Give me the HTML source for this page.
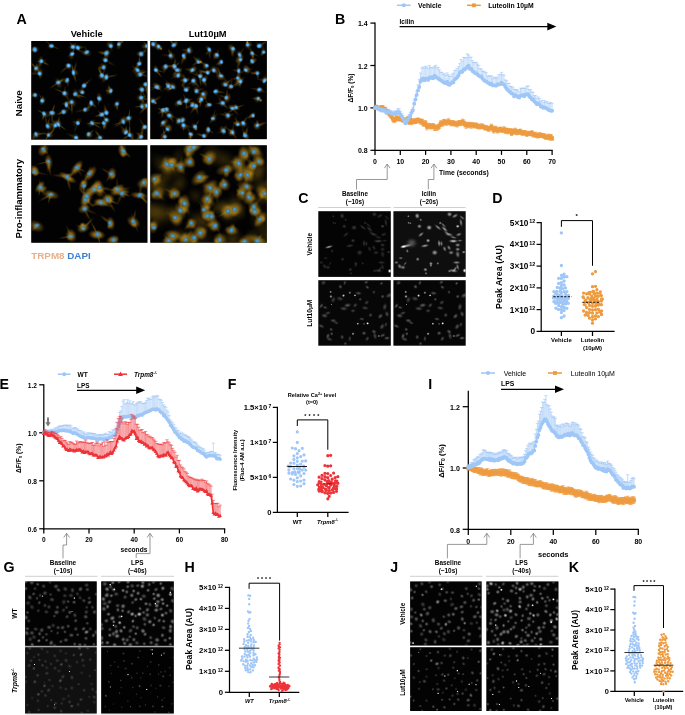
<!DOCTYPE html>
<html><head><meta charset="utf-8"><title>Figure</title>
<style>
html,body{margin:0;padding:0;background:#fff;}
body{width:685px;height:715px;overflow:hidden;}
svg{display:block;font-family:"Liberation Sans",sans-serif;will-change:transform;}
</style></head><body>
<svg width="685" height="715" viewBox="0 0 685 715">
<defs><radialGradient id="gw"><stop offset="0" stop-color="#fff" stop-opacity="1"/><stop offset="0.25" stop-color="#fff" stop-opacity="0.88"/><stop offset="0.5" stop-color="#fff" stop-opacity="0.5"/><stop offset="0.75" stop-color="#fff" stop-opacity="0.14"/><stop offset="1" stop-color="#fff" stop-opacity="0"/></radialGradient>
<radialGradient id="gn"><stop offset="0" stop-color="#86d2ff" stop-opacity="1"/><stop offset="0.35" stop-color="#52b0f4" stop-opacity="1"/><stop offset="0.6" stop-color="#3a92dc" stop-opacity="0.85"/><stop offset="0.8" stop-color="#2a74c0" stop-opacity="0.35"/><stop offset="1" stop-color="#2060a8" stop-opacity="0"/></radialGradient>
<radialGradient id="gn2"><stop offset="0" stop-color="#58a6d2" stop-opacity="1"/><stop offset="0.4" stop-color="#3c8cbe" stop-opacity="1"/><stop offset="0.65" stop-color="#347aa8" stop-opacity="0.8"/><stop offset="0.85" stop-color="#2c6890" stop-opacity="0.3"/><stop offset="1" stop-color="#285c80" stop-opacity="0"/></radialGradient>
<radialGradient id="go"><stop offset="0" stop-color="#e2a828" stop-opacity="1"/><stop offset="0.3" stop-color="#d09a24" stop-opacity="0.85"/><stop offset="0.6" stop-color="#b8861e" stop-opacity="0.5"/><stop offset="0.85" stop-color="#a07418" stop-opacity="0.15"/><stop offset="1" stop-color="#906814" stop-opacity="0"/></radialGradient>
<radialGradient id="go4"><stop offset="0" stop-color="#c4942a" stop-opacity="1"/><stop offset="0.35" stop-color="#ac801e" stop-opacity="0.85"/><stop offset="0.65" stop-color="#947015" stop-opacity="0.5"/><stop offset="0.88" stop-color="#806010" stop-opacity="0.15"/><stop offset="1" stop-color="#705410" stop-opacity="0"/></radialGradient>
<radialGradient id="go1"><stop offset="0" stop-color="#a87c18" stop-opacity="1"/><stop offset="0.4" stop-color="#94700f" stop-opacity="0.7"/><stop offset="0.75" stop-color="#80600f" stop-opacity="0.25"/><stop offset="1" stop-color="#705410" stop-opacity="0"/></radialGradient>
<clipPath id="c1"><rect x="31.2" y="41" width="116.3" height="98.7"/></clipPath>
<clipPath id="c2"><rect x="150.2" y="41" width="116.7" height="98.2"/></clipPath>
<clipPath id="c3"><rect x="31.2" y="145.2" width="116.3" height="97.6"/></clipPath>
<clipPath id="c4"><rect x="150.2" y="145.2" width="116.7" height="97.6"/></clipPath>
<clipPath id="c5"><rect x="318.3" y="211.2" width="72.5" height="65.7"/></clipPath>
<clipPath id="c6"><rect x="393.4" y="211.2" width="72.3" height="65.7"/></clipPath>
<clipPath id="c7"><rect x="318.3" y="280.2" width="72.5" height="65.5"/></clipPath>
<clipPath id="c8"><rect x="393.4" y="280.2" width="72.3" height="65.5"/></clipPath>
<clipPath id="c9"><rect x="25.1" y="581.4" width="71.6" height="64.4"/></clipPath>
<clipPath id="c10"><rect x="101.2" y="581.4" width="72.6" height="64.4"/></clipPath>
<clipPath id="c11"><rect x="25.1" y="647.3" width="71.6" height="66"/></clipPath>
<clipPath id="c12"><rect x="101.2" y="647.3" width="72.6" height="66"/></clipPath>
<clipPath id="c13"><rect x="410.1" y="581.4" width="71.6" height="64.2"/></clipPath>
<clipPath id="c14"><rect x="486.3" y="581.4" width="72.2" height="64.2"/></clipPath>
<clipPath id="c15"><rect x="410.1" y="647.2" width="71.6" height="63.8"/></clipPath>
<clipPath id="c16"><rect x="486.3" y="647.2" width="72.2" height="63.8"/></clipPath></defs>
<rect width="685" height="715" fill="#fff"/>
<text x="16.4" y="24.1" font-size="14.2" font-weight="bold" text-anchor="start" fill="#000">A</text>
<text x="86.7" y="36.8" font-size="9.3" font-weight="bold" text-anchor="middle" fill="#000">Vehicle</text>
<text x="207.6" y="36.8" font-size="9.3" font-weight="bold" text-anchor="middle" fill="#000">Lut10<tspan font-family="Liberation Serif" font-weight="bold">µ</tspan>M</text>
<text x="21.6" y="103.3" font-size="9.9" font-weight="bold" text-anchor="middle" fill="#000" transform="rotate(-90 21.6 103.3)">Naive</text>
<text x="21.9" y="198.7" font-size="9.6" font-weight="bold" text-anchor="middle" fill="#000" transform="rotate(-90 21.9 198.7)">Pro-inflammatory</text>
<text x="31.3" y="259.2" font-size="9.8" font-weight="bold"><tspan fill="#eab08a">TRPM8</tspan> <tspan fill="#3b7fd0">DAPI</tspan></text>
<rect x="31.2" y="41" width="116.3" height="98.7" fill="#020203"/>
<g clip-path="url(#c1)">
<g fill="url(#go1)"><ellipse cx="30.2" cy="50.3" rx="7.46" ry="1.54" transform="rotate(171.3 30.2 50.3)" opacity="0.28"/><ellipse cx="48.4" cy="43.2" rx="6.74" ry="1.15" transform="rotate(221.6 48.4 43.2)" opacity="0.23"/><ellipse cx="55.1" cy="47.4" rx="6.14" ry="1.18" transform="rotate(21.4 55.1 47.4)" opacity="0.3"/><ellipse cx="71.5" cy="44.8" rx="4.01" ry="1.37" transform="rotate(235.7 71.5 44.8)" opacity="0.39"/><ellipse cx="77.3" cy="49.4" rx="8.07" ry="1.24" transform="rotate(30 77.3 49.4)" opacity="0.45"/><ellipse cx="76.6" cy="47.6" rx="6.06" ry="1.5" transform="rotate(10.7 76.6 47.6)" opacity="0.26"/><ellipse cx="81.5" cy="47.3" rx="5.86" ry="1.36" transform="rotate(352.9 81.5 47.3)" opacity="0.25"/><ellipse cx="86.1" cy="49.7" rx="4.25" ry="1.03" transform="rotate(254.5 86.1 49.7)" opacity="0.36"/><ellipse cx="69.9" cy="55.3" rx="4.16" ry="1.2" transform="rotate(151.5 69.9 55.3)" opacity="0.31"/><ellipse cx="73.9" cy="49.2" rx="8.26" ry="1.28" transform="rotate(289.2 73.9 49.2)" opacity="0.49"/><ellipse cx="109.1" cy="44.6" rx="3.65" ry="1.73" transform="rotate(219.7 109.1 44.6)" opacity="0.34"/><ellipse cx="111.4" cy="48.4" rx="3.96" ry="1.56" transform="rotate(75.1 111.4 48.4)" opacity="0.23"/><ellipse cx="121.1" cy="42.8" rx="4.34" ry="1.72" transform="rotate(327 121.1 42.8)" opacity="0.3"/><ellipse cx="118.6" cy="41.4" rx="4.51" ry="1.82" transform="rotate(266.2 118.6 41.4)" opacity="0.29"/><ellipse cx="122.6" cy="40.8" rx="8.16" ry="1.53" transform="rotate(317.6 122.6 40.8)" opacity="0.35"/><ellipse cx="102.7" cy="52.7" rx="5.96" ry="1.81" transform="rotate(187.2 102.7 52.7)" opacity="0.51"/><ellipse cx="103.8" cy="53.5" rx="4.21" ry="1.58" transform="rotate(172.5 103.8 53.5)" opacity="0.41"/><ellipse cx="106.9" cy="55.5" rx="3.96" ry="1.8" transform="rotate(76.5 106.9 55.5)" opacity="0.45"/><ellipse cx="143.7" cy="51.9" rx="5.34" ry="1.85" transform="rotate(320.7 143.7 51.9)" opacity="0.42"/><ellipse cx="145.4" cy="44.3" rx="3.7" ry="1.43" transform="rotate(229 145.4 44.3)" opacity="0.44"/><ellipse cx="43.9" cy="60.6" rx="4.22" ry="1.31" transform="rotate(346.8 43.9 60.6)" opacity="0.25"/><ellipse cx="44.6" cy="62.9" rx="5.87" ry="1.75" transform="rotate(28 44.6 62.9)" opacity="0.5"/><ellipse cx="39" cy="61.2" rx="3.75" ry="1.03" transform="rotate(180 39 61.2)" opacity="0.42"/><ellipse cx="105.2" cy="56.9" rx="5.46" ry="1.51" transform="rotate(264.6 105.2 56.9)" opacity="0.36"/><ellipse cx="109.6" cy="62.7" rx="7.62" ry="1.66" transform="rotate(30.2 109.6 62.7)" opacity="0.24"/><ellipse cx="136" cy="67.5" rx="7.9" ry="1.14" transform="rotate(132.5 136 67.5)" opacity="0.41"/><ellipse cx="139.4" cy="60" rx="6.09" ry="1.31" transform="rotate(271.4 139.4 60)" opacity="0.5"/><ellipse cx="64.9" cy="68.9" rx="7.83" ry="1.52" transform="rotate(138.4 64.9 68.9)" opacity="0.32"/><ellipse cx="101.1" cy="67.8" rx="4.14" ry="1.81" transform="rotate(169.7 101.1 67.8)" opacity="0.47"/><ellipse cx="135.1" cy="68.1" rx="4.93" ry="1.6" transform="rotate(218.7 135.1 68.1)" opacity="0.31"/><ellipse cx="37.9" cy="70.6" rx="4.74" ry="1.06" transform="rotate(50.7 37.9 70.6)" opacity="0.41"/><ellipse cx="33.6" cy="65.7" rx="5.74" ry="1.58" transform="rotate(226.8 33.6 65.7)" opacity="0.46"/><ellipse cx="39.9" cy="76" rx="3.77" ry="1.68" transform="rotate(81.5 39.9 76)" opacity="0.39"/><ellipse cx="34.5" cy="73.6" rx="8.14" ry="1.87" transform="rotate(180.1 34.5 73.6)" opacity="0.27"/><ellipse cx="38.1" cy="69.1" rx="7.67" ry="1.21" transform="rotate(251.9 38.1 69.1)" opacity="0.35"/><ellipse cx="74.8" cy="68" rx="7.82" ry="1.82" transform="rotate(286.8 74.8 68)" opacity="0.36"/><ellipse cx="74.6" cy="76.8" rx="6.73" ry="1.63" transform="rotate(73.8 74.6 76.8)" opacity="0.47"/><ellipse cx="72.6" cy="68.6" rx="6.68" ry="1.2" transform="rotate(258.4 72.6 68.6)" opacity="0.49"/><ellipse cx="143.9" cy="75.4" rx="6.02" ry="1.31" transform="rotate(13.4 143.9 75.4)" opacity="0.35"/><ellipse cx="142.9" cy="73" rx="4.92" ry="1.21" transform="rotate(331.1 142.9 73)" opacity="0.48"/><ellipse cx="100.2" cy="72" rx="6.09" ry="1.39" transform="rotate(244 100.2 72)" opacity="0.48"/><ellipse cx="100.4" cy="71.7" rx="6.38" ry="1.66" transform="rotate(248.1 100.4 71.7)" opacity="0.36"/><ellipse cx="103.8" cy="72" rx="6.28" ry="1.5" transform="rotate(299.2 103.8 72)" opacity="0.28"/><ellipse cx="111.1" cy="76.2" rx="7.68" ry="1.47" transform="rotate(348.6 111.1 76.2)" opacity="0.4"/><ellipse cx="103.6" cy="76.5" rx="4.56" ry="1.45" transform="rotate(192.9 103.6 76.5)" opacity="0.4"/><ellipse cx="60.8" cy="81.4" rx="4.4" ry="1.41" transform="rotate(335.1 60.8 81.4)" opacity="0.5"/><ellipse cx="54.4" cy="85.2" rx="7.44" ry="1.23" transform="rotate(145.5 54.4 85.2)" opacity="0.37"/><ellipse cx="60.9" cy="80.6" rx="5.23" ry="1.82" transform="rotate(324.3 60.9 80.6)" opacity="0.5"/><ellipse cx="67.6" cy="83" rx="4.53" ry="1.6" transform="rotate(81.8 67.6 83)" opacity="0.32"/><ellipse cx="87.2" cy="82.7" rx="6.97" ry="1.04" transform="rotate(316.3 87.2 82.7)" opacity="0.41"/><ellipse cx="148.1" cy="81.1" rx="6.54" ry="1.22" transform="rotate(308.4 148.1 81.1)" opacity="0.44"/><ellipse cx="149.4" cy="81.6" rx="7.49" ry="1.29" transform="rotate(325 149.4 81.6)" opacity="0.32"/><ellipse cx="146.5" cy="89.2" rx="8.03" ry="1.87" transform="rotate(78.5 146.5 89.2)" opacity="0.49"/><ellipse cx="108.7" cy="92.4" rx="4.2" ry="1.6" transform="rotate(145 108.7 92.4)" opacity="0.23"/><ellipse cx="109.6" cy="88.3" rx="4.56" ry="1.79" transform="rotate(245.7 109.6 88.3)" opacity="0.51"/><ellipse cx="108.2" cy="90.8" rx="4.15" ry="1.66" transform="rotate(182 108.2 90.8)" opacity="0.37"/><ellipse cx="143.3" cy="93.1" rx="5.91" ry="1.12" transform="rotate(68.2 143.3 93.1)" opacity="0.28"/><ellipse cx="141.4" cy="92.3" rx="4.36" ry="1.59" transform="rotate(101.9 141.4 92.3)" opacity="0.4"/><ellipse cx="140.9" cy="87.2" rx="4.25" ry="1.09" transform="rotate(245.1 140.9 87.2)" opacity="0.26"/><ellipse cx="32.4" cy="95.8" rx="4.47" ry="1.65" transform="rotate(163.4 32.4 95.8)" opacity="0.35"/><ellipse cx="59.9" cy="91.1" rx="8.11" ry="1.18" transform="rotate(205.1 59.9 91.1)" opacity="0.4"/><ellipse cx="64.8" cy="89.9" rx="5.24" ry="1.26" transform="rotate(274.5 64.8 89.9)" opacity="0.26"/><ellipse cx="66.9" cy="97" rx="7.17" ry="1.81" transform="rotate(57.6 66.9 97)" opacity="0.27"/><ellipse cx="77.7" cy="96" rx="5.05" ry="1.77" transform="rotate(36.3 77.7 96)" opacity="0.52"/><ellipse cx="79.9" cy="95.6" rx="7.93" ry="1.25" transform="rotate(17.8 79.9 95.6)" opacity="0.51"/><ellipse cx="82.6" cy="88" rx="6.97" ry="1.85" transform="rotate(274.2 82.6 88)" opacity="0.23"/><ellipse cx="98.8" cy="101.5" rx="4.84" ry="1.31" transform="rotate(99.2 98.8 101.5)" opacity="0.39"/><ellipse cx="145.4" cy="98.9" rx="7.24" ry="1.81" transform="rotate(16.2 145.4 98.9)" opacity="0.27"/><ellipse cx="142.9" cy="100.9" rx="5.86" ry="1.44" transform="rotate(60.9 142.9 100.9)" opacity="0.41"/><ellipse cx="143.4" cy="96.8" rx="3.88" ry="1.38" transform="rotate(340.3 143.4 96.8)" opacity="0.38"/><ellipse cx="42.6" cy="98.4" rx="3.73" ry="1.52" transform="rotate(278.1 42.6 98.4)" opacity="0.41"/><ellipse cx="40.9" cy="97.5" rx="5.56" ry="1.06" transform="rotate(246.4 40.9 97.5)" opacity="0.32"/><ellipse cx="71.8" cy="107.3" rx="8.27" ry="1.46" transform="rotate(87.7 71.8 107.3)" opacity="0.5"/><ellipse cx="67.3" cy="103" rx="7.07" ry="1.85" transform="rotate(168.6 67.3 103)" opacity="0.47"/><ellipse cx="68.4" cy="107.4" rx="5.34" ry="1.37" transform="rotate(50.3 68.4 107.4)" opacity="0.4"/><ellipse cx="93.5" cy="104.9" rx="4.74" ry="1.78" transform="rotate(41 93.5 104.9)" opacity="0.46"/><ellipse cx="117.1" cy="106.7" rx="4.51" ry="1.85" transform="rotate(89.6 117.1 106.7)" opacity="0.5"/><ellipse cx="142.1" cy="103.5" rx="4.94" ry="1.8" transform="rotate(272.1 142.1 103.5)" opacity="0.27"/><ellipse cx="144.9" cy="106.2" rx="4.73" ry="1.43" transform="rotate(353.3 144.9 106.2)" opacity="0.33"/><ellipse cx="138.7" cy="106.7" rx="5.22" ry="1.13" transform="rotate(178 138.7 106.7)" opacity="0.48"/><ellipse cx="143.8" cy="109.1" rx="7.49" ry="1.58" transform="rotate(132.8 143.8 109.1)" opacity="0.52"/><ellipse cx="143.9" cy="104.7" rx="5.16" ry="1.65" transform="rotate(197.5 143.9 104.7)" opacity="0.5"/><ellipse cx="80.4" cy="110.7" rx="7.51" ry="1.72" transform="rotate(166.9 80.4 110.7)" opacity="0.23"/><ellipse cx="87.7" cy="107.9" rx="5.09" ry="1.53" transform="rotate(327.8 87.7 107.9)" opacity="0.43"/><ellipse cx="60.6" cy="113.1" rx="5.15" ry="1.53" transform="rotate(158.8 60.6 113.1)" opacity="0.49"/><ellipse cx="52.1" cy="117.7" rx="7.89" ry="1.33" transform="rotate(89.4 52.1 117.7)" opacity="0.33"/><ellipse cx="49.4" cy="114.8" rx="5.34" ry="1.35" transform="rotate(142.4 49.4 114.8)" opacity="0.28"/><ellipse cx="53.2" cy="109" rx="6.31" ry="1.48" transform="rotate(286.9 53.2 109)" opacity="0.47"/><ellipse cx="43.3" cy="116.3" rx="4.36" ry="1.04" transform="rotate(106.5 43.3 116.3)" opacity="0.47"/><ellipse cx="41" cy="112" rx="5.63" ry="1.28" transform="rotate(209.5 41 112)" opacity="0.39"/><ellipse cx="43.5" cy="116.9" rx="5.21" ry="1.11" transform="rotate(98.5 43.5 116.9)" opacity="0.32"/><ellipse cx="98.8" cy="115.4" rx="5.22" ry="1.32" transform="rotate(165.3 98.8 115.4)" opacity="0.46"/><ellipse cx="104" cy="117" rx="5.2" ry="1.43" transform="rotate(49.2 104 117)" opacity="0.46"/><ellipse cx="100.1" cy="112.9" rx="3.95" ry="1.06" transform="rotate(222.5 100.1 112.9)" opacity="0.45"/><ellipse cx="105.4" cy="109.1" rx="6.11" ry="1.7" transform="rotate(255.6 105.4 109.1)" opacity="0.35"/><ellipse cx="105.8" cy="123.7" rx="6.14" ry="1.77" transform="rotate(98.7 105.8 123.7)" opacity="0.37"/><ellipse cx="104.9" cy="124.1" rx="7.11" ry="1.15" transform="rotate(109.3 104.9 124.1)" opacity="0.5"/><ellipse cx="104" cy="126" rx="4.64" ry="1.63" transform="rotate(84.7 104 126)" opacity="0.4"/><ellipse cx="104.9" cy="125.8" rx="4.68" ry="1.26" transform="rotate(66.6 104.9 125.8)" opacity="0.28"/><ellipse cx="129.2" cy="114" rx="6.77" ry="1.1" transform="rotate(277.8 129.2 114)" opacity="0.48"/><ellipse cx="129.3" cy="121.5" rx="5.52" ry="1.13" transform="rotate(78.3 129.3 121.5)" opacity="0.46"/><ellipse cx="118.6" cy="123.2" rx="7.95" ry="1.23" transform="rotate(162 118.6 123.2)" opacity="0.35"/><ellipse cx="119.1" cy="124.2" rx="7.8" ry="1.68" transform="rotate(149.7 119.1 124.2)" opacity="0.27"/><ellipse cx="96.7" cy="123.2" rx="7.3" ry="1.72" transform="rotate(0.49 96.7 123.2)" opacity="0.48"/><ellipse cx="96.2" cy="125.5" rx="7.55" ry="1.25" transform="rotate(29.7 96.2 125.5)" opacity="0.44"/><ellipse cx="89.6" cy="123.4" rx="4.07" ry="1.42" transform="rotate(172.8 89.6 123.4)" opacity="0.51"/><ellipse cx="75.1" cy="122.4" rx="4.6" ry="1.47" transform="rotate(195.6 75.1 122.4)" opacity="0.27"/><ellipse cx="76.1" cy="127.5" rx="7.59" ry="1.28" transform="rotate(112.1 76.1 127.5)" opacity="0.25"/><ellipse cx="48.6" cy="121.8" rx="7.18" ry="1.12" transform="rotate(282.4 48.6 121.8)" opacity="0.36"/><ellipse cx="46.4" cy="121.5" rx="7.75" ry="1.42" transform="rotate(256.2 46.4 121.5)" opacity="0.31"/><ellipse cx="52.3" cy="124.4" rx="5.4" ry="1.27" transform="rotate(194.3 52.3 124.4)" opacity="0.33"/><ellipse cx="53.9" cy="122.3" rx="5.48" ry="1.24" transform="rotate(240 53.9 122.3)" opacity="0.29"/><ellipse cx="53.5" cy="129.2" rx="7.11" ry="1.82" transform="rotate(118.6 53.5 129.2)" opacity="0.39"/><ellipse cx="59.3" cy="127" rx="4.46" ry="1.05" transform="rotate(69.5 59.3 127)" opacity="0.36"/><ellipse cx="61.8" cy="126.9" rx="6.98" ry="1.05" transform="rotate(36.2 61.8 126.9)" opacity="0.52"/><ellipse cx="58.7" cy="120.9" rx="5.68" ry="1.31" transform="rotate(277.6 58.7 120.9)" opacity="0.47"/><ellipse cx="142.8" cy="128.4" rx="3.67" ry="1.61" transform="rotate(144.3 142.8 128.4)" opacity="0.51"/><ellipse cx="142.2" cy="123.1" rx="7.39" ry="1.54" transform="rotate(237.7 142.2 123.1)" opacity="0.23"/><ellipse cx="142.9" cy="129.8" rx="5.19" ry="1.57" transform="rotate(123.2 142.9 129.8)" opacity="0.26"/><ellipse cx="33.7" cy="137.3" rx="6.23" ry="1.45" transform="rotate(126.9 33.7 137.3)" opacity="0.27"/><ellipse cx="40.4" cy="133.8" rx="7.02" ry="1.46" transform="rotate(355.2 40.4 133.8)" opacity="0.44"/><ellipse cx="46.7" cy="138.1" rx="5.6" ry="1.1" transform="rotate(120.1 46.7 138.1)" opacity="0.48"/><ellipse cx="50.7" cy="133" rx="4.88" ry="1.4" transform="rotate(317.9 50.7 133)" opacity="0.44"/><ellipse cx="45.8" cy="133.8" rx="4.75" ry="1.48" transform="rotate(205 45.8 133.8)" opacity="0.25"/><ellipse cx="91" cy="132.3" rx="4.99" ry="1.22" transform="rotate(322.9 91 132.3)" opacity="0.4"/><ellipse cx="126.1" cy="129.7" rx="4.26" ry="1.74" transform="rotate(272.2 126.1 129.7)" opacity="0.49"/><ellipse cx="123.3" cy="129.2" rx="6.55" ry="1.67" transform="rotate(230.5 123.3 129.2)" opacity="0.27"/><ellipse cx="129.4" cy="133.1" rx="5.58" ry="1.47" transform="rotate(11.9 129.4 133.1)" opacity="0.26"/><ellipse cx="132.1" cy="138.4" rx="6.82" ry="1.84" transform="rotate(52.1 132.1 138.4)" opacity="0.4"/><ellipse cx="126.4" cy="137" rx="5.86" ry="1.55" transform="rotate(148.1 126.4 137)" opacity="0.43"/><ellipse cx="129.6" cy="130.5" rx="7.24" ry="1.43" transform="rotate(270.6 129.6 130.5)" opacity="0.52"/><ellipse cx="137.7" cy="138.7" rx="6.1" ry="1.04" transform="rotate(151.3 137.7 138.7)" opacity="0.49"/><ellipse cx="138.8" cy="134.7" rx="5.02" ry="1.39" transform="rotate(221.8 138.8 134.7)" opacity="0.34"/><ellipse cx="141.9" cy="133.7" rx="5.15" ry="1.77" transform="rotate(284.2 141.9 133.7)" opacity="0.48"/><ellipse cx="98" cy="134.5" rx="6.22" ry="1.82" transform="rotate(236.5 98 134.5)" opacity="0.48"/><ellipse cx="72" cy="135.9" rx="7.18" ry="1.79" transform="rotate(204 72 135.9)" opacity="0.26"/><ellipse cx="79.4" cy="141" rx="7.4" ry="1.48" transform="rotate(44.6 79.4 141)" opacity="0.51"/><ellipse cx="76.2" cy="140" rx="3.6" ry="1.27" transform="rotate(87.8 76.2 140)" opacity="0.32"/><ellipse cx="34.7" cy="49.6" rx="5.12" ry="3.92" transform="rotate(166.4 34.8 49.6)" opacity="0.54"/><ellipse cx="51.8" cy="46.2" rx="4.38" ry="3.88" transform="rotate(160.3 51.5 46)" opacity="0.49"/><ellipse cx="72.9" cy="47.2" rx="5.15" ry="3.69" transform="rotate(151.6 72.9 46.9)" opacity="0.52"/><ellipse cx="78.2" cy="47.2" rx="4.74" ry="2.98" transform="rotate(3.04 77.9 47.8)" opacity="0.63"/><ellipse cx="86.4" cy="53.2" rx="5.9" ry="3.37" transform="rotate(15.7 86.8 52.2)" opacity="0.59"/><ellipse cx="73.1" cy="54.6" rx="5.67" ry="3.21" transform="rotate(91.6 72.2 54)" opacity="0.5"/><ellipse cx="110" cy="47" rx="4.98" ry="4.48" transform="rotate(115.5 110.8 46)" opacity="0.45"/><ellipse cx="119.5" cy="43.5" rx="5.53" ry="3.1" transform="rotate(105.7 118.8 44.2)" opacity="0.49"/><ellipse cx="106.8" cy="52.7" rx="4.14" ry="4.69" transform="rotate(42.9 106.4 53.1)" opacity="0.6"/><ellipse cx="140.7" cy="54.1" rx="5.03" ry="3.33" transform="rotate(8.39 141.1 54)" opacity="0.64"/><ellipse cx="146" cy="46.8" rx="5.44" ry="3.12" transform="rotate(6.31 147 46)" opacity="0.57"/><ellipse cx="41.8" cy="62" rx="6.42" ry="3" transform="rotate(98.3 41.4 61.2)" opacity="0.58"/><ellipse cx="104.7" cy="59.8" rx="4.08" ry="2.99" transform="rotate(16.3 105.5 60.3)" opacity="0.5"/><ellipse cx="139.3" cy="64.1" rx="5.19" ry="3.29" transform="rotate(125.7 139.3 63.8)" opacity="0.63"/><ellipse cx="68.9" cy="66.2" rx="4.62" ry="3.63" transform="rotate(45.1 68.6 65.6)" opacity="0.59"/><ellipse cx="104.1" cy="68.3" rx="5.23" ry="4.45" transform="rotate(152.8 103.7 67.4)" opacity="0.46"/><ellipse cx="138.2" cy="70.3" rx="5.28" ry="4.14" transform="rotate(128.9 137.5 70.1)" opacity="0.47"/><ellipse cx="35.8" cy="67.7" rx="5.59" ry="3.93" transform="rotate(115.4 36 68.3)" opacity="0.59"/><ellipse cx="38.9" cy="72.6" rx="5.68" ry="3.24" transform="rotate(85.5 39.6 73.6)" opacity="0.51"/><ellipse cx="74.2" cy="71.7" rx="4.97" ry="3.71" transform="rotate(35.4 73.4 72.7)" opacity="0.53"/><ellipse cx="139.8" cy="75.3" rx="6.37" ry="3.88" transform="rotate(142.3 140.2 74.5)" opacity="0.61"/><ellipse cx="102.7" cy="75.3" rx="4.13" ry="3.87" transform="rotate(123.6 101.9 75.4)" opacity="0.65"/><ellipse cx="107.3" cy="77.9" rx="6.21" ry="3.34" transform="rotate(120.8 106.4 77.2)" opacity="0.55"/><ellipse cx="58.9" cy="82.6" rx="6.35" ry="3.84" transform="rotate(72.1 58.3 82.5)" opacity="0.52"/><ellipse cx="66.7" cy="80.6" rx="4.3" ry="3.65" transform="rotate(5.29 67.2 80.2)" opacity="0.64"/><ellipse cx="83.3" cy="85.8" rx="5.52" ry="3.06" transform="rotate(131.6 84.1 85.7)" opacity="0.46"/><ellipse cx="145.6" cy="83.7" rx="5.51" ry="3.88" transform="rotate(155.5 145.5 84.3)" opacity="0.45"/><ellipse cx="110" cy="91.6" rx="4.62" ry="4.24" transform="rotate(46.7 110.8 90.9)" opacity="0.5"/><ellipse cx="141.1" cy="89.8" rx="4.5" ry="2.99" transform="rotate(19.1 142 89.6)" opacity="0.52"/><ellipse cx="34.9" cy="95.3" rx="5.06" ry="3.53" transform="rotate(37.8 35.1 95)" opacity="0.4"/><ellipse cx="65.3" cy="93.8" rx="4.44" ry="3.83" transform="rotate(2.78 64.5 93.2)" opacity="0.57"/><ellipse cx="74.6" cy="93.5" rx="5.33" ry="3.56" transform="rotate(77.7 75.2 94.1)" opacity="0.44"/><ellipse cx="81.5" cy="92.3" rx="4.56" ry="3.63" transform="rotate(32.8 82.3 92.3)" opacity="0.52"/><ellipse cx="98.3" cy="97.9" rx="5.8" ry="3.34" transform="rotate(72.3 99.2 98.6)" opacity="0.49"/><ellipse cx="141" cy="98" rx="5.29" ry="4.47" transform="rotate(17.9 141.1 97.7)" opacity="0.53"/><ellipse cx="42.4" cy="100.3" rx="4.92" ry="3.4" transform="rotate(117.9 42.2 100.7)" opacity="0.58"/><ellipse cx="72.2" cy="101.6" rx="5.43" ry="4.23" transform="rotate(57.5 71.6 102.1)" opacity="0.58"/><ellipse cx="65.7" cy="103.9" rx="4.32" ry="4.04" transform="rotate(82 66.3 104.8)" opacity="0.53"/><ellipse cx="91.9" cy="102.3" rx="5.67" ry="3.55" transform="rotate(133.9 91.2 103)" opacity="0.47"/><ellipse cx="117.2" cy="104.1" rx="4.9" ry="3.37" transform="rotate(123.3 117 103.9)" opacity="0.55"/><ellipse cx="141.8" cy="106.8" rx="4.14" ry="2.97" transform="rotate(48.8 142 106.6)" opacity="0.42"/><ellipse cx="147.5" cy="105.6" rx="5.11" ry="4.42" transform="rotate(150.8 147 105.7)" opacity="0.58"/><ellipse cx="84.1" cy="108.8" rx="4.92" ry="3.04" transform="rotate(157.5 85 109.6)" opacity="0.54"/><ellipse cx="63.1" cy="112.2" rx="5.86" ry="3.48" transform="rotate(158.7 63.6 111.9)" opacity="0.48"/><ellipse cx="52" cy="112.2" rx="4.71" ry="3.87" transform="rotate(178.6 52 112.8)" opacity="0.64"/><ellipse cx="43.6" cy="112.7" rx="4.47" ry="4.3" transform="rotate(158.6 44 113.7)" opacity="0.52"/><ellipse cx="101.8" cy="115" rx="5.6" ry="3.04" transform="rotate(146.9 101.9 114.6)" opacity="0.52"/><ellipse cx="105.5" cy="112.7" rx="4.88" ry="2.86" transform="rotate(68 106.4 112.8)" opacity="0.53"/><ellipse cx="106.1" cy="119.3" rx="4.39" ry="4.27" transform="rotate(178.4 106.4 119.9)" opacity="0.44"/><ellipse cx="104.3" cy="122.8" rx="5.84" ry="2.89" transform="rotate(86.6 103.7 123.1)" opacity="0.44"/><ellipse cx="128.6" cy="117.7" rx="4.79" ry="3.9" transform="rotate(147.1 128.6 118.1)" opacity="0.62"/><ellipse cx="122.4" cy="122.6" rx="5.94" ry="4.33" transform="rotate(141.8 123.3 121.7)" opacity="0.62"/><ellipse cx="92.4" cy="123.2" rx="5.97" ry="3.11" transform="rotate(133.5 92.1 123.1)" opacity="0.4"/><ellipse cx="77.7" cy="124" rx="6.09" ry="3.43" transform="rotate(142.1 77.9 123.1)" opacity="0.41"/><ellipse cx="48" cy="125.4" rx="5.16" ry="4.22" transform="rotate(64.7 47.6 126.2)" opacity="0.49"/><ellipse cx="56" cy="126.1" rx="5.88" ry="4.49" transform="rotate(152 55.6 125.3)" opacity="0.43"/><ellipse cx="57.6" cy="123.6" rx="4.84" ry="4.43" transform="rotate(16.6 58.3 124.4)" opacity="0.57"/><ellipse cx="145" cy="127" rx="4.38" ry="3.25" transform="rotate(26.6 144.7 127)" opacity="0.63"/><ellipse cx="36.2" cy="133.5" rx="5.26" ry="4.36" transform="rotate(148.5 36 134.2)" opacity="0.59"/><ellipse cx="47.9" cy="134.2" rx="4.52" ry="4.66" transform="rotate(112.9 48.5 135.1)" opacity="0.45"/><ellipse cx="88.2" cy="133.5" rx="4.45" ry="4.28" transform="rotate(161.5 88.6 134.2)" opacity="0.63"/><ellipse cx="125" cy="131.8" rx="4.49" ry="3.9" transform="rotate(13.7 126 132.4)" opacity="0.65"/><ellipse cx="130.4" cy="134.2" rx="4.85" ry="3.11" transform="rotate(43.9 129.5 135.1)" opacity="0.59"/><ellipse cx="141.2" cy="137.7" rx="6.08" ry="3.63" transform="rotate(78.1 141.1 136.8)" opacity="0.53"/><ellipse cx="101.1" cy="137.7" rx="6.06" ry="3.32" transform="rotate(157.1 100.1 137.7)" opacity="0.42"/><ellipse cx="76.2" cy="137.9" rx="5.79" ry="4.52" transform="rotate(66.4 76.1 137.7)" opacity="0.43"/></g>
<g fill="url(#gn)"><ellipse cx="34.8" cy="49.6" rx="3.61" ry="2.99" transform="rotate(71.5 34.8 49.6)" opacity="0.88"/><ellipse cx="51.5" cy="46" rx="3.29" ry="2.41" transform="rotate(5.6 51.5 46)" opacity="0.98"/><ellipse cx="72.9" cy="46.9" rx="3" ry="2.75" transform="rotate(168.1 72.9 46.9)" opacity="1"/><ellipse cx="77.9" cy="47.8" rx="3.17" ry="2.53" transform="rotate(53.2 77.9 47.8)" opacity="0.99"/><ellipse cx="86.8" cy="52.2" rx="3.61" ry="2.53" transform="rotate(150.8 86.8 52.2)" opacity="0.88"/><ellipse cx="72.2" cy="54" rx="3.17" ry="2.51" transform="rotate(158.3 72.2 54)" opacity="1"/><ellipse cx="110.8" cy="46" rx="2.89" ry="2.85" transform="rotate(34.5 110.8 46)" opacity="0.98"/><ellipse cx="118.8" cy="44.2" rx="2.73" ry="2.46" transform="rotate(130.6 118.8 44.2)" opacity="0.88"/><ellipse cx="106.4" cy="53.1" rx="3.61" ry="3.03" transform="rotate(128.4 106.4 53.1)" opacity="0.84"/><ellipse cx="141.1" cy="54" rx="3.4" ry="3.08" transform="rotate(80.1 141.1 54)" opacity="0.83"/><ellipse cx="147" cy="46" rx="2.91" ry="2.61" transform="rotate(127.9 147 46)" opacity="0.86"/><ellipse cx="41.4" cy="61.2" rx="2.87" ry="2.56" transform="rotate(119.6 41.4 61.2)" opacity="0.96"/><ellipse cx="105.5" cy="60.3" rx="3.07" ry="2.87" transform="rotate(159.2 105.5 60.3)" opacity="0.93"/><ellipse cx="139.3" cy="63.8" rx="2.92" ry="2.6" transform="rotate(166.8 139.3 63.8)" opacity="0.94"/><ellipse cx="68.6" cy="65.6" rx="2.97" ry="2.86" transform="rotate(16.2 68.6 65.6)" opacity="1"/><ellipse cx="103.7" cy="67.4" rx="3.14" ry="2.77" transform="rotate(95.5 103.7 67.4)" opacity="0.83"/><ellipse cx="137.5" cy="70.1" rx="3.3" ry="2.59" transform="rotate(45.2 137.5 70.1)" opacity="0.96"/><ellipse cx="36" cy="68.3" rx="2.77" ry="2.59" transform="rotate(136 36 68.3)" opacity="0.86"/><ellipse cx="39.6" cy="73.6" rx="2.97" ry="2.79" transform="rotate(33.5 39.6 73.6)" opacity="0.98"/><ellipse cx="73.4" cy="72.7" rx="3.71" ry="2.4" transform="rotate(83.1 73.4 72.7)" opacity="0.96"/><ellipse cx="140.2" cy="74.5" rx="3.08" ry="3.07" transform="rotate(90 140.2 74.5)" opacity="0.85"/><ellipse cx="101.9" cy="75.4" rx="3.26" ry="2.86" transform="rotate(64.7 101.9 75.4)" opacity="0.94"/><ellipse cx="106.4" cy="77.2" rx="3.49" ry="2.76" transform="rotate(91 106.4 77.2)" opacity="0.97"/><ellipse cx="58.3" cy="82.5" rx="3.39" ry="2.77" transform="rotate(171.3 58.3 82.5)" opacity="0.85"/><ellipse cx="67.2" cy="80.2" rx="3.49" ry="2.5" transform="rotate(109.5 67.2 80.2)" opacity="0.86"/><ellipse cx="84.1" cy="85.7" rx="3.14" ry="2.95" transform="rotate(141.6 84.1 85.7)" opacity="0.96"/><ellipse cx="145.5" cy="84.3" rx="2.92" ry="2.74" transform="rotate(39.8 145.5 84.3)" opacity="0.92"/><ellipse cx="110.8" cy="90.9" rx="3.2" ry="2.41" transform="rotate(107.4 110.8 90.9)" opacity="0.95"/><ellipse cx="142" cy="89.6" rx="3.27" ry="3.03" transform="rotate(32.4 142 89.6)" opacity="0.85"/><ellipse cx="35.1" cy="95" rx="2.7" ry="2.75" transform="rotate(78.2 35.1 95)" opacity="0.9"/><ellipse cx="64.5" cy="93.2" rx="2.95" ry="2.97" transform="rotate(13.1 64.5 93.2)" opacity="0.98"/><ellipse cx="75.2" cy="94.1" rx="3.27" ry="2.78" transform="rotate(142.5 75.2 94.1)" opacity="0.86"/><ellipse cx="82.3" cy="92.3" rx="2.83" ry="2.61" transform="rotate(7.62 82.3 92.3)" opacity="0.88"/><ellipse cx="99.2" cy="98.6" rx="3.32" ry="2.77" transform="rotate(47.7 99.2 98.6)" opacity="0.93"/><ellipse cx="141.1" cy="97.7" rx="2.77" ry="2.99" transform="rotate(30.9 141.1 97.7)" opacity="0.87"/><ellipse cx="42.2" cy="100.7" rx="2.84" ry="2.89" transform="rotate(149.6 42.2 100.7)" opacity="0.96"/><ellipse cx="71.6" cy="102.1" rx="2.74" ry="2.69" transform="rotate(65.6 71.6 102.1)" opacity="0.86"/><ellipse cx="66.3" cy="104.8" rx="3.69" ry="2.41" transform="rotate(88.1 66.3 104.8)" opacity="0.96"/><ellipse cx="91.2" cy="103" rx="3.7" ry="2.49" transform="rotate(82 91.2 103)" opacity="0.95"/><ellipse cx="117" cy="103.9" rx="2.72" ry="2.56" transform="rotate(160.2 117 103.9)" opacity="0.85"/><ellipse cx="142" cy="106.6" rx="3.09" ry="2.6" transform="rotate(76.4 142 106.6)" opacity="0.83"/><ellipse cx="147" cy="105.7" rx="2.71" ry="3.12" transform="rotate(137.4 147 105.7)" opacity="0.95"/><ellipse cx="85" cy="109.6" rx="2.92" ry="2.57" transform="rotate(99.3 85 109.6)" opacity="0.86"/><ellipse cx="63.6" cy="111.9" rx="3.16" ry="3.07" transform="rotate(65.5 63.6 111.9)" opacity="0.88"/><ellipse cx="52" cy="112.8" rx="3.7" ry="2.83" transform="rotate(7.14 52 112.8)" opacity="0.89"/><ellipse cx="44" cy="113.7" rx="3.35" ry="2.42" transform="rotate(61.8 44 113.7)" opacity="0.95"/><ellipse cx="101.9" cy="114.6" rx="3.58" ry="2.82" transform="rotate(159.5 101.9 114.6)" opacity="0.9"/><ellipse cx="106.4" cy="112.8" rx="3.09" ry="3.01" transform="rotate(68.6 106.4 112.8)" opacity="0.96"/><ellipse cx="106.4" cy="119.9" rx="2.9" ry="2.64" transform="rotate(33 106.4 119.9)" opacity="0.92"/><ellipse cx="103.7" cy="123.1" rx="2.85" ry="2.53" transform="rotate(38.6 103.7 123.1)" opacity="0.9"/><ellipse cx="128.6" cy="118.1" rx="3" ry="2.71" transform="rotate(178.8 128.6 118.1)" opacity="0.94"/><ellipse cx="123.3" cy="121.7" rx="3.58" ry="2.53" transform="rotate(68.9 123.3 121.7)" opacity="0.83"/><ellipse cx="92.1" cy="123.1" rx="3.4" ry="2.65" transform="rotate(49.4 92.1 123.1)" opacity="0.82"/><ellipse cx="77.9" cy="123.1" rx="2.87" ry="2.58" transform="rotate(70.7 77.9 123.1)" opacity="0.99"/><ellipse cx="47.6" cy="126.2" rx="3.42" ry="2.58" transform="rotate(65 47.6 126.2)" opacity="0.85"/><ellipse cx="55.6" cy="125.3" rx="3.65" ry="2.65" transform="rotate(137.8 55.6 125.3)" opacity="0.95"/><ellipse cx="58.3" cy="124.4" rx="3.62" ry="2.4" transform="rotate(58 58.3 124.4)" opacity="0.89"/><ellipse cx="144.7" cy="127" rx="2.76" ry="3.04" transform="rotate(58.5 144.7 127)" opacity="0.96"/><ellipse cx="36" cy="134.2" rx="3.22" ry="2.42" transform="rotate(70.9 36 134.2)" opacity="0.86"/><ellipse cx="48.5" cy="135.1" rx="2.72" ry="2.49" transform="rotate(107.2 48.5 135.1)" opacity="0.83"/><ellipse cx="88.6" cy="134.2" rx="3" ry="2.7" transform="rotate(97.9 88.6 134.2)" opacity="0.84"/><ellipse cx="126" cy="132.4" rx="3.41" ry="2.57" transform="rotate(130.6 126 132.4)" opacity="0.94"/><ellipse cx="129.5" cy="135.1" rx="2.83" ry="2.53" transform="rotate(50.5 129.5 135.1)" opacity="0.95"/><ellipse cx="141.1" cy="136.8" rx="3.1" ry="2.67" transform="rotate(155.9 141.1 136.8)" opacity="0.86"/><ellipse cx="100.1" cy="137.7" rx="2.98" ry="2.64" transform="rotate(38.8 100.1 137.7)" opacity="0.83"/><ellipse cx="76.1" cy="137.7" rx="2.7" ry="2.85" transform="rotate(101.9 76.1 137.7)" opacity="0.97"/></g>
</g>
<rect x="150.2" y="41" width="116.7" height="98.2" fill="#020203"/>
<g clip-path="url(#c2)">
<g fill="url(#go)"><ellipse cx="149.7" cy="45.1" rx="5.92" ry="1.9" transform="rotate(165.7 149.7 45.1)" opacity="0.17"/><ellipse cx="151.6" cy="42.6" rx="3.61" ry="2.02" transform="rotate(224.7 151.6 42.6)" opacity="0.2"/><ellipse cx="160.7" cy="47.4" rx="3.67" ry="1.95" transform="rotate(21.9 160.7 47.4)" opacity="0.22"/><ellipse cx="171.9" cy="42" rx="5.79" ry="1.5" transform="rotate(240.5 171.9 42)" opacity="0.24"/><ellipse cx="171.5" cy="42.4" rx="5.55" ry="1.1" transform="rotate(230.7 171.5 42.4)" opacity="0.17"/><ellipse cx="185.8" cy="50.2" rx="4.91" ry="1.85" transform="rotate(184.1 185.8 50.2)" opacity="0.22"/><ellipse cx="189.9" cy="48.4" rx="3.7" ry="1.46" transform="rotate(296.1 189.9 48.4)" opacity="0.22"/><ellipse cx="207.7" cy="52.2" rx="4.93" ry="1.48" transform="rotate(122.3 207.7 52.2)" opacity="0.26"/><ellipse cx="209.6" cy="53.7" rx="6.68" ry="2.03" transform="rotate(86.4 209.6 53.7)" opacity="0.22"/><ellipse cx="217.6" cy="52.4" rx="4.25" ry="1.53" transform="rotate(286.2 217.6 52.4)" opacity="0.18"/><ellipse cx="215.2" cy="56.8" rx="4.02" ry="1.58" transform="rotate(129.9 215.2 56.8)" opacity="0.16"/><ellipse cx="232.7" cy="52.3" rx="5.86" ry="1.99" transform="rotate(94.6 232.7 52.3)" opacity="0.29"/><ellipse cx="232.3" cy="51.2" rx="4.18" ry="1.91" transform="rotate(104.9 232.3 51.2)" opacity="0.18"/><ellipse cx="249.8" cy="45.2" rx="3.61" ry="1.59" transform="rotate(9.81 249.8 45.2)" opacity="0.18"/><ellipse cx="248.4" cy="47.2" rx="4.1" ry="1.5" transform="rotate(72.1 248.4 47.2)" opacity="0.14"/><ellipse cx="246.9" cy="41.3" rx="5.65" ry="1.98" transform="rotate(258.8 246.9 41.3)" opacity="0.18"/><ellipse cx="262.8" cy="43.7" rx="6.83" ry="1.57" transform="rotate(327.8 262.8 43.7)" opacity="0.27"/><ellipse cx="252.9" cy="56.7" rx="5.8" ry="1.63" transform="rotate(76.3 252.9 56.7)" opacity="0.25"/><ellipse cx="255.3" cy="54.7" rx="5.69" ry="1.38" transform="rotate(25.8 255.3 54.7)" opacity="0.15"/><ellipse cx="250.9" cy="50.4" rx="4.8" ry="1.76" transform="rotate(247.2 250.9 50.4)" opacity="0.19"/><ellipse cx="262.2" cy="54" rx="3.63" ry="1.31" transform="rotate(129.7 262.2 54)" opacity="0.17"/><ellipse cx="169.6" cy="52.6" rx="5.4" ry="1.49" transform="rotate(254.2 169.6 52.6)" opacity="0.27"/><ellipse cx="170.8" cy="53.5" rx="3.78" ry="1.44" transform="rotate(278 170.8 53.5)" opacity="0.26"/><ellipse cx="166.5" cy="55.3" rx="6.45" ry="1.47" transform="rotate(187.7 166.5 55.3)" opacity="0.14"/><ellipse cx="182.6" cy="59.8" rx="6.49" ry="1.97" transform="rotate(102.8 182.6 59.8)" opacity="0.24"/><ellipse cx="185.7" cy="53.6" rx="5" ry="1.94" transform="rotate(314.3 185.7 53.6)" opacity="0.19"/><ellipse cx="241.7" cy="51.5" rx="6.44" ry="1.13" transform="rotate(300.9 241.7 51.5)" opacity="0.18"/><ellipse cx="238.9" cy="63.6" rx="6.69" ry="1.91" transform="rotate(112 238.9 63.6)" opacity="0.26"/><ellipse cx="252.7" cy="56.7" rx="7.13" ry="1.58" transform="rotate(278.5 252.7 56.7)" opacity="0.14"/><ellipse cx="196.1" cy="59.5" rx="5.42" ry="1.5" transform="rotate(228.8 196.1 59.5)" opacity="0.24"/><ellipse cx="195.6" cy="63.6" rx="5" ry="1.55" transform="rotate(149.4 195.6 63.6)" opacity="0.26"/><ellipse cx="219" cy="63.3" rx="4.43" ry="1.84" transform="rotate(152.3 219 63.3)" opacity="0.28"/><ellipse cx="203.6" cy="63.7" rx="5.74" ry="1.84" transform="rotate(211.3 203.6 63.7)" opacity="0.24"/><ellipse cx="170.1" cy="66.1" rx="7.03" ry="1.8" transform="rotate(355.2 170.1 66.1)" opacity="0.3"/><ellipse cx="164.8" cy="69.4" rx="4.9" ry="1.96" transform="rotate(107.3 164.8 69.4)" opacity="0.24"/><ellipse cx="174.9" cy="62.9" rx="5.74" ry="1.92" transform="rotate(275.5 174.9 62.9)" opacity="0.28"/><ellipse cx="176.9" cy="64.6" rx="4.83" ry="1.67" transform="rotate(320.2 176.9 64.6)" opacity="0.24"/><ellipse cx="174.4" cy="68.1" rx="5.57" ry="1.61" transform="rotate(214.5 174.4 68.1)" opacity="0.2"/><ellipse cx="175.5" cy="72.4" rx="4.72" ry="2.04" transform="rotate(127.7 175.5 72.4)" opacity="0.19"/><ellipse cx="158.5" cy="73.3" rx="6.69" ry="1.36" transform="rotate(51.1 158.5 73.3)" opacity="0.31"/><ellipse cx="159.5" cy="71" rx="5.91" ry="1.36" transform="rotate(15.4 159.5 71)" opacity="0.23"/><ellipse cx="216.3" cy="71.5" rx="4.42" ry="1.72" transform="rotate(24.2 216.3 71.5)" opacity="0.17"/><ellipse cx="215.8" cy="72.4" rx="4.59" ry="1.24" transform="rotate(43.9 215.8 72.4)" opacity="0.17"/><ellipse cx="236" cy="70.5" rx="4.46" ry="1.76" transform="rotate(189.4 236 70.5)" opacity="0.22"/><ellipse cx="248.9" cy="69.4" rx="5.01" ry="1.94" transform="rotate(348.2 248.9 69.4)" opacity="0.16"/><ellipse cx="242.2" cy="72" rx="6.61" ry="1.34" transform="rotate(151.5 242.2 72)" opacity="0.18"/><ellipse cx="254.3" cy="73.5" rx="4.97" ry="1.63" transform="rotate(176.5 254.3 73.5)" opacity="0.3"/><ellipse cx="257.8" cy="75.8" rx="4.13" ry="1.9" transform="rotate(82.1 257.8 75.8)" opacity="0.29"/><ellipse cx="253.1" cy="72.5" rx="6.95" ry="1.39" transform="rotate(190.2 253.1 72.5)" opacity="0.17"/><ellipse cx="189.1" cy="69.6" rx="5.36" ry="2" transform="rotate(187.1 189.1 69.6)" opacity="0.23"/><ellipse cx="203.3" cy="72.1" rx="6.91" ry="1.59" transform="rotate(187.9 203.3 72.1)" opacity="0.28"/><ellipse cx="203.5" cy="71.4" rx="6.83" ry="1.57" transform="rotate(197.9 203.5 71.4)" opacity="0.28"/><ellipse cx="210.1" cy="70.9" rx="4.94" ry="1.04" transform="rotate(324.1 210.1 70.9)" opacity="0.27"/><ellipse cx="219.9" cy="73.7" rx="3.89" ry="1.07" transform="rotate(244.7 219.9 73.7)" opacity="0.18"/><ellipse cx="219.3" cy="71.8" rx="7.06" ry="1.37" transform="rotate(249.3 219.3 71.8)" opacity="0.25"/><ellipse cx="224" cy="78.6" rx="6.57" ry="1.84" transform="rotate(41.3 224 78.6)" opacity="0.15"/><ellipse cx="179.9" cy="71.9" rx="6.31" ry="1.79" transform="rotate(296.6 179.9 71.9)" opacity="0.18"/><ellipse cx="174.6" cy="77" rx="6.32" ry="1.19" transform="rotate(156.1 174.6 77)" opacity="0.14"/><ellipse cx="197" cy="73.4" rx="6.74" ry="1.59" transform="rotate(223.9 197 73.4)" opacity="0.14"/><ellipse cx="196.7" cy="75" rx="5.84" ry="1.16" transform="rotate(201.3 196.7 75)" opacity="0.28"/><ellipse cx="200.4" cy="80.6" rx="6.91" ry="1.58" transform="rotate(86.1 200.4 80.6)" opacity="0.27"/><ellipse cx="185" cy="83.4" rx="4.83" ry="1.07" transform="rotate(96.3 185 83.4)" opacity="0.17"/><ellipse cx="183.7" cy="83" rx="4.95" ry="1.66" transform="rotate(121.4 183.7 83)" opacity="0.31"/><ellipse cx="184.2" cy="77.6" rx="4.73" ry="1.94" transform="rotate(248.4 184.2 77.6)" opacity="0.28"/><ellipse cx="190.6" cy="82.9" rx="5.52" ry="1.36" transform="rotate(140.4 190.6 82.9)" opacity="0.17"/><ellipse cx="196.2" cy="84" rx="6.91" ry="1.72" transform="rotate(48.5 196.2 84)" opacity="0.23"/><ellipse cx="202.2" cy="75.8" rx="7.16" ry="1.55" transform="rotate(246.3 202.2 75.8)" opacity="0.21"/><ellipse cx="205" cy="82.8" rx="5.01" ry="2" transform="rotate(72.1 205 82.8)" opacity="0.29"/><ellipse cx="235.5" cy="78.5" rx="3.76" ry="1.89" transform="rotate(169.9 235.5 78.5)" opacity="0.26"/><ellipse cx="242.3" cy="79.5" rx="4.49" ry="1.29" transform="rotate(309.5 242.3 79.5)" opacity="0.15"/><ellipse cx="240.1" cy="84.2" rx="4.19" ry="1.99" transform="rotate(97.9 240.1 84.2)" opacity="0.29"/><ellipse cx="237.1" cy="83.3" rx="6.01" ry="1.06" transform="rotate(153.5 237.1 83.3)" opacity="0.28"/><ellipse cx="260.5" cy="79.8" rx="6.62" ry="1.11" transform="rotate(192.9 260.5 79.8)" opacity="0.17"/><ellipse cx="265.3" cy="77.9" rx="4.66" ry="1.95" transform="rotate(285.8 265.3 77.9)" opacity="0.14"/><ellipse cx="267.5" cy="80" rx="4.8" ry="1.17" transform="rotate(345.6 267.5 80)" opacity="0.15"/><ellipse cx="229.7" cy="84.6" rx="6.89" ry="1.13" transform="rotate(359.5 229.7 84.6)" opacity="0.18"/><ellipse cx="228.2" cy="82.1" rx="6.11" ry="1.28" transform="rotate(318.8 228.2 82.1)" opacity="0.27"/><ellipse cx="231.5" cy="82.2" rx="6.79" ry="1.41" transform="rotate(275.5 231.5 82.2)" opacity="0.15"/><ellipse cx="235.2" cy="85.6" rx="6.81" ry="1.64" transform="rotate(348 235.2 85.6)" opacity="0.16"/><ellipse cx="166.1" cy="87.9" rx="4.74" ry="1.34" transform="rotate(141.3 166.1 87.9)" opacity="0.26"/><ellipse cx="170.5" cy="88.4" rx="4.3" ry="1.23" transform="rotate(149.1 170.5 88.4)" opacity="0.27"/><ellipse cx="169.5" cy="84" rx="7.14" ry="1.03" transform="rotate(222.4 169.5 84)" opacity="0.28"/><ellipse cx="153.8" cy="87.4" rx="4.87" ry="1.16" transform="rotate(172.1 153.8 87.4)" opacity="0.17"/><ellipse cx="153.8" cy="88.5" rx="5.39" ry="1.21" transform="rotate(153.9 153.8 88.5)" opacity="0.16"/><ellipse cx="159.3" cy="89.1" rx="5.2" ry="1.08" transform="rotate(40.8 159.3 89.1)" opacity="0.22"/><ellipse cx="184.1" cy="87.4" rx="5.3" ry="1.45" transform="rotate(230.8 184.1 87.4)" opacity="0.28"/><ellipse cx="199.8" cy="89.8" rx="5.71" ry="1.81" transform="rotate(338.5 199.8 89.8)" opacity="0.19"/><ellipse cx="219.6" cy="92" rx="6.58" ry="1.52" transform="rotate(7.95 219.6 92)" opacity="0.28"/><ellipse cx="199" cy="92.8" rx="6.86" ry="1.34" transform="rotate(198 199 92.8)" opacity="0.16"/><ellipse cx="204.6" cy="97" rx="5.18" ry="1.98" transform="rotate(63.3 204.6 97)" opacity="0.23"/><ellipse cx="262.2" cy="91" rx="5.16" ry="1.66" transform="rotate(23.8 262.2 91)" opacity="0.16"/><ellipse cx="255.5" cy="89.1" rx="5.98" ry="1.14" transform="rotate(188.3 255.5 89.1)" opacity="0.22"/><ellipse cx="203.6" cy="98.7" rx="3.81" ry="1.13" transform="rotate(341.4 203.6 98.7)" opacity="0.25"/><ellipse cx="200.6" cy="103.1" rx="5.9" ry="1.59" transform="rotate(100.8 200.6 103.1)" opacity="0.25"/><ellipse cx="226.8" cy="93.7" rx="6.45" ry="1.4" transform="rotate(277.5 226.8 93.7)" opacity="0.22"/><ellipse cx="222.8" cy="96.5" rx="5.76" ry="1.64" transform="rotate(198.1 222.8 96.5)" opacity="0.21"/><ellipse cx="255.5" cy="98.5" rx="4.46" ry="1.65" transform="rotate(180.6 255.5 98.5)" opacity="0.28"/><ellipse cx="151.2" cy="99" rx="4.85" ry="1.03" transform="rotate(228.1 151.2 99)" opacity="0.18"/><ellipse cx="156.7" cy="99.1" rx="6.48" ry="2.01" transform="rotate(328.5 156.7 99.1)" opacity="0.22"/><ellipse cx="150.7" cy="101.4" rx="4.08" ry="2.03" transform="rotate(176.5 150.7 101.4)" opacity="0.24"/><ellipse cx="180.3" cy="100.2" rx="4.09" ry="1.42" transform="rotate(299.6 180.3 100.2)" opacity="0.19"/><ellipse cx="182.9" cy="102.1" rx="6.18" ry="1.16" transform="rotate(355.1 182.9 102.1)" opacity="0.25"/><ellipse cx="188.9" cy="100" rx="4.48" ry="1.23" transform="rotate(346.6 188.9 100)" opacity="0.3"/><ellipse cx="184.9" cy="97.7" rx="5.16" ry="1.21" transform="rotate(246.5 184.9 97.7)" opacity="0.23"/><ellipse cx="186.3" cy="104.6" rx="6.25" ry="1.33" transform="rotate(88.7 186.3 104.6)" opacity="0.29"/><ellipse cx="207.4" cy="102.9" rx="4.31" ry="1.03" transform="rotate(223.7 207.4 102.9)" opacity="0.23"/><ellipse cx="220.6" cy="100" rx="5.81" ry="2.02" transform="rotate(235.4 220.6 100)" opacity="0.16"/><ellipse cx="224.9" cy="105.7" rx="5.55" ry="1.53" transform="rotate(49.8 224.9 105.7)" opacity="0.26"/><ellipse cx="219.5" cy="103.3" rx="5.06" ry="1.4" transform="rotate(175.5 219.5 103.3)" opacity="0.2"/><ellipse cx="188.9" cy="106.6" rx="5.93" ry="1.37" transform="rotate(160.6 188.9 106.6)" opacity="0.22"/><ellipse cx="190.9" cy="103.3" rx="4.07" ry="1.82" transform="rotate(233.4 190.9 103.3)" opacity="0.2"/><ellipse cx="195" cy="104.8" rx="4.18" ry="1.65" transform="rotate(348.6 195 104.8)" opacity="0.19"/><ellipse cx="196.9" cy="109.8" rx="6.26" ry="1.73" transform="rotate(76.5 196.9 109.8)" opacity="0.22"/><ellipse cx="193.4" cy="109.4" rx="6.84" ry="1.74" transform="rotate(127.7 193.4 109.4)" opacity="0.22"/><ellipse cx="235.3" cy="111.5" rx="6.79" ry="1.53" transform="rotate(48.1 235.3 111.5)" opacity="0.21"/><ellipse cx="232.8" cy="109.6" rx="6.22" ry="1.86" transform="rotate(146.4 232.8 109.6)" opacity="0.23"/><ellipse cx="239.9" cy="106.3" rx="6.42" ry="1.14" transform="rotate(343.7 239.9 106.3)" opacity="0.27"/><ellipse cx="232.5" cy="109.9" rx="6.85" ry="1.37" transform="rotate(145.8 232.5 109.9)" opacity="0.14"/><ellipse cx="167" cy="111.1" rx="6.5" ry="1.51" transform="rotate(14.1 167 111.1)" opacity="0.24"/><ellipse cx="160.4" cy="109.2" rx="4.42" ry="1.3" transform="rotate(198.6 160.4 109.2)" opacity="0.25"/><ellipse cx="162.5" cy="113.6" rx="5.58" ry="1.82" transform="rotate(98.2 162.5 113.6)" opacity="0.28"/><ellipse cx="163.1" cy="111.3" rx="6.4" ry="1.52" transform="rotate(149.7 163.1 111.3)" opacity="0.24"/><ellipse cx="162.5" cy="111.1" rx="7.19" ry="1.91" transform="rotate(156.2 162.5 111.1)" opacity="0.18"/><ellipse cx="165.8" cy="113.2" rx="6.57" ry="1.59" transform="rotate(212.8 165.8 113.2)" opacity="0.14"/><ellipse cx="172.5" cy="116.7" rx="5.61" ry="1.56" transform="rotate(21 172.5 116.7)" opacity="0.17"/><ellipse cx="171.2" cy="118.5" rx="5.79" ry="1.35" transform="rotate(56.8 171.2 118.5)" opacity="0.27"/><ellipse cx="230.8" cy="114.9" rx="4.5" ry="1.87" transform="rotate(347.9 230.8 114.9)" opacity="0.17"/><ellipse cx="224.2" cy="114.8" rx="6.2" ry="1.68" transform="rotate(189.9 224.2 114.8)" opacity="0.22"/><ellipse cx="226.3" cy="113.8" rx="3.86" ry="1.39" transform="rotate(222.7 226.3 113.8)" opacity="0.23"/><ellipse cx="249.9" cy="116.9" rx="5.51" ry="1.81" transform="rotate(154.7 249.9 116.9)" opacity="0.24"/><ellipse cx="211.3" cy="120.9" rx="4.59" ry="1.28" transform="rotate(124.7 211.3 120.9)" opacity="0.23"/><ellipse cx="215.1" cy="116" rx="5.38" ry="1.1" transform="rotate(311.9 215.1 116)" opacity="0.19"/><ellipse cx="214" cy="114.5" rx="6.61" ry="1.09" transform="rotate(285.8 214 114.5)" opacity="0.21"/><ellipse cx="164.8" cy="125.4" rx="5.31" ry="2.02" transform="rotate(57.2 164.8 125.4)" opacity="0.19"/><ellipse cx="177.3" cy="122.4" rx="3.86" ry="1.07" transform="rotate(137.5 177.3 122.4)" opacity="0.19"/><ellipse cx="181.9" cy="122.8" rx="4.25" ry="1.75" transform="rotate(105.4 181.9 122.8)" opacity="0.17"/><ellipse cx="183.6" cy="128" rx="4.39" ry="1.07" transform="rotate(87.5 183.6 128)" opacity="0.26"/><ellipse cx="187.4" cy="126.2" rx="6.44" ry="1.9" transform="rotate(13.4 187.4 126.2)" opacity="0.15"/><ellipse cx="196.8" cy="123.7" rx="5.46" ry="1.26" transform="rotate(299.7 196.8 123.7)" opacity="0.27"/><ellipse cx="235.5" cy="123.3" rx="4.09" ry="1.81" transform="rotate(205.4 235.5 123.3)" opacity="0.21"/><ellipse cx="236.6" cy="120.9" rx="5.87" ry="1.2" transform="rotate(250 236.6 120.9)" opacity="0.3"/><ellipse cx="244.8" cy="120.5" rx="4.86" ry="1.55" transform="rotate(301.4 244.8 120.5)" opacity="0.28"/><ellipse cx="260.1" cy="125.1" rx="4.34" ry="1.98" transform="rotate(356.8 260.1 125.1)" opacity="0.21"/><ellipse cx="257.4" cy="122.8" rx="4" ry="1.93" transform="rotate(269.2 257.4 122.8)" opacity="0.27"/><ellipse cx="261.6" cy="123.9" rx="6.99" ry="1.61" transform="rotate(341.4 261.6 123.9)" opacity="0.29"/><ellipse cx="164.9" cy="131.8" rx="5.88" ry="1.33" transform="rotate(134.7 164.9 131.8)" opacity="0.28"/><ellipse cx="210.8" cy="131.4" rx="4.68" ry="1.33" transform="rotate(35.8 210.8 131.4)" opacity="0.23"/><ellipse cx="220.4" cy="132.1" rx="5.45" ry="1.03" transform="rotate(160.8 220.4 132.1)" opacity="0.15"/><ellipse cx="224.9" cy="128.5" rx="4.45" ry="2" transform="rotate(299.1 224.9 128.5)" opacity="0.28"/><ellipse cx="229.6" cy="130.3" rx="5.79" ry="1.15" transform="rotate(215.8 229.6 130.3)" opacity="0.31"/><ellipse cx="233" cy="128" rx="7.08" ry="1.19" transform="rotate(277.1 233 128)" opacity="0.16"/><ellipse cx="234.3" cy="135.3" rx="5.53" ry="1.53" transform="rotate(58.6 234.3 135.3)" opacity="0.25"/><ellipse cx="190.5" cy="137.3" rx="5.07" ry="1.18" transform="rotate(92.6 190.5 137.3)" opacity="0.31"/><ellipse cx="189" cy="130.6" rx="6.35" ry="1.25" transform="rotate(245 189 130.6)" opacity="0.21"/><ellipse cx="243.7" cy="132" rx="6.07" ry="1.96" transform="rotate(250 243.7 132)" opacity="0.14"/><ellipse cx="246.3" cy="131.5" rx="6.89" ry="1.53" transform="rotate(288.6 246.3 131.5)" opacity="0.22"/><ellipse cx="246.3" cy="132.4" rx="5.53" ry="2.04" transform="rotate(293.7 246.3 132.4)" opacity="0.15"/><ellipse cx="161.9" cy="138.4" rx="5.26" ry="1.05" transform="rotate(151.2 161.9 138.4)" opacity="0.28"/><ellipse cx="163.9" cy="132.7" rx="6.86" ry="1.24" transform="rotate(257.5 163.9 132.7)" opacity="0.24"/><ellipse cx="200.6" cy="134.9" rx="5.69" ry="1.68" transform="rotate(196.5 200.6 134.9)" opacity="0.31"/><ellipse cx="152.5" cy="43.3" rx="4.99" ry="3.96" transform="rotate(120 153.2 44.2)" opacity="0.41"/><ellipse cx="158.6" cy="47.2" rx="4.38" ry="3.81" transform="rotate(35.9 158.6 46.5)" opacity="0.48"/><ellipse cx="172.8" cy="44.5" rx="5.33" ry="3.05" transform="rotate(125.4 173.7 45.1)" opacity="0.51"/><ellipse cx="188.6" cy="50.1" rx="4.5" ry="4.48" transform="rotate(155.9 188.9 50.5)" opacity="0.39"/><ellipse cx="209" cy="49.8" rx="5.5" ry="2.82" transform="rotate(49.8 209.3 49.6)" opacity="0.34"/><ellipse cx="217" cy="55.8" rx="4.32" ry="4.16" transform="rotate(39.6 216.8 54.9)" opacity="0.53"/><ellipse cx="232.3" cy="49.3" rx="5.93" ry="3.98" transform="rotate(50.3 233 48.7)" opacity="0.44"/><ellipse cx="247.1" cy="44.3" rx="5.08" ry="4.03" transform="rotate(126.8 247.6 44.8)" opacity="0.39"/><ellipse cx="259.6" cy="45.3" rx="5.37" ry="3.46" transform="rotate(29 259.2 46)" opacity="0.34"/><ellipse cx="252.9" cy="53.5" rx="4.13" ry="3.4" transform="rotate(56.2 252.1 53.1)" opacity="0.45"/><ellipse cx="263.6" cy="53" rx="5.02" ry="2.86" transform="rotate(107 263.7 52.2)" opacity="0.35"/><ellipse cx="170.9" cy="55.1" rx="4.41" ry="4.44" transform="rotate(90.2 170.5 55.8)" opacity="0.43"/><ellipse cx="184.1" cy="55.1" rx="5.35" ry="3.07" transform="rotate(85.9 183.5 55.8)" opacity="0.44"/><ellipse cx="239.4" cy="54.7" rx="4.51" ry="3.5" transform="rotate(68.3 239.6 54.9)" opacity="0.51"/><ellipse cx="240.9" cy="60.7" rx="5.89" ry="3.95" transform="rotate(133.6 240.5 59.7)" opacity="0.53"/><ellipse cx="251.5" cy="60.5" rx="5.18" ry="2.83" transform="rotate(145.9 252.1 61.2)" opacity="0.51"/><ellipse cx="197.5" cy="61.1" rx="4.74" ry="3.67" transform="rotate(36 198.3 62)" opacity="0.36"/><ellipse cx="222" cy="62.7" rx="4.88" ry="3.5" transform="rotate(109.4 221.4 62)" opacity="0.36"/><ellipse cx="207.5" cy="66.1" rx="3.97" ry="4.01" transform="rotate(101.7 206.7 65.6)" opacity="0.47"/><ellipse cx="166.3" cy="66.3" rx="4.67" ry="3.95" transform="rotate(149.5 165.7 66.5)" opacity="0.47"/><ellipse cx="175.1" cy="67.1" rx="3.93" ry="3.17" transform="rotate(86.8 174.6 66.5)" opacity="0.5"/><ellipse cx="176.5" cy="70.2" rx="4.54" ry="3.38" transform="rotate(178.3 177.3 70.1)" opacity="0.44"/><ellipse cx="155.3" cy="69.7" rx="4.96" ry="3.07" transform="rotate(72 155.9 70.1)" opacity="0.41"/><ellipse cx="213.8" cy="69.6" rx="5.11" ry="4.34" transform="rotate(29.5 213.8 70.4)" opacity="0.4"/><ellipse cx="238.6" cy="70.7" rx="4.61" ry="3" transform="rotate(87 238.7 70.9)" opacity="0.39"/><ellipse cx="245.5" cy="69.1" rx="5.32" ry="4.07" transform="rotate(63.9 245.8 70.1)" opacity="0.53"/><ellipse cx="257" cy="72.6" rx="4.02" ry="2.85" transform="rotate(21 257.4 73.3)" opacity="0.36"/><ellipse cx="191.9" cy="70.1" rx="5.66" ry="3.77" transform="rotate(142.5 192.4 70.1)" opacity="0.53"/><ellipse cx="207.3" cy="73.4" rx="4.03" ry="3.31" transform="rotate(178.4 207.6 72.7)" opacity="0.35"/><ellipse cx="220.7" cy="76.5" rx="5.33" ry="4.57" transform="rotate(39.6 220.9 75.9)" opacity="0.49"/><ellipse cx="177.5" cy="75.3" rx="6.16" ry="4.28" transform="rotate(3.51 178.2 75.4)" opacity="0.43"/><ellipse cx="199.9" cy="75.9" rx="4.72" ry="2.93" transform="rotate(88.2 200.1 76.3)" opacity="0.45"/><ellipse cx="185.5" cy="80.9" rx="5.93" ry="2.91" transform="rotate(172.5 185.3 80.4)" opacity="0.55"/><ellipse cx="193.9" cy="80.1" rx="5.8" ry="3.98" transform="rotate(88.8 193.3 80.7)" opacity="0.37"/><ellipse cx="203.4" cy="79.4" rx="6.16" ry="2.96" transform="rotate(117 204 79.9)" opacity="0.35"/><ellipse cx="237.2" cy="77.7" rx="5.39" ry="3.02" transform="rotate(97.5 237.8 78.1)" opacity="0.46"/><ellipse cx="241.4" cy="82.4" rx="6.03" ry="4.53" transform="rotate(142.8 240.5 81.6)" opacity="0.44"/><ellipse cx="264.1" cy="80.2" rx="3.92" ry="4.1" transform="rotate(25.3 264.5 80.7)" opacity="0.43"/><ellipse cx="225.2" cy="85.6" rx="5.27" ry="4.12" transform="rotate(158.2 225.4 84.7)" opacity="0.42"/><ellipse cx="230.5" cy="87.3" rx="3.91" ry="2.91" transform="rotate(1.31 231.1 86.4)" opacity="0.48"/><ellipse cx="169.3" cy="85.6" rx="5.84" ry="3.58" transform="rotate(99.2 168.4 86.1)" opacity="0.33"/><ellipse cx="172.5" cy="86.2" rx="4.96" ry="3.41" transform="rotate(55.8 172.8 87)" opacity="0.42"/><ellipse cx="156.7" cy="86.2" rx="5.87" ry="3.43" transform="rotate(31 156.8 87)" opacity="0.52"/><ellipse cx="185.3" cy="91" rx="4.85" ry="2.89" transform="rotate(154.8 186.2 90)" opacity="0.48"/><ellipse cx="196" cy="91" rx="5.11" ry="3.67" transform="rotate(77 196.5 91.1)" opacity="0.36"/><ellipse cx="216" cy="90.6" rx="4.44" ry="3.64" transform="rotate(94.7 215.6 91.4)" opacity="0.36"/><ellipse cx="203.4" cy="93.4" rx="5.9" ry="4.56" transform="rotate(125.4 203.1 94.1)" opacity="0.53"/><ellipse cx="259" cy="89.2" rx="4.47" ry="3.87" transform="rotate(172.7 259.2 89.6)" opacity="0.4"/><ellipse cx="202" cy="100.3" rx="4.91" ry="4.49" transform="rotate(110.4 201.3 99.4)" opacity="0.34"/><ellipse cx="226.3" cy="96.8" rx="5.87" ry="4.16" transform="rotate(112.7 226.3 97.7)" opacity="0.46"/><ellipse cx="258.7" cy="99.2" rx="4.23" ry="4.24" transform="rotate(80.5 258.3 98.6)" opacity="0.39"/><ellipse cx="153.1" cy="101.4" rx="3.92" ry="4.52" transform="rotate(160.3 153.2 101.2)" opacity="0.43"/><ellipse cx="179.5" cy="102.1" rx="6.04" ry="3.79" transform="rotate(154.9 179.1 102.5)" opacity="0.38"/><ellipse cx="185.7" cy="100.7" rx="4.16" ry="3.82" transform="rotate(172.6 186.2 100.7)" opacity="0.48"/><ellipse cx="210.1" cy="104.8" rx="5.04" ry="3.25" transform="rotate(157.2 209.3 104.8)" opacity="0.44"/><ellipse cx="222.6" cy="103.6" rx="5.06" ry="3.91" transform="rotate(21.2 222.7 103)" opacity="0.41"/><ellipse cx="193.2" cy="104.3" rx="5.4" ry="4.12" transform="rotate(62.6 192.4 105.3)" opacity="0.54"/><ellipse cx="196.7" cy="105.9" rx="4.1" ry="3.17" transform="rotate(100.5 196 106)" opacity="0.54"/><ellipse cx="232.4" cy="107.6" rx="5.81" ry="3.35" transform="rotate(15.3 232.5 108.3)" opacity="0.44"/><ellipse cx="236.2" cy="107.1" rx="4.42" ry="3.2" transform="rotate(40.9 236 107.5)" opacity="0.53"/><ellipse cx="163.1" cy="110.5" rx="4.38" ry="2.77" transform="rotate(16 163 110.1)" opacity="0.53"/><ellipse cx="167.4" cy="108.3" rx="4.33" ry="2.77" transform="rotate(125 166.6 109.2)" opacity="0.51"/><ellipse cx="169.9" cy="115.6" rx="4.84" ry="4.01" transform="rotate(23.5 169.3 115.5)" opacity="0.47"/><ellipse cx="227.9" cy="115.9" rx="4.21" ry="4.56" transform="rotate(3.9 228 115.5)" opacity="0.46"/><ellipse cx="253.5" cy="116.2" rx="4.64" ry="2.85" transform="rotate(139.7 253 115.5)" opacity="0.48"/><ellipse cx="212.6" cy="118.1" rx="4.57" ry="3.97" transform="rotate(101 212.9 118.5)" opacity="0.35"/><ellipse cx="162.7" cy="121.7" rx="6.15" ry="3.34" transform="rotate(133.9 163 122.6)" opacity="0.53"/><ellipse cx="179.2" cy="121.6" rx="4.77" ry="3.36" transform="rotate(78.2 179.1 120.8)" opacity="0.49"/><ellipse cx="182.3" cy="120.1" rx="4.42" ry="4.21" transform="rotate(46.9 182.6 120.3)" opacity="0.52"/><ellipse cx="184.4" cy="125.5" rx="4.49" ry="4.1" transform="rotate(56.2 183.5 125.3)" opacity="0.48"/><ellipse cx="195.1" cy="127.3" rx="5.08" ry="3.22" transform="rotate(58.3 195.1 126.7)" opacity="0.39"/><ellipse cx="237.6" cy="123.8" rx="4.79" ry="3.84" transform="rotate(6.06 237.8 124.4)" opacity="0.53"/><ellipse cx="244.1" cy="122.7" rx="4.15" ry="4.53" transform="rotate(98.2 243.2 123.1)" opacity="0.43"/><ellipse cx="257.7" cy="126" rx="4.67" ry="4.25" transform="rotate(63 257.4 125.3)" opacity="0.54"/><ellipse cx="166.5" cy="128.2" rx="4.94" ry="4.32" transform="rotate(86.2 167.5 129.2)" opacity="0.53"/><ellipse cx="208.7" cy="130.2" rx="4.92" ry="3.23" transform="rotate(91.7 208.4 129.7)" opacity="0.48"/><ellipse cx="222.9" cy="131.7" rx="5.68" ry="3.67" transform="rotate(70.1 223.6 131)" opacity="0.44"/><ellipse cx="232.8" cy="132.8" rx="4.73" ry="4.4" transform="rotate(136 232.5 132.4)" opacity="0.54"/><ellipse cx="191.3" cy="133.5" rx="4.71" ry="3.13" transform="rotate(116.4 190.6 134.2)" opacity="0.54"/><ellipse cx="245.6" cy="134.7" rx="5.39" ry="3.26" transform="rotate(63.1 245 135.6)" opacity="0.47"/><ellipse cx="164" cy="136.2" rx="4.6" ry="3.56" transform="rotate(5.57 164.8 136.8)" opacity="0.34"/><ellipse cx="203.5" cy="136.2" rx="4.55" ry="3.45" transform="rotate(160.1 204 136)" opacity="0.34"/><ellipse cx="161" cy="48.8" rx="1.71" ry="1.68" transform="rotate(24.3 161 48.8)" opacity="0.73"/><ellipse cx="188.5" cy="49.9" rx="2.37" ry="1.39" transform="rotate(99 188.5 49.9)" opacity="0.67"/><ellipse cx="247.3" cy="42.7" rx="2" ry="1.48" transform="rotate(100.2 247.3 42.7)" opacity="0.99"/><ellipse cx="253" cy="53.8" rx="2.04" ry="1.46" transform="rotate(37.6 253 53.8)" opacity="0.85"/><ellipse cx="170.9" cy="54.9" rx="2.36" ry="1.32" transform="rotate(139.5 170.9 54.9)" opacity="0.96"/><ellipse cx="184.2" cy="57.5" rx="2.21" ry="2.01" transform="rotate(74.2 184.2 57.5)" opacity="0.85"/><ellipse cx="200.4" cy="62" rx="2.46" ry="1.92" transform="rotate(172.1 200.4 62)" opacity="0.87"/><ellipse cx="173.8" cy="65.3" rx="2.16" ry="2.05" transform="rotate(119.9 173.8 65.3)" opacity="0.78"/><ellipse cx="222.3" cy="76" rx="1.77" ry="1.79" transform="rotate(161.5 222.3 76)" opacity="0.74"/><ellipse cx="239.9" cy="79.9" rx="2.06" ry="2.19" transform="rotate(101.2 239.9 79.9)" opacity="0.69"/><ellipse cx="239" cy="81.3" rx="2.46" ry="1.46" transform="rotate(11.2 239 81.3)" opacity="0.96"/><ellipse cx="266.5" cy="79.6" rx="2.32" ry="1.41" transform="rotate(118.4 266.5 79.6)" opacity="0.67"/><ellipse cx="166.5" cy="83.9" rx="1.73" ry="1.86" transform="rotate(178 166.5 83.9)" opacity="0.6"/><ellipse cx="170.6" cy="88.5" rx="2.25" ry="1.94" transform="rotate(3.89 170.6 88.5)" opacity="0.75"/><ellipse cx="158" cy="88.3" rx="2.31" ry="2.16" transform="rotate(29.8 158 88.3)" opacity="0.77"/><ellipse cx="260.5" cy="89.8" rx="2.52" ry="1.32" transform="rotate(151.8 260.5 89.8)" opacity="0.77"/><ellipse cx="200" cy="101.6" rx="1.81" ry="1.74" transform="rotate(81.9 200 101.6)" opacity="0.91"/><ellipse cx="260.7" cy="100.3" rx="2.11" ry="1.88" transform="rotate(55.2 260.7 100.3)" opacity="0.66"/><ellipse cx="155.4" cy="102.9" rx="1.96" ry="1.99" transform="rotate(164.9 155.4 102.9)" opacity="0.69"/><ellipse cx="180.5" cy="103.7" rx="2.37" ry="1.82" transform="rotate(22.1 180.5 103.7)" opacity="0.94"/><ellipse cx="192.8" cy="103.9" rx="2.5" ry="1.94" transform="rotate(49.8 192.8 103.9)" opacity="0.76"/><ellipse cx="164.2" cy="108.9" rx="2.14" ry="1.64" transform="rotate(157.1 164.2 108.9)" opacity="0.8"/><ellipse cx="253.3" cy="116.3" rx="1.96" ry="2.05" transform="rotate(133.5 253.3 116.3)" opacity="0.95"/><ellipse cx="195.9" cy="128.8" rx="1.79" ry="1.79" transform="rotate(62.3 195.9 128.8)" opacity="0.77"/><ellipse cx="231" cy="132.6" rx="1.98" ry="1.4" transform="rotate(123.6 231 132.6)" opacity="0.66"/><ellipse cx="244.2" cy="133.7" rx="1.76" ry="1.93" transform="rotate(148.4 244.2 133.7)" opacity="0.86"/></g>
<g fill="url(#gn)"><ellipse cx="153.2" cy="44.2" rx="2.6" ry="2.9" transform="rotate(161.5 153.2 44.2)" opacity="0.96"/><ellipse cx="158.6" cy="46.5" rx="3.02" ry="2.5" transform="rotate(59.7 158.6 46.5)" opacity="0.97"/><ellipse cx="173.7" cy="45.1" rx="3.35" ry="2.67" transform="rotate(158.1 173.7 45.1)" opacity="0.89"/><ellipse cx="188.9" cy="50.5" rx="3.4" ry="2.39" transform="rotate(77 188.9 50.5)" opacity="0.87"/><ellipse cx="209.3" cy="49.6" rx="3.1" ry="2.41" transform="rotate(67.1 209.3 49.6)" opacity="0.95"/><ellipse cx="216.8" cy="54.9" rx="2.99" ry="2.51" transform="rotate(32 216.8 54.9)" opacity="0.94"/><ellipse cx="233" cy="48.7" rx="2.65" ry="2.89" transform="rotate(136.1 233 48.7)" opacity="0.93"/><ellipse cx="247.6" cy="44.8" rx="2.59" ry="2.61" transform="rotate(119.2 247.6 44.8)" opacity="0.96"/><ellipse cx="259.2" cy="46" rx="3.31" ry="2.91" transform="rotate(159 259.2 46)" opacity="1"/><ellipse cx="252.1" cy="53.1" rx="2.59" ry="2.34" transform="rotate(55.9 252.1 53.1)" opacity="0.87"/><ellipse cx="263.7" cy="52.2" rx="2.61" ry="2.47" transform="rotate(159.2 263.7 52.2)" opacity="0.84"/><ellipse cx="170.5" cy="55.8" rx="2.82" ry="2.42" transform="rotate(30.6 170.5 55.8)" opacity="0.83"/><ellipse cx="183.5" cy="55.8" rx="2.9" ry="2.57" transform="rotate(72.5 183.5 55.8)" opacity="0.91"/><ellipse cx="239.6" cy="54.9" rx="3.13" ry="2.25" transform="rotate(65.6 239.6 54.9)" opacity="0.87"/><ellipse cx="240.5" cy="59.7" rx="2.67" ry="2.65" transform="rotate(59.1 240.5 59.7)" opacity="0.83"/><ellipse cx="252.1" cy="61.2" rx="3.42" ry="2.49" transform="rotate(58.3 252.1 61.2)" opacity="0.91"/><ellipse cx="198.3" cy="62" rx="2.7" ry="2.43" transform="rotate(39.7 198.3 62)" opacity="0.87"/><ellipse cx="221.4" cy="62" rx="2.81" ry="2.37" transform="rotate(92 221.4 62)" opacity="0.95"/><ellipse cx="206.7" cy="65.6" rx="2.77" ry="2.42" transform="rotate(28.7 206.7 65.6)" opacity="0.95"/><ellipse cx="165.7" cy="66.5" rx="3.04" ry="2.84" transform="rotate(83.5 165.7 66.5)" opacity="0.88"/><ellipse cx="174.6" cy="66.5" rx="3.27" ry="2.75" transform="rotate(49.7 174.6 66.5)" opacity="0.94"/><ellipse cx="177.3" cy="70.1" rx="3.47" ry="2.64" transform="rotate(9.04 177.3 70.1)" opacity="0.88"/><ellipse cx="155.9" cy="70.1" rx="2.93" ry="2.61" transform="rotate(33.8 155.9 70.1)" opacity="1"/><ellipse cx="213.8" cy="70.4" rx="2.89" ry="2.6" transform="rotate(87.3 213.8 70.4)" opacity="0.92"/><ellipse cx="238.7" cy="70.9" rx="3.21" ry="2.32" transform="rotate(91.8 238.7 70.9)" opacity="0.94"/><ellipse cx="245.8" cy="70.1" rx="3" ry="2.35" transform="rotate(37.1 245.8 70.1)" opacity="0.92"/><ellipse cx="257.4" cy="73.3" rx="2.78" ry="2.63" transform="rotate(124.2 257.4 73.3)" opacity="0.82"/><ellipse cx="192.4" cy="70.1" rx="3.11" ry="2.41" transform="rotate(143.8 192.4 70.1)" opacity="0.91"/><ellipse cx="207.6" cy="72.7" rx="2.84" ry="2.59" transform="rotate(48.3 207.6 72.7)" opacity="0.97"/><ellipse cx="220.9" cy="75.9" rx="2.96" ry="2.34" transform="rotate(23.2 220.9 75.9)" opacity="0.89"/><ellipse cx="178.2" cy="75.4" rx="3.2" ry="2.66" transform="rotate(103 178.2 75.4)" opacity="0.9"/><ellipse cx="200.1" cy="76.3" rx="2.88" ry="2.71" transform="rotate(29.6 200.1 76.3)" opacity="0.95"/><ellipse cx="185.3" cy="80.4" rx="3.04" ry="2.83" transform="rotate(44.4 185.3 80.4)" opacity="0.97"/><ellipse cx="193.3" cy="80.7" rx="2.92" ry="2.78" transform="rotate(156.2 193.3 80.7)" opacity="0.95"/><ellipse cx="204" cy="79.9" rx="3.07" ry="2.93" transform="rotate(132.4 204 79.9)" opacity="0.99"/><ellipse cx="237.8" cy="78.1" rx="2.63" ry="2.34" transform="rotate(40.2 237.8 78.1)" opacity="0.85"/><ellipse cx="240.5" cy="81.6" rx="2.91" ry="2.67" transform="rotate(104.6 240.5 81.6)" opacity="0.99"/><ellipse cx="264.5" cy="80.7" rx="3.34" ry="2.37" transform="rotate(118.4 264.5 80.7)" opacity="0.95"/><ellipse cx="225.4" cy="84.7" rx="3.14" ry="2.76" transform="rotate(20.5 225.4 84.7)" opacity="0.85"/><ellipse cx="231.1" cy="86.4" rx="3" ry="2.57" transform="rotate(10.5 231.1 86.4)" opacity="0.84"/><ellipse cx="168.4" cy="86.1" rx="3.43" ry="2.88" transform="rotate(50.8 168.4 86.1)" opacity="0.93"/><ellipse cx="172.8" cy="87" rx="3.24" ry="2.38" transform="rotate(36.9 172.8 87)" opacity="0.83"/><ellipse cx="156.8" cy="87" rx="3.37" ry="2.78" transform="rotate(171.9 156.8 87)" opacity="0.89"/><ellipse cx="186.2" cy="90" rx="3.23" ry="2.73" transform="rotate(11.3 186.2 90)" opacity="0.95"/><ellipse cx="196.5" cy="91.1" rx="2.99" ry="2.81" transform="rotate(98.8 196.5 91.1)" opacity="0.87"/><ellipse cx="215.6" cy="91.4" rx="3.29" ry="2.62" transform="rotate(159.6 215.6 91.4)" opacity="0.93"/><ellipse cx="203.1" cy="94.1" rx="2.54" ry="2.67" transform="rotate(128.5 203.1 94.1)" opacity="0.89"/><ellipse cx="259.2" cy="89.6" rx="2.94" ry="2.54" transform="rotate(145 259.2 89.6)" opacity="0.92"/><ellipse cx="201.3" cy="99.4" rx="3.04" ry="2.78" transform="rotate(82 201.3 99.4)" opacity="0.99"/><ellipse cx="226.3" cy="97.7" rx="2.8" ry="2.63" transform="rotate(96.4 226.3 97.7)" opacity="0.87"/><ellipse cx="258.3" cy="98.6" rx="2.62" ry="2.66" transform="rotate(95.9 258.3 98.6)" opacity="0.82"/><ellipse cx="153.2" cy="101.2" rx="2.62" ry="2.69" transform="rotate(98.4 153.2 101.2)" opacity="0.94"/><ellipse cx="179.1" cy="102.5" rx="3.16" ry="2.88" transform="rotate(148.4 179.1 102.5)" opacity="0.84"/><ellipse cx="186.2" cy="100.7" rx="3.43" ry="2.9" transform="rotate(117 186.2 100.7)" opacity="0.97"/><ellipse cx="209.3" cy="104.8" rx="3.28" ry="2.31" transform="rotate(9.99 209.3 104.8)" opacity="0.88"/><ellipse cx="222.7" cy="103" rx="3" ry="2.67" transform="rotate(2.63 222.7 103)" opacity="0.95"/><ellipse cx="192.4" cy="105.3" rx="2.6" ry="2.91" transform="rotate(77.6 192.4 105.3)" opacity="0.85"/><ellipse cx="196" cy="106" rx="2.93" ry="2.65" transform="rotate(25.4 196 106)" opacity="0.98"/><ellipse cx="232.5" cy="108.3" rx="3.43" ry="2.24" transform="rotate(3.75 232.5 108.3)" opacity="0.85"/><ellipse cx="236" cy="107.5" rx="2.61" ry="2.46" transform="rotate(35.3 236 107.5)" opacity="0.85"/><ellipse cx="163" cy="110.1" rx="2.99" ry="2.93" transform="rotate(86.7 163 110.1)" opacity="0.85"/><ellipse cx="166.6" cy="109.2" rx="3.04" ry="2.65" transform="rotate(28.5 166.6 109.2)" opacity="0.84"/><ellipse cx="169.3" cy="115.5" rx="3.14" ry="2.84" transform="rotate(12.6 169.3 115.5)" opacity="0.88"/><ellipse cx="228" cy="115.5" rx="2.94" ry="2.66" transform="rotate(80.9 228 115.5)" opacity="0.87"/><ellipse cx="253" cy="115.5" rx="2.56" ry="2.33" transform="rotate(117.4 253 115.5)" opacity="0.91"/><ellipse cx="212.9" cy="118.5" rx="2.91" ry="2.46" transform="rotate(173.1 212.9 118.5)" opacity="0.87"/><ellipse cx="163" cy="122.6" rx="3.03" ry="2.47" transform="rotate(134.9 163 122.6)" opacity="0.84"/><ellipse cx="179.1" cy="120.8" rx="3.06" ry="2.79" transform="rotate(130.4 179.1 120.8)" opacity="0.87"/><ellipse cx="182.6" cy="120.3" rx="3.37" ry="2.47" transform="rotate(123.3 182.6 120.3)" opacity="0.84"/><ellipse cx="183.5" cy="125.3" rx="2.76" ry="2.88" transform="rotate(131.7 183.5 125.3)" opacity="0.96"/><ellipse cx="195.1" cy="126.7" rx="2.74" ry="2.82" transform="rotate(110.7 195.1 126.7)" opacity="0.96"/><ellipse cx="237.8" cy="124.4" rx="2.58" ry="2.44" transform="rotate(174.8 237.8 124.4)" opacity="0.96"/><ellipse cx="243.2" cy="123.1" rx="3.06" ry="2.58" transform="rotate(54.9 243.2 123.1)" opacity="1"/><ellipse cx="257.4" cy="125.3" rx="2.89" ry="2.31" transform="rotate(135 257.4 125.3)" opacity="0.85"/><ellipse cx="167.5" cy="129.2" rx="2.93" ry="2.29" transform="rotate(37.2 167.5 129.2)" opacity="0.87"/><ellipse cx="208.4" cy="129.7" rx="3.38" ry="2.57" transform="rotate(86.9 208.4 129.7)" opacity="0.9"/><ellipse cx="223.6" cy="131" rx="3.45" ry="2.75" transform="rotate(44.9 223.6 131)" opacity="0.88"/><ellipse cx="232.5" cy="132.4" rx="3.33" ry="2.26" transform="rotate(65.7 232.5 132.4)" opacity="0.9"/><ellipse cx="190.6" cy="134.2" rx="3.13" ry="2.39" transform="rotate(30.3 190.6 134.2)" opacity="0.95"/><ellipse cx="245" cy="135.6" rx="3.12" ry="2.74" transform="rotate(179.2 245 135.6)" opacity="0.86"/><ellipse cx="164.8" cy="136.8" rx="2.77" ry="2.6" transform="rotate(47.2 164.8 136.8)" opacity="0.86"/><ellipse cx="204" cy="136" rx="2.53" ry="2.93" transform="rotate(128 204 136)" opacity="0.91"/></g>
</g>
<rect x="31.2" y="145.2" width="116.3" height="97.6" fill="#020203"/>
<g clip-path="url(#c3)">
<g fill="url(#go)"><ellipse cx="45.3" cy="151.3" rx="4.98" ry="1.89" transform="rotate(45.5 45.3 151.3)" opacity="0.35"/><ellipse cx="46.5" cy="143.3" rx="10.8" ry="1.28" transform="rotate(300.4 46.5 143.3)" opacity="0.31"/><ellipse cx="126.4" cy="153.7" rx="6.68" ry="2.03" transform="rotate(42.2 126.4 153.7)" opacity="0.31"/><ellipse cx="120.9" cy="144.7" rx="10.7" ry="1.76" transform="rotate(248.7 120.9 144.7)" opacity="0.3"/><ellipse cx="121.7" cy="147.8" rx="5.61" ry="1.64" transform="rotate(243.7 121.7 147.8)" opacity="0.19"/><ellipse cx="43.3" cy="162.8" rx="8.57" ry="1.19" transform="rotate(166.9 43.3 162.8)" opacity="0.24"/><ellipse cx="49.5" cy="167.8" rx="10" ry="1.7" transform="rotate(81 49.5 167.8)" opacity="0.29"/><ellipse cx="48.4" cy="166.3" rx="7.47" ry="1.94" transform="rotate(91.3 48.4 166.3)" opacity="0.3"/><ellipse cx="73.7" cy="171.9" rx="8.35" ry="1.93" transform="rotate(129.4 73.7 171.9)" opacity="0.22"/><ellipse cx="79.1" cy="171.4" rx="6.57" ry="1.89" transform="rotate(59.2 79.1 171.4)" opacity="0.18"/><ellipse cx="80.5" cy="169.4" rx="6.15" ry="1.85" transform="rotate(24.9 80.5 169.4)" opacity="0.26"/><ellipse cx="40.3" cy="173.3" rx="9.91" ry="1.52" transform="rotate(12.9 40.3 173.3)" opacity="0.18"/><ellipse cx="29.2" cy="170.9" rx="8.16" ry="2.03" transform="rotate(191.8 29.2 170.9)" opacity="0.2"/><ellipse cx="87.2" cy="176.7" rx="6.02" ry="1.23" transform="rotate(126.3 87.2 176.7)" opacity="0.23"/><ellipse cx="89.6" cy="170.4" rx="5.32" ry="1.8" transform="rotate(272.9 89.6 170.4)" opacity="0.15"/><ellipse cx="109" cy="177.4" rx="6.55" ry="1.29" transform="rotate(125.1 109 177.4)" opacity="0.25"/><ellipse cx="106.8" cy="171.5" rx="8.31" ry="1.63" transform="rotate(210 106.8 171.5)" opacity="0.22"/><ellipse cx="68.5" cy="182.6" rx="9.61" ry="1.92" transform="rotate(77 68.5 182.6)" opacity="0.29"/><ellipse cx="60.7" cy="175.9" rx="10.4" ry="2.13" transform="rotate(187.2 60.7 175.9)" opacity="0.24"/><ellipse cx="147" cy="188.2" rx="10.4" ry="1.21" transform="rotate(60.1 147 188.2)" opacity="0.26"/><ellipse cx="85" cy="181.7" rx="6.41" ry="1.65" transform="rotate(282.5 85 181.7)" opacity="0.15"/><ellipse cx="83.9" cy="188.7" rx="4.98" ry="1.53" transform="rotate(93.2 83.9 188.7)" opacity="0.34"/><ellipse cx="105.3" cy="188.5" rx="9.79" ry="2.11" transform="rotate(10.5 105.3 188.5)" opacity="0.25"/><ellipse cx="102.7" cy="190.9" rx="7.8" ry="1.2" transform="rotate(45.1 102.7 190.9)" opacity="0.18"/><ellipse cx="97.6" cy="190.4" rx="5.72" ry="1.7" transform="rotate(19.3 97.6 190.4)" opacity="0.34"/><ellipse cx="90.3" cy="189.5" rx="6.34" ry="1.81" transform="rotate(175.1 90.3 189.5)" opacity="0.2"/><ellipse cx="99.2" cy="189.5" rx="7.98" ry="1.65" transform="rotate(3.45 99.2 189.5)" opacity="0.3"/><ellipse cx="39.7" cy="191.2" rx="6.16" ry="1.28" transform="rotate(102.1 39.7 191.2)" opacity="0.3"/><ellipse cx="42" cy="190.5" rx="5.55" ry="1.3" transform="rotate(64.2 42 190.5)" opacity="0.26"/><ellipse cx="40.1" cy="183.9" rx="5.65" ry="1.22" transform="rotate(264.7 40.1 183.9)" opacity="0.25"/><ellipse cx="113.8" cy="189.6" rx="5.27" ry="1.61" transform="rotate(172.2 113.8 189.6)" opacity="0.32"/><ellipse cx="123" cy="188.7" rx="9.51" ry="1.65" transform="rotate(355 123 188.7)" opacity="0.24"/><ellipse cx="117" cy="184.1" rx="8.19" ry="1.27" transform="rotate(269.9 117 184.1)" opacity="0.2"/><ellipse cx="120" cy="198.2" rx="8.57" ry="2.2" transform="rotate(112.8 120 198.2)" opacity="0.19"/><ellipse cx="125.5" cy="194.6" rx="5.91" ry="1.64" transform="rotate(20 125.5 194.6)" opacity="0.35"/><ellipse cx="49.6" cy="198.5" rx="6.63" ry="1.46" transform="rotate(107.1 49.6 198.5)" opacity="0.31"/><ellipse cx="45.9" cy="197.3" rx="9.09" ry="1.48" transform="rotate(150.4 45.9 197.3)" opacity="0.3"/><ellipse cx="143.1" cy="198.9" rx="8.07" ry="1.68" transform="rotate(49.3 143.1 198.9)" opacity="0.25"/><ellipse cx="144.2" cy="199.4" rx="9.85" ry="1.92" transform="rotate(45 144.2 199.4)" opacity="0.25"/><ellipse cx="140.5" cy="189.5" rx="8.98" ry="2.06" transform="rotate(277 140.5 189.5)" opacity="0.21"/><ellipse cx="83.3" cy="192.6" rx="8.18" ry="2.15" transform="rotate(226.8 83.3 192.6)" opacity="0.31"/><ellipse cx="88.8" cy="198.9" rx="5.81" ry="1.96" transform="rotate(344.4 88.8 198.9)" opacity="0.16"/><ellipse cx="89.1" cy="202.7" rx="7.57" ry="2.06" transform="rotate(37.1 89.1 202.7)" opacity="0.26"/><ellipse cx="110.9" cy="205.1" rx="9.89" ry="1.98" transform="rotate(57.5 110.9 205.1)" opacity="0.24"/><ellipse cx="112.4" cy="201.7" rx="8.21" ry="1.6" transform="rotate(20.5 112.4 201.7)" opacity="0.31"/><ellipse cx="96.1" cy="204.2" rx="8.32" ry="2.14" transform="rotate(161.2 96.1 204.2)" opacity="0.26"/><ellipse cx="105.6" cy="204.4" rx="7.85" ry="2" transform="rotate(21.6 105.6 204.4)" opacity="0.28"/><ellipse cx="87.6" cy="214.8" rx="10.6" ry="1.26" transform="rotate(63.9 87.6 214.8)" opacity="0.19"/><ellipse cx="86.3" cy="213.3" rx="7.66" ry="2.2" transform="rotate(69.9 86.3 213.3)" opacity="0.15"/><ellipse cx="89.8" cy="211.1" rx="9.1" ry="1.99" transform="rotate(24.4 89.8 211.1)" opacity="0.17"/><ellipse cx="135.5" cy="226.1" rx="8.62" ry="1.33" transform="rotate(63.1 135.5 226.1)" opacity="0.2"/><ellipse cx="134.2" cy="216.4" rx="7.94" ry="1.92" transform="rotate(283.4 134.2 216.4)" opacity="0.27"/><ellipse cx="132.5" cy="218" rx="5.27" ry="1.71" transform="rotate(259.9 132.5 218)" opacity="0.19"/><ellipse cx="105.9" cy="219.9" rx="8.16" ry="2.12" transform="rotate(218 105.9 219.9)" opacity="0.29"/><ellipse cx="34.7" cy="227.9" rx="5.46" ry="1.82" transform="rotate(131.3 34.7 227.9)" opacity="0.29"/><ellipse cx="87.6" cy="223.9" rx="9.95" ry="1.8" transform="rotate(314.6 87.6 223.9)" opacity="0.34"/><ellipse cx="80" cy="226.8" rx="5.73" ry="1.27" transform="rotate(206.6 80 226.8)" opacity="0.27"/><ellipse cx="65.9" cy="237.2" rx="7.92" ry="1.5" transform="rotate(170.4 65.9 237.2)" opacity="0.28"/><ellipse cx="68.8" cy="231.5" rx="8.41" ry="1.52" transform="rotate(248.3 68.8 231.5)" opacity="0.21"/><ellipse cx="94.7" cy="229" rx="9.42" ry="1.44" transform="rotate(242.3 94.7 229)" opacity="0.33"/><ellipse cx="98.8" cy="239" rx="7.89" ry="1.29" transform="rotate(74.3 98.8 239)" opacity="0.35"/><ellipse cx="117.2" cy="244.3" rx="9.19" ry="1.62" transform="rotate(49.8 117.2 244.3)" opacity="0.23"/><ellipse cx="111.1" cy="245.5" rx="9.69" ry="1.45" transform="rotate(113.2 111.1 245.5)" opacity="0.29"/><ellipse cx="114.1" cy="244" rx="6.5" ry="1.63" transform="rotate(81.9 114.1 244)" opacity="0.25"/><ellipse cx="43.8" cy="148.5" rx="7.43" ry="5.5" transform="rotate(123.1 43.1 149.1)" opacity="0.61"/><ellipse cx="44" cy="150.3" rx="4.86" ry="2.46" transform="rotate(95.6 44 150.3)" opacity="0.44"/><ellipse cx="122.6" cy="151.7" rx="7.45" ry="4.91" transform="rotate(78.6 123.3 150.9)" opacity="0.65"/><ellipse cx="123.6" cy="153.7" rx="4.38" ry="4.04" transform="rotate(120.7 123.6 153.7)" opacity="0.7"/><ellipse cx="48.7" cy="161.4" rx="8.59" ry="4.41" transform="rotate(82.7 48.5 161.6)" opacity="0.57"/><ellipse cx="47" cy="161.7" rx="3.57" ry="2.58" transform="rotate(66 47 161.7)" opacity="0.38"/><ellipse cx="77.2" cy="167.9" rx="9.64" ry="4.66" transform="rotate(127 77 167.8)" opacity="0.76"/><ellipse cx="78.9" cy="166.4" rx="3.58" ry="3.14" transform="rotate(155.1 78.9 166.4)" opacity="0.37"/><ellipse cx="33.4" cy="170.9" rx="6.46" ry="4.88" transform="rotate(61.8 34.2 171.9)" opacity="0.88"/><ellipse cx="35.4" cy="173" rx="3.66" ry="3.32" transform="rotate(13.9 35.4 173)" opacity="0.54"/><ellipse cx="88.8" cy="173" rx="9.81" ry="4.72" transform="rotate(128.6 89.4 173.7)" opacity="0.68"/><ellipse cx="90.1" cy="172.4" rx="4.06" ry="2.66" transform="rotate(139.1 90.1 172.4)" opacity="0.59"/><ellipse cx="111" cy="173.6" rx="7.13" ry="4.98" transform="rotate(99.8 111.3 174.1)" opacity="0.68"/><ellipse cx="113.1" cy="176.1" rx="3.25" ry="3.74" transform="rotate(39.3 113.1 176.1)" opacity="0.47"/><ellipse cx="68" cy="177.2" rx="10.6" ry="3.9" transform="rotate(30 67.2 176.7)" opacity="0.85"/><ellipse cx="69.4" cy="175" rx="4.73" ry="2.39" transform="rotate(167.7 69.4 175)" opacity="0.38"/><ellipse cx="143" cy="181.9" rx="9.02" ry="5.89" transform="rotate(161.6 143.8 182.6)" opacity="0.72"/><ellipse cx="144.5" cy="180.7" rx="3.74" ry="4" transform="rotate(53.6 144.5 180.7)" opacity="0.39"/><ellipse cx="83.4" cy="186.6" rx="6.69" ry="4.61" transform="rotate(112.9 84.1 185.6)" opacity="0.77"/><ellipse cx="83.2" cy="183" rx="3.07" ry="2.4" transform="rotate(73 83.2 183)" opacity="0.51"/><ellipse cx="100.2" cy="187.9" rx="10" ry="5.92" transform="rotate(74.9 99.2 187.4)" opacity="0.7"/><ellipse cx="99.1" cy="189.3" rx="5.3" ry="3.21" transform="rotate(34.9 99.1 189.3)" opacity="0.5"/><ellipse cx="93.4" cy="189.6" rx="10.3" ry="5.21" transform="rotate(130.4 94.3 189.2)" opacity="0.85"/><ellipse cx="93.9" cy="188.2" rx="4.34" ry="3.66" transform="rotate(122.6 93.9 188.2)" opacity="0.47"/><ellipse cx="40.3" cy="188.2" rx="7.26" ry="3.9" transform="rotate(126.1 40.5 187.4)" opacity="0.79"/><ellipse cx="42.7" cy="189.1" rx="5.37" ry="3.73" transform="rotate(149.6 42.7 189.1)" opacity="0.62"/><ellipse cx="117.1" cy="188.3" rx="8.84" ry="5.21" transform="rotate(144.9 117 189.2)" opacity="0.83"/><ellipse cx="115.5" cy="188.9" rx="3.94" ry="2.45" transform="rotate(37 115.5 188.9)" opacity="0.48"/><ellipse cx="121.4" cy="194.2" rx="7.72" ry="4.53" transform="rotate(174.3 122 193.3)" opacity="0.63"/><ellipse cx="122.9" cy="196.1" rx="3.19" ry="2.43" transform="rotate(23.1 122.9 196.1)" opacity="0.38"/><ellipse cx="50.8" cy="194.6" rx="9.68" ry="4.8" transform="rotate(14.5 50.8 194.5)" opacity="0.57"/><ellipse cx="50.2" cy="195.4" rx="5.08" ry="3.66" transform="rotate(135 50.2 195.4)" opacity="0.39"/><ellipse cx="139.1" cy="195.6" rx="9.99" ry="3.99" transform="rotate(8.47 139.8 195.1)" opacity="0.58"/><ellipse cx="142.1" cy="195" rx="3.22" ry="3.13" transform="rotate(107.8 142.1 195)" opacity="0.37"/><ellipse cx="86.1" cy="196" rx="10.3" ry="5.55" transform="rotate(113.8 86.8 196.3)" opacity="0.68"/><ellipse cx="85.2" cy="197" rx="3.81" ry="2.87" transform="rotate(34.7 85.2 197)" opacity="0.41"/><ellipse cx="86" cy="200.1" rx="9.68" ry="5.01" transform="rotate(99.3 85.3 199.9)" opacity="0.66"/><ellipse cx="87.9" cy="200.2" rx="3.84" ry="3.01" transform="rotate(51.8 87.9 200.2)" opacity="0.57"/><ellipse cx="108.1" cy="198.9" rx="6.92" ry="5.73" transform="rotate(7.81 107.6 199.9)" opacity="0.87"/><ellipse cx="109.1" cy="200.3" rx="4.06" ry="3.65" transform="rotate(34.3 109.1 200.3)" opacity="0.71"/><ellipse cx="101.4" cy="202.4" rx="8.77" ry="4.84" transform="rotate(7.02 101 202.6)" opacity="0.78"/><ellipse cx="99.7" cy="201.4" rx="5.23" ry="2.46" transform="rotate(172.6 99.7 201.4)" opacity="0.39"/><ellipse cx="85.4" cy="208.7" rx="6.79" ry="4.83" transform="rotate(168.3 84.6 208.8)" opacity="0.54"/><ellipse cx="85.3" cy="207.6" rx="4.85" ry="3.14" transform="rotate(173.5 85.3 207.6)" opacity="0.41"/><ellipse cx="133.9" cy="221.7" rx="8" ry="5.53" transform="rotate(34.6 133.1 221.3)" opacity="0.66"/><ellipse cx="133.9" cy="224.1" rx="4.13" ry="3.71" transform="rotate(59.1 133.9 224.1)" opacity="0.53"/><ellipse cx="110.4" cy="222.2" rx="7.37" ry="4.55" transform="rotate(81.2 109.9 223)" opacity="0.68"/><ellipse cx="110.1" cy="225.3" rx="5.07" ry="2.71" transform="rotate(129.6 110.1 225.3)" opacity="0.54"/><ellipse cx="36.6" cy="226.3" rx="9.21" ry="6.09" transform="rotate(23 36.9 225.3)" opacity="0.53"/><ellipse cx="35.9" cy="226.1" rx="3.05" ry="2.83" transform="rotate(5.1 35.9 226.1)" opacity="0.69"/><ellipse cx="83.1" cy="228.8" rx="7.06" ry="5.21" transform="rotate(158.3 83.2 228.4)" opacity="0.69"/><ellipse cx="82.6" cy="225.6" rx="3.84" ry="3.58" transform="rotate(62.1 82.6 225.6)" opacity="0.7"/><ellipse cx="70.1" cy="235.8" rx="7.55" ry="5.82" transform="rotate(75.1 70.7 236.4)" opacity="0.73"/><ellipse cx="69.9" cy="237.1" rx="3.75" ry="4.02" transform="rotate(85 69.9 237.1)" opacity="0.62"/><ellipse cx="97" cy="234.8" rx="9.15" ry="5.1" transform="rotate(6.85 97.5 234.3)" opacity="0.81"/><ellipse cx="99.3" cy="234.3" rx="4.73" ry="3" transform="rotate(66.6 99.3 234.3)" opacity="0.42"/><ellipse cx="114.1" cy="240.6" rx="7.26" ry="4.67" transform="rotate(160.8 113.5 240)" opacity="0.75"/><ellipse cx="115.9" cy="240.1" rx="3.45" ry="3.97" transform="rotate(174.7 115.9 240.1)" opacity="0.38"/></g>
<g fill="url(#gn2)"><ellipse cx="43.1" cy="149.1" rx="2.75" ry="2.47" transform="rotate(39.3 43.1 149.1)" opacity="0.94"/><ellipse cx="123.3" cy="150.9" rx="3.69" ry="2.64" transform="rotate(44.6 123.3 150.9)" opacity="0.93"/><ellipse cx="48.5" cy="161.6" rx="3.01" ry="2.44" transform="rotate(59 48.5 161.6)" opacity="0.89"/><ellipse cx="77" cy="167.8" rx="3.39" ry="2.67" transform="rotate(13.6 77 167.8)" opacity="0.92"/><ellipse cx="34.2" cy="171.9" rx="3.21" ry="2.57" transform="rotate(140.7 34.2 171.9)" opacity="0.89"/><ellipse cx="89.4" cy="173.7" rx="3.25" ry="2.78" transform="rotate(163.7 89.4 173.7)" opacity="0.83"/><ellipse cx="111.3" cy="174.1" rx="3.36" ry="2.91" transform="rotate(2.34 111.3 174.1)" opacity="0.88"/><ellipse cx="67.2" cy="176.7" rx="3.11" ry="3.04" transform="rotate(134.2 67.2 176.7)" opacity="0.89"/><ellipse cx="143.8" cy="182.6" rx="2.84" ry="2.87" transform="rotate(171.9 143.8 182.6)" opacity="0.95"/><ellipse cx="84.1" cy="185.6" rx="3.09" ry="2.85" transform="rotate(90.7 84.1 185.6)" opacity="0.93"/><ellipse cx="99.2" cy="187.4" rx="2.89" ry="2.88" transform="rotate(113.9 99.2 187.4)" opacity="0.89"/><ellipse cx="94.3" cy="189.2" rx="3.38" ry="3.02" transform="rotate(72.6 94.3 189.2)" opacity="0.83"/><ellipse cx="40.5" cy="187.4" rx="2.96" ry="2.9" transform="rotate(1.3 40.5 187.4)" opacity="0.97"/><ellipse cx="117" cy="189.2" rx="3.54" ry="2.75" transform="rotate(49.5 117 189.2)" opacity="0.85"/><ellipse cx="122" cy="193.3" rx="3.39" ry="2.92" transform="rotate(156.3 122 193.3)" opacity="0.96"/><ellipse cx="50.8" cy="194.5" rx="3.53" ry="2.41" transform="rotate(168.7 50.8 194.5)" opacity="0.96"/><ellipse cx="139.8" cy="195.1" rx="3.68" ry="2.94" transform="rotate(155.8 139.8 195.1)" opacity="0.98"/><ellipse cx="86.8" cy="196.3" rx="3.62" ry="3.02" transform="rotate(65.8 86.8 196.3)" opacity="0.91"/><ellipse cx="85.3" cy="199.9" rx="2.86" ry="2.66" transform="rotate(76.2 85.3 199.9)" opacity="1"/><ellipse cx="107.6" cy="199.9" rx="2.78" ry="3.08" transform="rotate(174 107.6 199.9)" opacity="1"/><ellipse cx="101" cy="202.6" rx="3.5" ry="3.01" transform="rotate(1.63 101 202.6)" opacity="0.84"/><ellipse cx="84.6" cy="208.8" rx="2.93" ry="3.12" transform="rotate(81.7 84.6 208.8)" opacity="0.95"/><ellipse cx="133.1" cy="221.3" rx="2.87" ry="2.9" transform="rotate(19.2 133.1 221.3)" opacity="0.96"/><ellipse cx="109.9" cy="223" rx="3.22" ry="2.47" transform="rotate(104.9 109.9 223)" opacity="0.98"/><ellipse cx="36.9" cy="225.3" rx="3.54" ry="2.42" transform="rotate(168.1 36.9 225.3)" opacity="0.83"/><ellipse cx="83.2" cy="228.4" rx="3.33" ry="2.61" transform="rotate(36.8 83.2 228.4)" opacity="0.84"/><ellipse cx="70.7" cy="236.4" rx="3.7" ry="2.43" transform="rotate(6.63 70.7 236.4)" opacity="0.87"/><ellipse cx="97.5" cy="234.3" rx="3.34" ry="2.51" transform="rotate(89.5 97.5 234.3)" opacity="0.97"/><ellipse cx="113.5" cy="240" rx="2.88" ry="2.57" transform="rotate(84.3 113.5 240)" opacity="0.98"/></g>
</g>
<rect x="150.2" y="145.2" width="116.7" height="97.6" fill="#020203"/>
<g clip-path="url(#c4)">
<g fill="url(#go1)"><ellipse cx="162.7" cy="213.8" rx="16.2" ry="13.6" transform="rotate(48.8 162.7 213.8)" opacity="0.19"/><ellipse cx="235.9" cy="209.5" rx="12.3" ry="11.8" transform="rotate(71.4 235.9 209.5)" opacity="0.27"/><ellipse cx="164" cy="167" rx="18.9" ry="9.51" transform="rotate(46.9 164 167)" opacity="0.27"/><ellipse cx="223.9" cy="159.8" rx="15.1" ry="11.6" transform="rotate(29.7 223.9 159.8)" opacity="0.25"/><ellipse cx="164.6" cy="178.1" rx="9.92" ry="8.43" transform="rotate(176 164.6 178.1)" opacity="0.21"/><ellipse cx="265.8" cy="188" rx="15.7" ry="13.1" transform="rotate(123.6 265.8 188)" opacity="0.17"/><ellipse cx="218.9" cy="207.1" rx="11" ry="7.66" transform="rotate(157.5 218.9 207.1)" opacity="0.23"/><ellipse cx="172.8" cy="189.4" rx="11.4" ry="12.6" transform="rotate(90.1 172.8 189.4)" opacity="0.17"/><ellipse cx="245.7" cy="153.9" rx="12.1" ry="7.2" transform="rotate(133.3 245.7 153.9)" opacity="0.17"/><ellipse cx="211.6" cy="154.3" rx="14.3" ry="11.8" transform="rotate(96.3 211.6 154.3)" opacity="0.22"/><ellipse cx="206.8" cy="187.9" rx="15.5" ry="7.66" transform="rotate(85.4 206.8 187.9)" opacity="0.19"/><ellipse cx="251.2" cy="236.8" rx="9.73" ry="8" transform="rotate(126.6 251.2 236.8)" opacity="0.24"/><ellipse cx="152.4" cy="214" rx="19.4" ry="9.96" transform="rotate(62.5 152.4 214)" opacity="0.24"/><ellipse cx="259.8" cy="170.9" rx="12.3" ry="8.32" transform="rotate(113.1 259.8 170.9)" opacity="0.22"/><ellipse cx="180.1" cy="183.1" rx="9.38" ry="9.19" transform="rotate(176.9 180.1 183.1)" opacity="0.24"/><ellipse cx="183.2" cy="236.6" rx="12.9" ry="8.76" transform="rotate(6.33 183.2 236.6)" opacity="0.17"/><ellipse cx="173.4" cy="167.7" rx="18.6" ry="8.85" transform="rotate(44.7 173.4 167.7)" opacity="0.24"/><ellipse cx="257.2" cy="173.6" rx="17.4" ry="9.58" transform="rotate(101 257.2 173.6)" opacity="0.24"/><ellipse cx="260.2" cy="219.1" rx="14.6" ry="12.9" transform="rotate(66 260.2 219.1)" opacity="0.21"/><ellipse cx="262.2" cy="198.5" rx="17.5" ry="9.2" transform="rotate(164.8 262.2 198.5)" opacity="0.24"/><ellipse cx="179.1" cy="236.3" rx="14.2" ry="9.38" transform="rotate(47.3 179.1 236.3)" opacity="0.17"/><ellipse cx="173.6" cy="212.8" rx="10.5" ry="8.81" transform="rotate(80.5 173.6 212.8)" opacity="0.23"/><ellipse cx="194.6" cy="221.8" rx="11.8" ry="9.58" transform="rotate(76.5 194.6 221.8)" opacity="0.17"/><ellipse cx="176.1" cy="159.5" rx="17" ry="8.03" transform="rotate(120.3 176.1 159.5)" opacity="0.18"/><ellipse cx="225.7" cy="209.3" rx="12.9" ry="13.5" transform="rotate(118.2 225.7 209.3)" opacity="0.23"/><ellipse cx="155.6" cy="184.9" rx="11.9" ry="10.3" transform="rotate(168 155.6 184.9)" opacity="0.28"/><ellipse cx="157.4" cy="211.6" rx="19.3" ry="10.8" transform="rotate(17.4 157.4 211.6)" opacity="0.28"/><ellipse cx="200" cy="240.9" rx="18.6" ry="12.8" transform="rotate(167.6 200 240.9)" opacity="0.16"/><ellipse cx="242.8" cy="175" rx="10.5" ry="9.65" transform="rotate(106 242.8 175)" opacity="0.15"/><ellipse cx="202.7" cy="221.7" rx="14.4" ry="10.7" transform="rotate(53.3 202.7 221.7)" opacity="0.3"/><ellipse cx="179.2" cy="211.7" rx="16.1" ry="7" transform="rotate(179.4 179.2 211.7)" opacity="0.19"/><ellipse cx="265.6" cy="235.8" rx="18.9" ry="13" transform="rotate(71.6 265.6 235.8)" opacity="0.22"/><ellipse cx="190.5" cy="236.6" rx="9.32" ry="7.96" transform="rotate(172.2 190.5 236.6)" opacity="0.27"/><ellipse cx="232.6" cy="239.7" rx="14.8" ry="12.8" transform="rotate(79.7 232.6 239.7)" opacity="0.29"/><ellipse cx="158.3" cy="188" rx="15.3" ry="12.6" transform="rotate(76.1 158.3 188)" opacity="0.25"/><ellipse cx="263.1" cy="186.1" rx="11.2" ry="7.21" transform="rotate(155.1 263.1 186.1)" opacity="0.22"/><ellipse cx="195.5" cy="195.9" rx="10.3" ry="8.55" transform="rotate(42.4 195.5 195.9)" opacity="0.19"/><ellipse cx="250.5" cy="169.3" rx="10" ry="13.1" transform="rotate(100.5 250.5 169.3)" opacity="0.15"/><ellipse cx="229" cy="212.2" rx="16.1" ry="12.4" transform="rotate(76.3 229 212.2)" opacity="0.18"/><ellipse cx="237.1" cy="206.2" rx="16.7" ry="8.29" transform="rotate(67.1 237.1 206.2)" opacity="0.25"/></g>
<g fill="url(#go4)"><ellipse cx="187.8" cy="153.1" rx="6.11" ry="2.56" transform="rotate(106.5 187.8 153.1)" opacity="0.29"/><ellipse cx="192.1" cy="149.5" rx="5.27" ry="1.85" transform="rotate(359.6 192.1 149.5)" opacity="0.3"/><ellipse cx="194.6" cy="144" rx="5.52" ry="1.7" transform="rotate(285.2 194.6 144)" opacity="0.31"/><ellipse cx="191" cy="149.6" rx="5.61" ry="2.44" transform="rotate(139.6 191 149.6)" opacity="0.17"/><ellipse cx="205" cy="156.5" rx="7.94" ry="1.88" transform="rotate(209.5 205 156.5)" opacity="0.33"/><ellipse cx="246.9" cy="155.7" rx="5.68" ry="2.31" transform="rotate(37.4 246.9 155.7)" opacity="0.3"/><ellipse cx="251.3" cy="148" rx="7.31" ry="1.92" transform="rotate(235.3 251.3 148)" opacity="0.25"/><ellipse cx="254" cy="163.1" rx="8.21" ry="1.9" transform="rotate(162.6 254 163.1)" opacity="0.16"/><ellipse cx="254" cy="163" rx="7.99" ry="2.62" transform="rotate(163.8 254 163)" opacity="0.27"/><ellipse cx="163.2" cy="165.6" rx="6.38" ry="2.96" transform="rotate(159.9 163.2 165.6)" opacity="0.22"/><ellipse cx="173" cy="168.1" rx="5.81" ry="1.72" transform="rotate(66.7 173 168.1)" opacity="0.34"/><ellipse cx="172.9" cy="161.8" rx="5.24" ry="2.95" transform="rotate(293.5 172.9 161.8)" opacity="0.27"/><ellipse cx="190.3" cy="157.7" rx="6.81" ry="2.69" transform="rotate(277.7 190.3 157.7)" opacity="0.26"/><ellipse cx="181.1" cy="162.1" rx="7.79" ry="2.02" transform="rotate(277.1 181.1 162.1)" opacity="0.2"/><ellipse cx="234.9" cy="162.2" rx="6.33" ry="1.53" transform="rotate(196.9 234.9 162.2)" opacity="0.22"/><ellipse cx="233.5" cy="163" rx="8.36" ry="3.05" transform="rotate(183.7 233.5 163)" opacity="0.15"/><ellipse cx="250.9" cy="162.8" rx="6.94" ry="2.91" transform="rotate(227.8 250.9 162.8)" opacity="0.34"/><ellipse cx="225.3" cy="173.6" rx="5.81" ry="1.98" transform="rotate(105.1 225.3 173.6)" opacity="0.25"/><ellipse cx="240.6" cy="169.9" rx="8.15" ry="2.45" transform="rotate(271 240.6 169.9)" opacity="0.33"/><ellipse cx="246" cy="179" rx="6.99" ry="2.19" transform="rotate(112.4 246 179)" opacity="0.33"/><ellipse cx="247.3" cy="178.6" rx="5.79" ry="2.8" transform="rotate(94.6 247.3 178.6)" opacity="0.22"/><ellipse cx="203.8" cy="176.7" rx="6.93" ry="2.78" transform="rotate(352.3 203.8 176.7)" opacity="0.25"/><ellipse cx="158" cy="177" rx="6.57" ry="2.72" transform="rotate(330.2 158 177)" opacity="0.23"/><ellipse cx="154.7" cy="182.7" rx="5.86" ry="2.07" transform="rotate(86 154.7 182.7)" opacity="0.25"/><ellipse cx="223.6" cy="181.6" rx="5.25" ry="1.98" transform="rotate(255.2 223.6 181.6)" opacity="0.33"/><ellipse cx="242.8" cy="189.5" rx="7.87" ry="2.72" transform="rotate(142.1 242.8 189.5)" opacity="0.15"/><ellipse cx="246.6" cy="182.4" rx="6.67" ry="2.19" transform="rotate(267.6 246.6 182.4)" opacity="0.17"/><ellipse cx="210.4" cy="191.8" rx="6.1" ry="2.96" transform="rotate(86.6 210.4 191.8)" opacity="0.27"/><ellipse cx="216.9" cy="197.1" rx="8.4" ry="2.82" transform="rotate(85.5 216.9 197.1)" opacity="0.16"/><ellipse cx="213.7" cy="195.9" rx="7.77" ry="3.04" transform="rotate(124.1 213.7 195.9)" opacity="0.15"/><ellipse cx="153.6" cy="193.7" rx="5.09" ry="2.78" transform="rotate(173 153.6 193.7)" opacity="0.16"/><ellipse cx="160.7" cy="196.6" rx="8.18" ry="1.69" transform="rotate(39.6 160.7 196.6)" opacity="0.15"/><ellipse cx="178.6" cy="196.4" rx="7.74" ry="2.78" transform="rotate(35.2 178.6 196.4)" opacity="0.21"/><ellipse cx="169.9" cy="191.4" rx="8.3" ry="1.83" transform="rotate(206.2 169.9 191.4)" opacity="0.25"/><ellipse cx="241.1" cy="189.8" rx="5.1" ry="2.79" transform="rotate(247.7 241.1 189.8)" opacity="0.3"/><ellipse cx="242.4" cy="196" rx="5.13" ry="2.54" transform="rotate(88.3 242.4 196)" opacity="0.3"/><ellipse cx="266" cy="197.2" rx="6.23" ry="2.68" transform="rotate(67.6 266 197.2)" opacity="0.18"/><ellipse cx="262" cy="196.9" rx="6.56" ry="2.11" transform="rotate(128 262 196.9)" opacity="0.27"/><ellipse cx="252.4" cy="198.2" rx="5.9" ry="2.43" transform="rotate(16.2 252.4 198.2)" opacity="0.19"/><ellipse cx="249.3" cy="193.2" rx="6.44" ry="3.03" transform="rotate(276.5 249.3 193.2)" opacity="0.17"/><ellipse cx="209.5" cy="195" rx="7.31" ry="1.58" transform="rotate(300.3 209.5 195)" opacity="0.32"/><ellipse cx="205.4" cy="201.8" rx="5.32" ry="1.54" transform="rotate(121.9 205.4 201.8)" opacity="0.21"/><ellipse cx="186.4" cy="208" rx="7.93" ry="3.02" transform="rotate(66.3 186.4 208)" opacity="0.29"/><ellipse cx="255.7" cy="204.2" rx="5.45" ry="2.47" transform="rotate(303.3 255.7 204.2)" opacity="0.33"/><ellipse cx="255.9" cy="210" rx="5.76" ry="2.72" transform="rotate(54.9 255.9 210)" opacity="0.29"/><ellipse cx="201.6" cy="205.8" rx="7.3" ry="1.57" transform="rotate(238.8 201.6 205.8)" opacity="0.19"/><ellipse cx="231.1" cy="210.5" rx="5.97" ry="3.01" transform="rotate(162 231.1 210.5)" opacity="0.31"/><ellipse cx="233.1" cy="211.4" rx="8.2" ry="3.03" transform="rotate(3.87 233.1 211.4)" opacity="0.23"/><ellipse cx="223.9" cy="213.5" rx="7.67" ry="1.62" transform="rotate(150.3 223.9 213.5)" opacity="0.31"/><ellipse cx="180.7" cy="206.3" rx="6.78" ry="1.67" transform="rotate(273 180.7 206.3)" opacity="0.25"/><ellipse cx="256.1" cy="215.7" rx="6.61" ry="1.59" transform="rotate(70.5 256.1 215.7)" opacity="0.29"/><ellipse cx="211.6" cy="216.4" rx="7.01" ry="2.13" transform="rotate(6.49 211.6 216.4)" opacity="0.17"/><ellipse cx="208.1" cy="220" rx="6.7" ry="2.43" transform="rotate(77.6 208.1 220)" opacity="0.21"/><ellipse cx="212.8" cy="213.4" rx="5.38" ry="1.74" transform="rotate(294.1 212.8 213.4)" opacity="0.18"/><ellipse cx="171.4" cy="215.4" rx="7.08" ry="2.34" transform="rotate(211.4 171.4 215.4)" opacity="0.18"/><ellipse cx="257.9" cy="222" rx="5.45" ry="1.82" transform="rotate(130.9 257.9 222)" opacity="0.15"/><ellipse cx="188.3" cy="225.8" rx="6.39" ry="2.07" transform="rotate(136.4 188.3 225.8)" opacity="0.33"/><ellipse cx="217.2" cy="228.7" rx="5.98" ry="1.55" transform="rotate(54.5 217.2 228.7)" opacity="0.22"/><ellipse cx="211.7" cy="222.2" rx="7.78" ry="2.54" transform="rotate(226.3 211.7 222.2)" opacity="0.24"/><ellipse cx="151.1" cy="224.5" rx="6.38" ry="2.77" transform="rotate(228 151.1 224.5)" opacity="0.3"/><ellipse cx="232.8" cy="227.4" rx="4.83" ry="1.97" transform="rotate(292.6 232.8 227.4)" opacity="0.19"/><ellipse cx="196.5" cy="235.6" rx="7.68" ry="2" transform="rotate(145 196.5 235.6)" opacity="0.32"/><ellipse cx="176.4" cy="236.5" rx="5.71" ry="2.68" transform="rotate(7.13 176.4 236.5)" opacity="0.18"/><ellipse cx="191.3" cy="239.8" rx="5.65" ry="2.32" transform="rotate(144.8 191.3 239.8)" opacity="0.16"/><ellipse cx="188.4" cy="235.4" rx="7.95" ry="1.62" transform="rotate(301.4 188.4 235.4)" opacity="0.3"/><ellipse cx="166.4" cy="238" rx="5.45" ry="1.59" transform="rotate(226.7 166.4 238)" opacity="0.23"/><ellipse cx="170.7" cy="243.1" rx="5.26" ry="2.62" transform="rotate(53.6 170.7 243.1)" opacity="0.28"/><ellipse cx="220.8" cy="243.2" rx="5.48" ry="2.43" transform="rotate(70 220.8 243.2)" opacity="0.32"/><ellipse cx="219.6" cy="236.6" rx="5.43" ry="2.86" transform="rotate(269.8 219.6 236.6)" opacity="0.25"/><ellipse cx="245.3" cy="244.4" rx="5.01" ry="1.96" transform="rotate(76.6 245.3 244.4)" opacity="0.23"/><ellipse cx="259.4" cy="237.8" rx="5.87" ry="1.76" transform="rotate(303.1 259.4 237.8)" opacity="0.34"/><ellipse cx="189.4" cy="149.2" rx="8.51" ry="6.86" transform="rotate(85.1 188.9 149.5)" opacity="0.68"/><ellipse cx="189.7" cy="147.8" rx="4.43" ry="4.41" transform="rotate(24 189.7 147.8)" opacity="0.67"/><ellipse cx="188.3" cy="153" rx="5.63" ry="3.25" transform="rotate(93.8 188.3 153)" opacity="0.6"/><ellipse cx="194.4" cy="147.5" rx="10.5" ry="5.64" transform="rotate(155.5 193.7 147.3)" opacity="0.79"/><ellipse cx="194.2" cy="146" rx="4.67" ry="4.95" transform="rotate(114.3 194.2 146)" opacity="0.47"/><ellipse cx="189.9" cy="146.8" rx="4.21" ry="2.98" transform="rotate(156.7 189.9 146.8)" opacity="0.44"/><ellipse cx="208.5" cy="159.6" rx="8.72" ry="7.41" transform="rotate(137.5 209.3 158.9)" opacity="0.79"/><ellipse cx="209.5" cy="161.6" rx="4.53" ry="4.17" transform="rotate(135.3 209.5 161.6)" opacity="0.48"/><ellipse cx="208" cy="158.6" rx="6.74" ry="4.38" transform="rotate(149.5 208 158.6)" opacity="0.37"/><ellipse cx="244.3" cy="154.4" rx="9.2" ry="5.93" transform="rotate(92.1 244.1 153.6)" opacity="0.81"/><ellipse cx="245.8" cy="155.3" rx="6.69" ry="3.28" transform="rotate(87.1 245.8 155.3)" opacity="0.61"/><ellipse cx="245.7" cy="154.7" rx="5.64" ry="3.64" transform="rotate(135.2 245.7 154.7)" opacity="0.54"/><ellipse cx="254.8" cy="151.6" rx="10.7" ry="6.29" transform="rotate(32.1 253.9 151.8)" opacity="0.63"/><ellipse cx="255" cy="149.5" rx="7.04" ry="4.56" transform="rotate(170.3 255 149.5)" opacity="0.4"/><ellipse cx="256.2" cy="150.9" rx="6.18" ry="3.6" transform="rotate(43.9 256.2 150.9)" opacity="0.45"/><ellipse cx="258.3" cy="161" rx="7.52" ry="6.18" transform="rotate(20.3 258.8 161.6)" opacity="0.74"/><ellipse cx="259" cy="160.5" rx="4.77" ry="3.46" transform="rotate(60 259 160.5)" opacity="0.39"/><ellipse cx="260.5" cy="162.2" rx="4.45" ry="4.2" transform="rotate(147.5 260.5 162.2)" opacity="0.58"/><ellipse cx="167.8" cy="163.9" rx="10.8" ry="7.95" transform="rotate(90.8 166.9 164.3)" opacity="0.55"/><ellipse cx="166.3" cy="163.4" rx="7.11" ry="3.66" transform="rotate(76.3 166.3 163.4)" opacity="0.45"/><ellipse cx="165.8" cy="166.5" rx="6.53" ry="2.91" transform="rotate(61.8 165.8 166.5)" opacity="0.43"/><ellipse cx="171.2" cy="164.8" rx="8.56" ry="5.67" transform="rotate(126.7 171.6 164.8)" opacity="0.7"/><ellipse cx="171.9" cy="161.7" rx="5.46" ry="5.16" transform="rotate(170.2 171.9 161.7)" opacity="0.7"/><ellipse cx="171.1" cy="162.6" rx="5.05" ry="4.94" transform="rotate(85.3 171.1 162.6)" opacity="0.63"/><ellipse cx="189" cy="162.2" rx="7.16" ry="6.43" transform="rotate(4.07 189.7 161.9)" opacity="0.77"/><ellipse cx="190.5" cy="163.3" rx="6.16" ry="3.8" transform="rotate(37.9 190.5 163.3)" opacity="0.39"/><ellipse cx="190.7" cy="160.3" rx="4.06" ry="5.2" transform="rotate(166.1 190.7 160.3)" opacity="0.35"/><ellipse cx="180.3" cy="166.8" rx="7.15" ry="5.99" transform="rotate(109.3 180.5 166.9)" opacity="0.72"/><ellipse cx="178.8" cy="165.3" rx="6.87" ry="3.01" transform="rotate(173.5 178.8 165.3)" opacity="0.61"/><ellipse cx="181.4" cy="169.5" rx="6.55" ry="3.18" transform="rotate(54.1 181.4 169.5)" opacity="0.35"/><ellipse cx="239.5" cy="163.7" rx="10.3" ry="8.06" transform="rotate(74.7 238.7 163.4)" opacity="0.78"/><ellipse cx="235.5" cy="163.1" rx="5.52" ry="3.53" transform="rotate(86 235.5 163.1)" opacity="0.36"/><ellipse cx="237.8" cy="161.6" rx="4.45" ry="4.78" transform="rotate(94.7 237.8 161.6)" opacity="0.46"/><ellipse cx="254.8" cy="166.6" rx="7.19" ry="5.14" transform="rotate(135.9 253.9 166)" opacity="0.72"/><ellipse cx="252.3" cy="167.5" rx="4.28" ry="3.83" transform="rotate(21.9 252.3 167.5)" opacity="0.65"/><ellipse cx="251.8" cy="165.5" rx="6.7" ry="3.6" transform="rotate(157 251.8 165.5)" opacity="0.61"/><ellipse cx="227" cy="170.4" rx="10.9" ry="5.7" transform="rotate(166.8 226.3 170.1)" opacity="0.55"/><ellipse cx="227.8" cy="168.8" rx="4.96" ry="5.16" transform="rotate(15.8 227.8 168.8)" opacity="0.59"/><ellipse cx="226.8" cy="173.6" rx="4.57" ry="3.14" transform="rotate(87.6 226.8 173.6)" opacity="0.51"/><ellipse cx="240" cy="174.9" rx="9.23" ry="7.57" transform="rotate(123.8 240.5 174.9)" opacity="0.54"/><ellipse cx="237.4" cy="175.5" rx="3.84" ry="4.43" transform="rotate(165.8 237.4 175.5)" opacity="0.45"/><ellipse cx="239.3" cy="177.6" rx="4.36" ry="3.53" transform="rotate(111.1 239.3 177.6)" opacity="0.54"/><ellipse cx="247.2" cy="174.1" rx="10.2" ry="6.2" transform="rotate(69.8 247.6 174.9)" opacity="0.83"/><ellipse cx="245.7" cy="174.9" rx="4.62" ry="5.22" transform="rotate(161.3 245.7 174.9)" opacity="0.51"/><ellipse cx="250.4" cy="173.6" rx="6.27" ry="4.46" transform="rotate(136 250.4 173.6)" opacity="0.67"/><ellipse cx="200.5" cy="177.4" rx="10.1" ry="6.38" transform="rotate(131.7 199.5 177.3)" opacity="0.66"/><ellipse cx="200.9" cy="180.5" rx="6.8" ry="3.57" transform="rotate(174.5 200.9 180.5)" opacity="0.53"/><ellipse cx="202.6" cy="177.9" rx="7.07" ry="3.29" transform="rotate(170 202.6 177.9)" opacity="0.69"/><ellipse cx="153.6" cy="179.8" rx="7.79" ry="5.44" transform="rotate(156.7 154.5 179)" opacity="0.55"/><ellipse cx="157.7" cy="179.6" rx="5.23" ry="4.26" transform="rotate(30.5 157.7 179.6)" opacity="0.53"/><ellipse cx="155.8" cy="181.4" rx="4.89" ry="4.69" transform="rotate(29.2 155.8 181.4)" opacity="0.68"/><ellipse cx="224.6" cy="183.9" rx="7.24" ry="5.52" transform="rotate(71.4 224.5 184.7)" opacity="0.52"/><ellipse cx="223.5" cy="184.4" rx="6.61" ry="4.49" transform="rotate(84.2 223.5 184.4)" opacity="0.72"/><ellipse cx="220.8" cy="185.1" rx="4.58" ry="3.07" transform="rotate(75.1 220.8 185.1)" opacity="0.54"/><ellipse cx="245.8" cy="186.4" rx="10.1" ry="5.04" transform="rotate(10.6 246.7 186.5)" opacity="0.52"/><ellipse cx="247.5" cy="187.4" rx="7.18" ry="4" transform="rotate(47 247.5 187.4)" opacity="0.4"/><ellipse cx="246.5" cy="187.8" rx="6.52" ry="5.1" transform="rotate(146.7 246.5 187.8)" opacity="0.37"/><ellipse cx="209.6" cy="188.2" rx="10.2" ry="5.82" transform="rotate(131.4 210.2 187.9)" opacity="0.75"/><ellipse cx="208.4" cy="186.6" rx="6.61" ry="3.87" transform="rotate(12.7 208.4 186.6)" opacity="0.4"/><ellipse cx="212.1" cy="190.5" rx="4.06" ry="5.2" transform="rotate(103.8 212.1 190.5)" opacity="0.37"/><ellipse cx="216.1" cy="192" rx="7.93" ry="7.2" transform="rotate(102.2 216.5 191.9)" opacity="0.67"/><ellipse cx="215.4" cy="191.4" rx="7.1" ry="3.81" transform="rotate(72 215.4 191.4)" opacity="0.69"/><ellipse cx="218.8" cy="189.9" rx="4.24" ry="3.84" transform="rotate(81.3 218.8 189.9)" opacity="0.35"/><ellipse cx="156.1" cy="192.4" rx="8.59" ry="6.54" transform="rotate(139.3 156.8 193.3)" opacity="0.59"/><ellipse cx="159.8" cy="195.5" rx="5.57" ry="3.36" transform="rotate(58 159.8 195.5)" opacity="0.44"/><ellipse cx="155" cy="193.9" rx="5.94" ry="3.4" transform="rotate(123.5 155 193.9)" opacity="0.69"/><ellipse cx="174.6" cy="194.6" rx="7.05" ry="6.43" transform="rotate(106.2 174.6 193.6)" opacity="0.71"/><ellipse cx="176.7" cy="193.7" rx="4.37" ry="5.02" transform="rotate(41 176.7 193.7)" opacity="0.59"/><ellipse cx="172.5" cy="194.4" rx="5.65" ry="3.49" transform="rotate(116.2 172.5 194.4)" opacity="0.57"/><ellipse cx="242.4" cy="193.3" rx="9.02" ry="6.15" transform="rotate(105.3 242.3 192.8)" opacity="0.63"/><ellipse cx="241.3" cy="193" rx="6.35" ry="3.02" transform="rotate(157.3 241.3 193)" opacity="0.54"/><ellipse cx="240.4" cy="191.9" rx="5.7" ry="3.12" transform="rotate(28.2 240.4 191.9)" opacity="0.54"/><ellipse cx="263.6" cy="193.4" rx="10.5" ry="6.49" transform="rotate(38.8 264.5 193.6)" opacity="0.77"/><ellipse cx="263.4" cy="192.9" rx="6.06" ry="3.29" transform="rotate(108.2 263.4 192.9)" opacity="0.63"/><ellipse cx="262" cy="195.1" rx="4.4" ry="4.63" transform="rotate(120 262 195.1)" opacity="0.69"/><ellipse cx="249.5" cy="197.8" rx="7.42" ry="7.78" transform="rotate(38 248.9 197.2)" opacity="0.7"/><ellipse cx="248.9" cy="194" rx="4.43" ry="4.88" transform="rotate(29.2 248.9 194)" opacity="0.7"/><ellipse cx="251.7" cy="198.5" rx="5.9" ry="3.44" transform="rotate(123.6 251.7 198.5)" opacity="0.48"/><ellipse cx="207.6" cy="198.8" rx="7.89" ry="6.58" transform="rotate(144.2 207.2 199)" opacity="0.81"/><ellipse cx="208.8" cy="201.9" rx="7.16" ry="4.9" transform="rotate(20.7 208.8 201.9)" opacity="0.49"/><ellipse cx="208.8" cy="200.1" rx="5.18" ry="3.26" transform="rotate(83 208.8 200.1)" opacity="0.66"/><ellipse cx="183.4" cy="204" rx="8.78" ry="6.44" transform="rotate(101.1 184.4 203.4)" opacity="0.71"/><ellipse cx="181.5" cy="201.3" rx="4.35" ry="4.66" transform="rotate(172.2 181.5 201.3)" opacity="0.67"/><ellipse cx="186.1" cy="204.2" rx="6.18" ry="4.77" transform="rotate(54.7 186.1 204.2)" opacity="0.54"/><ellipse cx="254.5" cy="206.6" rx="7.99" ry="5.77" transform="rotate(34.4 253.9 207)" opacity="0.6"/><ellipse cx="252.5" cy="208.1" rx="4.62" ry="4.52" transform="rotate(10.5 252.5 208.1)" opacity="0.45"/><ellipse cx="253.8" cy="210.6" rx="6.22" ry="5.04" transform="rotate(161.8 253.8 210.6)" opacity="0.53"/><ellipse cx="205" cy="209.2" rx="8.74" ry="5.47" transform="rotate(83.4 204 209.7)" opacity="0.63"/><ellipse cx="206.5" cy="206.8" rx="5.57" ry="4.2" transform="rotate(91 206.5 206.8)" opacity="0.61"/><ellipse cx="207" cy="207.8" rx="5.74" ry="3.99" transform="rotate(153.5 207 207.8)" opacity="0.6"/><ellipse cx="235.3" cy="209.6" rx="10.2" ry="7.34" transform="rotate(168.1 234.6 209.3)" opacity="0.64"/><ellipse cx="232.6" cy="210.5" rx="6.93" ry="4.73" transform="rotate(88.6 232.6 210.5)" opacity="0.45"/><ellipse cx="235.1" cy="211.3" rx="6.64" ry="4.9" transform="rotate(117.4 235.1 211.3)" opacity="0.59"/><ellipse cx="228.3" cy="211.9" rx="9.29" ry="8.05" transform="rotate(85.4 228 211.1)" opacity="0.63"/><ellipse cx="225.4" cy="212.3" rx="6.24" ry="4.56" transform="rotate(73.3 225.4 212.3)" opacity="0.45"/><ellipse cx="228.4" cy="208.1" rx="5.59" ry="3.5" transform="rotate(12.8 228.4 208.1)" opacity="0.54"/><ellipse cx="180.6" cy="210.9" rx="9.99" ry="5.82" transform="rotate(71 180.5 210.6)" opacity="0.54"/><ellipse cx="182.8" cy="209.4" rx="5.71" ry="5.18" transform="rotate(37.2 182.8 209.4)" opacity="0.68"/><ellipse cx="184.2" cy="209.6" rx="4.97" ry="4.81" transform="rotate(178.1 184.2 209.6)" opacity="0.57"/><ellipse cx="255.6" cy="210.8" rx="7.77" ry="5.3" transform="rotate(32.3 254.7 211.8)" opacity="0.67"/><ellipse cx="255.7" cy="212.3" rx="6.95" ry="4.09" transform="rotate(154.4 255.7 212.3)" opacity="0.58"/><ellipse cx="251.9" cy="210.4" rx="3.86" ry="3.38" transform="rotate(122.3 251.9 210.4)" opacity="0.72"/><ellipse cx="206.5" cy="216.6" rx="7.21" ry="7.07" transform="rotate(176.6 207.2 215.9)" opacity="0.6"/><ellipse cx="206.9" cy="214.6" rx="6.89" ry="3.58" transform="rotate(151.1 206.9 214.6)" opacity="0.48"/><ellipse cx="205.8" cy="216.1" rx="4.77" ry="4" transform="rotate(120.4 205.8 216.1)" opacity="0.69"/><ellipse cx="211.3" cy="217.1" rx="9.62" ry="5.02" transform="rotate(55.1 211.5 216.4)" opacity="0.61"/><ellipse cx="208.4" cy="216.4" rx="5.83" ry="5.2" transform="rotate(144.6 208.4 216.4)" opacity="0.34"/><ellipse cx="211.7" cy="215.4" rx="5.5" ry="4.11" transform="rotate(87.1 211.7 215.4)" opacity="0.64"/><ellipse cx="175.9" cy="217.4" rx="9.56" ry="7.32" transform="rotate(63.1 175.1 217.7)" opacity="0.71"/><ellipse cx="178.9" cy="218.4" rx="5.07" ry="5.01" transform="rotate(45.1 178.9 218.4)" opacity="0.41"/><ellipse cx="175.9" cy="219.7" rx="5.43" ry="4.68" transform="rotate(66.4 175.9 219.7)" opacity="0.44"/><ellipse cx="260" cy="219.4" rx="9.86" ry="5.04" transform="rotate(125.4 260.1 219.5)" opacity="0.83"/><ellipse cx="261.8" cy="218.7" rx="4.06" ry="4" transform="rotate(167.3 261.8 218.7)" opacity="0.63"/><ellipse cx="262.4" cy="218.9" rx="4.03" ry="4.49" transform="rotate(124 262.4 218.9)" opacity="0.67"/><ellipse cx="191.8" cy="222.2" rx="7.33" ry="5.18" transform="rotate(141 191.2 223)" opacity="0.66"/><ellipse cx="192.3" cy="224.6" rx="5.38" ry="3.56" transform="rotate(61.4 192.3 224.6)" opacity="0.52"/><ellipse cx="190.8" cy="221.5" rx="4.4" ry="3.99" transform="rotate(52.9 190.8 221.5)" opacity="0.43"/><ellipse cx="215.3" cy="226" rx="7.14" ry="7.23" transform="rotate(145.2 215 225.7)" opacity="0.6"/><ellipse cx="214.4" cy="227.2" rx="4.05" ry="4.83" transform="rotate(70.5 214.4 227.2)" opacity="0.64"/><ellipse cx="212.1" cy="224.5" rx="6.9" ry="3.51" transform="rotate(170.9 212.1 224.5)" opacity="0.56"/><ellipse cx="153.1" cy="227.8" rx="7.98" ry="5.21" transform="rotate(108.9 153.8 227.5)" opacity="0.52"/><ellipse cx="153.5" cy="225.8" rx="4.38" ry="3.98" transform="rotate(39.8 153.5 225.8)" opacity="0.64"/><ellipse cx="152.5" cy="225.6" rx="5.63" ry="4.72" transform="rotate(117.5 152.5 225.6)" opacity="0.5"/><ellipse cx="232.5" cy="229.9" rx="7.03" ry="5.12" transform="rotate(20.5 231.6 230.2)" opacity="0.68"/><ellipse cx="229.4" cy="230.9" rx="6.1" ry="4.38" transform="rotate(37.5 229.4 230.9)" opacity="0.53"/><ellipse cx="232.9" cy="228.3" rx="5.39" ry="3.57" transform="rotate(73.5 232.9 228.3)" opacity="0.49"/><ellipse cx="200.2" cy="232.8" rx="8.36" ry="6.69" transform="rotate(51.7 200.4 232.8)" opacity="0.77"/><ellipse cx="202.8" cy="231.2" rx="5.5" ry="5.21" transform="rotate(46.3 202.8 231.2)" opacity="0.61"/><ellipse cx="200.3" cy="234.4" rx="6.08" ry="4.29" transform="rotate(77.3 200.3 234.4)" opacity="0.39"/><ellipse cx="173.1" cy="235.2" rx="9.86" ry="5.72" transform="rotate(11.2 172.8 236)" opacity="0.8"/><ellipse cx="173.6" cy="237.7" rx="4.21" ry="4.75" transform="rotate(32.1 173.6 237.7)" opacity="0.4"/><ellipse cx="172" cy="237.1" rx="4.08" ry="5.08" transform="rotate(74.1 172 237.1)" opacity="0.44"/><ellipse cx="193.5" cy="238.4" rx="7" ry="7.19" transform="rotate(38.9 194.2 237.8)" opacity="0.62"/><ellipse cx="193.5" cy="239.7" rx="4.78" ry="4.31" transform="rotate(77.1 193.5 239.7)" opacity="0.38"/><ellipse cx="194.2" cy="241.3" rx="5.85" ry="2.9" transform="rotate(140.3 194.2 241.3)" opacity="0.46"/><ellipse cx="185.1" cy="239.2" rx="7.36" ry="7.25" transform="rotate(42.6 185.8 239.6)" opacity="0.72"/><ellipse cx="185.2" cy="237.7" rx="5.12" ry="2.96" transform="rotate(85.3 185.2 237.7)" opacity="0.58"/><ellipse cx="183.2" cy="238.7" rx="5.69" ry="4.86" transform="rotate(155.7 183.2 238.7)" opacity="0.53"/><ellipse cx="168.2" cy="239.6" rx="8.73" ry="6.53" transform="rotate(164 168.7 240.5)" opacity="0.65"/><ellipse cx="166.8" cy="240.1" rx="4.67" ry="3.86" transform="rotate(98.6 166.8 240.1)" opacity="0.39"/><ellipse cx="168.6" cy="244" rx="6.63" ry="5.18" transform="rotate(52 168.6 244)" opacity="0.47"/><ellipse cx="219.2" cy="239.7" rx="7.41" ry="7.85" transform="rotate(120.2 219.7 240)" opacity="0.67"/><ellipse cx="217.1" cy="240.9" rx="4.29" ry="4.57" transform="rotate(27 217.1 240.9)" opacity="0.71"/><ellipse cx="217.8" cy="242.5" rx="3.99" ry="3.87" transform="rotate(176.3 217.8 242.5)" opacity="0.63"/><ellipse cx="244.5" cy="240.6" rx="10.6" ry="6.98" transform="rotate(139.6 244.6 241.4)" opacity="0.65"/><ellipse cx="243" cy="241.8" rx="4.55" ry="3.89" transform="rotate(173.2 243 241.8)" opacity="0.72"/><ellipse cx="246.3" cy="244.3" rx="4.83" ry="3.86" transform="rotate(159 246.3 244.3)" opacity="0.6"/><ellipse cx="257.8" cy="240.4" rx="10.9" ry="5.88" transform="rotate(21.3 257.4 240.8)" opacity="0.78"/><ellipse cx="258.7" cy="244.2" rx="5.62" ry="2.94" transform="rotate(165.4 258.7 244.2)" opacity="0.51"/><ellipse cx="258.9" cy="241.5" rx="4.89" ry="3.74" transform="rotate(128 258.9 241.5)" opacity="0.47"/></g>
<g fill="url(#gn2)"><ellipse cx="188.9" cy="149.5" rx="3.94" ry="2.53" transform="rotate(73.4 188.9 149.5)" opacity="0.84"/><ellipse cx="193.7" cy="147.3" rx="3.63" ry="2.98" transform="rotate(130.1 193.7 147.3)" opacity="0.95"/><ellipse cx="209.3" cy="158.9" rx="2.85" ry="3.19" transform="rotate(171.2 209.3 158.9)" opacity="0.93"/><ellipse cx="244.1" cy="153.6" rx="3.14" ry="3.27" transform="rotate(97.2 244.1 153.6)" opacity="0.98"/><ellipse cx="253.9" cy="151.8" rx="3.51" ry="3.29" transform="rotate(96.7 253.9 151.8)" opacity="0.86"/><ellipse cx="258.8" cy="161.6" rx="2.85" ry="2.61" transform="rotate(45 258.8 161.6)" opacity="0.87"/><ellipse cx="166.9" cy="164.3" rx="3.84" ry="2.63" transform="rotate(49.9 166.9 164.3)" opacity="0.92"/><ellipse cx="171.6" cy="164.8" rx="3.36" ry="2.87" transform="rotate(5.25 171.6 164.8)" opacity="0.84"/><ellipse cx="189.7" cy="161.9" rx="3.16" ry="3.2" transform="rotate(114.5 189.7 161.9)" opacity="0.96"/><ellipse cx="180.5" cy="166.9" rx="3.01" ry="3.28" transform="rotate(149.4 180.5 166.9)" opacity="0.9"/><ellipse cx="238.7" cy="163.4" rx="3.89" ry="2.9" transform="rotate(58.5 238.7 163.4)" opacity="0.95"/><ellipse cx="253.9" cy="166" rx="3" ry="3.07" transform="rotate(32.3 253.9 166)" opacity="0.99"/><ellipse cx="226.3" cy="170.1" rx="3.54" ry="3.2" transform="rotate(160.2 226.3 170.1)" opacity="0.94"/><ellipse cx="240.5" cy="174.9" rx="3.48" ry="2.7" transform="rotate(137.9 240.5 174.9)" opacity="0.97"/><ellipse cx="247.6" cy="174.9" rx="3.33" ry="2.54" transform="rotate(51.2 247.6 174.9)" opacity="0.93"/><ellipse cx="199.5" cy="177.3" rx="3.56" ry="3.19" transform="rotate(1.99 199.5 177.3)" opacity="0.94"/><ellipse cx="154.5" cy="179" rx="3.14" ry="2.75" transform="rotate(133.9 154.5 179)" opacity="0.9"/><ellipse cx="224.5" cy="184.7" rx="3.34" ry="3.04" transform="rotate(152.5 224.5 184.7)" opacity="0.99"/><ellipse cx="246.7" cy="186.5" rx="3.2" ry="2.89" transform="rotate(24.2 246.7 186.5)" opacity="0.87"/><ellipse cx="210.2" cy="187.9" rx="3.49" ry="2.89" transform="rotate(57.1 210.2 187.9)" opacity="0.94"/><ellipse cx="216.5" cy="191.9" rx="3.77" ry="2.76" transform="rotate(72.6 216.5 191.9)" opacity="0.92"/><ellipse cx="156.8" cy="193.3" rx="3.88" ry="3.01" transform="rotate(35.3 156.8 193.3)" opacity="0.9"/><ellipse cx="174.6" cy="193.6" rx="3.13" ry="2.83" transform="rotate(100.2 174.6 193.6)" opacity="0.89"/><ellipse cx="242.3" cy="192.8" rx="3.16" ry="2.67" transform="rotate(38.8 242.3 192.8)" opacity="0.91"/><ellipse cx="264.5" cy="193.6" rx="2.97" ry="2.7" transform="rotate(155.4 264.5 193.6)" opacity="0.85"/><ellipse cx="248.9" cy="197.2" rx="3.78" ry="2.96" transform="rotate(56.5 248.9 197.2)" opacity="0.89"/><ellipse cx="207.2" cy="199" rx="2.99" ry="3.14" transform="rotate(48.3 207.2 199)" opacity="0.91"/><ellipse cx="184.4" cy="203.4" rx="3.75" ry="2.98" transform="rotate(69 184.4 203.4)" opacity="0.94"/><ellipse cx="253.9" cy="207" rx="3.78" ry="2.92" transform="rotate(80.7 253.9 207)" opacity="0.92"/><ellipse cx="204" cy="209.7" rx="3" ry="3.14" transform="rotate(106.3 204 209.7)" opacity="0.85"/><ellipse cx="234.6" cy="209.3" rx="3.01" ry="3.15" transform="rotate(168.4 234.6 209.3)" opacity="0.89"/><ellipse cx="228" cy="211.1" rx="2.85" ry="3.28" transform="rotate(7.37 228 211.1)" opacity="1"/><ellipse cx="180.5" cy="210.6" rx="3.39" ry="3.22" transform="rotate(37 180.5 210.6)" opacity="0.92"/><ellipse cx="254.7" cy="211.8" rx="3.45" ry="3.21" transform="rotate(177.6 254.7 211.8)" opacity="0.84"/><ellipse cx="207.2" cy="215.9" rx="3.63" ry="2.59" transform="rotate(163.3 207.2 215.9)" opacity="0.99"/><ellipse cx="211.5" cy="216.4" rx="3.34" ry="2.91" transform="rotate(65.6 211.5 216.4)" opacity="0.92"/><ellipse cx="175.1" cy="217.7" rx="3.17" ry="2.77" transform="rotate(25 175.1 217.7)" opacity="0.95"/><ellipse cx="260.1" cy="219.5" rx="2.89" ry="2.61" transform="rotate(12.4 260.1 219.5)" opacity="0.93"/><ellipse cx="191.2" cy="223" rx="2.92" ry="2.64" transform="rotate(106.1 191.2 223)" opacity="0.97"/><ellipse cx="215" cy="225.7" rx="3.71" ry="3.14" transform="rotate(143 215 225.7)" opacity="0.98"/><ellipse cx="153.8" cy="227.5" rx="3.44" ry="3.01" transform="rotate(27.3 153.8 227.5)" opacity="0.83"/><ellipse cx="231.6" cy="230.2" rx="3.74" ry="2.9" transform="rotate(123.5 231.6 230.2)" opacity="0.96"/><ellipse cx="200.4" cy="232.8" rx="3.15" ry="3.1" transform="rotate(30 200.4 232.8)" opacity="0.99"/><ellipse cx="172.8" cy="236" rx="3.69" ry="2.61" transform="rotate(24.6 172.8 236)" opacity="0.93"/><ellipse cx="194.2" cy="237.8" rx="3.21" ry="3.15" transform="rotate(121.5 194.2 237.8)" opacity="0.99"/><ellipse cx="185.8" cy="239.6" rx="3.07" ry="2.58" transform="rotate(158.8 185.8 239.6)" opacity="0.93"/><ellipse cx="168.7" cy="240.5" rx="3.13" ry="2.75" transform="rotate(21.8 168.7 240.5)" opacity="0.93"/><ellipse cx="219.7" cy="240" rx="3.27" ry="2.74" transform="rotate(98.2 219.7 240)" opacity="0.94"/><ellipse cx="244.6" cy="241.4" rx="3.35" ry="2.8" transform="rotate(157.2 244.6 241.4)" opacity="0.93"/><ellipse cx="257.4" cy="240.8" rx="3.67" ry="3.08" transform="rotate(10.2 257.4 240.8)" opacity="0.97"/></g>
</g>
<text x="335" y="24.2" font-size="14.2" font-weight="bold" text-anchor="start" fill="#000">B</text>
<line x1="375" y1="22.5" x2="375" y2="150.9" stroke="#000" stroke-width="1.25"/>
<line x1="374.4" y1="150.3" x2="552.7" y2="150.3" stroke="#000" stroke-width="1.25"/>
<line x1="370.4" y1="23.1" x2="375" y2="23.1" stroke="#000" stroke-width="1.25"/>
<text x="367.7" y="26.2" font-size="7" font-weight="bold" text-anchor="end" fill="#000">1.4</text>
<line x1="370.4" y1="65.5" x2="375" y2="65.5" stroke="#000" stroke-width="1.25"/>
<text x="367.7" y="68.6" font-size="7" font-weight="bold" text-anchor="end" fill="#000">1.2</text>
<line x1="370.4" y1="107.9" x2="375" y2="107.9" stroke="#000" stroke-width="1.25"/>
<text x="367.7" y="111" font-size="7" font-weight="bold" text-anchor="end" fill="#000">1.0</text>
<line x1="370.4" y1="150.3" x2="375" y2="150.3" stroke="#000" stroke-width="1.25"/>
<text x="367.7" y="153.4" font-size="7" font-weight="bold" text-anchor="end" fill="#000">0.8</text>
<line x1="375" y1="150.3" x2="375" y2="154.9" stroke="#000" stroke-width="1.25"/>
<text x="375" y="163.9" font-size="7" font-weight="bold" text-anchor="middle" fill="#000">0</text>
<line x1="400.3" y1="150.3" x2="400.3" y2="154.9" stroke="#000" stroke-width="1.25"/>
<text x="400.3" y="163.9" font-size="7" font-weight="bold" text-anchor="middle" fill="#000">10</text>
<line x1="425.6" y1="150.3" x2="425.6" y2="154.9" stroke="#000" stroke-width="1.25"/>
<text x="425.6" y="163.9" font-size="7" font-weight="bold" text-anchor="middle" fill="#000">20</text>
<line x1="450.9" y1="150.3" x2="450.9" y2="154.9" stroke="#000" stroke-width="1.25"/>
<text x="450.9" y="163.9" font-size="7" font-weight="bold" text-anchor="middle" fill="#000">30</text>
<line x1="476.2" y1="150.3" x2="476.2" y2="154.9" stroke="#000" stroke-width="1.25"/>
<text x="476.2" y="163.9" font-size="7" font-weight="bold" text-anchor="middle" fill="#000">40</text>
<line x1="501.5" y1="150.3" x2="501.5" y2="154.9" stroke="#000" stroke-width="1.25"/>
<text x="501.5" y="163.9" font-size="7" font-weight="bold" text-anchor="middle" fill="#000">50</text>
<line x1="526.8" y1="150.3" x2="526.8" y2="154.9" stroke="#000" stroke-width="1.25"/>
<text x="526.8" y="163.9" font-size="7" font-weight="bold" text-anchor="middle" fill="#000">60</text>
<line x1="552.1" y1="150.3" x2="552.1" y2="154.9" stroke="#000" stroke-width="1.25"/>
<text x="552.1" y="163.9" font-size="7" font-weight="bold" text-anchor="middle" fill="#000">70</text>
<text x="353.3" y="88" font-size="6.6" font-weight="bold" text-anchor="middle" transform="rotate(-90 353.3 88)">ΔF/F<tspan font-size="4.29" dy="1.2">0</tspan><tspan dy="-1.2"> (%)</tspan></text>
<text x="439" y="175.3" font-size="6.8" font-weight="bold" text-anchor="start" fill="#000">Time (seconds)</text>
<text x="399.6" y="24.3" font-size="6.4" font-weight="bold" text-anchor="start" fill="#000">Icilin</text>
<line x1="399.6" y1="26.6" x2="548.3" y2="26.6" stroke="#000" stroke-width="1.3"/>
<path d="M556.3 26.6L547.3 22.8L547.3 30.4Z" stroke="none" stroke-width="0" fill="#000"/>
<line x1="397" y1="5.3" x2="410.6" y2="5.3" stroke="#9ec6f7" stroke-width="1.5"/>
<circle cx="403.8" cy="5.3" r="2.0" fill="#9ec6f7"/>
<text x="418" y="7.8" font-size="6.8" font-weight="bold" text-anchor="start" fill="#000">Vehicle</text>
<line x1="467" y1="5.3" x2="480.8" y2="5.3" stroke="#ee9a3f" stroke-width="1.5"/>
<rect x="472.0" y="3.4" width="3.8" height="3.8" fill="#ee9a3f"/>
<text x="488.2" y="7.8" font-size="6.8" font-weight="bold" text-anchor="start" fill="#000">Luteolin 10µM</text>
<path d="M375 109.4V106.2M373.4 106.2H376.6M373.4 109.4H376.6M376.3 108.6V105.1M374.7 105.1H377.9M374.7 108.6H377.9M377.5 109.6V106.7M375.9 106.7H379.1M375.9 109.6H379.1M378.8 110V106.3M377.2 106.3H380.4M377.2 110H380.4M380.1 109.9V106M378.5 106H381.7M378.5 109.9H381.7M381.3 109V105.6M379.7 105.6H382.9M379.7 109H382.9M382.6 109.2V105.6M381 105.6H384.2M381 109.2H384.2M383.9 110.2V107.2M382.3 107.2H385.5M382.3 110.2H385.5M385.1 110.7V107.3M383.5 107.3H386.7M383.5 110.7H386.7M386.4 112.8V109.1M384.8 109.1H388M384.8 112.8H388M387.6 113.4V109.8M386 109.8H389.2M386 113.4H389.2M388.9 115.2V111.7M387.3 111.7H390.5M387.3 115.2H390.5M390.2 117.1V113M388.6 113H391.8M388.6 117.1H391.8M391.4 118.5V114.6M389.8 114.6H393M389.8 118.5H393M392.7 121.1V116.6M391.1 116.6H394.3M391.1 121.1H394.3M394 122.7V117.9M392.4 117.9H395.6M392.4 122.7H395.6M395.2 121.9V117.8M393.6 117.8H396.8M393.6 121.9H396.8M396.5 120.2V115.4M394.9 115.4H398.1M394.9 120.2H398.1M397.8 120.4V116.6M396.2 116.6H399.4M396.2 120.4H399.4M399 121.1V117.2M397.4 117.2H400.6M397.4 121.1H400.6M400.3 120.2V115.8M398.7 115.8H401.9M398.7 120.2H401.9M401.6 121.3V117.3M400 117.3H403.2M400 121.3H403.2M402.8 122.2V118.2M401.2 118.2H404.4M401.2 122.2H404.4M404.1 121.8V117.4M402.5 117.4H405.7M402.5 121.8H405.7M405.4 123.6V119.1M403.8 119.1H407M403.8 123.6H407M406.6 123.3V118.5M405 118.5H408.2M405 123.3H408.2M407.9 120.8V116.4M406.3 116.4H409.5M406.3 120.8H409.5M409.2 124.4V120.5M407.6 120.5H410.8M407.6 124.4H410.8M410.4 121.6V116.8M408.8 116.8H412M408.8 121.6H412M411.7 124.6V120.2M410.1 120.2H413.3M410.1 124.6H413.3M412.9 123.3V118.6M411.3 118.6H414.6M411.3 123.3H414.6M414.2 123.7V119.3M412.6 119.3H415.8M412.6 123.7H415.8M415.5 123.5V118.8M413.9 118.8H417.1M413.9 123.5H417.1M416.7 123.3V118.4M415.1 118.4H418.3M415.1 123.3H418.3M418 122V117.9M416.4 117.9H419.6M416.4 122H419.6M419.3 122.5V118.7M417.7 118.7H420.9M417.7 122.5H420.9M420.5 124.2V119.5M418.9 119.5H422.1M418.9 124.2H422.1M421.8 122.8V119M420.2 119H423.4M420.2 122.8H423.4M423.1 125.8V120.9M421.5 120.9H424.7M421.5 125.8H424.7M424.3 126.5V121.9M422.7 121.9H425.9M422.7 126.5H425.9M425.6 125.7V120.6M424 120.6H427.2M424 125.7H427.2M426.9 129.9V124M425.3 124H428.5M425.3 129.9H428.5M428.1 128.5V123.3M426.5 123.3H429.7M426.5 128.5H429.7M429.4 128.1V123.7M427.8 123.7H431M427.8 128.1H431M430.7 129V123.8M429.1 123.8H432.3M429.1 129H432.3M431.9 128.6V124M430.3 124H433.5M430.3 128.6H433.5M433.2 128.3V123.5M431.6 123.5H434.8M431.6 128.3H434.8M434.5 130.5V124.7M432.9 124.7H436.1M432.9 130.5H436.1M435.7 130.3V125.3M434.1 125.3H437.3M434.1 130.3H437.3M437 130.3V125.2M435.4 125.2H438.6M435.4 130.3H438.6M438.2 129.4V124.2M436.6 124.2H439.9M436.6 129.4H439.9M439.5 128.4V123.1M437.9 123.1H441.1M437.9 128.4H441.1M440.8 125.6V120.7M439.2 120.7H442.4M439.2 125.6H442.4M442 126.4V121M440.4 121H443.6M440.4 126.4H443.6M443.3 125.4V119.6M441.7 119.6H444.9M441.7 125.4H444.9M444.6 124.4V119.3M443 119.3H446.2M443 124.4H446.2M445.8 125.1V120.2M444.2 120.2H447.4M444.2 125.1H447.4M447.1 125.2V120M445.5 120H448.7M445.5 125.2H448.7M448.4 124V118.7M446.8 118.7H450M446.8 124H450M449.6 124.6V120.2M448 120.2H451.2M448 124.6H451.2M450.9 125.9V120.5M449.3 120.5H452.5M449.3 125.9H452.5M452.2 125.6V120.8M450.6 120.8H453.8M450.6 125.6H453.8M453.4 125.1V120.7M451.8 120.7H455M451.8 125.1H455M454.7 126.1V121.7M453.1 121.7H456.3M453.1 126.1H456.3M456 125.9V121.2M454.4 121.2H457.6M454.4 125.9H457.6M457.2 127V122M455.6 122H458.8M455.6 127H458.8M458.5 125.6V120.7M456.9 120.7H460.1M456.9 125.6H460.1M459.8 125.3V120.5M458.2 120.5H461.4M458.2 125.3H461.4M461 125.7V120.9M459.4 120.9H462.6M459.4 125.7H462.6M462.3 124.1V119.2M460.7 119.2H463.9M460.7 124.1H463.9M463.6 125.1V119.9M461.9 119.9H465.2M461.9 125.1H465.2M464.8 126.8V121.4M463.2 121.4H466.4M463.2 126.8H466.4M466.1 128.3V122.7M464.5 122.7H467.7M464.5 128.3H467.7M467.3 127V122.5M465.7 122.5H468.9M465.7 127H468.9M468.6 127.6V122.4M467 122.4H470.2M467 127.6H470.2M469.9 126.6V122.4M468.3 122.4H471.5M468.3 126.6H471.5M471.1 128.3V123.2M469.5 123.2H472.7M469.5 128.3H472.7M472.4 127V122.5M470.8 122.5H474M470.8 127H474M473.7 127.2V123M472.1 123H475.3M472.1 127.2H475.3M474.9 128.1V123.6M473.3 123.6H476.5M473.3 128.1H476.5M476.2 126.7V122.9M474.6 122.9H477.8M474.6 126.7H477.8M477.5 128.3V124.5M475.9 124.5H479.1M475.9 128.3H479.1M478.7 128.9V124.3M477.1 124.3H480.3M477.1 128.9H480.3M480 128.8V124.1M478.4 124.1H481.6M478.4 128.8H481.6M481.3 128.6V124M479.7 124H482.9M479.7 128.6H482.9M482.5 128.5V124M480.9 124H484.1M480.9 128.5H484.1M483.8 128.8V125M482.2 125H485.4M482.2 128.8H485.4M485.1 130.1V126.2M483.5 126.2H486.7M483.5 130.1H486.7M486.3 129.5V125.5M484.7 125.5H487.9M484.7 129.5H487.9M487.6 130.7V126.6M486 126.6H489.2M486 130.7H489.2M488.9 131.4V126.6M487.2 126.6H490.5M487.2 131.4H490.5M490.1 129.9V126.1M488.5 126.1H491.7M488.5 129.9H491.7M491.4 128.9V124.2M489.8 124.2H493M489.8 128.9H493M492.6 131.1V126.2M491 126.2H494.2M491 131.1H494.2M493.9 133.1V128.4M492.3 128.4H495.5M492.3 133.1H495.5M495.2 130.1V126.2M493.6 126.2H496.8M493.6 130.1H496.8M496.4 131.4V127M494.8 127H498M494.8 131.4H498M497.7 133V128.8M496.1 128.8H499.3M496.1 133H499.3M499 131.6V127.7M497.4 127.7H500.6M497.4 131.6H500.6M500.2 130.7V127M498.6 127H501.8M498.6 130.7H501.8M501.5 132.6V128M499.9 128H503.1M499.9 132.6H503.1M502.8 132.2V128.5M501.2 128.5H504.4M501.2 132.2H504.4M504 131.5V126.7M502.4 126.7H505.6M502.4 131.5H505.6M505.3 133.6V128.8M503.7 128.8H506.9M503.7 133.6H506.9M506.6 131.6V128M505 128H508.2M505 131.6H508.2M507.8 133.8V129.3M506.2 129.3H509.4M506.2 133.8H509.4M509.1 133V128.6M507.5 128.6H510.7M507.5 133H510.7M510.4 132.9V128.6M508.8 128.6H512M508.8 132.9H512M511.6 135.5V131.1M510 131.1H513.2M510 135.5H513.2M512.9 132.8V128.8M511.3 128.8H514.5M511.3 132.8H514.5M514.1 134.2V130M512.5 130H515.8M512.5 134.2H515.8M515.4 132.8V128.2M513.8 128.2H517M513.8 132.8H517M516.7 134.8V130.5M515.1 130.5H518.3M515.1 134.8H518.3M517.9 134.3V129.7M516.3 129.7H519.5M516.3 134.3H519.5M519.2 134.3V129.5M517.6 129.5H520.8M517.6 134.3H520.8M520.5 133.7V129.1M518.9 129.1H522.1M518.9 133.7H522.1M521.7 135V130.6M520.1 130.6H523.3M520.1 135H523.3M523 135.4V130.7M521.4 130.7H524.6M521.4 135.4H524.6M524.3 134.4V130.5M522.7 130.5H525.9M522.7 134.4H525.9M525.5 135.1V130.9M523.9 130.9H527.1M523.9 135.1H527.1M526.8 136.5V131.9M525.2 131.9H528.4M525.2 136.5H528.4M528.1 134.9V131.3M526.5 131.3H529.7M526.5 134.9H529.7M529.3 135.3V131.5M527.7 131.5H530.9M527.7 135.3H530.9M530.6 135.7V132M529 132H532.2M529 135.7H532.2M531.9 134.5V130.8M530.3 130.8H533.5M530.3 134.5H533.5M533.1 136.9V132.6M531.5 132.6H534.7M531.5 136.9H534.7M534.4 137.1V133M532.8 133H536M532.8 137.1H536M535.7 136.5V132.1M534.1 132.1H537.3M534.1 136.5H537.3M536.9 137.8V134M535.3 134H538.5M535.3 137.8H538.5M538.2 137.9V133.8M536.6 133.8H539.8M536.6 137.9H539.8M539.5 137.2V132.6M537.9 132.6H541.1M537.9 137.2H541.1M540.7 137.1V133M539.1 133H542.3M539.1 137.1H542.3M542 137.5V133.5M540.4 133.5H543.6M540.4 137.5H543.6M543.2 138V133.7M541.6 133.7H544.8M541.6 138H544.8M544.5 138.4V133.8M542.9 133.8H546.1M542.9 138.4H546.1M545.8 139.4V135M544.2 135H547.4M544.2 139.4H547.4M547 139.4V135.2M545.4 135.2H548.6M545.4 139.4H548.6M548.3 138.6V134.1M546.7 134.1H549.9M546.7 138.6H549.9M549.6 140.1V135.9M548 135.9H551.2M548 140.1H551.2M550.8 138.3V134.4M549.2 134.4H552.4M549.2 138.3H552.4M552.1 140.3V136.6M550.5 136.6H553.7M550.5 140.3H553.7" stroke="#ee9a3f" stroke-width="0.7" fill="none"/>
<path d="M375 107.8L376.3 106.8L377.5 108.1L378.8 108.1L380.1 107.9L381.3 107.3L382.6 107.4L383.9 108.7L385.1 109L386.4 110.9L387.6 111.6L388.9 113.5L390.2 115L391.4 116.5L392.7 118.8L394 120.3L395.2 119.8L396.5 117.8L397.8 118.5L399 119.1L400.3 118L401.6 119.3L402.8 120.2L404.1 119.6L405.4 121.4L406.6 120.9L407.9 118.6L409.2 122.5L410.4 119.2L411.7 122.4L412.9 121L414.2 121.5L415.5 121.1L416.7 120.9L418 120L419.3 120.6L420.5 121.9L421.8 120.9L423.1 123.4L424.3 124.2L425.6 123.1L426.9 126.9L428.1 125.9L429.4 125.9L430.7 126.4L431.9 126.3L433.2 125.9L434.5 127.6L435.7 127.8L437 127.8L438.2 126.8L439.5 125.8L440.8 123.1L442 123.7L443.3 122.5L444.6 121.8L445.8 122.7L447.1 122.6L448.4 121.4L449.6 122.4L450.9 123.2L452.2 123.2L453.4 122.9L454.7 123.9L456 123.5L457.2 124.5L458.5 123.2L459.8 122.9L461 123.3L462.3 121.7L463.6 122.5L464.8 124.1L466.1 125.5L467.3 124.8L468.6 125L469.9 124.5L471.1 125.7L472.4 124.7L473.7 125.1L474.9 125.9L476.2 124.8L477.5 126.4L478.7 126.6L480 126.4L481.3 126.3L482.5 126.2L483.8 126.9L485.1 128.2L486.3 127.5L487.6 128.6L488.9 129L490.1 128L491.4 126.5L492.6 128.6L493.9 130.7L495.2 128.2L496.4 129.2L497.7 130.9L499 129.6L500.2 128.8L501.5 130.3L502.8 130.3L504 129.1L505.3 131.2L506.6 129.8L507.8 131.6L509.1 130.8L510.4 130.7L511.6 133.3L512.9 130.8L514.1 132.1L515.4 130.5L516.7 132.7L517.9 132L519.2 131.9L520.5 131.4L521.7 132.8L523 133.1L524.3 132.4L525.5 133L526.8 134.2L528.1 133.1L529.3 133.4L530.6 133.9L531.9 132.6L533.1 134.8L534.4 135L535.7 134.3L536.9 135.9L538.2 135.9L539.5 134.9L540.7 135.1L542 135.5L543.2 135.9L544.5 136.1L545.8 137.2L547 137.3L548.3 136.4L549.6 138L550.8 136.4L552.1 138.4" stroke="#ee9a3f" stroke-width="1" fill="none" stroke-linejoin="round"/>
<path d="M375 107.8h.01M376.3 106.8h.01M377.5 108.1h.01M378.8 108.1h.01M380.1 107.9h.01M381.3 107.3h.01M382.6 107.4h.01M383.9 108.7h.01M385.1 109h.01M386.4 110.9h.01M387.6 111.6h.01M388.9 113.5h.01M390.2 115h.01M391.4 116.5h.01M392.7 118.8h.01M394 120.3h.01M395.2 119.8h.01M396.5 117.8h.01M397.8 118.5h.01M399 119.1h.01M400.3 118h.01M401.6 119.3h.01M402.8 120.2h.01M404.1 119.6h.01M405.4 121.4h.01M406.6 120.9h.01M407.9 118.6h.01M409.2 122.5h.01M410.4 119.2h.01M411.7 122.4h.01M412.9 121h.01M414.2 121.5h.01M415.5 121.1h.01M416.7 120.9h.01M418 120h.01M419.3 120.6h.01M420.5 121.9h.01M421.8 120.9h.01M423.1 123.4h.01M424.3 124.2h.01M425.6 123.1h.01M426.9 126.9h.01M428.1 125.9h.01M429.4 125.9h.01M430.7 126.4h.01M431.9 126.3h.01M433.2 125.9h.01M434.5 127.6h.01M435.7 127.8h.01M437 127.8h.01M438.2 126.8h.01M439.5 125.8h.01M440.8 123.1h.01M442 123.7h.01M443.3 122.5h.01M444.6 121.8h.01M445.8 122.7h.01M447.1 122.6h.01M448.4 121.4h.01M449.6 122.4h.01M450.9 123.2h.01M452.2 123.2h.01M453.4 122.9h.01M454.7 123.9h.01M456 123.5h.01M457.2 124.5h.01M458.5 123.2h.01M459.8 122.9h.01M461 123.3h.01M462.3 121.7h.01M463.6 122.5h.01M464.8 124.1h.01M466.1 125.5h.01M467.3 124.8h.01M468.6 125h.01M469.9 124.5h.01M471.1 125.7h.01M472.4 124.7h.01M473.7 125.1h.01M474.9 125.9h.01M476.2 124.8h.01M477.5 126.4h.01M478.7 126.6h.01M480 126.4h.01M481.3 126.3h.01M482.5 126.2h.01M483.8 126.9h.01M485.1 128.2h.01M486.3 127.5h.01M487.6 128.6h.01M488.9 129h.01M490.1 128h.01M491.4 126.5h.01M492.6 128.6h.01M493.9 130.7h.01M495.2 128.2h.01M496.4 129.2h.01M497.7 130.9h.01M499 129.6h.01M500.2 128.8h.01M501.5 130.3h.01M502.8 130.3h.01M504 129.1h.01M505.3 131.2h.01M506.6 129.8h.01M507.8 131.6h.01M509.1 130.8h.01M510.4 130.7h.01M511.6 133.3h.01M512.9 130.8h.01M514.1 132.1h.01M515.4 130.5h.01M516.7 132.7h.01M517.9 132h.01M519.2 131.9h.01M520.5 131.4h.01M521.7 132.8h.01M523 133.1h.01M524.3 132.4h.01M525.5 133h.01M526.8 134.2h.01M528.1 133.1h.01M529.3 133.4h.01M530.6 133.9h.01M531.9 132.6h.01M533.1 134.8h.01M534.4 135h.01M535.7 134.3h.01M536.9 135.9h.01M538.2 135.9h.01M539.5 134.9h.01M540.7 135.1h.01M542 135.5h.01M543.2 135.9h.01M544.5 136.1h.01M545.8 137.2h.01M547 137.3h.01M548.3 136.4h.01M549.6 138h.01M550.8 136.4h.01M552.1 138.4h.01" stroke="#ee9a3f" stroke-width="3.6" stroke-linecap="square" fill="none"/>
<path d="M375 107.9V106.2M373.3 106.2H376.7M376.3 108.1V106.5M374.6 106.5H378M377.5 108.2V106.2M375.8 106.2H379.2M378.8 109V107M377.1 107H380.5M380.1 109.7V107.7M378.4 107.7H381.8M381.3 110.6V108.8M379.6 108.8H383M382.6 110.5V108.6M380.9 108.6H384.3M383.9 110.8V108.5M382.2 108.5H385.6M385.1 111V108.6M383.4 108.6H386.8M386.4 112.9V110.9M384.7 110.9H388.1M387.6 112.6V110.2M385.9 110.2H389.3M388.9 111.8V109.3M387.2 109.3H390.6M390.2 112.8V110.4M388.5 110.4H391.9M391.4 113.5V111M389.7 111H393.1M392.7 114.1V111.7M391 111.7H394.4M394 114.1V111.9M392.3 111.9H395.7M395.2 113.3V110.7M393.5 110.7H396.9M396.5 114.1V111.5M394.8 111.5H398.2M397.8 111.9V108.8M396.1 108.8H399.5M399 112.1V108.9M397.3 108.9H400.7M400.3 114.2V111.3M398.6 111.3H402M401.6 116.2V113.5M399.9 113.5H403.3M402.8 118.5V115.5M401.1 115.5H404.5M404.1 120.9V118.7M402.4 118.7H405.8M405.4 123.2V120.8M403.7 120.8H407.1M406.6 121.5V118.8M404.9 118.8H408.3M407.9 120.1V116.9M406.2 116.9H409.6M409.2 117.2V114.6M407.5 114.6H410.9M410.4 115.4V112.3M408.7 112.3H412.1M411.7 112.6V109.7M410 109.7H413.4M412.9 110.2V107.1M411.2 107.1H414.6M414.2 103.8V100.1M412.5 100.1H415.9M415.5 99.4V96M413.8 96H417.2M416.7 94.9V91M415 91H418.4M418 90.4V84.7M416.3 84.7H419.7M419.3 87V79.4M417.6 79.4H421M420.5 81.5V73M418.8 73H422.2M421.8 79.3V68.1M420.1 68.1H423.5M423.1 78.4V67M421.4 67H424.8M424.3 80.4V68.1M422.6 68.1H426M425.6 78.7V66.3M423.9 66.3H427.3M426.9 78.8V67M425.2 67H428.6M428.1 79.9V68.5M426.4 68.5H429.8M429.4 77.4V65.4M427.7 65.4H431.1M430.7 78V67.3M429 67.3H432.4M431.9 77.1V67.5M430.2 67.5H433.6M433.2 78.3V68.1M431.5 68.1H434.9M434.5 75.6V66.5M432.8 66.5H436.2M435.7 76.7V65.3M434 65.3H437.4M437 77.8V67.9M435.3 67.9H438.7M438.2 78.8V67.3M436.6 67.3H439.9M439.5 79.3V69.7M437.8 69.7H441.2M440.8 80.4V72M439.1 72H442.5M442 81V72.5M440.3 72.5H443.7M443.3 82.1V74.1M441.6 74.1H445M444.6 82.9V73.9M442.9 73.9H446.3M445.8 83.2V75.4M444.1 75.4H447.5M447.1 81.7V72.9M445.4 72.9H448.8M448.4 84.5V74.8M446.7 74.8H450.1M449.6 84.7V76.3M447.9 76.3H451.3M450.9 83.5V76.2M449.2 76.2H452.6M452.2 82.3V74.1M450.5 74.1H453.9M453.4 82.4V73.1M451.7 73.1H455.1M454.7 79.4V70.6M453 70.6H456.4M456 78.6V70.1M454.3 70.1H457.7M457.2 77.3V68.5M455.5 68.5H458.9M458.5 75.5V66.6M456.8 66.6H460.2M459.8 72.7V63.7M458.1 63.7H461.5M461 71.7V59.5M459.3 59.5H462.7M462.3 71.7V61.2M460.6 61.2H464M463.6 69.4V57.4M461.9 57.4H465.2M464.8 69.6V57.6M463.1 57.6H466.5M466.1 68.2V57.8M464.4 57.8H467.8M467.3 66.8V53.9M465.6 53.9H469M468.6 65.8V55M466.9 55H470.3M469.9 68.9V57.3M468.2 57.3H471.6M471.1 68.8V57.2M469.4 57.2H472.8M472.4 71V60.7M470.7 60.7H474.1M473.7 71.8V62.6M472 62.6H475.4M474.9 73.1V62.4M473.2 62.4H476.6M476.2 73.1V62.4M474.5 62.4H477.9M477.5 74.4V64M475.8 64H479.2M478.7 75.4V65.4M477 65.4H480.4M480 76.5V68.7M478.3 68.7H481.7M481.3 76.5V69M479.6 69H483M482.5 78.6V71.1M480.8 71.1H484.2M483.8 80V71.3M482.1 71.3H485.5M485.1 81.1V72.2M483.4 72.2H486.8M486.3 81.5V72.9M484.6 72.9H488M487.6 82.5V76.2M485.9 76.2H489.3M488.9 83.3V75.6M487.2 75.6H490.6M490.1 84.2V76.5M488.4 76.5H491.8M491.4 83.7V75.8M489.7 75.8H493.1M492.6 85.2V78.6M490.9 78.6H494.3M493.9 85.2V77M492.2 77H495.6M495.2 85.6V77.5M493.5 77.5H496.9M496.4 85.5V78.7M494.7 78.7H498.1M497.7 84.2V77M496 77H499.4M499 84.5V74.8M497.3 74.8H500.7M500.2 83.9V74.5M498.5 74.5H501.9M501.5 82.7V72.4M499.8 72.4H503.2M502.8 83.9V74.8M501.1 74.8H504.5M504 84.4V75.1M502.3 75.1H505.7M505.3 86.8V79.9M503.6 79.9H507M506.6 88.8V80.7M504.9 80.7H508.3M507.8 89.9V83.2M506.1 83.2H509.5M509.1 91.3V83.5M507.4 83.5H510.8M510.4 92.2V86.5M508.7 86.5H512.1M511.6 93.4V86.4M509.9 86.4H513.3M512.9 94V87.7M511.2 87.7H514.6M514.1 96.3V89.4M512.4 89.4H515.9M515.4 95.1V89.6M513.7 89.6H517.1M516.7 95.9V89.9M515 89.9H518.4M517.9 97V90M516.2 90H519.6M519.2 97.6V91.8M517.5 91.8H520.9M520.5 95.6V88.1M518.8 88.1H522.2M521.7 95.6V88.6M520 88.6H523.4M523 95V88.1M521.3 88.1H524.7M524.3 96.2V88.2M522.6 88.2H526M525.5 94.8V88.2M523.8 88.2H527.2M526.8 94.3V86.3M525.1 86.3H528.5M528.1 94.2V85.9M526.4 85.9H529.8M529.3 96.5V89.7M527.6 89.7H531M530.6 97.5V89.7M528.9 89.7H532.3M531.9 99.5V91.9M530.2 91.9H533.6M533.1 99.2V92.6M531.4 92.6H534.8M534.4 101.4V95.5M532.7 95.5H536.1M535.7 102.7V95.8M534 95.8H537.4M536.9 104.2V98.5M535.2 98.5H538.6M538.2 103.5V96.9M536.5 96.9H539.9M539.5 104.5V98.7M537.8 98.7H541.2M540.7 106.5V101.3M539 101.3H542.4M542 106.5V100.4M540.3 100.4H543.7M543.2 107.7V102.4M541.5 102.4H544.9M544.5 107.4V100.6M542.8 100.6H546.2M545.8 108.1V102.3M544.1 102.3H547.5M547 108.4V101.6M545.3 101.6H548.7M548.3 109.8V103.2M546.6 103.2H550M549.6 110.3V103.4M547.9 103.4H551.3M550.8 110.8V102.5M549.1 102.5H552.5M552.1 110.7V103.6M550.4 103.6H553.8" stroke="#9ec6f7" stroke-width="0.58" fill="none"/>
<path d="M375 107.9L376.3 108.1L377.5 108.2L378.8 109L380.1 109.7L381.3 110.6L382.6 110.5L383.9 110.8L385.1 111L386.4 112.9L387.6 112.6L388.9 111.8L390.2 112.8L391.4 113.5L392.7 114.1L394 114.1L395.2 113.3L396.5 114.1L397.8 111.9L399 112.1L400.3 114.2L401.6 116.2L402.8 118.5L404.1 120.9L405.4 123.2L406.6 121.5L407.9 120.1L409.2 117.2L410.4 115.4L411.7 112.6L412.9 110.2L414.2 103.8L415.5 99.4L416.7 94.9L418 90.4L419.3 87L420.5 81.5L421.8 79.3L423.1 78.4L424.3 80.4L425.6 78.7L426.9 78.8L428.1 79.9L429.4 77.4L430.7 78L431.9 77.1L433.2 78.3L434.5 75.6L435.7 76.7L437 77.8L438.2 78.8L439.5 79.3L440.8 80.4L442 81L443.3 82.1L444.6 82.9L445.8 83.2L447.1 81.7L448.4 84.5L449.6 84.7L450.9 83.5L452.2 82.3L453.4 82.4L454.7 79.4L456 78.6L457.2 77.3L458.5 75.5L459.8 72.7L461 71.7L462.3 71.7L463.6 69.4L464.8 69.6L466.1 68.2L467.3 66.8L468.6 65.8L469.9 68.9L471.1 68.8L472.4 71L473.7 71.8L474.9 73.1L476.2 73.1L477.5 74.4L478.7 75.4L480 76.5L481.3 76.5L482.5 78.6L483.8 80L485.1 81.1L486.3 81.5L487.6 82.5L488.9 83.3L490.1 84.2L491.4 83.7L492.6 85.2L493.9 85.2L495.2 85.6L496.4 85.5L497.7 84.2L499 84.5L500.2 83.9L501.5 82.7L502.8 83.9L504 84.4L505.3 86.8L506.6 88.8L507.8 89.9L509.1 91.3L510.4 92.2L511.6 93.4L512.9 94L514.1 96.3L515.4 95.1L516.7 95.9L517.9 97L519.2 97.6L520.5 95.6L521.7 95.6L523 95L524.3 96.2L525.5 94.8L526.8 94.3L528.1 94.2L529.3 96.5L530.6 97.5L531.9 99.5L533.1 99.2L534.4 101.4L535.7 102.7L536.9 104.2L538.2 103.5L539.5 104.5L540.7 106.5L542 106.5L543.2 107.7L544.5 107.4L545.8 108.1L547 108.4L548.3 109.8L549.6 110.3L550.8 110.8L552.1 110.7" stroke="#9ec6f7" stroke-width="1" fill="none" stroke-linejoin="round"/>
<path d="M375 107.9h0M376.3 108.1h0M377.5 108.2h0M378.8 109h0M380.1 109.7h0M381.3 110.6h0M382.6 110.5h0M383.9 110.8h0M385.1 111h0M386.4 112.9h0M387.6 112.6h0M388.9 111.8h0M390.2 112.8h0M391.4 113.5h0M392.7 114.1h0M394 114.1h0M395.2 113.3h0M396.5 114.1h0M397.8 111.9h0M399 112.1h0M400.3 114.2h0M401.6 116.2h0M402.8 118.5h0M404.1 120.9h0M405.4 123.2h0M406.6 121.5h0M407.9 120.1h0M409.2 117.2h0M410.4 115.4h0M411.7 112.6h0M412.9 110.2h0M414.2 103.8h0M415.5 99.4h0M416.7 94.9h0M418 90.4h0M419.3 87h0M420.5 81.5h0M421.8 79.3h0M423.1 78.4h0M424.3 80.4h0M425.6 78.7h0M426.9 78.8h0M428.1 79.9h0M429.4 77.4h0M430.7 78h0M431.9 77.1h0M433.2 78.3h0M434.5 75.6h0M435.7 76.7h0M437 77.8h0M438.2 78.8h0M439.5 79.3h0M440.8 80.4h0M442 81h0M443.3 82.1h0M444.6 82.9h0M445.8 83.2h0M447.1 81.7h0M448.4 84.5h0M449.6 84.7h0M450.9 83.5h0M452.2 82.3h0M453.4 82.4h0M454.7 79.4h0M456 78.6h0M457.2 77.3h0M458.5 75.5h0M459.8 72.7h0M461 71.7h0M462.3 71.7h0M463.6 69.4h0M464.8 69.6h0M466.1 68.2h0M467.3 66.8h0M468.6 65.8h0M469.9 68.9h0M471.1 68.8h0M472.4 71h0M473.7 71.8h0M474.9 73.1h0M476.2 73.1h0M477.5 74.4h0M478.7 75.4h0M480 76.5h0M481.3 76.5h0M482.5 78.6h0M483.8 80h0M485.1 81.1h0M486.3 81.5h0M487.6 82.5h0M488.9 83.3h0M490.1 84.2h0M491.4 83.7h0M492.6 85.2h0M493.9 85.2h0M495.2 85.6h0M496.4 85.5h0M497.7 84.2h0M499 84.5h0M500.2 83.9h0M501.5 82.7h0M502.8 83.9h0M504 84.4h0M505.3 86.8h0M506.6 88.8h0M507.8 89.9h0M509.1 91.3h0M510.4 92.2h0M511.6 93.4h0M512.9 94h0M514.1 96.3h0M515.4 95.1h0M516.7 95.9h0M517.9 97h0M519.2 97.6h0M520.5 95.6h0M521.7 95.6h0M523 95h0M524.3 96.2h0M525.5 94.8h0M526.8 94.3h0M528.1 94.2h0M529.3 96.5h0M530.6 97.5h0M531.9 99.5h0M533.1 99.2h0M534.4 101.4h0M535.7 102.7h0M536.9 104.2h0M538.2 103.5h0M539.5 104.5h0M540.7 106.5h0M542 106.5h0M543.2 107.7h0M544.5 107.4h0M545.8 108.1h0M547 108.4h0M548.3 109.8h0M549.6 110.3h0M550.8 110.8h0M552.1 110.7h0" stroke="#9ec6f7" stroke-width="3.9" stroke-linecap="round" fill="none"/>
<path d="M356.5 189.4L356.5 179.5L387.2 179.5L387.2 164" stroke="#858585" stroke-width="0.85" fill="none"/>
<path d="M384.3 168.2L387.2 164L390.1 168.2" stroke="#858585" stroke-width="0.85" fill="none"/>
<path d="M428.3 189.4L428.3 179.5L433.9 179.5L433.9 164" stroke="#858585" stroke-width="0.85" fill="none"/>
<path d="M431 168.2L433.9 164L436.8 168.2" stroke="#858585" stroke-width="0.85" fill="none"/>
<text x="298.2" y="203.4" font-size="14.2" font-weight="bold" text-anchor="start" fill="#000">C</text>
<text x="355" y="196.2" font-size="6.3" font-weight="bold" text-anchor="middle" fill="#000">Baseline</text>
<text x="355" y="203.9" font-size="6.3" font-weight="bold" text-anchor="middle" fill="#000">(~10s)</text>
<text x="429" y="196.2" font-size="6.3" font-weight="bold" text-anchor="middle" fill="#000">Icilin</text>
<text x="429" y="203.9" font-size="6.3" font-weight="bold" text-anchor="middle" fill="#000">(~20s)</text>
<line x1="318.2" y1="207.5" x2="390.7" y2="207.5" stroke="#c4c4c4" stroke-width="0.8"/>
<line x1="393.4" y1="207.5" x2="465.7" y2="207.5" stroke="#c4c4c4" stroke-width="0.8"/>
<text x="312" y="244.2" font-size="6.5" font-weight="bold" text-anchor="middle" fill="#000" transform="rotate(-90 312 244.2)">Vehicle</text>
<text x="312" y="313.2" font-size="6.6" font-weight="bold" text-anchor="middle" fill="#000" transform="rotate(-90 312 313.2)">Lut10<tspan font-family="Liberation Serif">µ</tspan>M</text>
<rect x="318.3" y="211.2" width="72.5" height="65.7" fill="#040404"/>
<g clip-path="url(#c5)" fill="url(#gw)"><ellipse cx="342.1" cy="215.9" rx="3.42" ry="2.85" opacity="0.19" transform="rotate(80 342.1 215.9)"/><ellipse cx="374.4" cy="214.3" rx="3.14" ry="2.85" opacity="0.18" transform="rotate(0 374.4 214.3)"/><ellipse cx="379.9" cy="215.9" rx="4.18" ry="2.09" opacity="0.16" transform="rotate(-30 379.9 215.9)"/><ellipse cx="333.3" cy="216.3" rx="1.52" ry="1.52" opacity="0.16" transform="rotate(0 333.3 216.3)"/><ellipse cx="345.6" cy="219.8" rx="1.71" ry="1.71" opacity="0.15" transform="rotate(0 345.6 219.8)"/><ellipse cx="333.5" cy="222.8" rx="1.52" ry="1.52" opacity="0.15" transform="rotate(0 333.5 222.8)"/><ellipse cx="335.3" cy="223.3" rx="1.52" ry="1.52" opacity="0.14" transform="rotate(0 335.3 223.3)"/><ellipse cx="344.3" cy="226.3" rx="2.72" ry="2.47" opacity="0.17" transform="rotate(0 344.3 226.3)"/><ellipse cx="354.1" cy="227.6" rx="3.34" ry="3.04" opacity="0.2" transform="rotate(0 354.1 227.6)"/><ellipse cx="365.1" cy="223" rx="1.71" ry="1.71" opacity="0.16" transform="rotate(0 365.1 223)"/><ellipse cx="382.6" cy="226.3" rx="2.28" ry="1.9" opacity="0.25" transform="rotate(0 382.6 226.3)"/><ellipse cx="385.9" cy="222.5" rx="4.94" ry="1.9" opacity="0.15" transform="rotate(80 385.9 222.5)"/><ellipse cx="369.5" cy="229.1" rx="4.94" ry="1.9" opacity="0.18" transform="rotate(40 369.5 229.1)"/><ellipse cx="362.9" cy="227.4" rx="5.13" ry="1.71" opacity="0.16" transform="rotate(40 362.9 227.4)"/><ellipse cx="373.9" cy="234.5" rx="5.02" ry="2.09" opacity="0.16" transform="rotate(10 373.9 234.5)"/><ellipse cx="378.2" cy="241.1" rx="5.43" ry="2.09" opacity="0.23" transform="rotate(0 378.2 241.1)"/><ellipse cx="383.7" cy="234.5" rx="3.76" ry="2.09" opacity="0.15" transform="rotate(-20 383.7 234.5)"/><ellipse cx="382.6" cy="245" rx="3.19" ry="2.28" opacity="0.16" transform="rotate(0 382.6 245)"/><ellipse cx="345.9" cy="234.5" rx="4.18" ry="1.9" opacity="0.16" transform="rotate(-40 345.9 234.5)"/><ellipse cx="353" cy="240.6" rx="2.51" ry="2.28" opacity="0.2" transform="rotate(0 353 240.6)"/><ellipse cx="349.8" cy="245.8" rx="4.94" ry="1.9" opacity="0.18" transform="rotate(-10 349.8 245.8)"/><ellipse cx="364" cy="243.3" rx="4.18" ry="1.9" opacity="0.17" transform="rotate(85 364 243.3)"/><ellipse cx="366.4" cy="243.6" rx="3.42" ry="1.71" opacity="0.15" transform="rotate(85 366.4 243.6)"/><ellipse cx="332.2" cy="251" rx="2.39" ry="1.71" opacity="0.14" transform="rotate(70 332.2 251)"/><ellipse cx="359.6" cy="252.6" rx="3.55" ry="3.23" opacity="0.18" transform="rotate(0 359.6 252.6)"/><ellipse cx="369.5" cy="248.8" rx="3.34" ry="2.09" opacity="0.15" transform="rotate(70 369.5 248.8)"/><ellipse cx="373.9" cy="247.7" rx="3.34" ry="2.09" opacity="0.15" transform="rotate(60 373.9 247.7)"/><ellipse cx="376" cy="252.6" rx="3.21" ry="2.47" opacity="0.15" transform="rotate(0 376 252.6)"/><ellipse cx="382.6" cy="249.3" rx="2.96" ry="2.28" opacity="0.16" transform="rotate(0 382.6 249.3)"/><ellipse cx="388.6" cy="252.1" rx="2.28" ry="1.9" opacity="0.17" transform="rotate(0 388.6 252.1)"/><ellipse cx="382.6" cy="254.3" rx="4.26" ry="2.66" opacity="0.14" transform="rotate(80 382.6 254.3)"/><ellipse cx="342.6" cy="259.2" rx="2.28" ry="2.28" opacity="0.16" transform="rotate(0 342.6 259.2)"/><ellipse cx="355.8" cy="263.6" rx="2.3" ry="2.09" opacity="0.18" transform="rotate(0 355.8 263.6)"/><ellipse cx="355.8" cy="265.5" rx="1.71" ry="1.71" opacity="0.16" transform="rotate(0 355.8 265.5)"/><ellipse cx="362.7" cy="263.4" rx="1.71" ry="1.71" opacity="0.15" transform="rotate(0 362.7 263.4)"/><ellipse cx="325.7" cy="258.1" rx="2.74" ry="1.71" opacity="0.12" transform="rotate(0 325.7 258.1)"/><ellipse cx="321.3" cy="262.5" rx="2.47" ry="1.9" opacity="0.14" transform="rotate(0 321.3 262.5)"/><ellipse cx="324.6" cy="266.3" rx="3.21" ry="2.47" opacity="0.15" transform="rotate(60 324.6 266.3)"/><ellipse cx="327.9" cy="267.4" rx="2.96" ry="2.47" opacity="0.15" transform="rotate(0 327.9 267.4)"/><ellipse cx="350.3" cy="269.6" rx="2.51" ry="2.28" opacity="0.17" transform="rotate(0 350.3 269.6)"/><ellipse cx="350.9" cy="273.4" rx="1.71" ry="1.71" opacity="0.14" transform="rotate(0 350.9 273.4)"/><ellipse cx="381.5" cy="262.5" rx="4.56" ry="1.9" opacity="0.16" transform="rotate(0 381.5 262.5)"/><ellipse cx="378.2" cy="270.7" rx="5.43" ry="2.09" opacity="0.17" transform="rotate(10 378.2 270.7)"/><ellipse cx="379.9" cy="269.1" rx="4.1" ry="1.71" opacity="0.15" transform="rotate(-55 379.9 269.1)"/><ellipse cx="382.6" cy="266.9" rx="4.1" ry="1.71" opacity="0.15" transform="rotate(75 382.6 266.9)"/><ellipse cx="374.4" cy="271.2" rx="2.05" ry="1.71" opacity="0.14" transform="rotate(0 374.4 271.2)"/><ellipse cx="387" cy="217.6" rx="4.26" ry="1.52" opacity="0.12" transform="rotate(40 387 217.6)"/><ellipse cx="371.7" cy="232.9" rx="4.56" ry="1.52" opacity="0.12" transform="rotate(30 371.7 232.9)"/><ellipse cx="378.2" cy="237.3" rx="4.56" ry="1.52" opacity="0.14" transform="rotate(15 378.2 237.3)"/><ellipse cx="368.4" cy="225.2" rx="4.56" ry="1.52" opacity="0.12" transform="rotate(45 368.4 225.2)"/><ellipse cx="384.8" cy="240.6" rx="3.34" ry="1.52" opacity="0.12" transform="rotate(0 384.8 240.6)"/><ellipse cx="330" cy="263.6" rx="2.93" ry="1.33" opacity="0.11" transform="rotate(-50 330 263.6)"/><ellipse cx="328.9" cy="246.9" rx="5.13" ry="1.71" opacity="0.56" transform="rotate(-15 328.9 246.9)"/><ellipse cx="389.8" cy="271" rx="2.4" ry="2.4" opacity="1" transform="rotate(0 389.8 271)"/></g>
<rect x="393.4" y="211.2" width="72.3" height="65.7" fill="#0e0e0e"/>
<g clip-path="url(#c6)" fill="url(#gw)"><ellipse cx="417.2" cy="215.9" rx="3.42" ry="2.85" opacity="0.59" transform="rotate(80 417.2 215.9)"/><ellipse cx="449.5" cy="214.3" rx="3.14" ry="2.85" opacity="0.56" transform="rotate(0 449.5 214.3)"/><ellipse cx="455" cy="215.9" rx="4.18" ry="2.09" opacity="0.49" transform="rotate(-30 455 215.9)"/><ellipse cx="408.4" cy="216.3" rx="1.52" ry="1.52" opacity="0.49" transform="rotate(0 408.4 216.3)"/><ellipse cx="420.7" cy="219.8" rx="1.71" ry="1.71" opacity="0.45" transform="rotate(0 420.7 219.8)"/><ellipse cx="408.6" cy="222.8" rx="1.52" ry="1.52" opacity="0.45" transform="rotate(0 408.6 222.8)"/><ellipse cx="410.4" cy="223.3" rx="1.52" ry="1.52" opacity="0.42" transform="rotate(0 410.4 223.3)"/><ellipse cx="419.4" cy="226.3" rx="2.72" ry="2.47" opacity="0.52" transform="rotate(0 419.4 226.3)"/><ellipse cx="429.2" cy="227.6" rx="3.34" ry="3.04" opacity="0.63" transform="rotate(0 429.2 227.6)"/><ellipse cx="440.2" cy="223" rx="1.71" ry="1.71" opacity="0.49" transform="rotate(0 440.2 223)"/><ellipse cx="457.7" cy="226.3" rx="2.28" ry="1.9" opacity="0.77" transform="rotate(0 457.7 226.3)"/><ellipse cx="461" cy="222.5" rx="4.94" ry="1.9" opacity="0.45" transform="rotate(80 461 222.5)"/><ellipse cx="444.6" cy="229.1" rx="4.94" ry="1.9" opacity="0.56" transform="rotate(40 444.6 229.1)"/><ellipse cx="438" cy="227.4" rx="5.13" ry="1.71" opacity="0.49" transform="rotate(40 438 227.4)"/><ellipse cx="449" cy="234.5" rx="5.02" ry="2.09" opacity="0.49" transform="rotate(10 449 234.5)"/><ellipse cx="453.3" cy="241.1" rx="5.43" ry="2.09" opacity="0.7" transform="rotate(0 453.3 241.1)"/><ellipse cx="458.8" cy="234.5" rx="3.76" ry="2.09" opacity="0.45" transform="rotate(-20 458.8 234.5)"/><ellipse cx="457.7" cy="245" rx="3.19" ry="2.28" opacity="0.49" transform="rotate(0 457.7 245)"/><ellipse cx="421" cy="234.5" rx="4.18" ry="1.9" opacity="0.49" transform="rotate(-40 421 234.5)"/><ellipse cx="428.1" cy="240.6" rx="2.51" ry="2.28" opacity="0.63" transform="rotate(0 428.1 240.6)"/><ellipse cx="424.9" cy="245.8" rx="4.94" ry="1.9" opacity="0.56" transform="rotate(-10 424.9 245.8)"/><ellipse cx="439.1" cy="243.3" rx="4.18" ry="1.9" opacity="0.52" transform="rotate(85 439.1 243.3)"/><ellipse cx="441.5" cy="243.6" rx="3.42" ry="1.71" opacity="0.45" transform="rotate(85 441.5 243.6)"/><ellipse cx="407.3" cy="251" rx="2.39" ry="1.71" opacity="0.42" transform="rotate(70 407.3 251)"/><ellipse cx="434.7" cy="252.6" rx="3.55" ry="3.23" opacity="0.56" transform="rotate(0 434.7 252.6)"/><ellipse cx="444.6" cy="248.8" rx="3.34" ry="2.09" opacity="0.45" transform="rotate(70 444.6 248.8)"/><ellipse cx="449" cy="247.7" rx="3.34" ry="2.09" opacity="0.45" transform="rotate(60 449 247.7)"/><ellipse cx="451.1" cy="252.6" rx="3.21" ry="2.47" opacity="0.45" transform="rotate(0 451.1 252.6)"/><ellipse cx="457.7" cy="249.3" rx="2.96" ry="2.28" opacity="0.49" transform="rotate(0 457.7 249.3)"/><ellipse cx="463.7" cy="252.1" rx="2.28" ry="1.9" opacity="0.52" transform="rotate(0 463.7 252.1)"/><ellipse cx="457.7" cy="254.3" rx="4.26" ry="2.66" opacity="0.42" transform="rotate(80 457.7 254.3)"/><ellipse cx="417.7" cy="259.2" rx="2.28" ry="2.28" opacity="0.49" transform="rotate(0 417.7 259.2)"/><ellipse cx="430.9" cy="263.6" rx="2.3" ry="2.09" opacity="0.56" transform="rotate(0 430.9 263.6)"/><ellipse cx="430.9" cy="265.5" rx="1.71" ry="1.71" opacity="0.49" transform="rotate(0 430.9 265.5)"/><ellipse cx="437.8" cy="263.4" rx="1.71" ry="1.71" opacity="0.45" transform="rotate(0 437.8 263.4)"/><ellipse cx="400.8" cy="258.1" rx="2.74" ry="1.71" opacity="0.38" transform="rotate(0 400.8 258.1)"/><ellipse cx="396.4" cy="262.5" rx="2.47" ry="1.9" opacity="0.42" transform="rotate(0 396.4 262.5)"/><ellipse cx="399.7" cy="266.3" rx="3.21" ry="2.47" opacity="0.45" transform="rotate(60 399.7 266.3)"/><ellipse cx="403" cy="267.4" rx="2.96" ry="2.47" opacity="0.45" transform="rotate(0 403 267.4)"/><ellipse cx="425.4" cy="269.6" rx="2.51" ry="2.28" opacity="0.52" transform="rotate(0 425.4 269.6)"/><ellipse cx="426" cy="273.4" rx="1.71" ry="1.71" opacity="0.42" transform="rotate(0 426 273.4)"/><ellipse cx="456.6" cy="262.5" rx="4.56" ry="1.9" opacity="0.49" transform="rotate(0 456.6 262.5)"/><ellipse cx="453.3" cy="270.7" rx="5.43" ry="2.09" opacity="0.52" transform="rotate(10 453.3 270.7)"/><ellipse cx="455" cy="269.1" rx="4.1" ry="1.71" opacity="0.45" transform="rotate(-55 455 269.1)"/><ellipse cx="457.7" cy="266.9" rx="4.1" ry="1.71" opacity="0.45" transform="rotate(75 457.7 266.9)"/><ellipse cx="449.5" cy="271.2" rx="2.05" ry="1.71" opacity="0.42" transform="rotate(0 449.5 271.2)"/><ellipse cx="462.1" cy="217.6" rx="4.26" ry="1.52" opacity="0.38" transform="rotate(40 462.1 217.6)"/><ellipse cx="446.8" cy="232.9" rx="4.56" ry="1.52" opacity="0.38" transform="rotate(30 446.8 232.9)"/><ellipse cx="453.3" cy="237.3" rx="4.56" ry="1.52" opacity="0.42" transform="rotate(15 453.3 237.3)"/><ellipse cx="443.5" cy="225.2" rx="4.56" ry="1.52" opacity="0.38" transform="rotate(45 443.5 225.2)"/><ellipse cx="459.9" cy="240.6" rx="3.34" ry="1.52" opacity="0.38" transform="rotate(0 459.9 240.6)"/><ellipse cx="405.1" cy="263.6" rx="2.93" ry="1.33" opacity="0.35" transform="rotate(-50 405.1 263.6)"/><ellipse cx="411.7" cy="243" rx="6.69" ry="6.08" opacity="0.28" transform="rotate(0 411.7 243)"/><ellipse cx="406.8" cy="245.8" rx="6.27" ry="2.09" opacity="0.54" transform="rotate(-12 406.8 245.8)"/><ellipse cx="403.5" cy="246.6" rx="3.84" ry="1.92" opacity="1" transform="rotate(-12 403.5 246.6)"/><ellipse cx="464.8" cy="270.6" rx="2.56" ry="2.56" opacity="1" transform="rotate(0 464.8 270.6)"/></g>
<rect x="318.3" y="280.2" width="72.5" height="65.5" fill="#070707"/>
<g clip-path="url(#c7)" fill="url(#gw)"><ellipse cx="323.5" cy="282.8" rx="3.12" ry="2.56" opacity="0.23" transform="rotate(148.1 323.5 282.8)"/><ellipse cx="344.8" cy="282.8" rx="2.88" ry="1.91" opacity="0.25" transform="rotate(110 344.8 282.8)"/><ellipse cx="366.2" cy="282.3" rx="2.82" ry="1.94" opacity="0.26" transform="rotate(153.2 366.2 282.3)"/><ellipse cx="381.5" cy="283.4" rx="2.12" ry="1.83" opacity="0.29" transform="rotate(146.4 381.5 283.4)"/><ellipse cx="340.4" cy="286.7" rx="2.66" ry="2.29" opacity="0.28" transform="rotate(57.9 340.4 286.7)"/><ellipse cx="367.3" cy="287.2" rx="2.8" ry="1.89" opacity="0.28" transform="rotate(36.9 367.3 287.2)"/><ellipse cx="373.9" cy="292.1" rx="2.35" ry="1.99" opacity="0.21" transform="rotate(100.8 373.9 292.1)"/><ellipse cx="382.6" cy="296.5" rx="2.37" ry="2.22" opacity="0.27" transform="rotate(151.1 382.6 296.5)"/><ellipse cx="389.2" cy="295.4" rx="4.57" ry="2.74" opacity="0.27" transform="rotate(153 389.2 295.4)"/><ellipse cx="360.2" cy="299.3" rx="2.03" ry="1.9" opacity="0.25" transform="rotate(140.7 360.2 299.3)"/><ellipse cx="366.7" cy="302.5" rx="3.24" ry="2.32" opacity="0.21" transform="rotate(139.8 366.7 302.5)"/><ellipse cx="365.1" cy="308" rx="4.29" ry="2.33" opacity="0.21" transform="rotate(10.2 365.1 308)"/><ellipse cx="347.6" cy="305.3" rx="4.37" ry="2.61" opacity="0.3" transform="rotate(170.3 347.6 305.3)"/><ellipse cx="355.2" cy="305.3" rx="3.29" ry="2.31" opacity="0.22" transform="rotate(132.9 355.2 305.3)"/><ellipse cx="343.7" cy="308.6" rx="4.7" ry="2.54" opacity="0.24" transform="rotate(6.32 343.7 308.6)"/><ellipse cx="353" cy="310.8" rx="3.01" ry="2.28" opacity="0.2" transform="rotate(178.1 353 310.8)"/><ellipse cx="321.3" cy="305.8" rx="3.48" ry="1.92" opacity="0.3" transform="rotate(123.9 321.3 305.8)"/><ellipse cx="325.1" cy="307.5" rx="3.02" ry="1.86" opacity="0.25" transform="rotate(17.1 325.1 307.5)"/><ellipse cx="327.9" cy="313" rx="3.67" ry="2.09" opacity="0.21" transform="rotate(164.7 327.9 313)"/><ellipse cx="324.6" cy="315.7" rx="4.07" ry="2.68" opacity="0.27" transform="rotate(11.2 324.6 315.7)"/><ellipse cx="333.3" cy="320.6" rx="3.8" ry="2.26" opacity="0.27" transform="rotate(4.81 333.3 320.6)"/><ellipse cx="336.1" cy="322.8" rx="3.32" ry="1.81" opacity="0.21" transform="rotate(20.4 336.1 322.8)"/><ellipse cx="321.3" cy="326.1" rx="3.91" ry="2.18" opacity="0.25" transform="rotate(24.4 321.3 326.1)"/><ellipse cx="331.1" cy="329.4" rx="2.21" ry="2.05" opacity="0.28" transform="rotate(29.6 331.1 329.4)"/><ellipse cx="331.7" cy="333.8" rx="2.21" ry="1.83" opacity="0.29" transform="rotate(90.3 331.7 333.8)"/><ellipse cx="327.9" cy="336" rx="3.55" ry="2.17" opacity="0.3" transform="rotate(108.2 327.9 336)"/><ellipse cx="329.5" cy="339.2" rx="3.98" ry="2.27" opacity="0.23" transform="rotate(18.6 329.5 339.2)"/><ellipse cx="342.1" cy="337.1" rx="2.99" ry="2.4" opacity="0.23" transform="rotate(81.7 342.1 337.1)"/><ellipse cx="345.4" cy="343.6" rx="2.11" ry="1.98" opacity="0.26" transform="rotate(3.39 345.4 343.6)"/><ellipse cx="349.8" cy="338.7" rx="3.47" ry="1.94" opacity="0.21" transform="rotate(91.9 349.8 338.7)"/><ellipse cx="364" cy="333.2" rx="2.81" ry="2.45" opacity="0.28" transform="rotate(171.2 364 333.2)"/><ellipse cx="367.3" cy="338.7" rx="3.12" ry="2.17" opacity="0.24" transform="rotate(125.1 367.3 338.7)"/><ellipse cx="375" cy="336" rx="4.42" ry="2.53" opacity="0.22" transform="rotate(77.1 375 336)"/><ellipse cx="382.6" cy="335.4" rx="3.65" ry="2.04" opacity="0.29" transform="rotate(154.4 382.6 335.4)"/><ellipse cx="387" cy="338.1" rx="3.59" ry="2.11" opacity="0.29" transform="rotate(174.6 387 338.1)"/><ellipse cx="380.4" cy="316.2" rx="3.61" ry="2.52" opacity="0.3" transform="rotate(134.9 380.4 316.2)"/><ellipse cx="387" cy="314" rx="3.7" ry="2.55" opacity="0.25" transform="rotate(72.1 387 314)"/><ellipse cx="384.8" cy="306.9" rx="4.4" ry="2.63" opacity="0.24" transform="rotate(101.1 384.8 306.9)"/><ellipse cx="370.6" cy="315.1" rx="2.65" ry="2.48" opacity="0.23" transform="rotate(121.5 370.6 315.1)"/><ellipse cx="361.8" cy="319" rx="3.31" ry="1.94" opacity="0.23" transform="rotate(8.82 361.8 319)"/><ellipse cx="382.1" cy="326.6" rx="4.02" ry="2.67" opacity="0.26" transform="rotate(121.9 382.1 326.6)"/><ellipse cx="385.9" cy="324.5" rx="3.06" ry="1.86" opacity="0.2" transform="rotate(105.6 385.9 324.5)"/><ellipse cx="373.9" cy="331.6" rx="3" ry="2.41" opacity="0.28" transform="rotate(29 373.9 331.6)"/><ellipse cx="333.3" cy="299.8" rx="3.99" ry="2.73" opacity="0.21" transform="rotate(112.3 333.3 299.8)"/><ellipse cx="339.9" cy="298.7" rx="4.43" ry="2.71" opacity="0.21" transform="rotate(14.2 339.9 298.7)"/><ellipse cx="358.5" cy="293.2" rx="3.94" ry="2.24" opacity="0.26" transform="rotate(8.49 358.5 293.2)"/><ellipse cx="330.6" cy="291.9" rx="1.6" ry="1.6" opacity="0.56" transform="rotate(0 330.6 291.9)"/><ellipse cx="330.9" cy="296.5" rx="1.92" ry="1.92" opacity="0.56" transform="rotate(0 330.9 296.5)"/><ellipse cx="343.5" cy="295.6" rx="1.76" ry="1.76" opacity="0.8" transform="rotate(0 343.5 295.6)"/><ellipse cx="349.8" cy="292.7" rx="1.76" ry="1.76" opacity="0.47" transform="rotate(0 349.8 292.7)"/><ellipse cx="355" cy="295.4" rx="1.44" ry="1.44" opacity="0.8" transform="rotate(0 355 295.4)"/><ellipse cx="357.8" cy="323.7" rx="1.44" ry="1.44" opacity="0.75" transform="rotate(0 357.8 323.7)"/><ellipse cx="367.6" cy="323.4" rx="1.6" ry="1.6" opacity="1" transform="rotate(0 367.6 323.4)"/><ellipse cx="364" cy="323.9" rx="1.28" ry="1.28" opacity="0.38" transform="rotate(0 364 323.9)"/><ellipse cx="353" cy="333.8" rx="1.76" ry="1.76" opacity="0.59" transform="rotate(0 353 333.8)"/><ellipse cx="378.8" cy="336" rx="1.44" ry="1.44" opacity="0.52" transform="rotate(0 378.8 336)"/><ellipse cx="331.4" cy="304.4" rx="0.96" ry="0.96" opacity="0.52" transform="rotate(0 331.4 304.4)"/></g>
<rect x="393.4" y="280.2" width="72.3" height="65.5" fill="#060606"/>
<g clip-path="url(#c8)" fill="url(#gw)"><ellipse cx="398.6" cy="282.8" rx="3.12" ry="2.56" opacity="0.25" transform="rotate(148.1 398.6 282.8)"/><ellipse cx="419.9" cy="282.8" rx="2.88" ry="1.91" opacity="0.27" transform="rotate(110 419.9 282.8)"/><ellipse cx="441.3" cy="282.3" rx="2.82" ry="1.94" opacity="0.28" transform="rotate(153.2 441.3 282.3)"/><ellipse cx="456.6" cy="283.4" rx="2.12" ry="1.83" opacity="0.32" transform="rotate(146.4 456.6 283.4)"/><ellipse cx="415.5" cy="286.7" rx="2.66" ry="2.29" opacity="0.31" transform="rotate(57.9 415.5 286.7)"/><ellipse cx="442.4" cy="287.2" rx="2.8" ry="1.89" opacity="0.3" transform="rotate(36.9 442.4 287.2)"/><ellipse cx="449" cy="292.1" rx="2.35" ry="1.99" opacity="0.23" transform="rotate(100.8 449 292.1)"/><ellipse cx="457.7" cy="296.5" rx="2.37" ry="2.22" opacity="0.29" transform="rotate(151.1 457.7 296.5)"/><ellipse cx="464.3" cy="295.4" rx="4.57" ry="2.74" opacity="0.3" transform="rotate(153 464.3 295.4)"/><ellipse cx="435.3" cy="299.3" rx="2.03" ry="1.9" opacity="0.27" transform="rotate(140.7 435.3 299.3)"/><ellipse cx="441.8" cy="302.5" rx="3.24" ry="2.32" opacity="0.23" transform="rotate(139.8 441.8 302.5)"/><ellipse cx="440.2" cy="308" rx="4.29" ry="2.33" opacity="0.23" transform="rotate(10.2 440.2 308)"/><ellipse cx="422.7" cy="305.3" rx="4.37" ry="2.61" opacity="0.32" transform="rotate(170.3 422.7 305.3)"/><ellipse cx="430.3" cy="305.3" rx="3.29" ry="2.31" opacity="0.24" transform="rotate(132.9 430.3 305.3)"/><ellipse cx="418.8" cy="308.6" rx="4.7" ry="2.54" opacity="0.26" transform="rotate(6.32 418.8 308.6)"/><ellipse cx="428.1" cy="310.8" rx="3.01" ry="2.28" opacity="0.22" transform="rotate(178.1 428.1 310.8)"/><ellipse cx="396.4" cy="305.8" rx="3.48" ry="1.92" opacity="0.32" transform="rotate(123.9 396.4 305.8)"/><ellipse cx="400.2" cy="307.5" rx="3.02" ry="1.86" opacity="0.27" transform="rotate(17.1 400.2 307.5)"/><ellipse cx="403" cy="313" rx="3.67" ry="2.09" opacity="0.23" transform="rotate(164.7 403 313)"/><ellipse cx="399.7" cy="315.7" rx="4.07" ry="2.68" opacity="0.3" transform="rotate(11.2 399.7 315.7)"/><ellipse cx="408.4" cy="320.6" rx="3.8" ry="2.26" opacity="0.3" transform="rotate(4.81 408.4 320.6)"/><ellipse cx="411.2" cy="322.8" rx="3.32" ry="1.81" opacity="0.23" transform="rotate(20.4 411.2 322.8)"/><ellipse cx="396.4" cy="326.1" rx="3.91" ry="2.18" opacity="0.27" transform="rotate(24.4 396.4 326.1)"/><ellipse cx="406.2" cy="329.4" rx="2.21" ry="2.05" opacity="0.3" transform="rotate(29.6 406.2 329.4)"/><ellipse cx="406.8" cy="333.8" rx="2.21" ry="1.83" opacity="0.32" transform="rotate(90.3 406.8 333.8)"/><ellipse cx="403" cy="336" rx="3.55" ry="2.17" opacity="0.32" transform="rotate(108.2 403 336)"/><ellipse cx="404.6" cy="339.2" rx="3.98" ry="2.27" opacity="0.25" transform="rotate(18.6 404.6 339.2)"/><ellipse cx="417.2" cy="337.1" rx="2.99" ry="2.4" opacity="0.25" transform="rotate(81.7 417.2 337.1)"/><ellipse cx="420.5" cy="343.6" rx="2.11" ry="1.98" opacity="0.28" transform="rotate(3.39 420.5 343.6)"/><ellipse cx="424.9" cy="338.7" rx="3.47" ry="1.94" opacity="0.23" transform="rotate(91.9 424.9 338.7)"/><ellipse cx="439.1" cy="333.2" rx="2.81" ry="2.45" opacity="0.3" transform="rotate(171.2 439.1 333.2)"/><ellipse cx="442.4" cy="338.7" rx="3.12" ry="2.17" opacity="0.27" transform="rotate(125.1 442.4 338.7)"/><ellipse cx="450.1" cy="336" rx="4.42" ry="2.53" opacity="0.24" transform="rotate(77.1 450.1 336)"/><ellipse cx="457.7" cy="335.4" rx="3.65" ry="2.04" opacity="0.31" transform="rotate(154.4 457.7 335.4)"/><ellipse cx="462.1" cy="338.1" rx="3.59" ry="2.11" opacity="0.32" transform="rotate(174.6 462.1 338.1)"/><ellipse cx="455.5" cy="316.2" rx="3.61" ry="2.52" opacity="0.32" transform="rotate(134.9 455.5 316.2)"/><ellipse cx="462.1" cy="314" rx="3.7" ry="2.55" opacity="0.27" transform="rotate(72.1 462.1 314)"/><ellipse cx="459.9" cy="306.9" rx="4.4" ry="2.63" opacity="0.26" transform="rotate(101.1 459.9 306.9)"/><ellipse cx="445.7" cy="315.1" rx="2.65" ry="2.48" opacity="0.25" transform="rotate(121.5 445.7 315.1)"/><ellipse cx="436.9" cy="319" rx="3.31" ry="1.94" opacity="0.26" transform="rotate(8.82 436.9 319)"/><ellipse cx="457.2" cy="326.6" rx="4.02" ry="2.67" opacity="0.28" transform="rotate(121.9 457.2 326.6)"/><ellipse cx="461" cy="324.5" rx="3.06" ry="1.86" opacity="0.22" transform="rotate(105.6 461 324.5)"/><ellipse cx="449" cy="331.6" rx="3" ry="2.41" opacity="0.31" transform="rotate(29 449 331.6)"/><ellipse cx="408.4" cy="299.8" rx="3.99" ry="2.73" opacity="0.22" transform="rotate(112.3 408.4 299.8)"/><ellipse cx="415" cy="298.7" rx="4.43" ry="2.71" opacity="0.23" transform="rotate(14.2 415 298.7)"/><ellipse cx="433.6" cy="293.2" rx="3.94" ry="2.24" opacity="0.28" transform="rotate(8.49 433.6 293.2)"/><ellipse cx="405.7" cy="291.9" rx="1.6" ry="1.6" opacity="0.61" transform="rotate(0 405.7 291.9)"/><ellipse cx="406" cy="296.5" rx="1.92" ry="1.92" opacity="0.61" transform="rotate(0 406 296.5)"/><ellipse cx="418.6" cy="295.6" rx="1.76" ry="1.76" opacity="0.87" transform="rotate(0 418.6 295.6)"/><ellipse cx="424.9" cy="292.7" rx="1.76" ry="1.76" opacity="0.51" transform="rotate(0 424.9 292.7)"/><ellipse cx="430.1" cy="295.4" rx="1.44" ry="1.44" opacity="0.87" transform="rotate(0 430.1 295.4)"/><ellipse cx="432.9" cy="323.7" rx="1.44" ry="1.44" opacity="0.82" transform="rotate(0 432.9 323.7)"/><ellipse cx="442.7" cy="323.4" rx="1.6" ry="1.6" opacity="1" transform="rotate(0 442.7 323.4)"/><ellipse cx="439.1" cy="323.9" rx="1.28" ry="1.28" opacity="0.41" transform="rotate(0 439.1 323.9)"/><ellipse cx="428.1" cy="333.8" rx="1.76" ry="1.76" opacity="0.64" transform="rotate(0 428.1 333.8)"/><ellipse cx="453.9" cy="336" rx="1.44" ry="1.44" opacity="0.56" transform="rotate(0 453.9 336)"/><ellipse cx="406.5" cy="304.4" rx="0.96" ry="0.96" opacity="0.56" transform="rotate(0 406.5 304.4)"/></g>
<text x="492.2" y="202.9" font-size="14.2" font-weight="bold" text-anchor="start" fill="#000">D</text>
<line x1="541.2" y1="222" x2="541.2" y2="332" stroke="#000" stroke-width="1.25"/>
<line x1="540.6" y1="331.4" x2="614.6" y2="331.4" stroke="#000" stroke-width="1.25"/>
<line x1="536.6" y1="331.4" x2="541.2" y2="331.4" stroke="#000" stroke-width="1.25"/>
<line x1="536.6" y1="309.6" x2="541.2" y2="309.6" stroke="#000" stroke-width="1.25"/>
<line x1="536.6" y1="287.9" x2="541.2" y2="287.9" stroke="#000" stroke-width="1.25"/>
<line x1="536.6" y1="266.1" x2="541.2" y2="266.1" stroke="#000" stroke-width="1.25"/>
<line x1="536.6" y1="244.4" x2="541.2" y2="244.4" stroke="#000" stroke-width="1.25"/>
<line x1="536.6" y1="222.6" x2="541.2" y2="222.6" stroke="#000" stroke-width="1.25"/>
<line x1="561.4" y1="331.4" x2="561.4" y2="336" stroke="#000" stroke-width="1.25"/>
<line x1="592.5" y1="331.4" x2="592.5" y2="336" stroke="#000" stroke-width="1.25"/>
<text x="535.3" y="312.5" font-size="8.25" font-weight="bold" text-anchor="end">1×10<tspan font-size="5.4" dy="-2.72" dx="0.9">12</tspan></text>
<text x="535.3" y="290.8" font-size="8.25" font-weight="bold" text-anchor="end">2×10<tspan font-size="5.4" dy="-2.72" dx="0.9">12</tspan></text>
<text x="535.3" y="269" font-size="8.25" font-weight="bold" text-anchor="end">3×10<tspan font-size="5.4" dy="-2.72" dx="0.9">12</tspan></text>
<text x="535.3" y="247.3" font-size="8.25" font-weight="bold" text-anchor="end">4×10<tspan font-size="5.4" dy="-2.72" dx="0.9">12</tspan></text>
<text x="535.3" y="225.5" font-size="8.25" font-weight="bold" text-anchor="end">5×10<tspan font-size="5.4" dy="-2.72" dx="0.9">12</tspan></text>
<text x="535" y="334.3" font-size="8.25" font-weight="bold" text-anchor="end" fill="#000">0</text>
<text x="502" y="277" font-size="8.9" font-weight="bold" text-anchor="middle" fill="#000" transform="rotate(-90 502 277)">Peak Area (AU)</text>
<text x="561.4" y="342.3" font-size="6" font-weight="bold" text-anchor="middle" fill="#000">Vehicle</text>
<text x="592.5" y="342.3" font-size="6" font-weight="bold" text-anchor="middle" fill="#000">Luteolin</text>
<text x="592.5" y="349.6" font-size="6" font-weight="bold" text-anchor="middle" fill="#000">(10µM)</text>
<path d="M561.4 226.8V220.6H592.5V265.8" stroke="#000" stroke-width="1" fill="none"/>
<text x="576.6" y="217.5" font-size="6" font-weight="bold" text-anchor="middle" fill="#000">*</text>
<path d="M561.4 317.7h0M564.1 316h0M561.4 312.5h0M564.1 310.5h0M561.4 309.7h0M558.6 309.4h0M566.9 308.3h0M555.9 308.2h0M564.1 307.5h0M561.4 306.7h0M558.6 305.4h0M562.8 304.3h0M565.5 303.9h0M555.9 303.3h0M568.3 303.3h0M555.5 303.3h0M567 303.1h0M560 302.7h0M565.6 302.6h0M557.5 302.4h0M561.3 302.2h0M560.6 302h0M563.8 301.9h0M566 301.8h0M554.9 301.6h0M553.9 301.6h0M566.8 301.4h0M560.3 301h0M565.6 300.4h0M557.3 299.6h0M562.8 299.1h0M568.3 298.5h0M560 298.2h0M554.5 298h0M553.4 297.9h0M560.5 297.8h0M565.5 297.6h0M564.9 297.6h0M557.3 296.7h0M557.1 296.6h0M568.5 296.4h0M567.8 296.2h0M553.9 296.2h0M553.8 296.1h0M562.1 296h0M568.4 295.3h0M559.5 295.1h0M565.5 294.3h0M555.9 293.6h0M556.9 293.5h0M561.4 292.7h0M564.1 291.7h0M566.9 291.6h0M560.2 291.6h0M553.9 291.6h0M556.9 291.3h0M560.4 291h0M562.8 288.6h0M560 287.9h0M565.5 287.9h0M557.3 287.4h0M561.4 285.5h0M564.1 284.9h0M558.6 283.4h0M561.4 282.6h0M564.1 281h0M561.4 278.4h0M558.6 278.3h0M564.1 277h0M566.9 276.7h0M561.4 275.3h0M564.1 274.2h0M561.4 265.5h0M561.4 232.9h0" stroke="#9ec6f7" stroke-width="3.3" stroke-linecap="round" fill="none"/>
<path d="M592.5 323.2h0M592.5 319.9h0M595.5 318.8h0M589.5 318.2h0M592.5 316.7h0M598.4 316.6h0M595.5 315.8h0M588.1 315.4h0M585.1 315.1h0M601.4 314.5h0M601.6 314.4h0M592.5 313.2h0M596.9 312.9h0M589.5 312.6h0M586.6 312.5h0M599.9 311.9h0M583.6 311.1h0M601.5 311h0M583.6 310.8h0M592.5 310h0M595.5 309.7h0M589.5 309.4h0M598.4 309.3h0M586.6 307.6h0M592.5 306.3h0M595.5 306.2h0M589.5 305.4h0M598.4 305h0M585.1 304.8h0M601.4 304.7h0M584.2 304.6h0M599.2 304.5h0M597.2 304.3h0M595.9 303.9h0M592.5 303.4h0M588.1 302.6h0M588.7 302.5h0M598.4 301.6h0M585.1 301.5h0M601.4 301.1h0M595.5 300.9h0M591 300.5h0M594.6 300.5h0M594.6 300.3h0M594.1 300.3h0M585.7 300.2h0M591.1 300.1h0M590.4 299.9h0M597 299.2h0M602.4 299.1h0M601.5 299h0M593.4 298.4h0M591.4 298.4h0M588.1 298h0M583.6 297.8h0M587.9 297.7h0M583.2 297h0M583 296.9h0M595.5 296.2h0M598.4 296.2h0M591.8 296.1h0M601.4 295.6h0M589.5 293.9h0M586.6 293.8h0M594 293.5h0M596.9 293.2h0M599.9 293.1h0M583.6 293.1h0M588.9 292.7h0M590.1 292.3h0M600.3 291.8h0M593 291.4h0M593.7 291.3h0M596.9 289.6h0M592.5 286.7h0M595.5 286.3h0M592.5 273.8h0M595.5 271.6h0" stroke="#ee9a3f" stroke-width="3.3" stroke-linecap="round" fill="none"/>
<line x1="553.4" y1="296.7" x2="571.8" y2="296.7" stroke="#000" stroke-width="0.9" stroke-dasharray="2.2 1.4"/>
<line x1="582.3" y1="302.3" x2="600" y2="302.3" stroke="#000" stroke-width="0.9" stroke-dasharray="2.2 1.4"/>
<text x="-0.5" y="388.7" font-size="14.2" font-weight="bold" text-anchor="start" fill="#000">E</text>
<line x1="43.8" y1="384.2" x2="43.8" y2="529.4" stroke="#000" stroke-width="1.25"/>
<line x1="43.2" y1="528.8" x2="225.2" y2="528.8" stroke="#000" stroke-width="1.25"/>
<line x1="39.2" y1="384.8" x2="43.8" y2="384.8" stroke="#000" stroke-width="1.25"/>
<text x="36.9" y="387.8" font-size="6.6" font-weight="bold" text-anchor="end" fill="#000">1.2</text>
<line x1="39.2" y1="432.8" x2="43.8" y2="432.8" stroke="#000" stroke-width="1.25"/>
<text x="36.9" y="435.8" font-size="6.6" font-weight="bold" text-anchor="end" fill="#000">1.0</text>
<line x1="39.2" y1="480.8" x2="43.8" y2="480.8" stroke="#000" stroke-width="1.25"/>
<text x="36.9" y="483.8" font-size="6.6" font-weight="bold" text-anchor="end" fill="#000">0.8</text>
<line x1="39.2" y1="528.8" x2="43.8" y2="528.8" stroke="#000" stroke-width="1.25"/>
<text x="36.9" y="531.8" font-size="6.6" font-weight="bold" text-anchor="end" fill="#000">0.6</text>
<line x1="43.8" y1="528.8" x2="43.8" y2="533.4" stroke="#000" stroke-width="1.25"/>
<text x="43.8" y="541.8" font-size="6.6" font-weight="bold" text-anchor="middle" fill="#000">0</text>
<line x1="89" y1="528.8" x2="89" y2="533.4" stroke="#000" stroke-width="1.25"/>
<text x="89" y="541.8" font-size="6.6" font-weight="bold" text-anchor="middle" fill="#000">20</text>
<line x1="134.2" y1="528.8" x2="134.2" y2="533.4" stroke="#000" stroke-width="1.25"/>
<text x="134.2" y="541.8" font-size="6.6" font-weight="bold" text-anchor="middle" fill="#000">40</text>
<line x1="179.4" y1="528.8" x2="179.4" y2="533.4" stroke="#000" stroke-width="1.25"/>
<text x="179.4" y="541.8" font-size="6.6" font-weight="bold" text-anchor="middle" fill="#000">60</text>
<line x1="224.6" y1="528.8" x2="224.6" y2="533.4" stroke="#000" stroke-width="1.25"/>
<text x="224.6" y="541.8" font-size="6.6" font-weight="bold" text-anchor="middle" fill="#000">80</text>
<text x="21.2" y="458.3" font-size="6.7" font-weight="bold" text-anchor="middle" transform="rotate(-90 21.2 458.3)">ΔF/F<tspan font-size="4.36" dy="1.2">0</tspan><tspan dy="-1.2"> (%)</tspan></text>
<text x="120.6" y="552.2" font-size="6.6" font-weight="bold" text-anchor="start" fill="#000">seconds</text>
<text x="77" y="388" font-size="6.4" font-weight="bold" text-anchor="start" fill="#000">LPS</text>
<line x1="77" y1="390.3" x2="137.2" y2="390.3" stroke="#000" stroke-width="1.3"/>
<path d="M145.2 390.3L136.2 386.5L136.2 394.1Z" stroke="none" stroke-width="0" fill="#000"/>
<line x1="57.9" y1="374.2" x2="70.5" y2="374.2" stroke="#9ec6f7" stroke-width="1.5"/>
<circle cx="64.2" cy="374.2" r="2.0" fill="#9ec6f7"/>
<text x="77.6" y="376.6" font-size="6.6" font-weight="bold" text-anchor="start" fill="#000">WT</text>
<line x1="114" y1="374.2" x2="127" y2="374.2" stroke="#ee3338" stroke-width="1.5"/>
<path d="M120.5 371.6L118.1 375.9L122.9 375.9Z" fill="#ee3338"/>
<text x="134" y="376.6" font-size="6.4" font-weight="bold" font-style="italic">Trpm8<tspan font-size="4" dy="-2.6">-/-</tspan></text>
<path d="M48 417.6V424" stroke="#777" stroke-width="1.9" fill="none"/>
<path d="M45.7 422.6L48 426.2L50.3 422.6Z" stroke="#777" stroke-width="0.4" fill="#777"/>
<path d="M43.8 432.9V431.4M42.1 431.4H45.5M44.9 432.5V431M43.2 431H46.6M46.1 433.1V431.5M44.4 431.5H47.8M47.2 432.7V430.6M45.5 430.6H48.9M48.3 432V430M46.6 430H50M49.4 432.3V430.1M47.7 430.1H51.1M50.6 433.2V430.7M48.9 430.7H52.3M51.7 431.9V429.2M50 429.2H53.4M52.8 433V429.8M51.1 429.8H54.5M54 433V429.7M52.3 429.7H55.7M55.1 431.9V427.9M53.4 427.9H56.8M56.2 431.8V428.3M54.5 428.3H57.9M57.4 431.4V427.6M55.7 427.6H59.1M58.5 431.1V426.4M56.8 426.4H60.2M59.6 430.7V426.1M57.9 426.1H61.3M60.8 430.2V425.7M59 425.7H62.5M61.9 430.6V426.4M60.2 426.4H63.6M63 430.2V425.6M61.3 425.6H64.7M64.1 430.1V425.1M62.4 425.1H65.8M65.3 430.7V425.3M63.6 425.3H67M66.4 430.9V425.2M64.7 425.2H68.1M67.5 430.8V425.2M65.8 425.2H69.2M68.7 431.2V425.9M67 425.9H70.4M69.8 430.9V425M68.1 425H71.5M70.9 431.9V425.9M69.2 425.9H72.6M72 432.7V428.1M70.3 428.1H73.8M73.2 433.5V428.8M71.5 428.8H74.9M74.3 432.9V427.7M72.6 427.7H76M75.4 433V427.5M73.7 427.5H77.1M76.6 434V428.8M74.9 428.8H78.3M77.7 434.4V429.1M76 429.1H79.4M78.8 435.4V430.3M77.1 430.3H80.5M80 436.1V430.6M78.3 430.6H81.7M81.1 436.3V430.8M79.4 430.8H82.8M82.2 437.3V433M80.5 433H83.9M83.3 436.9V431.8M81.6 431.8H85M84.5 438.2V432.9M82.8 432.9H86.2M85.6 438.6V434.2M83.9 434.2H87.3M86.7 438.1V434.1M85 434.1H88.4M87.9 437.3V432.7M86.2 432.7H89.6M89 437.8V433.8M87.3 433.8H90.7M90.1 437.9V432.9M88.4 432.9H91.8M91.3 438V433.6M89.6 433.6H93M92.4 438.2V433.2M90.7 433.2H94.1M93.5 438.1V433.6M91.8 433.6H95.2M94.6 438.5V433.6M92.9 433.6H96.3M95.8 438.5V434.4M94.1 434.4H97.5M96.9 440V435.7M95.2 435.7H98.6M98 439.9V435M96.3 435H99.7M99.2 438.4V434.5M97.5 434.5H100.9M100.3 439V434.9M98.6 434.9H102M101.4 438.7V434.3M99.7 434.3H103.1M102.6 439.3V435.4M100.9 435.4H104.3M103.7 439.1V434.6M102 434.6H105.4M104.8 439.2V434M103.1 434H106.5M105.9 438.3V433.3M104.2 433.3H107.6M107.1 439.3V434.3M105.4 434.3H108.8M108.2 438.6V434.5M106.5 434.5H109.9M109.3 437.2V431.7M107.6 431.7H111M110.5 437.8V432.1M108.8 432.1H112.2M111.6 437V432.3M109.9 432.3H113.3M112.7 435.7V429.9M111 429.9H114.4M113.9 435.2V430M112.2 430H115.6M115 434.7V429.3M113.3 429.3H116.7M116.1 432.8V427.1M114.4 427.1H117.8M117.2 429.7V422.7M115.5 422.7H118.9M118.4 426.5V418.9M116.7 418.9H120.1M119.5 423.8V412.5M117.8 412.5H121.2M120.6 421.8V410.9M118.9 410.9H122.3M121.8 419.2V406.6M120.1 406.6H123.5M122.9 417.1V401.1M121.2 401.1H124.6M124 416.6V399.7M122.3 399.7H125.7M125.2 417.2V404M123.5 404H126.9M126.3 416.5V402.9M124.6 402.9H128M127.4 416.7V399.7M125.7 399.7H129.1M128.5 416.4V402.8M126.8 402.8H130.2M129.7 415.7V400.8M128 400.8H131.4M130.8 416.9V404M129.1 404H132.5M131.9 417.4V403.1M130.2 403.1H133.6M133.1 417.5V401.7M131.4 401.7H134.8M134.2 417.2V404.7M132.5 404.7H135.9M135.3 417.8V405.2M133.6 405.2H137M136.5 416.4V403.5M134.8 403.5H138.2M137.6 415.6V402.1M135.9 402.1H139.3M138.7 416V402.8M137 402.8H140.4M139.8 415.1V401.6M138.2 401.6H141.5M141 414.5V401.9M139.3 401.9H142.7M142.1 415.2V403.3M140.4 403.3H143.8M143.2 414V403.7M141.5 403.7H144.9M144.4 412.9V403.5M142.7 403.5H146.1M145.5 412.6V402.3M143.8 402.3H147.2M146.6 412.3V400.4M144.9 400.4H148.3M147.8 411.3V398.4M146.1 398.4H149.5M148.9 411.4V398.1M147.2 398.1H150.6M150 410.2V399.5M148.3 399.5H151.7M151.1 410.2V399.3M149.4 399.3H152.8M152.3 409.4V397M150.6 397H154M153.4 409.2V395.8M151.7 395.8H155.1M154.5 409.2V396.7M152.8 396.7H156.2M155.7 410V396.9M154 396.9H157.4M156.8 408.9V395.4M155.1 395.4H158.5M157.9 409.2V396.1M156.2 396.1H159.6M159.1 410V399.3M157.4 399.3H160.8M160.2 411.7V399.3M158.5 399.3H161.9M161.3 412.7V400.2M159.6 400.2H163M162.4 412.7V402.5M160.8 402.5H164.1M163.6 415.6V404.8M161.9 404.8H165.3M164.7 415.1V406.4M163 406.4H166.4M165.8 417.3V407.2M164.1 407.2H167.5M167 419.1V410.1M165.3 410.1H168.7M168.1 420.6V412M166.4 412H169.8M169.2 422.3V415.2M167.5 415.2H170.9M170.4 425.2V419.8M168.7 419.8H172.1M171.5 426.2V421.7M169.8 421.7H173.2M172.6 427.7V422.9M170.9 422.9H174.3M173.8 430V424.6M172.1 424.6H175.4M174.9 432.3V427.1M173.2 427.1H176.6M176 432.6V428.2M174.3 428.2H177.7M177.1 434.5V430.1M175.4 430.1H178.8M178.3 435.7V430.7M176.6 430.7H180M179.4 437.6V433.4M177.7 433.4H181.1M180.5 437.8V432.1M178.8 432.1H182.2M181.7 439.3V433.9M180 433.9H183.4M182.8 439.2V433.1M181.1 433.1H184.5M183.9 441.3V435.5M182.2 435.5H185.6M185.1 440.5V434.5M183.4 434.5H186.8M186.2 441.8V435.7M184.5 435.7H187.9M187.3 442.4V436.6M185.6 436.6H189M188.4 442.3V436.2M186.7 436.2H190.1M189.6 443.9V437.5M187.9 437.5H191.3M190.7 444.8V438.9M189 438.9H192.4M191.8 446.2V440.1M190.1 440.1H193.5M193 447.2V442.1M191.3 442.1H194.7M194.1 447.5V441.8M192.4 441.8H195.8M195.2 448V442.3M193.5 442.3H196.9M196.3 448.4V443.4M194.6 443.4H198M197.5 450.4V445M195.8 445H199.2M198.6 450.7V446.1M196.9 446.1H200.3M199.7 451.6V447M198 447H201.4M200.9 452.3V447.6M199.2 447.6H202.6M202 453.3V449M200.3 449H203.7M203.1 453.3V448.6M201.4 448.6H204.8M204.3 454.6V450M202.6 450H206M205.4 456V452.3M203.7 452.3H207.1M206.5 456.9V452.7M204.8 452.7H208.2M207.6 456.3V452.9M205.9 452.9H209.3M208.8 455.6V452.2M207.1 452.2H210.5M209.9 455.6V452.1M208.2 452.1H211.6M211 455.4V451.2M209.3 451.2H212.7M212.2 455.8V451.5M210.5 451.5H213.9M213.3 455.6V443.1M211.6 443.1H215M214.4 456.2V452.7M212.7 452.7H216.1M215.6 456.4V452.9M213.9 452.9H217.3M216.7 458.7V454.3M215 454.3H218.4M217.8 458.8V454.4M216.1 454.4H219.5M218.9 458.6V454.4M217.2 454.4H220.6M220.1 459.2V455.3M218.4 455.3H221.8" stroke="#9ec6f7" stroke-width="0.58" fill="none"/>
<path d="M43.8 432.9L44.9 432.5L46.1 433.1L47.2 432.7L48.3 432L49.4 432.3L50.6 433.2L51.7 431.9L52.8 433L54 433L55.1 431.9L56.2 431.8L57.4 431.4L58.5 431.1L59.6 430.7L60.8 430.2L61.9 430.6L63 430.2L64.1 430.1L65.3 430.7L66.4 430.9L67.5 430.8L68.7 431.2L69.8 430.9L70.9 431.9L72 432.7L73.2 433.5L74.3 432.9L75.4 433L76.6 434L77.7 434.4L78.8 435.4L80 436.1L81.1 436.3L82.2 437.3L83.3 436.9L84.5 438.2L85.6 438.6L86.7 438.1L87.9 437.3L89 437.8L90.1 437.9L91.3 438L92.4 438.2L93.5 438.1L94.6 438.5L95.8 438.5L96.9 440L98 439.9L99.2 438.4L100.3 439L101.4 438.7L102.6 439.3L103.7 439.1L104.8 439.2L105.9 438.3L107.1 439.3L108.2 438.6L109.3 437.2L110.5 437.8L111.6 437L112.7 435.7L113.9 435.2L115 434.7L116.1 432.8L117.2 429.7L118.4 426.5L119.5 423.8L120.6 421.8L121.8 419.2L122.9 417.1L124 416.6L125.2 417.2L126.3 416.5L127.4 416.7L128.5 416.4L129.7 415.7L130.8 416.9L131.9 417.4L133.1 417.5L134.2 417.2L135.3 417.8L136.5 416.4L137.6 415.6L138.7 416L139.8 415.1L141 414.5L142.1 415.2L143.2 414L144.4 412.9L145.5 412.6L146.6 412.3L147.8 411.3L148.9 411.4L150 410.2L151.1 410.2L152.3 409.4L153.4 409.2L154.5 409.2L155.7 410L156.8 408.9L157.9 409.2L159.1 410L160.2 411.7L161.3 412.7L162.4 412.7L163.6 415.6L164.7 415.1L165.8 417.3L167 419.1L168.1 420.6L169.2 422.3L170.4 425.2L171.5 426.2L172.6 427.7L173.8 430L174.9 432.3L176 432.6L177.1 434.5L178.3 435.7L179.4 437.6L180.5 437.8L181.7 439.3L182.8 439.2L183.9 441.3L185.1 440.5L186.2 441.8L187.3 442.4L188.4 442.3L189.6 443.9L190.7 444.8L191.8 446.2L193 447.2L194.1 447.5L195.2 448L196.3 448.4L197.5 450.4L198.6 450.7L199.7 451.6L200.9 452.3L202 453.3L203.1 453.3L204.3 454.6L205.4 456L206.5 456.9L207.6 456.3L208.8 455.6L209.9 455.6L211 455.4L212.2 455.8L213.3 455.6L214.4 456.2L215.6 456.4L216.7 458.7L217.8 458.8L218.9 458.6L220.1 459.2" stroke="#9ec6f7" stroke-width="1" fill="none" stroke-linejoin="round"/>
<path d="M43.8 432.9h0M44.9 432.5h0M46.1 433.1h0M47.2 432.7h0M48.3 432h0M49.4 432.3h0M50.6 433.2h0M51.7 431.9h0M52.8 433h0M54 433h0M55.1 431.9h0M56.2 431.8h0M57.4 431.4h0M58.5 431.1h0M59.6 430.7h0M60.8 430.2h0M61.9 430.6h0M63 430.2h0M64.1 430.1h0M65.3 430.7h0M66.4 430.9h0M67.5 430.8h0M68.7 431.2h0M69.8 430.9h0M70.9 431.9h0M72 432.7h0M73.2 433.5h0M74.3 432.9h0M75.4 433h0M76.6 434h0M77.7 434.4h0M78.8 435.4h0M80 436.1h0M81.1 436.3h0M82.2 437.3h0M83.3 436.9h0M84.5 438.2h0M85.6 438.6h0M86.7 438.1h0M87.9 437.3h0M89 437.8h0M90.1 437.9h0M91.3 438h0M92.4 438.2h0M93.5 438.1h0M94.6 438.5h0M95.8 438.5h0M96.9 440h0M98 439.9h0M99.2 438.4h0M100.3 439h0M101.4 438.7h0M102.6 439.3h0M103.7 439.1h0M104.8 439.2h0M105.9 438.3h0M107.1 439.3h0M108.2 438.6h0M109.3 437.2h0M110.5 437.8h0M111.6 437h0M112.7 435.7h0M113.9 435.2h0M115 434.7h0M116.1 432.8h0M117.2 429.7h0M118.4 426.5h0M119.5 423.8h0M120.6 421.8h0M121.8 419.2h0M122.9 417.1h0M124 416.6h0M125.2 417.2h0M126.3 416.5h0M127.4 416.7h0M128.5 416.4h0M129.7 415.7h0M130.8 416.9h0M131.9 417.4h0M133.1 417.5h0M134.2 417.2h0M135.3 417.8h0M136.5 416.4h0M137.6 415.6h0M138.7 416h0M139.8 415.1h0M141 414.5h0M142.1 415.2h0M143.2 414h0M144.4 412.9h0M145.5 412.6h0M146.6 412.3h0M147.8 411.3h0M148.9 411.4h0M150 410.2h0M151.1 410.2h0M152.3 409.4h0M153.4 409.2h0M154.5 409.2h0M155.7 410h0M156.8 408.9h0M157.9 409.2h0M159.1 410h0M160.2 411.7h0M161.3 412.7h0M162.4 412.7h0M163.6 415.6h0M164.7 415.1h0M165.8 417.3h0M167 419.1h0M168.1 420.6h0M169.2 422.3h0M170.4 425.2h0M171.5 426.2h0M172.6 427.7h0M173.8 430h0M174.9 432.3h0M176 432.6h0M177.1 434.5h0M178.3 435.7h0M179.4 437.6h0M180.5 437.8h0M181.7 439.3h0M182.8 439.2h0M183.9 441.3h0M185.1 440.5h0M186.2 441.8h0M187.3 442.4h0M188.4 442.3h0M189.6 443.9h0M190.7 444.8h0M191.8 446.2h0M193 447.2h0M194.1 447.5h0M195.2 448h0M196.3 448.4h0M197.5 450.4h0M198.6 450.7h0M199.7 451.6h0M200.9 452.3h0M202 453.3h0M203.1 453.3h0M204.3 454.6h0M205.4 456h0M206.5 456.9h0M207.6 456.3h0M208.8 455.6h0M209.9 455.6h0M211 455.4h0M212.2 455.8h0M213.3 455.6h0M214.4 456.2h0M215.6 456.4h0M216.7 458.7h0M217.8 458.8h0M218.9 458.6h0M220.1 459.2h0" stroke="#9ec6f7" stroke-width="3.6" stroke-linecap="round" fill="none"/>
<path d="M43.8 433.5V431.4M42.1 431.4H45.5M44.9 432.2V429.5M43.2 429.5H46.6M46.1 433.8V430.8M44.4 430.8H47.8M47.2 434.3V431.8M45.5 431.8H48.9M48.3 435.4V432.5M46.6 432.5H50M49.4 435.8V432.7M47.7 432.7H51.1M50.6 434.9V432.2M48.9 432.2H52.3M51.7 434.4V431.4M50 431.4H53.4M52.8 435.4V432.1M51.1 432.1H54.5M54 436.2V432.2M52.3 432.2H55.7M55.1 437.2V433.7M53.4 433.7H56.8M56.2 437.9V433.3M54.5 433.3H57.9M57.4 438.5V434.3M55.7 434.3H59.1M58.5 440.3V435.4M56.8 435.4H60.2M59.6 442.5V437.5M57.9 437.5H61.3M60.8 442.3V436.6M59 436.6H62.5M61.9 443.7V438.5M60.2 438.5H63.6M63 446.2V440.9M61.3 440.9H64.7M64.1 446.1V440.2M62.4 440.2H65.8M65.3 448.2V440.5M63.6 440.5H67M66.4 449.6V442M64.7 442H68.1M67.5 449.7V443.2M65.8 443.2H69.2M68.7 450.7V444.5M67 444.5H70.4M69.8 449.3V441.6M68.1 441.6H71.5M70.9 450.1V442.5M69.2 442.5H72.6M72 450.4V442.2M70.3 442.2H73.8M73.2 450.2V443.5M71.5 443.5H74.9M74.3 451V444.3M72.6 444.3H76M75.4 450.8V444.1M73.7 444.1H77.1M76.6 449.7V441M74.9 441H78.3M77.7 450.3V443.1M76 443.1H79.4M78.8 449.6V442.1M77.1 442.1H80.5M80 449.5V441.6M78.3 441.6H81.7M81.1 450.7V442M79.4 442H82.8M82.2 452.3V442M80.5 442H83.9M83.3 450.9V442.3M81.6 442.3H85M84.5 452.5V442.3M82.8 442.3H86.2M85.6 452.1V440.8M83.9 440.8H87.3M86.7 452.3V442.7M85 442.7H88.4M87.9 451.7V442.9M86.2 442.9H89.6M89 453V443.6M87.3 443.6H90.7M90.1 454V443.5M88.4 443.5H91.8M91.3 453.6V442.8M89.6 442.8H93M92.4 453.4V442.5M90.7 442.5H94.1M93.5 455.1V445.1M91.8 445.1H95.2M94.6 455.4V445.2M92.9 445.2H96.3M95.8 454.9V443.4M94.1 443.4H97.5M96.9 455.5V442.1M95.2 442.1H98.6M98 457.5V443.2M96.3 443.2H99.7M99.2 456.8V445.8M97.5 445.8H100.9M100.3 456.8V444.2M98.6 444.2H102M101.4 457.4V443.9M99.7 443.9H103.1M102.6 457V442.2M100.9 442.2H104.3M103.7 457.2V446.3M102 446.3H105.4M104.8 455.9V441.8M103.1 441.8H106.5M105.9 456.1V445.3M104.2 445.3H107.6M107.1 454.1V439.9M105.4 439.9H108.8M108.2 455.1V442.6M106.5 442.6H109.9M109.3 453.6V441.7M107.6 441.7H111M110.5 452.1V441.6M108.8 441.6H112.2M111.6 453.5V441.6M109.9 441.6H113.3M112.7 452.4V441.6M111 441.6H114.4M113.9 450.3V438.4M112.2 438.4H115.6M115 447.8V435.7M113.3 435.7H116.7M116.1 446.1V428.7M114.4 428.7H117.8M117.2 441.1V422.2M115.5 422.2H118.9M118.4 438.6V418.6M116.7 418.6H120.1M119.5 436.7V416.7M117.8 416.7H121.2M120.6 438.1V416.1M118.9 416.1H122.3M121.8 438.4V417.9M120.1 417.9H123.5M122.9 439.4V422.2M121.2 422.2H124.6M124 440.1V423.8M122.3 423.8H125.7M125.2 438.4V421.6M123.5 421.6H126.9M126.3 437.8V422.5M124.6 422.5H128M127.4 437.7V424.2M125.7 424.2H129.1M128.5 436.8V422.3M126.8 422.3H130.2M129.7 434.8V422.5M128 422.5H131.4M130.8 434.2V419.3M129.1 419.3H132.5M131.9 430.6V414.4M130.2 414.4H133.6M133.1 432.1V415.6M131.4 415.6H134.8M134.2 431.3V416.7M132.5 416.7H135.9M135.3 433.9V418.1M133.6 418.1H137M136.5 438.8V424.2M134.8 424.2H138.2M137.6 437.3V424.4M135.9 424.4H139.3M138.7 440.7V427.2M137 427.2H140.4M139.8 441.6V430.3M138.2 430.3H141.5M141 441V429.7M139.3 429.7H142.7M142.1 442.6V429.6M140.4 429.6H143.8M143.2 442.8V432.4M141.5 432.4H144.9M144.4 444.3V432.9M142.7 432.9H146.1M145.5 443.9V431.5M143.8 431.5H147.2M146.6 446.1V434.4M144.9 434.4H148.3M147.8 445.5V435M146.1 435H149.5M148.9 447.5V436.8M147.2 436.8H150.6M150 448.1V436.2M148.3 436.2H151.7M151.1 447.9V437.8M149.4 437.8H152.8M152.3 447.6V437.5M150.6 437.5H154M153.4 449.4V438.9M151.7 438.9H155.1M154.5 450.2V440.1M152.8 440.1H156.2M155.7 451.6V441.4M154 441.4H157.4M156.8 453.5V443.4M155.1 443.4H158.5M157.9 455.8V443.8M156.2 443.8H159.6M159.1 456.9V444.6M157.4 444.6H160.8M160.2 456.2V444.4M158.5 444.4H161.9M161.3 456.1V444.1M159.6 444.1H163M162.4 456.2V444.7M160.8 444.7H164.1M163.6 454.8V442.7M161.9 442.7H165.3M164.7 455.3V443M163 443H166.4M165.8 455.1V442.6M164.1 442.6H167.5M167 453.2V439.8M165.3 439.8H168.7M168.1 452.3V441.8M166.4 441.8H169.8M169.2 454.8V442.8M167.5 442.8H170.9M170.4 456V444.7M168.7 444.7H172.1M171.5 457.9V445.4M169.8 445.4H173.2M172.6 458V448.3M170.9 448.3H174.3M173.8 461.9V450.7M172.1 450.7H175.4M174.9 462.5V452.3M173.2 452.3H176.6M176 466.3V457M174.3 457H177.7M177.1 466.6V455.3M175.4 455.3H178.8M178.3 470.9V460.5M176.6 460.5H180M179.4 471.9V460.4M177.7 460.4H181.1M180.5 476V464.9M178.8 464.9H182.2M181.7 477.2V466.9M180 466.9H183.4M182.8 477.8V467.7M181.1 467.7H184.5M183.9 480V468.9M182.2 468.9H185.6M185.1 481V471.3M183.4 471.3H186.8M186.2 482V472.3M184.5 472.3H187.9M187.3 483.1V473.5M185.6 473.5H189M188.4 484.8V476M186.7 476H190.1M189.6 485.9V477M187.9 477H191.3M190.7 485.7V477.4M189 477.4H192.4M191.8 485.9V477.8M190.1 477.8H193.5M193 488.7V478.5M191.3 478.5H194.7M194.1 488.7V479.3M192.4 479.3H195.8M195.2 489.7V479.9M193.5 479.9H196.9M196.3 488.1V479.1M194.6 479.1H198M197.5 491V480.5M195.8 480.5H199.2M198.6 490.1V479.8M196.9 479.8H200.3M199.7 489V480.1M198 480.1H201.4M200.9 489V480.8M199.2 480.8H202.6M202 489.4V479.2M200.3 479.2H203.7M203.1 489.7V480.3M201.4 480.3H204.8M204.3 490.9V480.5M202.6 480.5H206M205.4 491.8V482.2M203.7 482.2H207.1M206.5 490.9V480.9M204.8 480.9H208.2M207.6 494.1V483.2M205.9 483.2H209.3M208.8 494.7V484.1M207.1 484.1H210.5M209.9 494.6V484.9M208.2 484.9H211.6M211 495.6V486.1M209.3 486.1H212.7M212.2 503.2V494.1M210.5 494.1H213.9M213.3 512.8V500.4M211.6 500.4H215M214.4 514.3V503.4M212.7 503.4H216.1M215.6 513.4V503.5M213.9 503.5H217.3M216.7 514.5V503.6M215 503.6H218.4M217.8 514.5V503.2M216.1 503.2H219.5M218.9 516.3V506.8M217.2 506.8H220.6M220.1 515.5V505.1M218.4 505.1H221.8" stroke="#ee3338" stroke-width="0.55" fill="none"/>
<path d="M43.8 433.5L44.9 432.2L46.1 433.8L47.2 434.3L48.3 435.4L49.4 435.8L50.6 434.9L51.7 434.4L52.8 435.4L54 436.2L55.1 437.2L56.2 437.9L57.4 438.5L58.5 440.3L59.6 442.5L60.8 442.3L61.9 443.7L63 446.2L64.1 446.1L65.3 448.2L66.4 449.6L67.5 449.7L68.7 450.7L69.8 449.3L70.9 450.1L72 450.4L73.2 450.2L74.3 451L75.4 450.8L76.6 449.7L77.7 450.3L78.8 449.6L80 449.5L81.1 450.7L82.2 452.3L83.3 450.9L84.5 452.5L85.6 452.1L86.7 452.3L87.9 451.7L89 453L90.1 454L91.3 453.6L92.4 453.4L93.5 455.1L94.6 455.4L95.8 454.9L96.9 455.5L98 457.5L99.2 456.8L100.3 456.8L101.4 457.4L102.6 457L103.7 457.2L104.8 455.9L105.9 456.1L107.1 454.1L108.2 455.1L109.3 453.6L110.5 452.1L111.6 453.5L112.7 452.4L113.9 450.3L115 447.8L116.1 446.1L117.2 441.1L118.4 438.6L119.5 436.7L120.6 438.1L121.8 438.4L122.9 439.4L124 440.1L125.2 438.4L126.3 437.8L127.4 437.7L128.5 436.8L129.7 434.8L130.8 434.2L131.9 430.6L133.1 432.1L134.2 431.3L135.3 433.9L136.5 438.8L137.6 437.3L138.7 440.7L139.8 441.6L141 441L142.1 442.6L143.2 442.8L144.4 444.3L145.5 443.9L146.6 446.1L147.8 445.5L148.9 447.5L150 448.1L151.1 447.9L152.3 447.6L153.4 449.4L154.5 450.2L155.7 451.6L156.8 453.5L157.9 455.8L159.1 456.9L160.2 456.2L161.3 456.1L162.4 456.2L163.6 454.8L164.7 455.3L165.8 455.1L167 453.2L168.1 452.3L169.2 454.8L170.4 456L171.5 457.9L172.6 458L173.8 461.9L174.9 462.5L176 466.3L177.1 466.6L178.3 470.9L179.4 471.9L180.5 476L181.7 477.2L182.8 477.8L183.9 480L185.1 481L186.2 482L187.3 483.1L188.4 484.8L189.6 485.9L190.7 485.7L191.8 485.9L193 488.7L194.1 488.7L195.2 489.7L196.3 488.1L197.5 491L198.6 490.1L199.7 489L200.9 489L202 489.4L203.1 489.7L204.3 490.9L205.4 491.8L206.5 490.9L207.6 494.1L208.8 494.7L209.9 494.6L211 495.6L212.2 503.2L213.3 512.8L214.4 514.3L215.6 513.4L216.7 514.5L217.8 514.5L218.9 516.3L220.1 515.5" stroke="#ee3338" stroke-width="1.6" fill="none" stroke-linejoin="round"/>
<path d="M43.8 431.5l-1.87 3.4h3.74zM44.9 430.2l-1.87 3.4h3.74zM46.1 431.8l-1.87 3.4h3.74zM47.2 432.3l-1.87 3.4h3.74zM48.3 433.3l-1.87 3.4h3.74zM49.4 433.7l-1.87 3.4h3.74zM50.6 432.9l-1.87 3.4h3.74zM51.7 432.4l-1.87 3.4h3.74zM52.8 433.4l-1.87 3.4h3.74zM54 434.1l-1.87 3.4h3.74zM55.1 435.1l-1.87 3.4h3.74zM56.2 435.9l-1.87 3.4h3.74zM57.4 436.5l-1.87 3.4h3.74zM58.5 438.3l-1.87 3.4h3.74zM59.6 440.5l-1.87 3.4h3.74zM60.8 440.2l-1.87 3.4h3.74zM61.9 441.6l-1.87 3.4h3.74zM63 444.2l-1.87 3.4h3.74zM64.1 444.1l-1.87 3.4h3.74zM65.3 446.2l-1.87 3.4h3.74zM66.4 447.5l-1.87 3.4h3.74zM67.5 447.7l-1.87 3.4h3.74zM68.7 448.7l-1.87 3.4h3.74zM69.8 447.2l-1.87 3.4h3.74zM70.9 448.1l-1.87 3.4h3.74zM72 448.4l-1.87 3.4h3.74zM73.2 448.2l-1.87 3.4h3.74zM74.3 449l-1.87 3.4h3.74zM75.4 448.7l-1.87 3.4h3.74zM76.6 447.7l-1.87 3.4h3.74zM77.7 448.3l-1.87 3.4h3.74zM78.8 447.6l-1.87 3.4h3.74zM80 447.5l-1.87 3.4h3.74zM81.1 448.6l-1.87 3.4h3.74zM82.2 450.2l-1.87 3.4h3.74zM83.3 448.9l-1.87 3.4h3.74zM84.5 450.5l-1.87 3.4h3.74zM85.6 450.1l-1.87 3.4h3.74zM86.7 450.2l-1.87 3.4h3.74zM87.9 449.6l-1.87 3.4h3.74zM89 451l-1.87 3.4h3.74zM90.1 451.9l-1.87 3.4h3.74zM91.3 451.5l-1.87 3.4h3.74zM92.4 451.4l-1.87 3.4h3.74zM93.5 453.1l-1.87 3.4h3.74zM94.6 453.4l-1.87 3.4h3.74zM95.8 452.9l-1.87 3.4h3.74zM96.9 453.4l-1.87 3.4h3.74zM98 455.5l-1.87 3.4h3.74zM99.2 454.8l-1.87 3.4h3.74zM100.3 454.8l-1.87 3.4h3.74zM101.4 455.4l-1.87 3.4h3.74zM102.6 455l-1.87 3.4h3.74zM103.7 455.2l-1.87 3.4h3.74zM104.8 453.8l-1.87 3.4h3.74zM105.9 454.1l-1.87 3.4h3.74zM107.1 452.1l-1.87 3.4h3.74zM108.2 453.1l-1.87 3.4h3.74zM109.3 451.5l-1.87 3.4h3.74zM110.5 450l-1.87 3.4h3.74zM111.6 451.5l-1.87 3.4h3.74zM112.7 450.4l-1.87 3.4h3.74zM113.9 448.2l-1.87 3.4h3.74zM115 445.8l-1.87 3.4h3.74zM116.1 444l-1.87 3.4h3.74zM117.2 439l-1.87 3.4h3.74zM118.4 436.5l-1.87 3.4h3.74zM119.5 434.6l-1.87 3.4h3.74zM120.6 436.1l-1.87 3.4h3.74zM121.8 436.4l-1.87 3.4h3.74zM122.9 437.4l-1.87 3.4h3.74zM124 438.1l-1.87 3.4h3.74zM125.2 436.4l-1.87 3.4h3.74zM126.3 435.7l-1.87 3.4h3.74zM127.4 435.7l-1.87 3.4h3.74zM128.5 434.7l-1.87 3.4h3.74zM129.7 432.7l-1.87 3.4h3.74zM130.8 432.2l-1.87 3.4h3.74zM131.9 428.6l-1.87 3.4h3.74zM133.1 430.1l-1.87 3.4h3.74zM134.2 429.2l-1.87 3.4h3.74zM135.3 431.8l-1.87 3.4h3.74zM136.5 436.7l-1.87 3.4h3.74zM137.6 435.2l-1.87 3.4h3.74zM138.7 438.7l-1.87 3.4h3.74zM139.8 439.6l-1.87 3.4h3.74zM141 439l-1.87 3.4h3.74zM142.1 440.6l-1.87 3.4h3.74zM143.2 440.7l-1.87 3.4h3.74zM144.4 442.3l-1.87 3.4h3.74zM145.5 441.9l-1.87 3.4h3.74zM146.6 444.1l-1.87 3.4h3.74zM147.8 443.4l-1.87 3.4h3.74zM148.9 445.4l-1.87 3.4h3.74zM150 446.1l-1.87 3.4h3.74zM151.1 445.9l-1.87 3.4h3.74zM152.3 445.5l-1.87 3.4h3.74zM153.4 447.4l-1.87 3.4h3.74zM154.5 448.1l-1.87 3.4h3.74zM155.7 449.5l-1.87 3.4h3.74zM156.8 451.4l-1.87 3.4h3.74zM157.9 453.8l-1.87 3.4h3.74zM159.1 454.8l-1.87 3.4h3.74zM160.2 454.1l-1.87 3.4h3.74zM161.3 454l-1.87 3.4h3.74zM162.4 454.1l-1.87 3.4h3.74zM163.6 452.8l-1.87 3.4h3.74zM164.7 453.3l-1.87 3.4h3.74zM165.8 453l-1.87 3.4h3.74zM167 451.1l-1.87 3.4h3.74zM168.1 450.2l-1.87 3.4h3.74zM169.2 452.8l-1.87 3.4h3.74zM170.4 454l-1.87 3.4h3.74zM171.5 455.9l-1.87 3.4h3.74zM172.6 455.9l-1.87 3.4h3.74zM173.8 459.9l-1.87 3.4h3.74zM174.9 460.5l-1.87 3.4h3.74zM176 464.3l-1.87 3.4h3.74zM177.1 464.6l-1.87 3.4h3.74zM178.3 468.9l-1.87 3.4h3.74zM179.4 469.9l-1.87 3.4h3.74zM180.5 474l-1.87 3.4h3.74zM181.7 475.2l-1.87 3.4h3.74zM182.8 475.7l-1.87 3.4h3.74zM183.9 477.9l-1.87 3.4h3.74zM185.1 478.9l-1.87 3.4h3.74zM186.2 479.9l-1.87 3.4h3.74zM187.3 481.1l-1.87 3.4h3.74zM188.4 482.8l-1.87 3.4h3.74zM189.6 483.9l-1.87 3.4h3.74zM190.7 483.7l-1.87 3.4h3.74zM191.8 483.8l-1.87 3.4h3.74zM193 486.7l-1.87 3.4h3.74zM194.1 486.7l-1.87 3.4h3.74zM195.2 487.7l-1.87 3.4h3.74zM196.3 486.1l-1.87 3.4h3.74zM197.5 489l-1.87 3.4h3.74zM198.6 488l-1.87 3.4h3.74zM199.7 487l-1.87 3.4h3.74zM200.9 486.9l-1.87 3.4h3.74zM202 487.4l-1.87 3.4h3.74zM203.1 487.7l-1.87 3.4h3.74zM204.3 488.9l-1.87 3.4h3.74zM205.4 489.7l-1.87 3.4h3.74zM206.5 488.8l-1.87 3.4h3.74zM207.6 492l-1.87 3.4h3.74zM208.8 492.6l-1.87 3.4h3.74zM209.9 492.5l-1.87 3.4h3.74zM211 493.6l-1.87 3.4h3.74zM212.2 501.1l-1.87 3.4h3.74zM213.3 510.7l-1.87 3.4h3.74zM214.4 512.2l-1.87 3.4h3.74zM215.6 511.3l-1.87 3.4h3.74zM216.7 512.5l-1.87 3.4h3.74zM217.8 512.5l-1.87 3.4h3.74zM218.9 514.3l-1.87 3.4h3.74zM220.1 513.5l-1.87 3.4h3.74z" fill="#ee3338"/>
<path d="M63 558.3L63 545L66.6 545L66.6 533.3" stroke="#858585" stroke-width="0.85" fill="none"/>
<path d="M63.7 537.5L66.6 533.3L69.5 537.5" stroke="#858585" stroke-width="0.85" fill="none"/>
<path d="M136.2 558L136.2 553.6L150 553.6L150 533.3" stroke="#858585" stroke-width="0.85" fill="none"/>
<path d="M147.1 537.5L150 533.3L152.9 537.5" stroke="#858585" stroke-width="0.85" fill="none"/>
<text x="227.8" y="388.7" font-size="14.2" font-weight="bold" text-anchor="start" fill="#000">F</text>
<line x1="277.4" y1="406.8" x2="277.4" y2="513" stroke="#000" stroke-width="1.25"/>
<line x1="276.8" y1="512.4" x2="348.6" y2="512.4" stroke="#000" stroke-width="1.25"/>
<line x1="272.8" y1="512.4" x2="277.4" y2="512.4" stroke="#000" stroke-width="1.25"/>
<line x1="272.8" y1="477.4" x2="277.4" y2="477.4" stroke="#000" stroke-width="1.25"/>
<line x1="272.8" y1="442.4" x2="277.4" y2="442.4" stroke="#000" stroke-width="1.25"/>
<line x1="272.8" y1="407.4" x2="277.4" y2="407.4" stroke="#000" stroke-width="1.25"/>
<line x1="297.3" y1="512.4" x2="297.3" y2="517" stroke="#000" stroke-width="1.25"/>
<line x1="327.8" y1="512.4" x2="327.8" y2="517" stroke="#000" stroke-width="1.25"/>
<text x="271.4" y="410" font-size="7.6" font-weight="bold" text-anchor="end">1.5×10<tspan font-size="5" dy="-2.0" dx="1.4">7</tspan></text>
<text x="271.4" y="445" font-size="7.6" font-weight="bold" text-anchor="end">1×10<tspan font-size="5" dy="-2.0" dx="1.4">7</tspan></text>
<text x="271.4" y="480" font-size="7.6" font-weight="bold" text-anchor="end">5×10<tspan font-size="5" dy="-2.0" dx="1.4">6</tspan></text>
<text x="271.4" y="515" font-size="7.6" font-weight="bold" text-anchor="end" fill="#000">0</text>
<text x="236.8" y="460.2" font-size="5.6" font-weight="bold" text-anchor="middle" fill="#000" transform="rotate(-90 236.8 460.2)">Fluorescence Intensity</text>
<text x="244.1" y="460.2" font-size="5.6" font-weight="bold" text-anchor="middle" fill="#000" transform="rotate(-90 244.1 460.2)">(Fluo-4 AM a.u.)</text>
<text x="312" y="397" font-size="5.6" font-weight="bold" text-anchor="middle">Relative Ca<tspan font-size="3.8" dy="-2.2">2+</tspan><tspan dy="2.2"> level</tspan></text>
<text x="312" y="403.6" font-size="5.6" font-weight="bold" text-anchor="middle" fill="#000">(t=0)</text>
<path d="M297.3 426V419.9H327.8V449.7" stroke="#000" stroke-width="1" fill="none"/>
<text x="312" y="418" font-size="5.4" font-weight="bold" text-anchor="middle" fill="#000" letter-spacing="0.35">* * * *</text>
<text x="297.3" y="523.8" font-size="6" font-weight="bold" text-anchor="middle" fill="#000">WT</text>
<text x="327.6" y="523.8" font-size="5.8" font-weight="bold" font-style="italic" text-anchor="middle">Trpm8<tspan font-size="3.6" dy="-2.4">-/-</tspan></text>
<path d="M297.3 486.3h0M300.7 486h0M293.9 484.5h0M304 483.7h0M297.3 481.5h0M300.7 481h0M293.9 480.2h0M304 480h0M290.6 479h0M297.3 477.8h0M300.7 475.9h0M295.6 474.5h0M292.3 474h0M304 473.5h0M288.9 473.2h0M299 472.8h0M292.3 472.5h0M298.1 472.2h0M294.8 471.9h0M299.3 471.7h0M302.3 470.1h0M305.7 470.1h0M288.9 469.9h0M297.3 468.6h0M293.9 468.6h0M299.7 468.4h0M304 467.2h0M290.6 466.6h0M289 466.4h0M288.1 466.1h0M303.7 466h0M297.3 465.1h0M300.7 464.2h0M293.9 463.2h0M290.6 463.1h0M297.3 461.3h0M302.3 461.1h0M305.7 460.9h0M293.9 459.4h0M297.3 457.8h0M300.7 456.6h0M293.9 455.8h0M304 454.9h0M297.3 453.6h0M299 450.7h0M295.6 448.7h0M302.3 448.3h0M292.3 448h0M297.3 442.4h0M297.3 431.9h0" stroke="#9ec6f7" stroke-width="3.2" stroke-linecap="round" fill="none"/>
<path d="M327.8 498.8h0M329.2 496.3h0M327.8 493.4h0M330.7 493.1h0M324.9 492.8h0M333.6 492.4h0M322 491.7h0M336.5 491.3h0M319.1 491.1h0M322.3 490.9h0M329.2 490.6h0M326.4 490.3h0M319.5 490.2h0M332.2 489.8h0M325.6 489.6h0M320.6 489.5h0M318.7 489.4h0M325.7 489h0M336.6 488.9h0M334.1 488.8h0M333.4 488.2h0M322 488h0M329.2 487.7h0M328.6 487.6h0M323.1 487.5h0M320.9 487.2h0M319.5 487.2h0M321.8 487.1h0M336.8 486.4h0M334.7 486.3h0M326.4 485.7h0M334.2 485.7h0M330.7 485.1h0M317.7 484.8h0M334.1 484.8h0M321.4 484.6h0M323.8 484.3h0M330.5 484.2h0M337.9 483.3h0M332.7 483.2h0M327.8 483.2h0M335.2 483.1h0M335.8 483h0M319.1 482.9h0M330 482.2h0M331.4 482.2h0M327.9 482.1h0M321 482.1h0M327.2 481.7h0M319.2 481.5h0M336.9 481.2h0M335.5 480.8h0M328.8 480.7h0M324.9 479.9h0M332.2 479.2h0M322 478.7h0M327.8 477.7h0M335.1 477.6h0M319.1 477.2h0M324.9 476.7h0M337.9 476.7h0M330.7 475.5h0M322 475.3h0M327.8 473.6h0M324.9 473.3h0M333.6 473.1h0M327.8 466.2h0M330.7 465.8h0M324.9 465.5h0M327.8 455.7h0M330.7 455.3h0" stroke="#ee3338" stroke-width="3.2" stroke-linecap="round" fill="none"/>
<line x1="287.4" y1="466.5" x2="307" y2="466.5" stroke="#000" stroke-width="0.9"/>
<line x1="323.8" y1="483.8" x2="331.8" y2="483.8" stroke="#4a2020" stroke-width="0.8"/>
<text x="428.2" y="388.7" font-size="14.2" font-weight="bold" text-anchor="start" fill="#000">I</text>
<line x1="468.3" y1="390.7" x2="468.3" y2="529.9" stroke="#000" stroke-width="1.25"/>
<line x1="467.7" y1="529.3" x2="638.9" y2="529.3" stroke="#000" stroke-width="1.25"/>
<line x1="462.7" y1="406.7" x2="468.3" y2="406.7" stroke="#000" stroke-width="1.25"/>
<text x="459.9" y="409.9" font-size="7.1" font-weight="bold" text-anchor="end" fill="#000">1.2</text>
<line x1="462.7" y1="468" x2="468.3" y2="468" stroke="#000" stroke-width="1.25"/>
<text x="459.9" y="471.2" font-size="7.1" font-weight="bold" text-anchor="end" fill="#000">1.0</text>
<line x1="462.7" y1="529.3" x2="468.3" y2="529.3" stroke="#000" stroke-width="1.25"/>
<text x="459.9" y="532.5" font-size="7.1" font-weight="bold" text-anchor="end" fill="#000">0.8</text>
<line x1="468.3" y1="529.3" x2="468.3" y2="534.9" stroke="#000" stroke-width="1.25"/>
<text x="468.3" y="544" font-size="7" font-weight="bold" text-anchor="middle" fill="#000">0</text>
<line x1="510.8" y1="529.3" x2="510.8" y2="534.9" stroke="#000" stroke-width="1.25"/>
<text x="510.8" y="544" font-size="7" font-weight="bold" text-anchor="middle" fill="#000">20</text>
<line x1="553.3" y1="529.3" x2="553.3" y2="534.9" stroke="#000" stroke-width="1.25"/>
<text x="553.3" y="544" font-size="7" font-weight="bold" text-anchor="middle" fill="#000">40</text>
<line x1="595.8" y1="529.3" x2="595.8" y2="534.9" stroke="#000" stroke-width="1.25"/>
<text x="595.8" y="544" font-size="7" font-weight="bold" text-anchor="middle" fill="#000">60</text>
<line x1="638.3" y1="529.3" x2="638.3" y2="534.9" stroke="#000" stroke-width="1.25"/>
<text x="638.3" y="544" font-size="7" font-weight="bold" text-anchor="middle" fill="#000">80</text>
<text x="443.6" y="461" font-size="7.6" font-weight="bold" text-anchor="middle" transform="rotate(-90 443.6 461)">ΔF/F<tspan font-size="4.94" dy="1.2">0</tspan><tspan dy="-1.2"> (%)</tspan></text>
<text x="538" y="557" font-size="7.5" font-weight="bold" text-anchor="start" fill="#000">seconds</text>
<text x="501" y="386" font-size="6.8" font-weight="bold" text-anchor="start" fill="#000">LPS</text>
<line x1="501" y1="389.3" x2="556" y2="389.3" stroke="#000" stroke-width="1.3"/>
<path d="M564 389.3L555 385.5L555 393.1Z" stroke="none" stroke-width="0" fill="#000"/>
<line x1="481" y1="373" x2="495" y2="373" stroke="#9ec6f7" stroke-width="1.5"/>
<circle cx="488" cy="373" r="2.0" fill="#9ec6f7"/>
<text x="503.7" y="375.5" font-size="7" font-weight="normal" text-anchor="start" fill="#000">Vehicle</text>
<line x1="548" y1="373" x2="562" y2="373" stroke="#ee9a3f" stroke-width="1.5"/>
<rect x="553.1" y="371.1" width="3.8" height="3.8" fill="#ee9a3f"/>
<text x="570.8" y="375.5" font-size="7" font-weight="normal" text-anchor="start" fill="#000">Luteolin 10µM</text>
<path d="M468.3 470V466.1M466.6 466.1H470M466.6 470H470M469.4 469.5V465.3M467.7 465.3H471.1M467.7 469.5H471.1M470.4 470.2V466.7M468.7 466.7H472.1M468.7 470.2H472.1M471.5 470.4V466.6M469.8 466.6H473.2M469.8 470.4H473.2M472.6 471.4V467.1M470.9 467.1H474.2M470.9 471.4H474.2M473.6 471.9V467.8M471.9 467.8H475.3M471.9 471.9H475.3M474.7 472.6V467.5M473 467.5H476.4M473 472.6H476.4M475.7 472V467.1M474 467.1H477.4M474 472H477.4M476.8 472.2V467.8M475.1 467.8H478.5M475.1 472.2H478.5M477.9 473.4V467.9M476.2 467.9H479.6M476.2 473.4H479.6M478.9 473.3V467.7M477.2 467.7H480.6M477.2 473.3H480.6M480 474.9V469.4M478.3 469.4H481.7M478.3 474.9H481.7M481.1 472.8V467.9M479.4 467.9H482.8M479.4 472.8H482.8M482.1 474.9V469M480.4 469H483.8M480.4 474.9H483.8M483.2 475.6V470.1M481.5 470.1H484.9M481.5 475.6H484.9M484.2 474.6V469.3M482.5 469.3H485.9M482.5 474.6H485.9M485.3 475.3V470.1M483.6 470.1H487M483.6 475.3H487M486.4 474.3V469.4M484.7 469.4H488.1M484.7 474.3H488.1M487.4 475.1V468.7M485.7 468.7H489.1M485.7 475.1H489.1M488.5 476.4V470.5M486.8 470.5H490.2M486.8 476.4H490.2M489.6 476V471M487.9 471H491.2M487.9 476H491.2M490.6 475.9V469.9M488.9 469.9H492.3M488.9 475.9H492.3M491.7 475.5V470.4M490 470.4H493.4M490 475.5H493.4M492.7 475.4V469.6M491 469.6H494.4M491 475.4H494.4M493.8 475.7V469.8M492.1 469.8H495.5M492.1 475.7H495.5M494.9 474.9V469.3M493.2 469.3H496.6M493.2 474.9H496.6M495.9 475V469.7M494.2 469.7H497.6M494.2 475H497.6M497 475V469.7M495.3 469.7H498.7M495.3 475H498.7M498.1 475.2V470.2M496.4 470.2H499.8M496.4 475.2H499.8M499.1 475.3V469.2M497.4 469.2H500.8M497.4 475.3H500.8M500.2 475.2V469M498.5 469H501.9M498.5 475.2H501.9M501.2 476.1V469.5M499.5 469.5H502.9M499.5 476.1H502.9M502.3 475.3V469M500.6 469H504M500.6 475.3H504M503.4 475.5V469.1M501.7 469.1H505.1M501.7 475.5H505.1M504.4 475.4V469.7M502.7 469.7H506.1M502.7 475.4H506.1M505.5 476.1V469.7M503.8 469.7H507.2M503.8 476.1H507.2M506.6 474.8V469.5M504.9 469.5H508.2M504.9 474.8H508.2M507.6 477.2V470.8M505.9 470.8H509.3M505.9 477.2H509.3M508.7 476.9V471.7M507 471.7H510.4M507 476.9H510.4M509.7 476.6V470M508 470H511.4M508 476.6H511.4M510.8 477.8V472.4M509.1 472.4H512.5M509.1 477.8H512.5M511.9 478.3V472.2M510.2 472.2H513.6M510.2 478.3H513.6M512.9 478.5V472.9M511.2 472.9H514.6M511.2 478.5H514.6M514 478.8V472.6M512.3 472.6H515.7M512.3 478.8H515.7M515 478.6V473.3M513.3 473.3H516.8M513.3 478.6H516.8M516.1 478.9V472.8M514.4 472.8H517.8M514.4 478.9H517.8M517.2 479.1V474M515.5 474H518.9M515.5 479.1H518.9M518.2 480.3V474.2M516.5 474.2H519.9M516.5 480.3H519.9M519.3 481.3V476.3M517.6 476.3H521M517.6 481.3H521M520.4 481.9V476.1M518.7 476.1H522.1M518.7 481.9H522.1M521.4 482V477M519.7 477H523.1M519.7 482H523.1M522.5 483.1V476.4M520.8 476.4H524.2M520.8 483.1H524.2M523.5 482.9V477.5M521.8 477.5H525.2M521.8 482.9H525.2M524.6 483.4V477.4M522.9 477.4H526.3M522.9 483.4H526.3M525.7 483.2V477.6M524 477.6H527.4M524 483.2H527.4M526.7 484.1V477.7M525 477.7H528.4M525 484.1H528.4M527.8 483.8V478M526.1 478H529.5M526.1 483.8H529.5M528.9 485V478.4M527.2 478.4H530.6M527.2 485H530.6M529.9 485.7V479.6M528.2 479.6H531.6M528.2 485.7H531.6M531 485V479.5M529.3 479.5H532.7M529.3 485H532.7M532 485V478.4M530.3 478.4H533.8M530.3 485H533.8M533.1 485.7V479.4M531.4 479.4H534.8M531.4 485.7H534.8M534.2 486.2V479.8M532.5 479.8H535.9M532.5 486.2H535.9M535.2 485V479.6M533.5 479.6H536.9M533.5 485H536.9M536.3 486.7V481.3M534.6 481.3H538M534.6 486.7H538M537.4 486.8V481.4M535.7 481.4H539.1M535.7 486.8H539.1M538.4 486.4V481.4M536.7 481.4H540.1M536.7 486.4H540.1M539.5 486.6V481M537.8 481H541.2M537.8 486.6H541.2M540.5 486.8V480.8M538.8 480.8H542.2M538.8 486.8H542.2M541.6 486.9V481.9M539.9 481.9H543.3M539.9 486.9H543.3M542.7 488.1V482.3M541 482.3H544.4M541 488.1H544.4M543.7 488.8V482.9M542 482.9H545.4M542 488.8H545.4M544.8 488.9V483.2M543.1 483.2H546.5M543.1 488.9H546.5M545.9 488.2V483M544.2 483H547.6M544.2 488.2H547.6M546.9 489.3V482.9M545.2 482.9H548.6M545.2 489.3H548.6M548 489.5V484.2M546.3 484.2H549.7M546.3 489.5H549.7M549 489.6V484.6M547.3 484.6H550.8M547.3 489.6H550.8M550.1 489.2V484M548.4 484H551.8M548.4 489.2H551.8M551.2 491.1V484.6M549.5 484.6H552.9M549.5 491.1H552.9M552.2 490.6V483.9M550.5 483.9H553.9M550.5 490.6H553.9M553.3 489.9V484.7M551.6 484.7H555M551.6 489.9H555M554.4 491.3V484.9M552.7 484.9H556.1M552.7 491.3H556.1M555.4 492.1V486.2M553.7 486.2H557.1M553.7 492.1H557.1M556.5 490.3V485.1M554.8 485.1H558.2M554.8 490.3H558.2M557.5 491.9V485.5M555.8 485.5H559.2M555.8 491.9H559.2M558.6 491.9V486.7M556.9 486.7H560.3M556.9 491.9H560.3M559.7 492.8V487.3M558 487.3H561.4M558 492.8H561.4M560.7 492.7V486.4M559 486.4H562.4M559 492.7H562.4M561.8 492.6V486.5M560.1 486.5H563.5M560.1 492.6H563.5M562.9 492.3V485.7M561.2 485.7H564.6M561.2 492.3H564.6M563.9 494.3V488.6M562.2 488.6H565.6M562.2 494.3H565.6M565 493.4V487.4M563.3 487.4H566.7M563.3 493.4H566.7M566 494.5V488M564.3 488H567.8M564.3 494.5H567.8M567.1 493.9V488.8M565.4 488.8H568.8M565.4 493.9H568.8M568.2 493.4V487M566.5 487H569.9M566.5 493.4H569.9M569.2 493.3V487.4M567.5 487.4H570.9M567.5 493.3H570.9M570.3 494.5V489M568.6 489H572M568.6 494.5H572M571.4 492.6V487.5M569.7 487.5H573.1M569.7 492.6H573.1M572.4 494.8V488.6M570.7 488.6H574.1M570.7 494.8H574.1M573.5 494.6V489.5M571.8 489.5H575.2M571.8 494.6H575.2M574.5 496V489.3M572.8 489.3H576.2M572.8 496H576.2M575.6 497V490.7M573.9 490.7H577.3M573.9 497H577.3M576.7 496.9V490.5M575 490.5H578.4M575 496.9H578.4M577.7 495.9V489.7M576 489.7H579.4M576 495.9H579.4M578.8 496.3V491.2M577.1 491.2H580.5M577.1 496.3H580.5M579.9 495.5V490M578.2 490H581.6M578.2 495.5H581.6M580.9 496.1V490.7M579.2 490.7H582.6M579.2 496.1H582.6M582 497.6V491.2M580.3 491.2H583.7M580.3 497.6H583.7M583 497.3V492.3M581.3 492.3H584.8M581.3 497.3H584.8M584.1 497.7V492.3M582.4 492.3H585.8M582.4 497.7H585.8M585.2 498.8V493.4M583.5 493.4H586.9M583.5 498.8H586.9M586.2 497.7V491.2M584.5 491.2H587.9M584.5 497.7H587.9M587.3 499V492.3M585.6 492.3H589M585.6 499H589M588.4 500V493.7M586.7 493.7H590.1M586.7 500H590.1M589.4 500V494.3M587.7 494.3H591.1M587.7 500H591.1M590.5 500.2V493.7M588.8 493.7H592.2M588.8 500.2H592.2M591.5 500.5V494.9M589.8 494.9H593.2M589.8 500.5H593.2M592.6 500.6V494.9M590.9 494.9H594.3M590.9 500.6H594.3M593.7 500.2V495.2M592 495.2H595.4M592 500.2H595.4M594.7 500.8V494.4M593 494.4H596.4M593 500.8H596.4M595.8 501.5V495.5M594.1 495.5H597.5M594.1 501.5H597.5M596.9 501.3V495.8M595.2 495.8H598.6M595.2 501.3H598.6M597.9 501.3V495.4M596.2 495.4H599.6M596.2 501.3H599.6M599 502.7V496.3M597.3 496.3H600.7M597.3 502.7H600.7M600 501.9V495.8M598.3 495.8H601.8M598.3 501.9H601.8M601.1 501.1V495.4M599.4 495.4H602.8M599.4 501.1H602.8M602.2 502.4V496M600.5 496H603.9M600.5 502.4H603.9M603.2 502.1V496.9M601.5 496.9H604.9M601.5 502.1H604.9M604.3 501.9V496.9M602.6 496.9H606M602.6 501.9H606M605.4 502.3V496.5M603.7 496.5H607.1M603.7 502.3H607.1M606.4 501.1V495.3M604.7 495.3H608.1M604.7 501.1H608.1M607.5 501.4V495.4M605.8 495.4H609.2M605.8 501.4H609.2M608.5 500.2V495.2M606.8 495.2H610.2M606.8 500.2H610.2M609.6 500.2V494.5M607.9 494.5H611.3M607.9 500.2H611.3M610.7 501.1V495.8M609 495.8H612.4M609 501.1H612.4M611.7 502V496.9M610 496.9H613.4M610 502H613.4M612.8 502.7V496.2M611.1 496.2H614.5M611.1 502.7H614.5M613.9 503.4V497.1M612.2 497.1H615.6M612.2 503.4H615.6M614.9 502.2V495.6M613.2 495.6H616.6M613.2 502.2H616.6M616 502.8V496.4M614.3 496.4H617.7M614.3 502.8H617.7M617 503.4V497.2M615.3 497.2H618.8M615.3 503.4H618.8M618.1 504.6V498.5M616.4 498.5H619.8M616.4 504.6H619.8M619.2 503.6V498.4M617.5 498.4H620.9M617.5 503.6H620.9M620.2 503.9V497.7M618.5 497.7H621.9M618.5 503.9H621.9M621.3 503.7V497.6M619.6 497.6H623M619.6 503.7H623M622.4 503.5V497.5M620.7 497.5H624.1M620.7 503.5H624.1M623.4 504.6V498.2M621.7 498.2H625.1M621.7 504.6H625.1M624.5 503.1V497.5M622.8 497.5H626.2M622.8 503.1H626.2M625.5 502.9V496.9M623.8 496.9H627.2M623.8 502.9H627.2M626.6 503.7V498M624.9 498H628.3M624.9 503.7H628.3M627.7 503V496.3M626 496.3H629.4M626 503H629.4M628.7 503.3V497.8M627 497.8H630.4M627 503.3H630.4M629.8 504V497.9M628.1 497.9H631.5M628.1 504H631.5M630.9 504.4V498.8M629.2 498.8H632.6M629.2 504.4H632.6M631.9 502.6V497M630.2 497H633.6M630.2 502.6H633.6M633 503.3V496.9M631.3 496.9H634.7M631.3 503.3H634.7M634 503V497.2M632.3 497.2H635.8M632.3 503H635.8" stroke="#ee9a3f" stroke-width="0.8" fill="none"/>
<path d="M468.3 468.1L469.4 467.4L470.4 468.4L471.5 468.5L472.6 469.3L473.6 469.9L474.7 470L475.7 469.5L476.8 470L477.9 470.6L478.9 470.5L480 472.2L481.1 470.3L482.1 471.9L483.2 472.9L484.2 472L485.3 472.7L486.4 471.9L487.4 471.9L488.5 473.4L489.6 473.5L490.6 472.9L491.7 473L492.7 472.5L493.8 472.7L494.9 472.1L495.9 472.3L497 472.3L498.1 472.7L499.1 472.3L500.2 472.1L501.2 472.8L502.3 472.2L503.4 472.3L504.4 472.5L505.5 472.9L506.6 472.1L507.6 474L508.7 474.3L509.7 473.3L510.8 475.1L511.9 475.2L512.9 475.7L514 475.7L515 475.9L516.1 475.8L517.2 476.6L518.2 477.2L519.3 478.8L520.4 479L521.4 479.5L522.5 479.7L523.5 480.2L524.6 480.4L525.7 480.4L526.7 480.9L527.8 480.9L528.9 481.7L529.9 482.6L531 482.2L532 481.7L533.1 482.5L534.2 483L535.2 482.3L536.3 484L537.4 484.1L538.4 483.9L539.5 483.8L540.5 483.8L541.6 484.4L542.7 485.2L543.7 485.9L544.8 486L545.9 485.6L546.9 486.1L548 486.8L549 487.1L550.1 486.6L551.2 487.9L552.2 487.2L553.3 487.3L554.4 488.1L555.4 489.2L556.5 487.7L557.5 488.7L558.6 489.3L559.7 490L560.7 489.5L561.8 489.5L562.9 489L563.9 491.4L565 490.4L566 491.2L567.1 491.3L568.2 490.2L569.2 490.4L570.3 491.7L571.4 490L572.4 491.7L573.5 492L574.5 492.6L575.6 493.8L576.7 493.7L577.7 492.8L578.8 493.8L579.9 492.8L580.9 493.4L582 494.4L583 494.8L584.1 495L585.2 496.1L586.2 494.4L587.3 495.6L588.4 496.9L589.4 497.2L590.5 497L591.5 497.7L592.6 497.8L593.7 497.7L594.7 497.6L595.8 498.5L596.9 498.5L597.9 498.3L599 499.5L600 498.9L601.1 498.2L602.2 499.2L603.2 499.5L604.3 499.4L605.4 499.4L606.4 498.2L607.5 498.4L608.5 497.7L609.6 497.4L610.7 498.5L611.7 499.4L612.8 499.5L613.9 500.3L614.9 498.9L616 499.6L617 500.3L618.1 501.5L619.2 501L620.2 500.8L621.3 500.7L622.4 500.5L623.4 501.4L624.5 500.3L625.5 499.9L626.6 500.9L627.7 499.7L628.7 500.6L629.8 501L630.9 501.6L631.9 499.8L633 500.1L634 500.1" stroke="#ee9a3f" stroke-width="1" fill="none" stroke-linejoin="round"/>
<path d="M468.3 468.1h.01M469.4 467.4h.01M470.4 468.4h.01M471.5 468.5h.01M472.6 469.3h.01M473.6 469.9h.01M474.7 470h.01M475.7 469.5h.01M476.8 470h.01M477.9 470.6h.01M478.9 470.5h.01M480 472.2h.01M481.1 470.3h.01M482.1 471.9h.01M483.2 472.9h.01M484.2 472h.01M485.3 472.7h.01M486.4 471.9h.01M487.4 471.9h.01M488.5 473.4h.01M489.6 473.5h.01M490.6 472.9h.01M491.7 473h.01M492.7 472.5h.01M493.8 472.7h.01M494.9 472.1h.01M495.9 472.3h.01M497 472.3h.01M498.1 472.7h.01M499.1 472.3h.01M500.2 472.1h.01M501.2 472.8h.01M502.3 472.2h.01M503.4 472.3h.01M504.4 472.5h.01M505.5 472.9h.01M506.6 472.1h.01M507.6 474h.01M508.7 474.3h.01M509.7 473.3h.01M510.8 475.1h.01M511.9 475.2h.01M512.9 475.7h.01M514 475.7h.01M515 475.9h.01M516.1 475.8h.01M517.2 476.6h.01M518.2 477.2h.01M519.3 478.8h.01M520.4 479h.01M521.4 479.5h.01M522.5 479.7h.01M523.5 480.2h.01M524.6 480.4h.01M525.7 480.4h.01M526.7 480.9h.01M527.8 480.9h.01M528.9 481.7h.01M529.9 482.6h.01M531 482.2h.01M532 481.7h.01M533.1 482.5h.01M534.2 483h.01M535.2 482.3h.01M536.3 484h.01M537.4 484.1h.01M538.4 483.9h.01M539.5 483.8h.01M540.5 483.8h.01M541.6 484.4h.01M542.7 485.2h.01M543.7 485.9h.01M544.8 486h.01M545.9 485.6h.01M546.9 486.1h.01M548 486.8h.01M549 487.1h.01M550.1 486.6h.01M551.2 487.9h.01M552.2 487.2h.01M553.3 487.3h.01M554.4 488.1h.01M555.4 489.2h.01M556.5 487.7h.01M557.5 488.7h.01M558.6 489.3h.01M559.7 490h.01M560.7 489.5h.01M561.8 489.5h.01M562.9 489h.01M563.9 491.4h.01M565 490.4h.01M566 491.2h.01M567.1 491.3h.01M568.2 490.2h.01M569.2 490.4h.01M570.3 491.7h.01M571.4 490h.01M572.4 491.7h.01M573.5 492h.01M574.5 492.6h.01M575.6 493.8h.01M576.7 493.7h.01M577.7 492.8h.01M578.8 493.8h.01M579.9 492.8h.01M580.9 493.4h.01M582 494.4h.01M583 494.8h.01M584.1 495h.01M585.2 496.1h.01M586.2 494.4h.01M587.3 495.6h.01M588.4 496.9h.01M589.4 497.2h.01M590.5 497h.01M591.5 497.7h.01M592.6 497.8h.01M593.7 497.7h.01M594.7 497.6h.01M595.8 498.5h.01M596.9 498.5h.01M597.9 498.3h.01M599 499.5h.01M600 498.9h.01M601.1 498.2h.01M602.2 499.2h.01M603.2 499.5h.01M604.3 499.4h.01M605.4 499.4h.01M606.4 498.2h.01M607.5 498.4h.01M608.5 497.7h.01M609.6 497.4h.01M610.7 498.5h.01M611.7 499.4h.01M612.8 499.5h.01M613.9 500.3h.01M614.9 498.9h.01M616 499.6h.01M617 500.3h.01M618.1 501.5h.01M619.2 501h.01M620.2 500.8h.01M621.3 500.7h.01M622.4 500.5h.01M623.4 501.4h.01M624.5 500.3h.01M625.5 499.9h.01M626.6 500.9h.01M627.7 499.7h.01M628.7 500.6h.01M629.8 501h.01M630.9 501.6h.01M631.9 499.8h.01M633 500.1h.01M634 500.1h.01" stroke="#ee9a3f" stroke-width="3.8" stroke-linecap="square" fill="none"/>
<path d="M468.3 467.3V465.7M466.6 465.7H470M469.4 466.9V464.5M467.7 464.5H471.1M470.4 467.1V464.2M468.7 464.2H472.1M471.5 466V462.6M469.8 462.6H473.2M472.6 466.3V462.6M470.9 462.6H474.2M473.6 464.6V459.9M471.9 459.9H475.3M474.7 464.7V459.1M473 459.1H476.4M475.7 464.2V458.9M474 458.9H477.4M476.8 464.1V457.7M475.1 457.7H478.5M477.9 462.1V456.4M476.2 456.4H479.6M478.9 463.3V457.3M477.2 457.3H480.6M480 461.9V454.7M478.3 454.7H481.7M481.1 460.5V454.1M479.4 454.1H482.8M482.1 459.7V452.9M480.4 452.9H483.8M483.2 458.7V449.8M481.5 449.8H484.9M484.2 458.6V450.7M482.5 450.7H485.9M485.3 458.9V450.2M483.6 450.2H487M486.4 459.1V452M484.7 452H488.1M487.4 459.4V452.3M485.7 452.3H489.1M488.5 459.5V452.7M486.8 452.7H490.2M489.6 458.8V452M487.9 452H491.2M490.6 460.2V453M488.9 453H492.3M491.7 459.8V452.7M490 452.7H493.4M492.7 459.3V453.2M491 453.2H494.4M493.8 460.5V454.2M492.1 454.2H495.5M494.9 460.5V454.7M493.2 454.7H496.6M495.9 459.9V453.1M494.2 453.1H497.6M497 459.9V454M495.3 454H498.7M498.1 460.2V453.4M496.4 453.4H499.8M499.1 458.8V452.2M497.4 452.2H500.8M500.2 459.2V452.3M498.5 452.3H501.9M501.2 458.2V452.3M499.5 452.3H502.9M502.3 458.4V450.9M500.6 450.9H504M503.4 457.5V449.9M501.7 449.9H505.1M504.4 457V449.8M502.7 449.8H506.1M505.5 457.9V451.1M503.8 451.1H507.2M506.6 457.9V450.4M504.9 450.4H508.2M507.6 459.5V453.1M505.9 453.1H509.3M508.7 460.9V453.6M507 453.6H510.4M509.7 460.5V454.6M508 454.6H511.4M510.8 462.1V455.5M509.1 455.5H512.5M511.9 462.4V456.2M510.2 456.2H513.6M512.9 463.6V458.3M511.2 458.3H514.6M514 463.4V457.6M512.3 457.6H515.7M515 463.2V457.5M513.3 457.5H516.8M516.1 464.1V457.2M514.4 457.2H517.8M517.2 464.3V459M515.5 459H518.9M518.2 463.7V458.2M516.5 458.2H519.9M519.3 463.9V457.1M517.6 457.1H521M520.4 463.6V457.9M518.7 457.9H522.1M521.4 464V457.1M519.7 457.1H523.1M522.5 463.2V457.4M520.8 457.4H524.2M523.5 462.8V456.3M521.8 456.3H525.2M524.6 461.6V454.4M522.9 454.4H526.3M525.7 458.2V450.6M524 450.6H527.4M526.7 457.6V448.6M525 448.6H528.4M527.8 455.8V445.9M526.1 445.9H529.5M528.9 453.4V444.1M527.2 444.1H530.6M529.9 453.4V443M528.2 443H531.6M531 453.6V444.1M529.3 444.1H532.7M532 452.7V443.5M530.3 443.5H533.8M533.1 450.9V442.1M531.4 442.1H534.8M534.2 450.4V441.5M532.5 441.5H535.9M535.2 445.9V434M533.5 434H536.9M536.3 441.6V429.2M534.6 429.2H538M537.4 437.5V423.3M535.7 423.3H539.1M538.4 435.1V421M536.7 421H540.1M539.5 430V414.2M537.8 414.2H541.2M540.5 427.5V411.3M538.8 411.3H542.2M541.6 424.2V407.5M539.9 407.5H543.3M542.7 422.6V402.1M541 402.1H544.4M543.7 421V402.5M542 402.5H545.4M544.8 419.4V399.3M543.1 399.3H546.5M545.9 419.4V395.7M544.2 395.7H547.6M546.9 421.4V404.3M545.2 404.3H548.6M548 424V405.8M546.3 405.8H549.7M549 425.7V405.8M547.3 405.8H550.8M550.1 427.3V409M548.4 409H551.8M551.2 429.4V412.1M549.5 412.1H552.9M552.2 430.9V416M550.5 416H553.9M553.3 431.2V417.3M551.6 417.3H555M554.4 432.4V416.9M552.7 416.9H556.1M555.4 433.2V418.6M553.7 418.6H557.1M556.5 435.8V425.1M554.8 425.1H558.2M557.5 435.8V425.3M555.8 425.3H559.2M558.6 437.4V426.6M556.9 426.6H560.3M559.7 436.9V426.1M558 426.1H561.4M560.7 436.6V424.8M559 424.8H562.4M561.8 437.1V427M560.1 427H563.5M562.9 436.1V423.9M561.2 423.9H564.6M563.9 435.8V424.8M562.2 424.8H565.6M565 434.6V425.7M563.3 425.7H566.7M566 434.9V423M564.3 423H567.8M567.1 435.1V423.5M565.4 423.5H568.8M568.2 433.8V423.9M566.5 423.9H569.9M569.2 435.3V425.3M567.5 425.3H570.9M570.3 435.3V426.5M568.6 426.5H572M571.4 433.3V424M569.7 424H573.1M572.4 433.3V422.2M570.7 422.2H574.1M573.5 434.6V422.5M571.8 422.5H575.2M574.5 435.4V424.9M572.8 424.9H576.2M575.6 435.2V423.2M573.9 423.2H577.3M576.7 435.2V424.2M575 424.2H578.4M577.7 436.3V424.6M576 424.6H579.4M578.8 438.2V425.9M577.1 425.9H580.5M579.9 438.7V428.5M578.2 428.5H581.6M580.9 440.9V429.6M579.2 429.6H582.6M582 442.6V432.7M580.3 432.7H583.7M583 445.1V436.5M581.3 436.5H584.8M584.1 445.8V437.1M582.4 437.1H585.8M585.2 448V437.8M583.5 437.8H586.9M586.2 449.9V441.6M584.5 441.6H587.9M587.3 451.6V442.8M585.6 442.8H589M588.4 454.3V447.1M586.7 447.1H590.1M589.4 457.7V449.2M587.7 449.2H591.1M590.5 460.4V451.8M588.8 451.8H592.2M591.5 462.3V454M589.8 454H593.2M592.6 463V455.3M590.9 455.3H594.3M593.7 464.6V457.7M592 457.7H595.4M594.7 466.2V458.8M593 458.8H596.4M595.8 467.7V461M594.1 461H597.5M596.9 467.1V460M595.2 460H598.6M597.9 468.7V461.7M596.2 461.7H599.6M599 468.3V462.4M597.3 462.4H600.7M600 469.1V463.7M598.3 463.7H601.8M601.1 468.9V461.8M599.4 461.8H602.8M602.2 470V463.3M600.5 463.3H603.9M603.2 468.7V462.5M601.5 462.5H604.9M604.3 471.1V463.9M602.6 463.9H606M605.4 470.4V462.7M603.7 462.7H607.1M606.4 471.5V464.6M604.7 464.6H608.1M607.5 469.3V461M605.8 461H609.2M608.5 469.7V463.1M606.8 463.1H610.2M609.6 470.3V463.5M607.9 463.5H611.3M610.7 471.6V464.4M609 464.4H612.4M611.7 472.9V465.6M610 465.6H613.4M612.8 474.8V467.7M611.1 467.7H614.5M613.9 475.5V468.7M612.2 468.7H615.6M614.9 476.9V470.2M613.2 470.2H616.6M616 479.8V472.2M614.3 472.2H617.7M617 480.2V474.5M615.3 474.5H618.8M618.1 482V475.7M616.4 475.7H619.8M619.2 482.8V476.9M617.5 476.9H620.9M620.2 484.5V477.5M618.5 477.5H621.9M621.3 484.5V478.7M619.6 478.7H623M622.4 485.7V479.7M620.7 479.7H624.1M623.4 487.9V481.2M621.7 481.2H625.1M624.5 487.8V481.8M622.8 481.8H626.2M625.5 487.5V482.1M623.8 482.1H627.2M626.6 488.6V481.9M624.9 481.9H628.3M627.7 487.4V474.8M626 474.8H629.4M628.7 488V482.4M627 482.4H630.4M629.8 488.6V482.1M628.1 482.1H631.5M630.9 487.9V480.4M629.2 480.4H632.6M631.9 486.8V478.5M630.2 478.5H633.6M633 486.7V477.3M631.3 477.3H634.7M634 486.7V478.7M632.3 478.7H635.8" stroke="#9ec6f7" stroke-width="0.62" fill="none"/>
<path d="M468.3 467.3L469.4 466.9L470.4 467.1L471.5 466L472.6 466.3L473.6 464.6L474.7 464.7L475.7 464.2L476.8 464.1L477.9 462.1L478.9 463.3L480 461.9L481.1 460.5L482.1 459.7L483.2 458.7L484.2 458.6L485.3 458.9L486.4 459.1L487.4 459.4L488.5 459.5L489.6 458.8L490.6 460.2L491.7 459.8L492.7 459.3L493.8 460.5L494.9 460.5L495.9 459.9L497 459.9L498.1 460.2L499.1 458.8L500.2 459.2L501.2 458.2L502.3 458.4L503.4 457.5L504.4 457L505.5 457.9L506.6 457.9L507.6 459.5L508.7 460.9L509.7 460.5L510.8 462.1L511.9 462.4L512.9 463.6L514 463.4L515 463.2L516.1 464.1L517.2 464.3L518.2 463.7L519.3 463.9L520.4 463.6L521.4 464L522.5 463.2L523.5 462.8L524.6 461.6L525.7 458.2L526.7 457.6L527.8 455.8L528.9 453.4L529.9 453.4L531 453.6L532 452.7L533.1 450.9L534.2 450.4L535.2 445.9L536.3 441.6L537.4 437.5L538.4 435.1L539.5 430L540.5 427.5L541.6 424.2L542.7 422.6L543.7 421L544.8 419.4L545.9 419.4L546.9 421.4L548 424L549 425.7L550.1 427.3L551.2 429.4L552.2 430.9L553.3 431.2L554.4 432.4L555.4 433.2L556.5 435.8L557.5 435.8L558.6 437.4L559.7 436.9L560.7 436.6L561.8 437.1L562.9 436.1L563.9 435.8L565 434.6L566 434.9L567.1 435.1L568.2 433.8L569.2 435.3L570.3 435.3L571.4 433.3L572.4 433.3L573.5 434.6L574.5 435.4L575.6 435.2L576.7 435.2L577.7 436.3L578.8 438.2L579.9 438.7L580.9 440.9L582 442.6L583 445.1L584.1 445.8L585.2 448L586.2 449.9L587.3 451.6L588.4 454.3L589.4 457.7L590.5 460.4L591.5 462.3L592.6 463L593.7 464.6L594.7 466.2L595.8 467.7L596.9 467.1L597.9 468.7L599 468.3L600 469.1L601.1 468.9L602.2 470L603.2 468.7L604.3 471.1L605.4 470.4L606.4 471.5L607.5 469.3L608.5 469.7L609.6 470.3L610.7 471.6L611.7 472.9L612.8 474.8L613.9 475.5L614.9 476.9L616 479.8L617 480.2L618.1 482L619.2 482.8L620.2 484.5L621.3 484.5L622.4 485.7L623.4 487.9L624.5 487.8L625.5 487.5L626.6 488.6L627.7 487.4L628.7 488L629.8 488.6L630.9 487.9L631.9 486.8L633 486.7L634 486.7" stroke="#9ec6f7" stroke-width="1" fill="none" stroke-linejoin="round"/>
<path d="M468.3 467.3h0M469.4 466.9h0M470.4 467.1h0M471.5 466h0M472.6 466.3h0M473.6 464.6h0M474.7 464.7h0M475.7 464.2h0M476.8 464.1h0M477.9 462.1h0M478.9 463.3h0M480 461.9h0M481.1 460.5h0M482.1 459.7h0M483.2 458.7h0M484.2 458.6h0M485.3 458.9h0M486.4 459.1h0M487.4 459.4h0M488.5 459.5h0M489.6 458.8h0M490.6 460.2h0M491.7 459.8h0M492.7 459.3h0M493.8 460.5h0M494.9 460.5h0M495.9 459.9h0M497 459.9h0M498.1 460.2h0M499.1 458.8h0M500.2 459.2h0M501.2 458.2h0M502.3 458.4h0M503.4 457.5h0M504.4 457h0M505.5 457.9h0M506.6 457.9h0M507.6 459.5h0M508.7 460.9h0M509.7 460.5h0M510.8 462.1h0M511.9 462.4h0M512.9 463.6h0M514 463.4h0M515 463.2h0M516.1 464.1h0M517.2 464.3h0M518.2 463.7h0M519.3 463.9h0M520.4 463.6h0M521.4 464h0M522.5 463.2h0M523.5 462.8h0M524.6 461.6h0M525.7 458.2h0M526.7 457.6h0M527.8 455.8h0M528.9 453.4h0M529.9 453.4h0M531 453.6h0M532 452.7h0M533.1 450.9h0M534.2 450.4h0M535.2 445.9h0M536.3 441.6h0M537.4 437.5h0M538.4 435.1h0M539.5 430h0M540.5 427.5h0M541.6 424.2h0M542.7 422.6h0M543.7 421h0M544.8 419.4h0M545.9 419.4h0M546.9 421.4h0M548 424h0M549 425.7h0M550.1 427.3h0M551.2 429.4h0M552.2 430.9h0M553.3 431.2h0M554.4 432.4h0M555.4 433.2h0M556.5 435.8h0M557.5 435.8h0M558.6 437.4h0M559.7 436.9h0M560.7 436.6h0M561.8 437.1h0M562.9 436.1h0M563.9 435.8h0M565 434.6h0M566 434.9h0M567.1 435.1h0M568.2 433.8h0M569.2 435.3h0M570.3 435.3h0M571.4 433.3h0M572.4 433.3h0M573.5 434.6h0M574.5 435.4h0M575.6 435.2h0M576.7 435.2h0M577.7 436.3h0M578.8 438.2h0M579.9 438.7h0M580.9 440.9h0M582 442.6h0M583 445.1h0M584.1 445.8h0M585.2 448h0M586.2 449.9h0M587.3 451.6h0M588.4 454.3h0M589.4 457.7h0M590.5 460.4h0M591.5 462.3h0M592.6 463h0M593.7 464.6h0M594.7 466.2h0M595.8 467.7h0M596.9 467.1h0M597.9 468.7h0M599 468.3h0M600 469.1h0M601.1 468.9h0M602.2 470h0M603.2 468.7h0M604.3 471.1h0M605.4 470.4h0M606.4 471.5h0M607.5 469.3h0M608.5 469.7h0M609.6 470.3h0M610.7 471.6h0M611.7 472.9h0M612.8 474.8h0M613.9 475.5h0M614.9 476.9h0M616 479.8h0M617 480.2h0M618.1 482h0M619.2 482.8h0M620.2 484.5h0M621.3 484.5h0M622.4 485.7h0M623.4 487.9h0M624.5 487.8h0M625.5 487.5h0M626.6 488.6h0M627.7 487.4h0M628.7 488h0M629.8 488.6h0M630.9 487.9h0M631.9 486.8h0M633 486.7h0M634 486.7h0" stroke="#9ec6f7" stroke-width="3.9" stroke-linecap="round" fill="none"/>
<path d="M447.4 558.3L447.4 544.4L486.8 544.4L486.8 533.3" stroke="#858585" stroke-width="0.85" fill="none"/>
<path d="M483.9 537.5L486.8 533.3L489.7 537.5" stroke="#858585" stroke-width="0.85" fill="none"/>
<path d="M520.1 558.3L520.1 544.4L533.4 544.4L533.4 533.3" stroke="#858585" stroke-width="0.85" fill="none"/>
<path d="M530.5 537.5L533.4 533.3L536.3 537.5" stroke="#858585" stroke-width="0.85" fill="none"/>
<text x="3.4" y="572.3" font-size="14.2" font-weight="bold" text-anchor="start" fill="#000">G</text>
<text x="63" y="565" font-size="6.4" font-weight="bold" text-anchor="middle" fill="#000">Baseline</text>
<text x="63" y="573" font-size="6.4" font-weight="bold" text-anchor="middle" fill="#000">(~10s)</text>
<text x="137.3" y="565" font-size="6.4" font-weight="bold" text-anchor="middle" fill="#000">LPS</text>
<text x="137.3" y="573" font-size="6.4" font-weight="bold" text-anchor="middle" fill="#000">(~40s)</text>
<line x1="25" y1="576.3" x2="97.5" y2="576.3" stroke="#c4c4c4" stroke-width="0.8"/>
<line x1="101" y1="576.3" x2="174" y2="576.3" stroke="#c4c4c4" stroke-width="0.8"/>
<text x="17" y="613.6" font-size="6.6" font-weight="bold" text-anchor="middle" fill="#000" transform="rotate(-90 17 613.6)">WT</text>
<text x="17.0" y="680.6" font-size="6.8" font-weight="bold" font-style="italic" text-anchor="middle" transform="rotate(-90 17.0 680.6)">Trpm8<tspan font-size="4.2" dy="-2.6">-/-</tspan></text>
<rect x="25.1" y="581.4" width="71.6" height="132.8" fill="#a6a6a6"/>
<rect x="101.2" y="581.4" width="72.6" height="132.8" fill="#a6a6a6"/>
<rect x="25.1" y="581.4" width="71.6" height="64.4" fill="#030303"/>
<g clip-path="url(#c9)" fill="url(#gw)"><ellipse cx="26" cy="588.6" rx="2.51" ry="2.14" opacity="0.31" transform="rotate(117 26 588.6)"/><ellipse cx="53.2" cy="625.4" rx="2.94" ry="2.62" opacity="0.2" transform="rotate(61.9 53.2 625.4)"/><ellipse cx="35" cy="588.6" rx="2.48" ry="2.34" opacity="0.2" transform="rotate(116.4 35 588.6)"/><ellipse cx="41.7" cy="630.2" rx="3.25" ry="2.92" opacity="0.28" transform="rotate(128.9 41.7 630.2)"/><ellipse cx="35.7" cy="629.1" rx="3.16" ry="2.53" opacity="0.23" transform="rotate(7.55 35.7 629.1)"/><ellipse cx="72.5" cy="590.2" rx="3.42" ry="2.76" opacity="0.25" transform="rotate(85 72.5 590.2)"/><ellipse cx="63.5" cy="610.2" rx="2.99" ry="2.55" opacity="0.19" transform="rotate(139.8 63.5 610.2)"/><ellipse cx="54.6" cy="645.6" rx="2.74" ry="2.72" opacity="0.25" transform="rotate(43.2 54.6 645.6)"/><ellipse cx="31.8" cy="582.7" rx="3.09" ry="2.89" opacity="0.28" transform="rotate(175 31.8 582.7)"/><ellipse cx="92.4" cy="607.3" rx="2.47" ry="2.15" opacity="0.22" transform="rotate(70.5 92.4 607.3)"/><ellipse cx="39.3" cy="602.7" rx="2.46" ry="2.12" opacity="0.28" transform="rotate(108.3 39.3 602.7)"/><ellipse cx="51.2" cy="642.9" rx="3.39" ry="2.89" opacity="0.35" transform="rotate(112.5 51.2 642.9)"/><ellipse cx="40.2" cy="595.4" rx="2.65" ry="2.37" opacity="0.2" transform="rotate(100.1 40.2 595.4)"/><ellipse cx="67" cy="616.7" rx="2.85" ry="2.44" opacity="0.24" transform="rotate(139.1 67 616.7)"/><ellipse cx="93.4" cy="635.4" rx="2.87" ry="2.32" opacity="0.32" transform="rotate(109.1 93.4 635.4)"/><ellipse cx="50.6" cy="594.5" rx="2.24" ry="2.11" opacity="0.23" transform="rotate(12.4 50.6 594.5)"/><ellipse cx="85" cy="645.1" rx="2.54" ry="2.28" opacity="0.28" transform="rotate(45.6 85 645.1)"/><ellipse cx="27.3" cy="628.7" rx="2.87" ry="2.36" opacity="0.28" transform="rotate(8.05 27.3 628.7)"/><ellipse cx="87.3" cy="623.3" rx="2.4" ry="2.11" opacity="0.26" transform="rotate(15.7 87.3 623.3)"/><ellipse cx="77.4" cy="593.9" rx="2.84" ry="2.35" opacity="0.19" transform="rotate(52 77.4 593.9)"/><ellipse cx="71" cy="595.5" rx="3.46" ry="2.77" opacity="0.2" transform="rotate(8.84 71 595.5)"/><ellipse cx="28.1" cy="603" rx="3.33" ry="2.94" opacity="0.2" transform="rotate(159 28.1 603)"/><ellipse cx="49" cy="606.9" rx="2.8" ry="2.65" opacity="0.21" transform="rotate(94 49 606.9)"/><ellipse cx="71.4" cy="635.2" rx="3.21" ry="2.66" opacity="0.3" transform="rotate(179.3 71.4 635.2)"/><ellipse cx="93.9" cy="644.3" rx="2.24" ry="2.21" opacity="0.27" transform="rotate(165.4 93.9 644.3)"/><ellipse cx="96.2" cy="632.3" rx="3.31" ry="2.82" opacity="0.26" transform="rotate(70.6 96.2 632.3)"/><ellipse cx="38.9" cy="640.7" rx="2.43" ry="2.24" opacity="0.42" transform="rotate(143 38.9 640.7)"/><ellipse cx="68.2" cy="626.2" rx="2.58" ry="2.37" opacity="0.28" transform="rotate(69.2 68.2 626.2)"/><ellipse cx="31.9" cy="607.1" rx="3.44" ry="2.86" opacity="0.19" transform="rotate(44.8 31.9 607.1)"/><ellipse cx="96.1" cy="594.1" rx="2.38" ry="2.19" opacity="0.25" transform="rotate(105.6 96.1 594.1)"/><ellipse cx="57.7" cy="633" rx="2.46" ry="2.01" opacity="0.21" transform="rotate(120.5 57.7 633)"/><ellipse cx="65.3" cy="589" rx="3.32" ry="2.82" opacity="0.24" transform="rotate(37.9 65.3 589)"/><ellipse cx="32.2" cy="644.7" rx="2.87" ry="2.59" opacity="0.36" transform="rotate(57.2 32.2 644.7)"/><ellipse cx="33.6" cy="593.9" rx="2.55" ry="2.13" opacity="0.28" transform="rotate(159.6 33.6 593.9)"/><ellipse cx="49.1" cy="627.3" rx="3.25" ry="2.68" opacity="0.3" transform="rotate(6.99 49.1 627.3)"/><ellipse cx="86.3" cy="612" rx="2.92" ry="2.69" opacity="0.22" transform="rotate(137.5 86.3 612)"/><ellipse cx="45" cy="605.4" rx="2.76" ry="2.41" opacity="0.22" transform="rotate(113.1 45 605.4)"/><ellipse cx="74.7" cy="644.1" rx="2.44" ry="2.2" opacity="0.3" transform="rotate(101.3 74.7 644.1)"/><ellipse cx="80.1" cy="597.8" rx="2.81" ry="2.29" opacity="0.19" transform="rotate(67 80.1 597.8)"/><ellipse cx="79.9" cy="644.8" rx="2.78" ry="2.37" opacity="0.32" transform="rotate(0.05 79.9 644.8)"/><ellipse cx="50.1" cy="582.1" rx="2.52" ry="2.29" opacity="0.19" transform="rotate(126.9 50.1 582.1)"/><ellipse cx="52" cy="599.6" rx="3.26" ry="2.7" opacity="0.25" transform="rotate(19 52 599.6)"/><ellipse cx="37.7" cy="584.3" rx="2.26" ry="2.21" opacity="0.3" transform="rotate(34.8 37.7 584.3)"/><ellipse cx="34" cy="637.1" rx="3.3" ry="2.94" opacity="0.19" transform="rotate(49.7 34 637.1)"/><ellipse cx="28.7" cy="620.9" rx="2.66" ry="2.51" opacity="0.2" transform="rotate(164 28.7 620.9)"/><ellipse cx="83.9" cy="600.6" rx="2.64" ry="2.48" opacity="0.24" transform="rotate(33.6 83.9 600.6)"/><ellipse cx="38.3" cy="610.7" rx="2.73" ry="2.31" opacity="0.18" transform="rotate(151.5 38.3 610.7)"/><ellipse cx="74.9" cy="615.2" rx="3.11" ry="2.68" opacity="0.24" transform="rotate(65.3 74.9 615.2)"/><ellipse cx="86.7" cy="607.3" rx="2.33" ry="2.01" opacity="0.21" transform="rotate(115.3 86.7 607.3)"/><ellipse cx="62.6" cy="627.6" rx="3.07" ry="2.69" opacity="0.29" transform="rotate(153.4 62.6 627.6)"/><ellipse cx="58.1" cy="627.6" rx="2.7" ry="2.56" opacity="0.26" transform="rotate(13.9 58.1 627.6)"/><ellipse cx="58.5" cy="590" rx="3.05" ry="2.48" opacity="0.3" transform="rotate(32.8 58.5 590)"/><ellipse cx="77.7" cy="634.7" rx="2.16" ry="2.1" opacity="0.29" transform="rotate(4.65 77.7 634.7)"/><ellipse cx="89.2" cy="598.1" rx="2.48" ry="2.45" opacity="0.21" transform="rotate(88.9 89.2 598.1)"/><ellipse cx="39.6" cy="633.8" rx="2.56" ry="2.28" opacity="0.32" transform="rotate(66.1 39.6 633.8)"/><ellipse cx="51.5" cy="631.1" rx="2.26" ry="2.02" opacity="0.21" transform="rotate(167 51.5 631.1)"/><ellipse cx="29.8" cy="597.4" rx="3.45" ry="2.79" opacity="0.29" transform="rotate(48.7 29.8 597.4)"/><ellipse cx="69.8" cy="612.3" rx="2.55" ry="2.46" opacity="0.32" transform="rotate(95.9 69.8 612.3)"/><ellipse cx="60.9" cy="641.6" rx="2.63" ry="2.23" opacity="0.25" transform="rotate(136.6 60.9 641.6)"/><ellipse cx="45" cy="593.1" rx="3.04" ry="2.86" opacity="0.27" transform="rotate(154.5 45 593.1)"/><ellipse cx="27.5" cy="612.5" rx="2.18" ry="2.04" opacity="0.31" transform="rotate(12 27.5 612.5)"/><ellipse cx="46.4" cy="611.9" rx="3.05" ry="2.54" opacity="0.21" transform="rotate(8.51 46.4 611.9)"/><ellipse cx="25.5" cy="581.4" rx="2.68" ry="2.67" opacity="0.46" transform="rotate(64.2 25.5 581.4)"/><ellipse cx="46.6" cy="640.2" rx="2.24" ry="2.05" opacity="0.31" transform="rotate(164.5 46.6 640.2)"/><ellipse cx="66.6" cy="607.4" rx="2.41" ry="2.24" opacity="0.21" transform="rotate(88.1 66.6 607.4)"/><ellipse cx="63.8" cy="602" rx="3.48" ry="2.92" opacity="0.2" transform="rotate(107.5 63.8 602)"/><ellipse cx="64.8" cy="595.7" rx="2.98" ry="2.59" opacity="0.2" transform="rotate(1.84 64.8 595.7)"/><ellipse cx="74.1" cy="602.2" rx="2.61" ry="2.25" opacity="0.32" transform="rotate(164.6 74.1 602.2)"/><ellipse cx="54.4" cy="616.1" rx="2.28" ry="2.04" opacity="0.23" transform="rotate(161.5 54.4 616.1)"/><ellipse cx="26.8" cy="633.1" rx="3.51" ry="2.81" opacity="0.32" transform="rotate(54.6 26.8 633.1)"/><ellipse cx="56.6" cy="612.3" rx="3.57" ry="2.91" opacity="0.3" transform="rotate(174.8 56.6 612.3)"/><ellipse cx="86.6" cy="585.1" rx="3.05" ry="2.66" opacity="0.24" transform="rotate(9.28 86.6 585.1)"/><ellipse cx="65.9" cy="640" rx="3.19" ry="2.61" opacity="0.28" transform="rotate(173.4 65.9 640)"/><ellipse cx="57.4" cy="607.3" rx="2.59" ry="2.48" opacity="0.27" transform="rotate(40.1 57.4 607.3)"/><ellipse cx="83.6" cy="628.8" rx="2.98" ry="2.44" opacity="0.32" transform="rotate(143.5 83.6 628.8)"/><ellipse cx="90.3" cy="629" rx="2.65" ry="2.5" opacity="0.19" transform="rotate(137.7 90.3 629)"/><ellipse cx="64.9" cy="631.9" rx="2.22" ry="2.12" opacity="0.27" transform="rotate(55 64.9 631.9)"/><ellipse cx="87.4" cy="589.5" rx="2.7" ry="2.48" opacity="0.26" transform="rotate(11.2 87.4 589.5)"/><ellipse cx="56" cy="586.4" rx="3.22" ry="2.85" opacity="0.3" transform="rotate(154.8 56 586.4)"/><ellipse cx="31.9" cy="632.9" rx="3.15" ry="2.89" opacity="0.27" transform="rotate(175.9 31.9 632.9)"/><ellipse cx="68.1" cy="601.6" rx="2.36" ry="2.08" opacity="0.27" transform="rotate(56.8 68.1 601.6)"/><ellipse cx="85.7" cy="616.8" rx="3.08" ry="2.81" opacity="0.3" transform="rotate(13.2 85.7 616.8)"/><ellipse cx="80.5" cy="589.1" rx="3.19" ry="2.78" opacity="0.32" transform="rotate(131.6 80.5 589.1)"/><ellipse cx="75.7" cy="620.7" rx="2.59" ry="2.36" opacity="0.28" transform="rotate(126.6 75.7 620.7)"/><ellipse cx="86" cy="638.3" rx="2.72" ry="2.51" opacity="0.28" transform="rotate(21.6 86 638.3)"/><ellipse cx="43.6" cy="586.2" rx="2.67" ry="2.65" opacity="0.24" transform="rotate(35.5 43.6 586.2)"/><ellipse cx="94.5" cy="612" rx="2.99" ry="2.89" opacity="0.27" transform="rotate(131.1 94.5 612)"/><ellipse cx="75.8" cy="628.9" rx="2.91" ry="2.64" opacity="0.25" transform="rotate(109.2 75.8 628.9)"/><ellipse cx="86.5" cy="632.1" rx="3.15" ry="2.52" opacity="0.51" transform="rotate(157.6 86.5 632.1)"/><ellipse cx="30.2" cy="639.2" rx="3.16" ry="2.86" opacity="0.22" transform="rotate(99 30.2 639.2)"/><ellipse cx="46.4" cy="634.3" rx="2.55" ry="2.17" opacity="0.22" transform="rotate(178.2 46.4 634.3)"/><ellipse cx="89.5" cy="602.4" rx="2.97" ry="2.41" opacity="0.32" transform="rotate(154.4 89.5 602.4)"/><ellipse cx="43" cy="637.4" rx="2.49" ry="2.31" opacity="0.24" transform="rotate(102.7 43 637.4)"/><ellipse cx="37" cy="598.3" rx="2.3" ry="2" opacity="0.24" transform="rotate(77.5 37 598.3)"/><ellipse cx="26.1" cy="617.4" rx="3.16" ry="2.67" opacity="0.32" transform="rotate(68.3 26.1 617.4)"/><ellipse cx="74.3" cy="598.1" rx="1.26" ry="1.26" opacity="1" transform="rotate(0 74.3 598.1)"/><ellipse cx="42.7" cy="596.1" rx="1.07" ry="1.07" opacity="1" transform="rotate(0 42.7 596.1)"/><ellipse cx="72" cy="611.4" rx="0.91" ry="0.91" opacity="1" transform="rotate(0 72 611.4)"/></g>
<rect x="101.2" y="581.4" width="72.6" height="64.4" fill="#040404"/>
<g clip-path="url(#c10)" fill="url(#gw)"><ellipse cx="106.8" cy="595.2" rx="3.59" ry="3.04" opacity="0.43" transform="rotate(134.6 106.8 595.2)"/><ellipse cx="123.2" cy="639.4" rx="2.85" ry="2.6" opacity="0.4" transform="rotate(110.5 123.2 639.4)"/><ellipse cx="137.2" cy="627.8" rx="2.82" ry="2.59" opacity="0.29" transform="rotate(121.8 137.2 627.8)"/><ellipse cx="108.5" cy="614.2" rx="2.7" ry="2.39" opacity="0.41" transform="rotate(2.2 108.5 614.2)"/><ellipse cx="162.4" cy="615.1" rx="2.71" ry="2.66" opacity="0.55" transform="rotate(41.8 162.4 615.1)"/><ellipse cx="169.8" cy="638.2" rx="2.32" ry="2.3" opacity="0.42" transform="rotate(172.3 169.8 638.2)"/><ellipse cx="128.1" cy="581.4" rx="3.12" ry="2.59" opacity="0.55" transform="rotate(106.9 128.1 581.4)"/><ellipse cx="156" cy="589.5" rx="3.01" ry="2.44" opacity="0.32" transform="rotate(143.3 156 589.5)"/><ellipse cx="101.9" cy="628.5" rx="3" ry="2.86" opacity="0.3" transform="rotate(25.6 101.9 628.5)"/><ellipse cx="162.4" cy="635.3" rx="2.83" ry="2.49" opacity="0.38" transform="rotate(107.7 162.4 635.3)"/><ellipse cx="170.4" cy="594.4" rx="2.5" ry="2.41" opacity="0.65" transform="rotate(40 170.4 594.4)"/><ellipse cx="107.1" cy="589.2" rx="3.17" ry="2.88" opacity="0.45" transform="rotate(38.7 107.1 589.2)"/><ellipse cx="172.2" cy="588.6" rx="3.44" ry="2.91" opacity="0.27" transform="rotate(39.8 172.2 588.6)"/><ellipse cx="112.8" cy="582.7" rx="2.68" ry="2.38" opacity="0.42" transform="rotate(177.1 112.8 582.7)"/><ellipse cx="104.8" cy="583.9" rx="3.23" ry="2.83" opacity="0.3" transform="rotate(164.8 104.8 583.9)"/><ellipse cx="126.8" cy="591.9" rx="2.62" ry="2.43" opacity="0.36" transform="rotate(91.4 126.8 591.9)"/><ellipse cx="113.4" cy="633.8" rx="3.22" ry="2.68" opacity="0.33" transform="rotate(107.9 113.4 633.8)"/><ellipse cx="154.8" cy="618" rx="2.6" ry="2.21" opacity="0.27" transform="rotate(65.1 154.8 618)"/><ellipse cx="143" cy="631" rx="3.38" ry="2.9" opacity="0.43" transform="rotate(42.7 143 631)"/><ellipse cx="143.8" cy="596.2" rx="3.48" ry="2.85" opacity="0.27" transform="rotate(13.9 143.8 596.2)"/><ellipse cx="125.1" cy="597.1" rx="2.88" ry="2.67" opacity="0.26" transform="rotate(124.3 125.1 597.1)"/><ellipse cx="130.3" cy="645" rx="3.1" ry="2.97" opacity="0.42" transform="rotate(169.5 130.3 645)"/><ellipse cx="132.2" cy="585.9" rx="2.91" ry="2.83" opacity="0.27" transform="rotate(47.9 132.2 585.9)"/><ellipse cx="135.8" cy="633.7" rx="2.22" ry="2.19" opacity="0.4" transform="rotate(109.3 135.8 633.7)"/><ellipse cx="133.5" cy="626.6" rx="2.65" ry="2.34" opacity="0.28" transform="rotate(14.5 133.5 626.6)"/><ellipse cx="149.2" cy="584.5" rx="2.77" ry="2.33" opacity="0.32" transform="rotate(83.6 149.2 584.5)"/><ellipse cx="123.1" cy="606.2" rx="3.17" ry="2.99" opacity="0.42" transform="rotate(122.3 123.1 606.2)"/><ellipse cx="101.7" cy="642.7" rx="3.05" ry="2.69" opacity="0.45" transform="rotate(29.4 101.7 642.7)"/><ellipse cx="151.2" cy="642.7" rx="2.74" ry="2.67" opacity="0.32" transform="rotate(154.5 151.2 642.7)"/><ellipse cx="136.9" cy="642.9" rx="2.83" ry="2.67" opacity="0.26" transform="rotate(28.4 136.9 642.9)"/><ellipse cx="163.8" cy="621.2" rx="2.3" ry="2.24" opacity="0.37" transform="rotate(55.3 163.8 621.2)"/><ellipse cx="139.3" cy="614.2" rx="3.09" ry="2.66" opacity="0.74" transform="rotate(170.6 139.3 614.2)"/><ellipse cx="117.6" cy="605.6" rx="3.05" ry="2.5" opacity="0.28" transform="rotate(167.8 117.6 605.6)"/><ellipse cx="153.7" cy="594" rx="2.37" ry="2.2" opacity="0.39" transform="rotate(163.5 153.7 594)"/><ellipse cx="145.1" cy="634.3" rx="2.74" ry="2.27" opacity="0.39" transform="rotate(142.5 145.1 634.3)"/><ellipse cx="148.1" cy="590.3" rx="2.56" ry="2.29" opacity="0.39" transform="rotate(156.5 148.1 590.3)"/><ellipse cx="119.2" cy="581.5" rx="2.99" ry="2.46" opacity="0.41" transform="rotate(123.5 119.2 581.5)"/><ellipse cx="144.3" cy="643.8" rx="2.53" ry="2.32" opacity="0.29" transform="rotate(81.8 144.3 643.8)"/><ellipse cx="157.9" cy="601.7" rx="3.09" ry="2.79" opacity="0.41" transform="rotate(2.24 157.9 601.7)"/><ellipse cx="127.7" cy="586.7" rx="2.54" ry="2.41" opacity="0.35" transform="rotate(157 127.7 586.7)"/><ellipse cx="116.5" cy="631.6" rx="3.19" ry="2.73" opacity="0.43" transform="rotate(102.9 116.5 631.6)"/><ellipse cx="143.6" cy="612.5" rx="2.52" ry="2.31" opacity="0.32" transform="rotate(14.3 143.6 612.5)"/><ellipse cx="167.1" cy="605.7" rx="2.22" ry="2.11" opacity="0.43" transform="rotate(146.6 167.1 605.7)"/><ellipse cx="160.8" cy="583.6" rx="2.35" ry="2.14" opacity="0.38" transform="rotate(100.3 160.8 583.6)"/><ellipse cx="101.5" cy="638.2" rx="3.41" ry="2.82" opacity="0.38" transform="rotate(97.3 101.5 638.2)"/><ellipse cx="153.6" cy="624.9" rx="2.44" ry="2.32" opacity="0.46" transform="rotate(159.9 153.6 624.9)"/><ellipse cx="156.8" cy="605.7" rx="3.02" ry="2.78" opacity="0.44" transform="rotate(145.2 156.8 605.7)"/><ellipse cx="109.5" cy="601.9" rx="3.07" ry="2.67" opacity="0.32" transform="rotate(154.5 109.5 601.9)"/><ellipse cx="170.4" cy="644.6" rx="2.6" ry="2.44" opacity="0.38" transform="rotate(93 170.4 644.6)"/><ellipse cx="117.9" cy="609.9" rx="2.87" ry="2.39" opacity="0.34" transform="rotate(81.3 117.9 609.9)"/><ellipse cx="133.9" cy="639.6" rx="2.79" ry="2.57" opacity="0.35" transform="rotate(84.7 133.9 639.6)"/><ellipse cx="119.6" cy="616.8" rx="2.52" ry="2.3" opacity="0.26" transform="rotate(19.8 119.6 616.8)"/><ellipse cx="110.6" cy="586.8" rx="2.68" ry="2.68" opacity="0.27" transform="rotate(165.1 110.6 586.8)"/><ellipse cx="137.7" cy="585.6" rx="2.88" ry="2.33" opacity="0.3" transform="rotate(154.8 137.7 585.6)"/><ellipse cx="114.6" cy="645" rx="2.9" ry="2.83" opacity="0.46" transform="rotate(50.2 114.6 645)"/><ellipse cx="124.3" cy="627.4" rx="2.46" ry="2.24" opacity="0.45" transform="rotate(84.3 124.3 627.4)"/><ellipse cx="138.1" cy="593.3" rx="2.71" ry="2.56" opacity="0.4" transform="rotate(105.3 138.1 593.3)"/><ellipse cx="172.7" cy="621.4" rx="3.38" ry="3.04" opacity="0.4" transform="rotate(15.9 172.7 621.4)"/><ellipse cx="128.6" cy="611.9" rx="2.88" ry="2.41" opacity="0.34" transform="rotate(128.3 128.6 611.9)"/><ellipse cx="147.4" cy="614.9" rx="3" ry="2.84" opacity="0.35" transform="rotate(179.4 147.4 614.9)"/><ellipse cx="116.2" cy="594.1" rx="3.38" ry="2.81" opacity="0.25" transform="rotate(0.29 116.2 594.1)"/><ellipse cx="107.6" cy="606.6" rx="2.86" ry="2.34" opacity="0.43" transform="rotate(87.7 107.6 606.6)"/><ellipse cx="117.1" cy="636" rx="3.38" ry="2.93" opacity="0.46" transform="rotate(173.2 117.1 636)"/><ellipse cx="124.6" cy="643.4" rx="2.69" ry="2.37" opacity="0.39" transform="rotate(44 124.6 643.4)"/><ellipse cx="112.4" cy="618.2" rx="3.52" ry="2.95" opacity="0.47" transform="rotate(154.6 112.4 618.2)"/><ellipse cx="135.6" cy="615.9" rx="2.32" ry="2.2" opacity="0.39" transform="rotate(85.2 135.6 615.9)"/><ellipse cx="156.3" cy="610.1" rx="3.24" ry="2.72" opacity="0.45" transform="rotate(169.1 156.3 610.1)"/><ellipse cx="133.7" cy="591" rx="2.51" ry="2.36" opacity="0.41" transform="rotate(85.4 133.7 591)"/><ellipse cx="107.4" cy="642.7" rx="2.76" ry="2.4" opacity="0.41" transform="rotate(160.2 107.4 642.7)"/><ellipse cx="159.2" cy="620.5" rx="2.79" ry="2.27" opacity="0.35" transform="rotate(130.9 159.2 620.5)"/><ellipse cx="142.4" cy="586.2" rx="3.06" ry="2.8" opacity="0.54" transform="rotate(139.2 142.4 586.2)"/><ellipse cx="172.5" cy="600.8" rx="3.01" ry="2.67" opacity="0.3" transform="rotate(74.5 172.5 600.8)"/><ellipse cx="166" cy="613.1" rx="2.74" ry="2.41" opacity="0.32" transform="rotate(16.1 166 613.1)"/><ellipse cx="129.8" cy="636.8" rx="2.23" ry="2.23" opacity="0.28" transform="rotate(166.2 129.8 636.8)"/><ellipse cx="163.6" cy="627.7" rx="2.96" ry="2.39" opacity="0.31" transform="rotate(22.1 163.6 627.7)"/><ellipse cx="144.8" cy="624.3" rx="2.45" ry="2.25" opacity="0.31" transform="rotate(74.4 144.8 624.3)"/><ellipse cx="142.9" cy="582.4" rx="2.71" ry="2.54" opacity="0.43" transform="rotate(13.1 142.9 582.4)"/><ellipse cx="140.9" cy="599.1" rx="2.44" ry="2.2" opacity="0.46" transform="rotate(22.2 140.9 599.1)"/><ellipse cx="106.4" cy="620.8" rx="3.02" ry="2.68" opacity="0.34" transform="rotate(173.3 106.4 620.8)"/><ellipse cx="162.2" cy="599.6" rx="2.74" ry="2.65" opacity="0.46" transform="rotate(178 162.2 599.6)"/><ellipse cx="149.8" cy="621.7" rx="2.93" ry="2.79" opacity="0.44" transform="rotate(1.67 149.8 621.7)"/><ellipse cx="150.7" cy="637.6" rx="2.73" ry="2.57" opacity="0.26" transform="rotate(41.9 150.7 637.6)"/><ellipse cx="146" cy="603.8" rx="2.57" ry="2.37" opacity="0.41" transform="rotate(5.13 146 603.8)"/><ellipse cx="113.8" cy="621.8" rx="2.16" ry="2.14" opacity="0.46" transform="rotate(42.1 113.8 621.8)"/><ellipse cx="130.5" cy="630.7" rx="3.4" ry="2.8" opacity="0.28" transform="rotate(137.4 130.5 630.7)"/><ellipse cx="113.4" cy="589.7" rx="3.16" ry="2.75" opacity="0.26" transform="rotate(34.2 113.4 589.7)"/><ellipse cx="147.4" cy="609.8" rx="3.11" ry="2.58" opacity="0.38" transform="rotate(133.4 147.4 609.8)"/><ellipse cx="109.8" cy="635.2" rx="2.51" ry="2.38" opacity="0.43" transform="rotate(62.9 109.8 635.2)"/><ellipse cx="154.3" cy="598.6" rx="2.55" ry="2.21" opacity="0.41" transform="rotate(141.8 154.3 598.6)"/><ellipse cx="109.9" cy="629.5" rx="2.64" ry="2.42" opacity="0.26" transform="rotate(122.7 109.9 629.5)"/><ellipse cx="163.1" cy="603.6" rx="2.39" ry="2.27" opacity="0.43" transform="rotate(173.6 163.1 603.6)"/><ellipse cx="149.9" cy="604.5" rx="2.92" ry="2.44" opacity="0.29" transform="rotate(72.5 149.9 604.5)"/><ellipse cx="111.4" cy="595.7" rx="2.52" ry="2.2" opacity="0.42" transform="rotate(163.1 111.4 595.7)"/><ellipse cx="103.4" cy="599.1" rx="3.09" ry="2.73" opacity="0.43" transform="rotate(50.6 103.4 599.1)"/><ellipse cx="132.2" cy="614.1" rx="2.95" ry="2.64" opacity="0.59" transform="rotate(164.2 132.2 614.1)"/><ellipse cx="170.6" cy="626.6" rx="2.98" ry="2.45" opacity="0.46" transform="rotate(75.2 170.6 626.6)"/><ellipse cx="170.3" cy="630.7" rx="3.34" ry="2.88" opacity="0.38" transform="rotate(82.8 170.3 630.7)"/><ellipse cx="104.7" cy="603.6" rx="3.48" ry="2.9" opacity="0.25" transform="rotate(175.9 104.7 603.6)"/><ellipse cx="101.6" cy="624.6" rx="2.71" ry="2.28" opacity="0.31" transform="rotate(72.9 101.6 624.6)"/><ellipse cx="132.6" cy="602.5" rx="2.74" ry="2.27" opacity="0.26" transform="rotate(135.5 132.6 602.5)"/><ellipse cx="115.7" cy="626.4" rx="2.89" ry="2.61" opacity="0.26" transform="rotate(12.5 115.7 626.4)"/><ellipse cx="158.2" cy="595.4" rx="3.12" ry="3.02" opacity="0.52" transform="rotate(10.5 158.2 595.4)"/><ellipse cx="153.5" cy="582.1" rx="2.82" ry="2.39" opacity="0.32" transform="rotate(159.4 153.5 582.1)"/><ellipse cx="140.1" cy="608.6" rx="2.42" ry="2.18" opacity="0.33" transform="rotate(58 140.1 608.6)"/><ellipse cx="144.5" cy="619" rx="3.54" ry="2.99" opacity="0.27" transform="rotate(41.9 144.5 619)"/><ellipse cx="131.8" cy="595.4" rx="2.9" ry="2.88" opacity="0.41" transform="rotate(78.9 131.8 595.4)"/><ellipse cx="122.6" cy="610.8" rx="2.39" ry="2.25" opacity="0.38" transform="rotate(92.7 122.6 610.8)"/><ellipse cx="121" cy="630.9" rx="2.94" ry="2.54" opacity="0.44" transform="rotate(59.5 121 630.9)"/><ellipse cx="165.2" cy="640.2" rx="2.67" ry="2.6" opacity="0.32" transform="rotate(167.5 165.2 640.2)"/><ellipse cx="160.9" cy="609" rx="2.87" ry="2.35" opacity="0.32" transform="rotate(162 160.9 609)"/><ellipse cx="119.7" cy="622.7" rx="2.37" ry="2.34" opacity="0.63" transform="rotate(95.1 119.7 622.7)"/><ellipse cx="127.2" cy="640" rx="2.86" ry="2.81" opacity="0.3" transform="rotate(154 127.2 640)"/><ellipse cx="170.6" cy="610.8" rx="3.3" ry="2.73" opacity="0.29" transform="rotate(54.4 170.6 610.8)"/><ellipse cx="157.1" cy="639.9" rx="3.32" ry="2.95" opacity="0.38" transform="rotate(19.4 157.1 639.9)"/><ellipse cx="162.9" cy="588.3" rx="2.92" ry="2.65" opacity="0.47" transform="rotate(117.5 162.9 588.3)"/><ellipse cx="123.1" cy="590.5" rx="2.49" ry="2.39" opacity="0.45" transform="rotate(29.8 123.1 590.5)"/><ellipse cx="103.9" cy="608.9" rx="3.47" ry="3" opacity="0.33" transform="rotate(13.4 103.9 608.9)"/><ellipse cx="132.9" cy="621.1" rx="2.56" ry="2.16" opacity="0.45" transform="rotate(109.5 132.9 621.1)"/><ellipse cx="135.8" cy="599.5" rx="2.82" ry="2.4" opacity="0.4" transform="rotate(147.6 135.8 599.5)"/><ellipse cx="156.3" cy="644.9" rx="3.25" ry="2.86" opacity="0.33" transform="rotate(174.1 156.3 644.9)"/><ellipse cx="110.2" cy="584.7" rx="1.36" ry="1.36" opacity="1" transform="rotate(0 110.2 584.7)"/><ellipse cx="121.6" cy="616.4" rx="1.49" ry="1.49" opacity="1" transform="rotate(0 121.6 616.4)"/><ellipse cx="155.4" cy="603.7" rx="1.41" ry="1.41" opacity="1" transform="rotate(0 155.4 603.7)"/><ellipse cx="113.4" cy="625.3" rx="1.27" ry="1.27" opacity="1" transform="rotate(0 113.4 625.3)"/><ellipse cx="170.3" cy="592.3" rx="1.24" ry="1.24" opacity="1" transform="rotate(0 170.3 592.3)"/><ellipse cx="114.3" cy="589.4" rx="1.53" ry="1.53" opacity="0.91" transform="rotate(0 114.3 589.4)"/></g>
<rect x="25.1" y="647.3" width="71.6" height="66" fill="#101010"/>
<g clip-path="url(#c11)" fill="url(#gw)"><ellipse cx="65.9" cy="689" rx="2.32" ry="1.97" opacity="0.14" transform="rotate(173.8 65.9 689)"/><ellipse cx="83.6" cy="665.6" rx="2.44" ry="1.97" opacity="0.12" transform="rotate(31.3 83.6 665.6)"/><ellipse cx="71.8" cy="706.1" rx="2.53" ry="2.14" opacity="0.24" transform="rotate(164.4 71.8 706.1)"/><ellipse cx="90.2" cy="659.6" rx="2.33" ry="2.01" opacity="0.15" transform="rotate(116.7 90.2 659.6)"/><ellipse cx="71.8" cy="688" rx="2.81" ry="2.28" opacity="0.14" transform="rotate(111.7 71.8 688)"/><ellipse cx="61.1" cy="711.1" rx="2.4" ry="2" opacity="0.16" transform="rotate(65.7 61.1 711.1)"/><ellipse cx="62.9" cy="676.7" rx="2.94" ry="2.39" opacity="0.16" transform="rotate(124.6 62.9 676.7)"/><ellipse cx="92.7" cy="689.3" rx="2.69" ry="2.2" opacity="0.14" transform="rotate(64.5 92.7 689.3)"/><ellipse cx="46.7" cy="667.7" rx="2.52" ry="2.4" opacity="0.11" transform="rotate(25 46.7 667.7)"/><ellipse cx="60.6" cy="650.8" rx="2.49" ry="2.34" opacity="0.11" transform="rotate(142.4 60.6 650.8)"/><ellipse cx="68.6" cy="695.9" rx="2.53" ry="2.13" opacity="0.1" transform="rotate(88.9 68.6 695.9)"/><ellipse cx="55.6" cy="703.2" rx="2.26" ry="2" opacity="0.15" transform="rotate(0.36 55.6 703.2)"/><ellipse cx="91.5" cy="684" rx="2.32" ry="2.21" opacity="0.11" transform="rotate(43.8 91.5 684)"/><ellipse cx="73.9" cy="655" rx="2.42" ry="2.02" opacity="0.17" transform="rotate(128.7 73.9 655)"/><ellipse cx="29.1" cy="712" rx="2.23" ry="2.18" opacity="0.16" transform="rotate(77.2 29.1 712)"/><ellipse cx="45.5" cy="661.4" rx="2.43" ry="1.99" opacity="0.13" transform="rotate(40.1 45.5 661.4)"/><ellipse cx="89.3" cy="696.8" rx="1.85" ry="1.84" opacity="0.11" transform="rotate(164.3 89.3 696.8)"/><ellipse cx="33.9" cy="668.5" rx="2.21" ry="2.11" opacity="0.22" transform="rotate(87 33.9 668.5)"/><ellipse cx="42.5" cy="665.3" rx="2.41" ry="2.01" opacity="0.17" transform="rotate(88.7 42.5 665.3)"/><ellipse cx="25.6" cy="681.9" rx="2.78" ry="2.33" opacity="0.11" transform="rotate(130.2 25.6 681.9)"/><ellipse cx="46.9" cy="673.3" rx="2.7" ry="2.24" opacity="0.17" transform="rotate(166.4 46.9 673.3)"/><ellipse cx="38.4" cy="654.6" rx="2.15" ry="1.97" opacity="0.16" transform="rotate(111.4 38.4 654.6)"/><ellipse cx="27.5" cy="704.9" rx="2.09" ry="1.99" opacity="0.11" transform="rotate(33.3 27.5 704.9)"/><ellipse cx="78.6" cy="684.2" rx="2.1" ry="1.75" opacity="0.15" transform="rotate(170.3 78.6 684.2)"/><ellipse cx="34" cy="657.1" rx="1.87" ry="1.77" opacity="0.12" transform="rotate(29.6 34 657.1)"/><ellipse cx="29.2" cy="665.5" rx="2.72" ry="2.33" opacity="0.15" transform="rotate(136 29.2 665.5)"/><ellipse cx="39.6" cy="660" rx="1.96" ry="1.88" opacity="0.16" transform="rotate(154.2 39.6 660)"/><ellipse cx="71.9" cy="677.5" rx="2.93" ry="2.43" opacity="0.16" transform="rotate(72.5 71.9 677.5)"/><ellipse cx="59" cy="670.9" rx="2.94" ry="2.41" opacity="0.11" transform="rotate(1.11 59 670.9)"/><ellipse cx="63.7" cy="699.1" rx="2.93" ry="2.4" opacity="0.1" transform="rotate(150.6 63.7 699.1)"/><ellipse cx="47.2" cy="651.9" rx="2.55" ry="2.3" opacity="0.1" transform="rotate(57.5 47.2 651.9)"/><ellipse cx="81" cy="654.6" rx="2.54" ry="2.08" opacity="0.27" transform="rotate(126.1 81 654.6)"/><ellipse cx="87.6" cy="648.3" rx="2.66" ry="2.14" opacity="0.16" transform="rotate(23.8 87.6 648.3)"/><ellipse cx="47.7" cy="706" rx="2.19" ry="1.83" opacity="0.13" transform="rotate(134.8 47.7 706)"/><ellipse cx="60.5" cy="687.7" rx="2.38" ry="2.3" opacity="0.12" transform="rotate(178.2 60.5 687.7)"/><ellipse cx="27.5" cy="653.1" rx="2.07" ry="1.73" opacity="0.16" transform="rotate(105.3 27.5 653.1)"/><ellipse cx="61.4" cy="664.5" rx="2.49" ry="2.07" opacity="0.24" transform="rotate(131.1 61.4 664.5)"/><ellipse cx="87.9" cy="710.8" rx="2.29" ry="2.06" opacity="0.11" transform="rotate(178.1 87.9 710.8)"/><ellipse cx="38.4" cy="694.3" rx="2.25" ry="2.18" opacity="0.27" transform="rotate(155.6 38.4 694.3)"/><ellipse cx="69.6" cy="666.2" rx="2.96" ry="2.4" opacity="0.14" transform="rotate(30.4 69.6 666.2)"/><ellipse cx="94.3" cy="702.2" rx="2.46" ry="2.06" opacity="0.1" transform="rotate(79.6 94.3 702.2)"/><ellipse cx="61.7" cy="703.4" rx="2.24" ry="1.99" opacity="0.13" transform="rotate(71.6 61.7 703.4)"/><ellipse cx="44.5" cy="685.8" rx="2.36" ry="2.06" opacity="0.24" transform="rotate(123.3 44.5 685.8)"/><ellipse cx="66.1" cy="660.4" rx="2.87" ry="2.44" opacity="0.16" transform="rotate(69 66.1 660.4)"/><ellipse cx="38.6" cy="710" rx="2.22" ry="2.21" opacity="0.14" transform="rotate(161.5 38.6 710)"/><ellipse cx="96.4" cy="692.2" rx="1.93" ry="1.78" opacity="0.2" transform="rotate(47.3 96.4 692.2)"/><ellipse cx="54.7" cy="707.8" rx="2.57" ry="2.41" opacity="0.16" transform="rotate(62.1 54.7 707.8)"/><ellipse cx="81" cy="699.5" rx="2.49" ry="2.42" opacity="0.17" transform="rotate(12.4 81 699.5)"/><ellipse cx="51.3" cy="700.1" rx="1.83" ry="1.79" opacity="0.15" transform="rotate(58.1 51.3 700.1)"/><ellipse cx="78.1" cy="704.5" rx="2.57" ry="2.46" opacity="0.12" transform="rotate(142.9 78.1 704.5)"/><ellipse cx="94.4" cy="697.1" rx="3.03" ry="2.46" opacity="0.14" transform="rotate(23.7 94.4 697.1)"/><ellipse cx="49.4" cy="680" rx="2.02" ry="2" opacity="0.15" transform="rotate(136.8 49.4 680)"/><ellipse cx="57.3" cy="660.6" rx="2.7" ry="2.28" opacity="0.14" transform="rotate(7.8 57.3 660.6)"/><ellipse cx="31" cy="660.7" rx="2.37" ry="1.98" opacity="0.17" transform="rotate(168.9 31 660.7)"/><ellipse cx="54.8" cy="655.9" rx="2.59" ry="2.17" opacity="0.13" transform="rotate(74.3 54.8 655.9)"/><ellipse cx="41.9" cy="648.8" rx="2.45" ry="1.99" opacity="0.15" transform="rotate(25.2 41.9 648.8)"/><ellipse cx="51" cy="664" rx="2.16" ry="2.02" opacity="0.14" transform="rotate(50 51 664)"/><ellipse cx="25.7" cy="676.9" rx="2.15" ry="2.02" opacity="0.13" transform="rotate(107.1 25.7 676.9)"/><ellipse cx="77" cy="662.1" rx="2.53" ry="2.06" opacity="0.12" transform="rotate(49.6 77 662.1)"/><ellipse cx="95.1" cy="670.1" rx="2.22" ry="2.15" opacity="0.11" transform="rotate(175.1 95.1 670.1)"/><ellipse cx="81.6" cy="672.8" rx="2.28" ry="1.89" opacity="0.11" transform="rotate(66.6 81.6 672.8)"/><ellipse cx="45.4" cy="695.5" rx="2.42" ry="2.24" opacity="0.14" transform="rotate(54.3 45.4 695.5)"/><ellipse cx="41.9" cy="691.4" rx="2.29" ry="2.25" opacity="0.14" transform="rotate(11.6 41.9 691.4)"/><ellipse cx="32.2" cy="698" rx="2.19" ry="1.84" opacity="0.1" transform="rotate(82.2 32.2 698)"/><ellipse cx="37.6" cy="675.3" rx="2.41" ry="2.35" opacity="0.17" transform="rotate(160.9 37.6 675.3)"/><ellipse cx="34.8" cy="681.8" rx="2.5" ry="2.36" opacity="0.2" transform="rotate(117.6 34.8 681.8)"/><ellipse cx="65.9" cy="653.3" rx="2.3" ry="2.06" opacity="0.1" transform="rotate(148.8 65.9 653.3)"/><ellipse cx="52.5" cy="686" rx="2.27" ry="1.83" opacity="0.12" transform="rotate(51.5 52.5 686)"/><ellipse cx="81.7" cy="712.9" rx="2.7" ry="2.23" opacity="0.15" transform="rotate(15.7 81.7 712.9)"/><ellipse cx="60.4" cy="680.7" rx="2.68" ry="2.22" opacity="0.27" transform="rotate(138 60.4 680.7)"/><ellipse cx="82.7" cy="660.2" rx="2.6" ry="2.46" opacity="0.15" transform="rotate(163.8 82.7 660.2)"/><ellipse cx="84.1" cy="690.2" rx="2.29" ry="2.06" opacity="0.16" transform="rotate(26.8 84.1 690.2)"/><ellipse cx="69.6" cy="701.9" rx="2.3" ry="2.28" opacity="0.16" transform="rotate(131.4 69.6 701.9)"/><ellipse cx="48.6" cy="690.2" rx="3" ry="2.42" opacity="0.17" transform="rotate(126.6 48.6 690.2)"/><ellipse cx="55" cy="668.2" rx="2.48" ry="2.3" opacity="0.15" transform="rotate(47.8 55 668.2)"/><ellipse cx="89.7" cy="675.9" rx="1.8" ry="1.74" opacity="0.12" transform="rotate(49.8 89.7 675.9)"/><ellipse cx="29.6" cy="648.2" rx="2.74" ry="2.27" opacity="0.18" transform="rotate(59.8 29.6 648.2)"/><ellipse cx="95.9" cy="652.5" rx="1.98" ry="1.73" opacity="0.15" transform="rotate(106.1 95.9 652.5)"/><ellipse cx="37.8" cy="700.8" rx="2.63" ry="2.32" opacity="0.11" transform="rotate(96.6 37.8 700.8)"/><ellipse cx="79.5" cy="648.1" rx="2.69" ry="2.38" opacity="0.25" transform="rotate(54.7 79.5 648.1)"/><ellipse cx="44.7" cy="682.9" rx="0.67" ry="0.67" opacity="1" transform="rotate(0 44.7 682.9)"/><ellipse cx="54.7" cy="704.9" rx="0.94" ry="0.94" opacity="1" transform="rotate(0 54.7 704.9)"/><ellipse cx="34.4" cy="664.5" rx="0.84" ry="0.84" opacity="1" transform="rotate(0 34.4 664.5)"/><ellipse cx="69.4" cy="671.7" rx="0.9" ry="0.9" opacity="1" transform="rotate(0 69.4 671.7)"/></g>
<rect x="101.2" y="647.3" width="72.6" height="66" fill="#020202"/>
<g clip-path="url(#c12)" fill="url(#gw)"><ellipse cx="139.6" cy="686" rx="1.6" ry="1.49" opacity="0.33" transform="rotate(5.61 139.6 686)"/><ellipse cx="162.4" cy="706.6" rx="1.67" ry="1.56" opacity="0.32" transform="rotate(152.3 162.4 706.6)"/><ellipse cx="165.2" cy="671.4" rx="1.92" ry="1.7" opacity="0.12" transform="rotate(111.8 165.2 671.4)"/><ellipse cx="170.1" cy="675.3" rx="1.46" ry="1.37" opacity="0.17" transform="rotate(53.4 170.1 675.3)"/><ellipse cx="123.4" cy="653.5" rx="1.9" ry="1.54" opacity="0.21" transform="rotate(167.3 123.4 653.5)"/><ellipse cx="138.3" cy="657.5" rx="1.71" ry="1.51" opacity="0.21" transform="rotate(19 138.3 657.5)"/><ellipse cx="121.1" cy="687.6" rx="1.59" ry="1.42" opacity="0.13" transform="rotate(2.46 121.1 687.6)"/><ellipse cx="157.6" cy="697" rx="1.39" ry="1.36" opacity="0.18" transform="rotate(139.9 157.6 697)"/><ellipse cx="107.5" cy="651.3" rx="1.21" ry="1.2" opacity="0.2" transform="rotate(172 107.5 651.3)"/><ellipse cx="162.1" cy="700.1" rx="1.65" ry="1.37" opacity="0.18" transform="rotate(20.9 162.1 700.1)"/><ellipse cx="169" cy="686.2" rx="1.66" ry="1.52" opacity="0.13" transform="rotate(96.2 169 686.2)"/><ellipse cx="147.4" cy="666.6" rx="1.28" ry="1.14" opacity="0.19" transform="rotate(48.5 147.4 666.6)"/><ellipse cx="124" cy="660.9" rx="1.52" ry="1.44" opacity="0.22" transform="rotate(76.3 124 660.9)"/><ellipse cx="142.8" cy="673.2" rx="1.85" ry="1.56" opacity="0.14" transform="rotate(119.1 142.8 673.2)"/><ellipse cx="132" cy="663.7" rx="1.76" ry="1.44" opacity="0.23" transform="rotate(122.1 132 663.7)"/><ellipse cx="160.4" cy="685.6" rx="1.96" ry="1.67" opacity="0.2" transform="rotate(22 160.4 685.6)"/><ellipse cx="121.7" cy="707.2" rx="1.64" ry="1.51" opacity="0.12" transform="rotate(67.8 121.7 707.2)"/><ellipse cx="158.7" cy="674.1" rx="1.29" ry="1.16" opacity="0.2" transform="rotate(63.3 158.7 674.1)"/><ellipse cx="164" cy="653.3" rx="2.03" ry="1.63" opacity="0.3" transform="rotate(134.5 164 653.3)"/><ellipse cx="155" cy="712" rx="1.36" ry="1.17" opacity="0.17" transform="rotate(169.8 155 712)"/><ellipse cx="131.7" cy="677.8" rx="2.03" ry="1.69" opacity="0.15" transform="rotate(93.5 131.7 677.8)"/><ellipse cx="110.7" cy="665.5" rx="1.5" ry="1.42" opacity="0.19" transform="rotate(142.8 110.7 665.5)"/><ellipse cx="118.2" cy="666.8" rx="1.64" ry="1.56" opacity="0.14" transform="rotate(16.9 118.2 666.8)"/><ellipse cx="108.8" cy="681.9" rx="1.81" ry="1.49" opacity="0.19" transform="rotate(51.8 108.8 681.9)"/><ellipse cx="169.7" cy="667.7" rx="1.75" ry="1.54" opacity="0.13" transform="rotate(4.02 169.7 667.7)"/><ellipse cx="139.8" cy="706.3" rx="1.78" ry="1.66" opacity="0.17" transform="rotate(60.3 139.8 706.3)"/><ellipse cx="145.4" cy="704.8" rx="1.56" ry="1.31" opacity="0.16" transform="rotate(98.8 145.4 704.8)"/><ellipse cx="105.9" cy="695.8" rx="1.83" ry="1.64" opacity="0.29" transform="rotate(80.7 105.9 695.8)"/><ellipse cx="125.6" cy="668.5" rx="2" ry="1.67" opacity="0.16" transform="rotate(175.5 125.6 668.5)"/><ellipse cx="139.8" cy="651.1" rx="1.87" ry="1.57" opacity="0.16" transform="rotate(158.9 139.8 651.1)"/><ellipse cx="120.8" cy="680.4" rx="1.51" ry="1.22" opacity="0.22" transform="rotate(90.9 120.8 680.4)"/><ellipse cx="171.8" cy="703.9" rx="1.69" ry="1.6" opacity="0.12" transform="rotate(89.8 171.8 703.9)"/><ellipse cx="141" cy="697.7" rx="1.42" ry="1.31" opacity="0.14" transform="rotate(113.2 141 697.7)"/><ellipse cx="119.5" cy="693.1" rx="1.6" ry="1.29" opacity="0.2" transform="rotate(64.4 119.5 693.1)"/><ellipse cx="173.5" cy="657.5" rx="1.48" ry="1.32" opacity="0.16" transform="rotate(148.2 173.5 657.5)"/><ellipse cx="168.9" cy="712.3" rx="1.47" ry="1.37" opacity="0.22" transform="rotate(32.1 168.9 712.3)"/><ellipse cx="127.9" cy="701" rx="1.27" ry="1.18" opacity="0.18" transform="rotate(143.1 127.9 701)"/><ellipse cx="158.8" cy="664.9" rx="1.59" ry="1.32" opacity="0.19" transform="rotate(83.6 158.8 664.9)"/><ellipse cx="140.6" cy="677.8" rx="1.5" ry="1.36" opacity="0.15" transform="rotate(59.7 140.6 677.8)"/><ellipse cx="137" cy="673.2" rx="1.41" ry="1.34" opacity="0.17" transform="rotate(48.5 137 673.2)"/><ellipse cx="111.7" cy="673.5" rx="1.42" ry="1.15" opacity="0.16" transform="rotate(89.2 111.7 673.5)"/><ellipse cx="155.9" cy="688.3" rx="1.3" ry="1.3" opacity="0.12" transform="rotate(147.1 155.9 688.3)"/><ellipse cx="150.7" cy="649.6" rx="1.67" ry="1.35" opacity="0.19" transform="rotate(168.6 150.7 649.6)"/><ellipse cx="132.8" cy="687.5" rx="1.5" ry="1.27" opacity="0.18" transform="rotate(92.5 132.8 687.5)"/><ellipse cx="173" cy="682.4" rx="1.19" ry="1.14" opacity="0.19" transform="rotate(34.1 173 682.4)"/><ellipse cx="150.2" cy="674.2" rx="1.81" ry="1.47" opacity="0.18" transform="rotate(51.9 150.2 674.2)"/><ellipse cx="114.8" cy="662.1" rx="1.43" ry="1.18" opacity="0.17" transform="rotate(105.1 114.8 662.1)"/><ellipse cx="150.7" cy="661.9" rx="1.78" ry="1.51" opacity="0.17" transform="rotate(163.6 150.7 661.9)"/><ellipse cx="163.2" cy="676.3" rx="1.78" ry="1.52" opacity="0.26" transform="rotate(24.7 163.2 676.3)"/><ellipse cx="113.4" cy="704.1" rx="1.2" ry="1.15" opacity="0.13" transform="rotate(129.4 113.4 704.1)"/><ellipse cx="153" cy="706.4" rx="1.81" ry="1.5" opacity="0.22" transform="rotate(65.2 153 706.4)"/><ellipse cx="105.2" cy="706.5" rx="1.54" ry="1.32" opacity="0.14" transform="rotate(87.4 105.2 706.5)"/><ellipse cx="136.6" cy="694.2" rx="1.4" ry="1.27" opacity="0.17" transform="rotate(162 136.6 694.2)"/><ellipse cx="109.4" cy="710.2" rx="1.33" ry="1.25" opacity="0.12" transform="rotate(148 109.4 710.2)"/><ellipse cx="151.2" cy="685.4" rx="1.66" ry="1.4" opacity="0.16" transform="rotate(119.8 151.2 685.4)"/><ellipse cx="146.8" cy="689.4" rx="1.12" ry="1.12" opacity="1" transform="rotate(0 146.8 689.4)"/><ellipse cx="110.2" cy="687" rx="1" ry="1" opacity="1" transform="rotate(0 110.2 687)"/><ellipse cx="128" cy="674.7" rx="1.12" ry="1.12" opacity="1" transform="rotate(0 128 674.7)"/><ellipse cx="164.1" cy="698" rx="0.85" ry="0.85" opacity="1" transform="rotate(0 164.1 698)"/><ellipse cx="130.2" cy="706.9" rx="0.86" ry="0.86" opacity="0.88" transform="rotate(0 130.2 706.9)"/><ellipse cx="161" cy="672" rx="0.92" ry="0.92" opacity="1" transform="rotate(0 161 672)"/><ellipse cx="152.5" cy="653.9" rx="1.13" ry="1.13" opacity="1" transform="rotate(0 152.5 653.9)"/><ellipse cx="161.3" cy="655.1" rx="1.08" ry="1.08" opacity="0.94" transform="rotate(0 161.3 655.1)"/><ellipse cx="152.1" cy="649.9" rx="1.11" ry="1.11" opacity="1" transform="rotate(0 152.1 649.9)"/></g>
<text x="184.6" y="572.3" font-size="14.2" font-weight="bold" text-anchor="start" fill="#000">H</text>
<line x1="229.5" y1="586.8" x2="229.5" y2="692.9" stroke="#000" stroke-width="1.25"/>
<line x1="228.9" y1="692.3" x2="299.3" y2="692.3" stroke="#000" stroke-width="1.25"/>
<line x1="224.9" y1="692.3" x2="229.5" y2="692.3" stroke="#000" stroke-width="1.25"/>
<line x1="224.9" y1="671.3" x2="229.5" y2="671.3" stroke="#000" stroke-width="1.25"/>
<line x1="224.9" y1="650.3" x2="229.5" y2="650.3" stroke="#000" stroke-width="1.25"/>
<line x1="224.9" y1="629.4" x2="229.5" y2="629.4" stroke="#000" stroke-width="1.25"/>
<line x1="224.9" y1="608.4" x2="229.5" y2="608.4" stroke="#000" stroke-width="1.25"/>
<line x1="224.9" y1="587.4" x2="229.5" y2="587.4" stroke="#000" stroke-width="1.25"/>
<line x1="249.3" y1="692.3" x2="249.3" y2="696.9" stroke="#000" stroke-width="1.25"/>
<line x1="279.3" y1="692.3" x2="279.3" y2="696.9" stroke="#000" stroke-width="1.25"/>
<text x="223" y="674" font-size="7.7" font-weight="bold" text-anchor="end">1×10<tspan font-size="4.8" dy="-2.08" dx="1.3">12</tspan></text>
<text x="223" y="653" font-size="7.7" font-weight="bold" text-anchor="end">2×10<tspan font-size="4.8" dy="-2.08" dx="1.3">12</tspan></text>
<text x="223" y="632.1" font-size="7.7" font-weight="bold" text-anchor="end">3×10<tspan font-size="4.8" dy="-2.08" dx="1.3">12</tspan></text>
<text x="223" y="611.1" font-size="7.7" font-weight="bold" text-anchor="end">4×10<tspan font-size="4.8" dy="-2.08" dx="1.3">12</tspan></text>
<text x="223" y="590.1" font-size="7.7" font-weight="bold" text-anchor="end">5×10<tspan font-size="4.8" dy="-2.08" dx="1.3">12</tspan></text>
<text x="223" y="695" font-size="7.7" font-weight="bold" text-anchor="end" fill="#000">0</text>
<text x="191.8" y="639" font-size="8.6" font-weight="bold" text-anchor="middle" fill="#000" transform="rotate(-90 191.8 639)">Peak Area (AU)</text>
<path d="M249.1 588.8V583.2H279.6V640.6" stroke="#000" stroke-width="1" fill="none"/>
<text x="264.2" y="581.3" font-size="5.4" font-weight="bold" text-anchor="middle" fill="#000" letter-spacing="0.2">* * * *</text>
<text x="249.3" y="703.2" font-size="5.6" font-weight="bold" text-anchor="middle" fill="#000" font-style="italic">WT</text>
<text x="279.6" y="703.2" font-size="5.9" font-weight="bold" font-style="italic" text-anchor="middle">Trpm8<tspan font-size="3.8" dy="-2.2">-/-</tspan></text>
<path d="M249.1 626.1h0M250.4 660h0M248.2 672.1h0M244.9 665.6h0M256.3 661.9h0M253.1 637.7h0M244.7 654.1h0M250.1 669.4h0M253.5 655.3h0M249 647.9h0M250.1 629h0M252.8 670.4h0M244.5 656.6h0M246.1 645.1h0M244.6 649.2h0M248.9 632h0M256.8 657.5h0M251.6 649.3h0M255 665.2h0M244.8 646.9h0M244.1 639.1h0M251.3 644.4h0M250.7 634.9h0M248.2 642.7h0M251.1 639.1h0M248.9 640.1h0M243.5 661.1h0M250.3 653.1h0M241.1 660.5h0M248.1 651.8h0M247.6 667.9h0M255.7 641.9h0M246.7 640.6h0M253.7 658.6h0M251.1 641.3h0M244.2 641.5h0M253.9 640h0M253.5 652.8h0M253.9 662.6h0M247.5 636.8h0M249.8 665.4h0M247.1 665.8h0M253.6 647.8h0M243.2 664.3h0M247.6 660.8h0M245.7 670.2h0M246 659.6h0M247.9 663.5h0M253.5 667.2h0M250 656.5h0M243.6 643.9h0M242.4 658.6h0M245.7 661.8h0M248.3 645.9h0M253.6 650.3h0M254.1 645.4h0M250.5 672.3h0M248.2 623.6h0M249.8 637.2h0M247.5 657.2h0M247.3 649.8h0M246.7 655.3h0M251.2 646.7h0M251.2 663.3h0M247.6 634.2h0M254.9 660.3h0M245.4 651.8h0M252.7 665h0M252.5 660.6h0M248.5 621h0M253.5 642.3h0M250 650.7h0M245.2 667.9h0M251 630.9h0M251.3 667h0M242 656.5h0M247.8 670h0M255.4 654.2h0M248.7 654.7h0M247.9 627.9h0M246.7 647.8h0M257 659.7h0M248.4 595.4h0M250.1 595.8h0M249.2 598.9h0M249.2 604.2h0M248 611.5h0M250.4 612.2h0M249.2 612.6h0M249.5 618.9h0" stroke="#9ec6f7" stroke-width="2.4" stroke-linecap="round" fill="none"/>
<path d="M279.2 677.8h0M278.8 677.4h0M279.5 676.2h0M279.5 674.9h0M279.8 674.1h0M279.9 673.2h0M280 672h0M278.8 670.7h0M279.8 669.7h0M279.7 669.1h0M278.6 668.3h0M278.6 667.4h0M280 665.7h0M279.8 665.3h0M278.7 664.2h0M278.7 663.4h0M279.7 662.5h0M278.6 660.8h0M279.6 660.1h0M278.8 659.4h0M280 657.8h0M278.8 657.2h0M279.2 656.2h0M279.4 654.9h0M278.5 653.6h0M279.3 653.2h0M279.3 652.3h0M279.5 651.4h0M279.7 649.8h0M278.7 648.6h0M278.6 648.4h0M280.1 647.3h0M278.7 646.2h0M278.7 645.4h0M279.7 644.2h0M279.6 642.9h0M275.2 684h0M278.6 690.3h0M277.6 686.9h0M278.6 689.3h0M273.9 685.2h0M283.2 686.9h0M275.9 687.3h0M283.9 682.9h0M283.6 689.3h0M283.2 684.1h0M269.9 686.4h0M273.1 685.6h0M274 687h0M280.8 687.2h0M274 685.7h0M282.8 685.3h0M280 682.4h0M279.4 687.2h0M287.9 688.8h0M271.7 684h0M281 688.7h0M279.6 684.3h0M282.4 687.5h0M284.9 685.4h0M272.4 684.1h0M276.8 689h0M283.1 686.8h0M277 683.2h0M272.8 688.5h0M285.7 685.1h0M286.3 688.6h0M275.4 687.1h0M284.5 684.3h0M279.4 687.1h0M281.3 687.9h0M278.9 686.5h0M271 685.5h0M282.1 690.9h0M270.3 686.5h0M283.4 685.3h0M271.2 689.2h0M285.6 686.6h0M275.9 687.8h0M286.8 687.4h0M273.8 685.8h0M272.7 685.1h0M282.4 688.2h0M286 687h0M274.7 686.7h0M282.8 683.6h0M277.1 686.2h0M281.1 685.8h0M282.8 684.6h0M283.3 688.9h0M273.1 686.5h0M284.5 685.8h0M285 684.8h0M283.6 685.5h0M271.8 688.2h0M286.2 687.1h0M289.5 686.2h0M276.9 688.1h0M284.4 689.2h0M276.5 685.2h0M286.6 685.8h0M271.1 686.1h0M286.2 685.7h0M275.8 688.2h0M283.5 683.1h0M288.6 685.3h0M283.8 683h0M287.5 688h0M285.5 690.2h0M285.1 687.2h0M277.4 683.2h0M278.9 684.8h0M279.8 683.3h0M274.7 685.1h0M283 688h0M283.2 688h0M287.6 686.9h0M284.6 686.6h0M279.7 683.4h0M275.1 685.7h0M275.2 684.2h0M271.3 685.8h0M286.3 687.8h0M277.6 685.1h0M280.3 686.7h0M282.4 686.6h0M274 686.9h0M287.7 685h0M278.4 687.4h0M273.3 686.9h0M275.3 687h0M277.8 687.4h0M271.2 685.8h0M282.5 690.8h0M281.7 688.5h0M281.5 683.8h0M278.5 687h0M284.7 683.4h0M285 684.8h0M288.5 687.9h0M286.7 689.7h0M288.5 686.6h0M280.8 687h0M275.1 688.4h0M270 686.1h0M271.6 688.5h0M287.5 688.3h0M280 683.7h0M277.3 688.7h0M288.1 688.3h0M287.9 686.3h0M280.2 681.8h0M279.4 680.8h0M279.4 679.7h0" stroke="#ee3338" stroke-width="2.3" stroke-linecap="round" fill="none"/>
<line x1="239" y1="648.2" x2="259.4" y2="648.2" stroke="#222" stroke-width="0.9"/>
<line x1="269" y1="677" x2="289.3" y2="677" stroke="#222" stroke-width="0.9"/>
<text x="390.2" y="572.3" font-size="14.2" font-weight="bold" text-anchor="start" fill="#000">J</text>
<text x="448" y="565" font-size="6.4" font-weight="bold" text-anchor="middle" fill="#000">Baseline</text>
<text x="448" y="573" font-size="6.4" font-weight="bold" text-anchor="middle" fill="#000">(~10s)</text>
<text x="521.5" y="565" font-size="6.4" font-weight="bold" text-anchor="middle" fill="#000">LPS</text>
<text x="521.5" y="573" font-size="6.4" font-weight="bold" text-anchor="middle" fill="#000">(~40s)</text>
<line x1="410" y1="576.3" x2="482.5" y2="576.3" stroke="#c4c4c4" stroke-width="0.8"/>
<line x1="486" y1="576.3" x2="558.5" y2="576.3" stroke="#c4c4c4" stroke-width="0.8"/>
<text x="405.2" y="613.8" font-size="6.4" font-weight="bold" text-anchor="middle" fill="#000" transform="rotate(-90 405.2 613.8)">Vehicle</text>
<text x="405.2" y="682.6" font-size="6.5" font-weight="bold" text-anchor="middle" fill="#000" transform="rotate(-90 405.2 682.6)">Lut10<tspan font-family="Liberation Serif">µ</tspan>M</text>
<rect x="410.1" y="581.4" width="71.6" height="64.2" fill="#030303"/>
<g clip-path="url(#c13)" fill="url(#gw)"><ellipse cx="427.5" cy="613.6" rx="3.28" ry="2.94" opacity="0.31" transform="rotate(134.5 427.5 613.6)"/><ellipse cx="421.7" cy="634.1" rx="2.9" ry="2.65" opacity="0.23" transform="rotate(97.1 421.7 634.1)"/><ellipse cx="476.4" cy="606.9" rx="2.39" ry="2.02" opacity="0.27" transform="rotate(137 476.4 606.9)"/><ellipse cx="479.4" cy="628.4" rx="2.68" ry="2.31" opacity="0.3" transform="rotate(66.7 479.4 628.4)"/><ellipse cx="449.3" cy="621.8" rx="3.03" ry="2.5" opacity="0.3" transform="rotate(21.1 449.3 621.8)"/><ellipse cx="452.1" cy="604.5" rx="3.45" ry="2.81" opacity="0.21" transform="rotate(157.8 452.1 604.5)"/><ellipse cx="481.5" cy="607.3" rx="2.36" ry="2.23" opacity="0.21" transform="rotate(32.1 481.5 607.3)"/><ellipse cx="480.5" cy="636.1" rx="3.1" ry="2.49" opacity="0.21" transform="rotate(112.5 480.5 636.1)"/><ellipse cx="412.1" cy="598" rx="2.66" ry="2.52" opacity="0.3" transform="rotate(73.3 412.1 598)"/><ellipse cx="444.3" cy="633.7" rx="3.01" ry="2.52" opacity="0.25" transform="rotate(58.8 444.3 633.7)"/><ellipse cx="422.8" cy="620.9" rx="2.46" ry="2.34" opacity="0.3" transform="rotate(84 422.8 620.9)"/><ellipse cx="436.4" cy="631.8" rx="2.68" ry="2.33" opacity="0.34" transform="rotate(29.4 436.4 631.8)"/><ellipse cx="423.9" cy="630.2" rx="2.2" ry="2.01" opacity="0.32" transform="rotate(145.4 423.9 630.2)"/><ellipse cx="443.8" cy="639.6" rx="3.42" ry="2.76" opacity="0.18" transform="rotate(34.5 443.8 639.6)"/><ellipse cx="469.2" cy="634" rx="2.85" ry="2.7" opacity="0.33" transform="rotate(8.79 469.2 634)"/><ellipse cx="452.5" cy="592.6" rx="2.79" ry="2.24" opacity="0.26" transform="rotate(176.9 452.5 592.6)"/><ellipse cx="411.3" cy="609.3" rx="2.91" ry="2.89" opacity="0.26" transform="rotate(104.2 411.3 609.3)"/><ellipse cx="439.8" cy="594.3" rx="2.84" ry="2.46" opacity="0.21" transform="rotate(70 439.8 594.3)"/><ellipse cx="478.9" cy="588.6" rx="2.3" ry="2.02" opacity="0.32" transform="rotate(38.9 478.9 588.6)"/><ellipse cx="474.8" cy="616.7" rx="3.21" ry="2.75" opacity="0.33" transform="rotate(161.9 474.8 616.7)"/><ellipse cx="422.9" cy="604.4" rx="3.33" ry="2.86" opacity="0.22" transform="rotate(52.5 422.9 604.4)"/><ellipse cx="442.3" cy="589" rx="2.48" ry="2.01" opacity="0.32" transform="rotate(133 442.3 589)"/><ellipse cx="464.7" cy="623.2" rx="2.05" ry="2.01" opacity="0.48" transform="rotate(136.7 464.7 623.2)"/><ellipse cx="466.4" cy="645.4" rx="2.54" ry="2.31" opacity="0.19" transform="rotate(50.5 466.4 645.4)"/><ellipse cx="476.8" cy="622.7" rx="2.26" ry="2.06" opacity="0.2" transform="rotate(51.2 476.8 622.7)"/><ellipse cx="448.7" cy="615" rx="2.74" ry="2.69" opacity="0.31" transform="rotate(90.3 448.7 615)"/><ellipse cx="468.4" cy="640.8" rx="3.08" ry="2.58" opacity="0.28" transform="rotate(156.7 468.4 640.8)"/><ellipse cx="416.3" cy="619" rx="2.95" ry="2.77" opacity="0.32" transform="rotate(85.3 416.3 619)"/><ellipse cx="471.5" cy="595.8" rx="2.65" ry="2.37" opacity="0.23" transform="rotate(148.4 471.5 595.8)"/><ellipse cx="462.3" cy="619" rx="3.12" ry="2.57" opacity="0.35" transform="rotate(75.1 462.3 619)"/><ellipse cx="425.4" cy="644.2" rx="2.81" ry="2.79" opacity="0.23" transform="rotate(20.2 425.4 644.2)"/><ellipse cx="480.4" cy="616.8" rx="2.71" ry="2.46" opacity="0.28" transform="rotate(20.9 480.4 616.8)"/><ellipse cx="473.6" cy="600.3" rx="2.77" ry="2.57" opacity="0.3" transform="rotate(125.7 473.6 600.3)"/><ellipse cx="455.9" cy="608.5" rx="2.93" ry="2.57" opacity="0.36" transform="rotate(160.7 455.9 608.5)"/><ellipse cx="466.3" cy="588.6" rx="2.57" ry="2.54" opacity="0.25" transform="rotate(49.4 466.3 588.6)"/><ellipse cx="410.9" cy="623.8" rx="2.9" ry="2.34" opacity="0.34" transform="rotate(16.2 410.9 623.8)"/><ellipse cx="458.6" cy="628" rx="2.96" ry="2.86" opacity="0.31" transform="rotate(81.1 458.6 628)"/><ellipse cx="478.8" cy="599.6" rx="2.23" ry="2.15" opacity="0.39" transform="rotate(12.7 478.8 599.6)"/><ellipse cx="462.2" cy="612.1" rx="2.85" ry="2.36" opacity="0.29" transform="rotate(149.8 462.2 612.1)"/><ellipse cx="411.3" cy="631.2" rx="2.42" ry="2.34" opacity="0.32" transform="rotate(7.82 411.3 631.2)"/><ellipse cx="430.1" cy="631.6" rx="2.99" ry="2.63" opacity="0.34" transform="rotate(49.8 430.1 631.6)"/><ellipse cx="438.9" cy="636.4" rx="2.43" ry="2.39" opacity="0.18" transform="rotate(46.1 438.9 636.4)"/><ellipse cx="437.7" cy="601.9" rx="2.83" ry="2.56" opacity="0.52" transform="rotate(127.5 437.7 601.9)"/><ellipse cx="433.3" cy="620.3" rx="3.52" ry="2.94" opacity="0.28" transform="rotate(77.8 433.3 620.3)"/><ellipse cx="410.5" cy="589.8" rx="3.25" ry="2.93" opacity="0.32" transform="rotate(36.4 410.5 589.8)"/><ellipse cx="439.7" cy="584.8" rx="2.48" ry="2.42" opacity="0.26" transform="rotate(90 439.7 584.8)"/><ellipse cx="464.9" cy="602.5" rx="2.81" ry="2.65" opacity="0.3" transform="rotate(163.6 464.9 602.5)"/><ellipse cx="410.3" cy="642.6" rx="2.23" ry="2.11" opacity="0.33" transform="rotate(89.9 410.3 642.6)"/><ellipse cx="415.3" cy="612.5" rx="2.08" ry="2" opacity="0.27" transform="rotate(166.6 415.3 612.5)"/><ellipse cx="448.4" cy="631.7" rx="3.04" ry="2.87" opacity="0.25" transform="rotate(73.6 448.4 631.7)"/><ellipse cx="441.3" cy="628.3" rx="2.85" ry="2.4" opacity="0.29" transform="rotate(143.8 441.3 628.3)"/><ellipse cx="454.1" cy="630.8" rx="2.04" ry="2.01" opacity="0.3" transform="rotate(106.9 454.1 630.8)"/><ellipse cx="421.2" cy="615" rx="2.72" ry="2.38" opacity="0.48" transform="rotate(63 421.2 615)"/><ellipse cx="471.4" cy="623.5" rx="2.9" ry="2.54" opacity="0.18" transform="rotate(31.8 471.4 623.5)"/><ellipse cx="453.3" cy="614.3" rx="2.64" ry="2.5" opacity="0.37" transform="rotate(89.5 453.3 614.3)"/><ellipse cx="477.9" cy="612.6" rx="2.64" ry="2.25" opacity="0.33" transform="rotate(135.8 477.9 612.6)"/><ellipse cx="416.2" cy="585.7" rx="2.82" ry="2.72" opacity="0.22" transform="rotate(128 416.2 585.7)"/><ellipse cx="479.4" cy="594.7" rx="3.16" ry="2.53" opacity="0.23" transform="rotate(42.8 479.4 594.7)"/><ellipse cx="467.7" cy="593.8" rx="2.2" ry="2.08" opacity="0.23" transform="rotate(122.9 467.7 593.8)"/><ellipse cx="426.2" cy="591.7" rx="2.61" ry="2.17" opacity="0.26" transform="rotate(52.7 426.2 591.7)"/><ellipse cx="447.8" cy="582" rx="2.45" ry="2.24" opacity="0.21" transform="rotate(157.8 447.8 582)"/><ellipse cx="431.6" cy="586.7" rx="2.54" ry="2.53" opacity="0.32" transform="rotate(62.2 431.6 586.7)"/><ellipse cx="414.6" cy="592" rx="2.22" ry="2" opacity="0.31" transform="rotate(124.4 414.6 592)"/><ellipse cx="446.7" cy="592.3" rx="2.55" ry="2.28" opacity="0.28" transform="rotate(5.67 446.7 592.3)"/><ellipse cx="445.9" cy="624.3" rx="2.69" ry="2.17" opacity="0.52" transform="rotate(103.1 445.9 624.3)"/><ellipse cx="464" cy="630.2" rx="2.49" ry="2.42" opacity="0.2" transform="rotate(1.21 464 630.2)"/><ellipse cx="461.9" cy="596.1" rx="2.58" ry="2.24" opacity="0.3" transform="rotate(33.3 461.9 596.1)"/><ellipse cx="421.9" cy="583.8" rx="2.74" ry="2.44" opacity="0.26" transform="rotate(50.4 421.9 583.8)"/><ellipse cx="435.1" cy="641.8" rx="3.19" ry="2.58" opacity="0.28" transform="rotate(90.7 435.1 641.8)"/><ellipse cx="424.3" cy="609.2" rx="2.69" ry="2.41" opacity="0.27" transform="rotate(178.6 424.3 609.2)"/><ellipse cx="438.5" cy="624.1" rx="2.79" ry="2.72" opacity="0.26" transform="rotate(5.4 438.5 624.1)"/><ellipse cx="463.8" cy="637.6" rx="2.55" ry="2.41" opacity="0.25" transform="rotate(99.8 463.8 637.6)"/><ellipse cx="420.5" cy="625.9" rx="3.35" ry="2.7" opacity="0.25" transform="rotate(50.6 420.5 625.9)"/><ellipse cx="429.8" cy="607.7" rx="3.03" ry="2.86" opacity="0.27" transform="rotate(3.14 429.8 607.7)"/><ellipse cx="426.6" cy="624" rx="2.47" ry="2.44" opacity="0.33" transform="rotate(58.8 426.6 624)"/><ellipse cx="443.8" cy="616.7" rx="2.37" ry="2.19" opacity="0.26" transform="rotate(24.3 443.8 616.7)"/><ellipse cx="429.6" cy="582.1" rx="2.72" ry="2.38" opacity="0.21" transform="rotate(145.7 429.6 582.1)"/><ellipse cx="471" cy="606.3" rx="2.24" ry="2.22" opacity="0.2" transform="rotate(112.8 471 606.3)"/><ellipse cx="461.4" cy="606.8" rx="3.06" ry="2.46" opacity="0.33" transform="rotate(163.4 461.4 606.8)"/><ellipse cx="411.4" cy="616.9" rx="3.24" ry="2.7" opacity="0.26" transform="rotate(11.4 411.4 616.9)"/><ellipse cx="422.5" cy="594.9" rx="2.27" ry="2.04" opacity="0.39" transform="rotate(22.9 422.5 594.9)"/><ellipse cx="450.9" cy="599" rx="2.52" ry="2.1" opacity="0.19" transform="rotate(84 450.9 599)"/><ellipse cx="479.4" cy="583.9" rx="2.69" ry="2.6" opacity="0.25" transform="rotate(168 479.4 583.9)"/><ellipse cx="445.3" cy="600.7" rx="2.78" ry="2.41" opacity="0.33" transform="rotate(7.49 445.3 600.7)"/><ellipse cx="425.9" cy="639.9" rx="3.14" ry="2.59" opacity="0.24" transform="rotate(35.5 425.9 639.9)"/><ellipse cx="476.3" cy="586.2" rx="1.23" ry="1.23" opacity="1" transform="rotate(0 476.3 586.2)"/><ellipse cx="413.1" cy="643.1" rx="1.54" ry="1.54" opacity="0.98" transform="rotate(0 413.1 643.1)"/><ellipse cx="441.4" cy="589.2" rx="1.43" ry="1.43" opacity="0.93" transform="rotate(0 441.4 589.2)"/></g>
<rect x="486.3" y="581.4" width="72.2" height="64.2" fill="#040404"/>
<g clip-path="url(#c14)" fill="url(#gw)"><ellipse cx="521.2" cy="641.9" rx="2.85" ry="2.78" opacity="0.41" transform="rotate(119.7 521.2 641.9)"/><ellipse cx="516.1" cy="593.2" rx="2.33" ry="2.1" opacity="0.32" transform="rotate(175.3 516.1 593.2)"/><ellipse cx="531.8" cy="583.6" rx="3.15" ry="2.66" opacity="0.37" transform="rotate(16.6 531.8 583.6)"/><ellipse cx="487.1" cy="585.9" rx="2.95" ry="2.68" opacity="0.35" transform="rotate(13.8 487.1 585.9)"/><ellipse cx="503" cy="599" rx="2.25" ry="2.24" opacity="0.3" transform="rotate(166.3 503 599)"/><ellipse cx="516.3" cy="636.4" rx="3.02" ry="2.64" opacity="0.41" transform="rotate(142.4 516.3 636.4)"/><ellipse cx="550.9" cy="642.2" rx="3.26" ry="2.75" opacity="0.26" transform="rotate(177.5 550.9 642.2)"/><ellipse cx="534.8" cy="638" rx="2.11" ry="2.09" opacity="0.3" transform="rotate(33.3 534.8 638)"/><ellipse cx="496.6" cy="614.8" rx="3.32" ry="2.81" opacity="0.41" transform="rotate(9.12 496.6 614.8)"/><ellipse cx="499.3" cy="587.4" rx="2.22" ry="2.13" opacity="0.4" transform="rotate(33.7 499.3 587.4)"/><ellipse cx="536.7" cy="633.6" rx="2.55" ry="2.52" opacity="0.44" transform="rotate(45.8 536.7 633.6)"/><ellipse cx="517.1" cy="583.2" rx="2.92" ry="2.33" opacity="0.44" transform="rotate(73.2 517.1 583.2)"/><ellipse cx="533.6" cy="615.4" rx="2.39" ry="2.02" opacity="0.68" transform="rotate(62.8 533.6 615.4)"/><ellipse cx="495.6" cy="619.9" rx="2.63" ry="2.14" opacity="0.34" transform="rotate(134.8 495.6 619.9)"/><ellipse cx="526.4" cy="609" rx="2.42" ry="2.4" opacity="0.29" transform="rotate(7.28 526.4 609)"/><ellipse cx="540" cy="631.5" rx="3.01" ry="2.78" opacity="0.31" transform="rotate(138.4 540 631.5)"/><ellipse cx="503.6" cy="625.5" rx="2.51" ry="2.03" opacity="0.44" transform="rotate(88.2 503.6 625.5)"/><ellipse cx="540.7" cy="639.2" rx="2.74" ry="2.64" opacity="0.43" transform="rotate(47.6 540.7 639.2)"/><ellipse cx="534.8" cy="586.3" rx="2.47" ry="2.14" opacity="0.27" transform="rotate(6.71 534.8 586.3)"/><ellipse cx="496.9" cy="627.9" rx="3.3" ry="2.8" opacity="0.34" transform="rotate(96.8 496.9 627.9)"/><ellipse cx="513.1" cy="585.9" rx="2.61" ry="2.4" opacity="0.29" transform="rotate(48 513.1 585.9)"/><ellipse cx="523.6" cy="591.4" rx="2.16" ry="2.16" opacity="0.28" transform="rotate(33.7 523.6 591.4)"/><ellipse cx="530.3" cy="613.5" rx="2.36" ry="2.31" opacity="0.44" transform="rotate(75 530.3 613.5)"/><ellipse cx="497.2" cy="610.8" rx="2.55" ry="2.32" opacity="0.56" transform="rotate(39 497.2 610.8)"/><ellipse cx="525.8" cy="632.3" rx="2.1" ry="2.05" opacity="0.33" transform="rotate(18.7 525.8 632.3)"/><ellipse cx="536" cy="645.2" rx="2.75" ry="2.32" opacity="0.26" transform="rotate(65.8 536 645.2)"/><ellipse cx="492.1" cy="631.2" rx="2.58" ry="2.4" opacity="0.3" transform="rotate(88.7 492.1 631.2)"/><ellipse cx="500.2" cy="616.6" rx="2.51" ry="2.48" opacity="0.32" transform="rotate(170.1 500.2 616.6)"/><ellipse cx="549.5" cy="600.3" rx="2.53" ry="2.22" opacity="0.28" transform="rotate(97.9 549.5 600.3)"/><ellipse cx="537.1" cy="602.4" rx="2.38" ry="2.01" opacity="0.45" transform="rotate(72.6 537.1 602.4)"/><ellipse cx="528.2" cy="635.4" rx="3.1" ry="2.76" opacity="0.39" transform="rotate(13.6 528.2 635.4)"/><ellipse cx="551.3" cy="620.5" rx="2.93" ry="2.47" opacity="0.41" transform="rotate(167.3 551.3 620.5)"/><ellipse cx="542.3" cy="598.3" rx="2.64" ry="2.24" opacity="0.41" transform="rotate(27.7 542.3 598.3)"/><ellipse cx="545.3" cy="601.5" rx="2.33" ry="2.31" opacity="0.3" transform="rotate(170.8 545.3 601.5)"/><ellipse cx="494.7" cy="603.4" rx="2.93" ry="2.4" opacity="0.44" transform="rotate(148.7 494.7 603.4)"/><ellipse cx="505.4" cy="615.4" rx="2.43" ry="2.35" opacity="0.72" transform="rotate(65.7 505.4 615.4)"/><ellipse cx="523.9" cy="645.5" rx="2.56" ry="2.12" opacity="0.3" transform="rotate(4.54 523.9 645.5)"/><ellipse cx="556" cy="589.4" rx="2.95" ry="2.79" opacity="0.28" transform="rotate(68.6 556 589.4)"/><ellipse cx="528.9" cy="618.6" rx="3.37" ry="2.81" opacity="0.33" transform="rotate(3.11 528.9 618.6)"/><ellipse cx="503.9" cy="631.9" rx="3.16" ry="2.84" opacity="0.43" transform="rotate(153.3 503.9 631.9)"/><ellipse cx="487.3" cy="589.3" rx="2.7" ry="2.21" opacity="0.44" transform="rotate(41.1 487.3 589.3)"/><ellipse cx="515.6" cy="622.9" rx="2.36" ry="2.2" opacity="0.31" transform="rotate(24.8 515.6 622.9)"/><ellipse cx="492.2" cy="611.7" rx="3.3" ry="2.78" opacity="0.38" transform="rotate(3.01 492.2 611.7)"/><ellipse cx="521.4" cy="638.4" rx="2.28" ry="2.03" opacity="0.24" transform="rotate(108.7 521.4 638.4)"/><ellipse cx="544.4" cy="623.2" rx="2.55" ry="2.49" opacity="0.44" transform="rotate(165.4 544.4 623.2)"/><ellipse cx="557.3" cy="600.7" rx="2.64" ry="2.13" opacity="0.35" transform="rotate(90.1 557.3 600.7)"/><ellipse cx="522.7" cy="615.7" rx="2.55" ry="2.1" opacity="0.35" transform="rotate(100.9 522.7 615.7)"/><ellipse cx="525.3" cy="640.5" rx="2.7" ry="2.44" opacity="0.34" transform="rotate(27.3 525.3 640.5)"/><ellipse cx="533" cy="599" rx="2.75" ry="2.48" opacity="0.42" transform="rotate(118 533 599)"/><ellipse cx="522.5" cy="630.1" rx="2.52" ry="2.19" opacity="0.38" transform="rotate(18.7 522.5 630.1)"/><ellipse cx="543.5" cy="627.2" rx="2.57" ry="2.36" opacity="0.33" transform="rotate(179.8 543.5 627.2)"/><ellipse cx="554" cy="612.5" rx="2.56" ry="2.12" opacity="0.34" transform="rotate(71.4 554 612.5)"/><ellipse cx="510.7" cy="606.2" rx="2.47" ry="2.21" opacity="0.29" transform="rotate(29.4 510.7 606.2)"/><ellipse cx="520.1" cy="589.3" rx="2.85" ry="2.63" opacity="0.64" transform="rotate(3.47 520.1 589.3)"/><ellipse cx="507.9" cy="631.8" rx="3.18" ry="2.69" opacity="0.44" transform="rotate(90.9 507.9 631.8)"/><ellipse cx="497.6" cy="639.4" rx="3.15" ry="2.67" opacity="0.35" transform="rotate(99 497.6 639.4)"/><ellipse cx="553.5" cy="582.1" rx="2.78" ry="2.39" opacity="0.24" transform="rotate(86.8 553.5 582.1)"/><ellipse cx="501.5" cy="606.5" rx="2.43" ry="2.05" opacity="0.3" transform="rotate(62.3 501.5 606.5)"/><ellipse cx="510" cy="643.3" rx="2.81" ry="2.37" opacity="0.44" transform="rotate(15.4 510 643.3)"/><ellipse cx="527.3" cy="644.7" rx="2.89" ry="2.36" opacity="0.28" transform="rotate(156.8 527.3 644.7)"/><ellipse cx="556.7" cy="619" rx="2.64" ry="2.24" opacity="0.68" transform="rotate(64.7 556.7 619)"/><ellipse cx="527.2" cy="584.5" rx="2.48" ry="2.46" opacity="0.35" transform="rotate(102.5 527.2 584.5)"/><ellipse cx="554.9" cy="626.9" rx="3.32" ry="2.65" opacity="0.41" transform="rotate(27.8 554.9 626.9)"/><ellipse cx="547.9" cy="584.5" rx="2.62" ry="2.53" opacity="0.32" transform="rotate(145.3 547.9 584.5)"/><ellipse cx="531.6" cy="632.1" rx="2.56" ry="2.06" opacity="0.3" transform="rotate(87.7 531.6 632.1)"/><ellipse cx="504.6" cy="603.6" rx="2.5" ry="2.2" opacity="0.24" transform="rotate(23.3 504.6 603.6)"/><ellipse cx="532.2" cy="640.7" rx="2.83" ry="2.64" opacity="0.34" transform="rotate(37.7 532.2 640.7)"/><ellipse cx="510.9" cy="629.2" rx="2.26" ry="2.04" opacity="0.4" transform="rotate(49 510.9 629.2)"/><ellipse cx="491" cy="583.7" rx="3.04" ry="2.57" opacity="0.67" transform="rotate(24.8 491 583.7)"/><ellipse cx="537.8" cy="614.9" rx="2.83" ry="2.8" opacity="0.35" transform="rotate(16.1 537.8 614.9)"/><ellipse cx="497.8" cy="592" rx="2.67" ry="2.49" opacity="0.42" transform="rotate(4.11 497.8 592)"/><ellipse cx="519.9" cy="598.3" rx="2.67" ry="2.49" opacity="0.35" transform="rotate(59.5 519.9 598.3)"/><ellipse cx="520.1" cy="602" rx="2.83" ry="2.76" opacity="0.33" transform="rotate(36.3 520.1 602)"/><ellipse cx="510.6" cy="611.1" rx="2.83" ry="2.62" opacity="0.6" transform="rotate(138.7 510.6 611.1)"/><ellipse cx="486.3" cy="629.6" rx="2.99" ry="2.59" opacity="0.39" transform="rotate(130.4 486.3 629.6)"/><ellipse cx="504" cy="610" rx="2.75" ry="2.68" opacity="0.24" transform="rotate(48.4 504 610)"/><ellipse cx="557" cy="638.4" rx="2.88" ry="2.55" opacity="0.34" transform="rotate(163.7 557 638.4)"/><ellipse cx="545.9" cy="611.5" rx="3" ry="2.43" opacity="0.42" transform="rotate(38.8 545.9 611.5)"/><ellipse cx="501" cy="634.1" rx="2.92" ry="2.5" opacity="0.45" transform="rotate(122.9 501 634.1)"/><ellipse cx="534.2" cy="590.5" rx="2.42" ry="2.09" opacity="0.44" transform="rotate(56.4 534.2 590.5)"/><ellipse cx="544.5" cy="588.4" rx="2.7" ry="2.69" opacity="0.24" transform="rotate(16.9 544.5 588.4)"/><ellipse cx="553.7" cy="634.9" rx="2.92" ry="2.77" opacity="0.34" transform="rotate(27.3 553.7 634.9)"/><ellipse cx="526.3" cy="627.7" rx="2.41" ry="2.14" opacity="0.26" transform="rotate(172 526.3 627.7)"/><ellipse cx="540.8" cy="644.6" rx="2.42" ry="2.17" opacity="0.61" transform="rotate(151.6 540.8 644.6)"/><ellipse cx="516" cy="614.6" rx="2.84" ry="2.39" opacity="0.38" transform="rotate(38.2 516 614.6)"/><ellipse cx="502.7" cy="643" rx="2.71" ry="2.51" opacity="0.67" transform="rotate(130.6 502.7 643)"/><ellipse cx="511.5" cy="591" rx="2.98" ry="2.67" opacity="0.36" transform="rotate(11.3 511.5 591)"/><ellipse cx="528.3" cy="605.3" rx="2.75" ry="2.27" opacity="0.35" transform="rotate(101.4 528.3 605.3)"/><ellipse cx="546.4" cy="605.7" rx="2.73" ry="2.57" opacity="0.25" transform="rotate(161.2 546.4 605.7)"/><ellipse cx="523.3" cy="587.2" rx="3.08" ry="2.62" opacity="0.38" transform="rotate(92.7 523.3 587.2)"/><ellipse cx="550.3" cy="614.9" rx="2.74" ry="2.36" opacity="0.44" transform="rotate(115.3 550.3 614.9)"/><ellipse cx="495.8" cy="584.5" rx="2.54" ry="2.15" opacity="0.25" transform="rotate(71.4 495.8 584.5)"/><ellipse cx="538.9" cy="627.9" rx="2.87" ry="2.79" opacity="0.4" transform="rotate(148.1 538.9 627.9)"/><ellipse cx="539.6" cy="586.5" rx="2.34" ry="2.13" opacity="0.38" transform="rotate(122.5 539.6 586.5)"/><ellipse cx="519.7" cy="606.6" rx="2.75" ry="2.2" opacity="0.68" transform="rotate(54.3 519.7 606.6)"/><ellipse cx="507.4" cy="609.5" rx="3.18" ry="2.76" opacity="0.31" transform="rotate(74.7 507.4 609.5)"/><ellipse cx="540.6" cy="593.8" rx="2.29" ry="2.23" opacity="0.35" transform="rotate(179.6 540.6 593.8)"/><ellipse cx="503.3" cy="584" rx="2.8" ry="2.31" opacity="0.27" transform="rotate(140 503.3 584)"/><ellipse cx="491.1" cy="619.7" rx="2.21" ry="2.03" opacity="0.25" transform="rotate(59.9 491.1 619.7)"/><ellipse cx="531.1" cy="595.3" rx="3.49" ry="2.82" opacity="0.33" transform="rotate(175.4 531.1 595.3)"/><ellipse cx="495.2" cy="635.3" rx="2.36" ry="2.28" opacity="0.31" transform="rotate(38.9 495.2 635.3)"/><ellipse cx="557.4" cy="614.5" rx="2.58" ry="2.29" opacity="0.38" transform="rotate(97.4 557.4 614.5)"/><ellipse cx="488.6" cy="593.2" rx="2.35" ry="2.16" opacity="0.34" transform="rotate(118.7 488.6 593.2)"/><ellipse cx="518" cy="645.1" rx="2.82" ry="2.27" opacity="0.42" transform="rotate(5.68 518 645.1)"/><ellipse cx="490.6" cy="623.4" rx="2.69" ry="2.65" opacity="0.39" transform="rotate(4.21 490.6 623.4)"/><ellipse cx="507.8" cy="600.7" rx="2.75" ry="2.74" opacity="0.43" transform="rotate(166.4 507.8 600.7)"/><ellipse cx="527.2" cy="596.9" rx="2.8" ry="2.41" opacity="0.39" transform="rotate(78 527.2 596.9)"/><ellipse cx="513.7" cy="627.3" rx="3" ry="2.65" opacity="0.31" transform="rotate(141.2 513.7 627.3)"/><ellipse cx="557.3" cy="607.8" rx="3.27" ry="2.64" opacity="0.24" transform="rotate(22.8 557.3 607.8)"/><ellipse cx="533.2" cy="621.6" rx="2.15" ry="2.06" opacity="0.32" transform="rotate(101.3 533.2 621.6)"/><ellipse cx="508.3" cy="621.4" rx="2.03" ry="2" opacity="0.33" transform="rotate(27.8 508.3 621.4)"/><ellipse cx="488.4" cy="642.6" rx="2.88" ry="2.76" opacity="0.43" transform="rotate(101 488.4 642.6)"/><ellipse cx="521.7" cy="620.5" rx="2.31" ry="2.09" opacity="0.38" transform="rotate(162.6 521.7 620.5)"/><ellipse cx="547.6" cy="597.3" rx="2.42" ry="2.3" opacity="0.29" transform="rotate(35.1 547.6 597.3)"/><ellipse cx="511.1" cy="617.6" rx="3.05" ry="2.59" opacity="0.24" transform="rotate(140.9 511.1 617.6)"/><ellipse cx="551.8" cy="630.9" rx="2.51" ry="2.32" opacity="0.24" transform="rotate(134.3 551.8 630.9)"/><ellipse cx="516.1" cy="587.9" rx="2.72" ry="2.28" opacity="0.32" transform="rotate(71.2 516.1 587.9)"/><ellipse cx="529" cy="625.1" rx="2.59" ry="2.59" opacity="0.31" transform="rotate(51.7 529 625.1)"/><ellipse cx="493.8" cy="641.3" rx="3.02" ry="2.44" opacity="0.24" transform="rotate(91.3 493.8 641.3)"/><ellipse cx="498.2" cy="644.7" rx="2.74" ry="2.6" opacity="0.26" transform="rotate(62.7 498.2 644.7)"/><ellipse cx="495.8" cy="625.1" rx="1.28" ry="1.28" opacity="1" transform="rotate(0 495.8 625.1)"/><ellipse cx="532.6" cy="605.3" rx="1.56" ry="1.56" opacity="1" transform="rotate(0 532.6 605.3)"/><ellipse cx="551.2" cy="622.1" rx="1.81" ry="1.81" opacity="1" transform="rotate(0 551.2 622.1)"/><ellipse cx="501.4" cy="589.8" rx="1.64" ry="1.64" opacity="1" transform="rotate(0 501.4 589.8)"/><ellipse cx="553.4" cy="599.4" rx="1.67" ry="1.67" opacity="1" transform="rotate(0 553.4 599.4)"/></g>
<rect x="410.1" y="647.2" width="71.6" height="63.8" fill="#030303"/>
<g clip-path="url(#c15)" fill="url(#gw)"><ellipse cx="454.3" cy="704" rx="2.12" ry="1.92" opacity="0.26" transform="rotate(150.7 454.3 704)"/><ellipse cx="442.8" cy="692.6" rx="2.05" ry="1.7" opacity="0.15" transform="rotate(98.6 442.8 692.6)"/><ellipse cx="477.2" cy="680.4" rx="2.22" ry="1.95" opacity="0.25" transform="rotate(109.3 477.2 680.4)"/><ellipse cx="462.6" cy="693.6" rx="2.05" ry="2" opacity="0.28" transform="rotate(90.4 462.6 693.6)"/><ellipse cx="471.5" cy="649.5" rx="2.11" ry="2.02" opacity="0.16" transform="rotate(144.7 471.5 649.5)"/><ellipse cx="422.2" cy="710.8" rx="2.08" ry="1.85" opacity="0.2" transform="rotate(70.4 422.2 710.8)"/><ellipse cx="463.6" cy="663.9" rx="2.29" ry="2.05" opacity="0.23" transform="rotate(36.6 463.6 663.9)"/><ellipse cx="463.3" cy="658" rx="2.64" ry="2.3" opacity="0.27" transform="rotate(78.1 463.3 658)"/><ellipse cx="435.9" cy="675.3" rx="1.84" ry="1.71" opacity="0.19" transform="rotate(169.3 435.9 675.3)"/><ellipse cx="426.5" cy="656" rx="2.13" ry="1.97" opacity="0.16" transform="rotate(4.08 426.5 656)"/><ellipse cx="446.4" cy="688.5" rx="2.3" ry="2.07" opacity="0.24" transform="rotate(163.2 446.4 688.5)"/><ellipse cx="432.9" cy="689.3" rx="1.97" ry="1.79" opacity="0.21" transform="rotate(111.1 432.9 689.3)"/><ellipse cx="480.4" cy="650.7" rx="2.51" ry="2.24" opacity="0.26" transform="rotate(137.1 480.4 650.7)"/><ellipse cx="430" cy="653" rx="2.05" ry="1.73" opacity="0.25" transform="rotate(173.1 430 653)"/><ellipse cx="458.6" cy="673.5" rx="1.77" ry="1.62" opacity="0.24" transform="rotate(8.95 458.6 673.5)"/><ellipse cx="441.6" cy="663" rx="2.37" ry="2.32" opacity="0.23" transform="rotate(94.1 441.6 663)"/><ellipse cx="442.1" cy="699.8" rx="1.88" ry="1.71" opacity="0.27" transform="rotate(178.5 442.1 699.8)"/><ellipse cx="426.7" cy="669.2" rx="2.1" ry="1.71" opacity="0.19" transform="rotate(165.6 426.7 669.2)"/><ellipse cx="478.7" cy="661.8" rx="2.19" ry="1.89" opacity="0.32" transform="rotate(164.6 478.7 661.8)"/><ellipse cx="420.4" cy="649.3" rx="1.88" ry="1.74" opacity="0.21" transform="rotate(59.6 420.4 649.3)"/><ellipse cx="458.2" cy="699.6" rx="2.3" ry="2.2" opacity="0.25" transform="rotate(12.4 458.2 699.6)"/><ellipse cx="413.8" cy="677.7" rx="2.6" ry="2.33" opacity="0.17" transform="rotate(57.7 413.8 677.7)"/><ellipse cx="438.5" cy="668.1" rx="2.52" ry="2.15" opacity="0.15" transform="rotate(100.5 438.5 668.1)"/><ellipse cx="420.2" cy="706" rx="2.26" ry="1.88" opacity="0.18" transform="rotate(1.78 420.2 706)"/><ellipse cx="424.4" cy="681.3" rx="2.82" ry="2.27" opacity="0.26" transform="rotate(21.3 424.4 681.3)"/><ellipse cx="456" cy="689.1" rx="2.06" ry="1.75" opacity="0.15" transform="rotate(98 456 689.1)"/><ellipse cx="444.1" cy="680.6" rx="2.15" ry="1.85" opacity="0.22" transform="rotate(44.8 444.1 680.6)"/><ellipse cx="463.1" cy="674.2" rx="1.93" ry="1.67" opacity="0.22" transform="rotate(172.4 463.1 674.2)"/><ellipse cx="438" cy="652.1" rx="2.35" ry="2.16" opacity="0.25" transform="rotate(92.2 438 652.1)"/><ellipse cx="419.1" cy="688.8" rx="2.16" ry="2.02" opacity="0.15" transform="rotate(37.8 419.1 688.8)"/><ellipse cx="426.5" cy="676.6" rx="2.04" ry="1.92" opacity="0.15" transform="rotate(174.1 426.5 676.6)"/><ellipse cx="454.8" cy="678.2" rx="1.74" ry="1.66" opacity="0.16" transform="rotate(82.1 454.8 678.2)"/><ellipse cx="426.5" cy="700.6" rx="2.13" ry="1.78" opacity="0.17" transform="rotate(87.5 426.5 700.6)"/><ellipse cx="450.3" cy="655.7" rx="2.81" ry="2.3" opacity="0.24" transform="rotate(126.1 450.3 655.7)"/><ellipse cx="461.9" cy="681.5" rx="2.42" ry="1.95" opacity="0.16" transform="rotate(113.7 461.9 681.5)"/><ellipse cx="437" cy="663.8" rx="2.91" ry="2.37" opacity="0.41" transform="rotate(160.7 437 663.8)"/><ellipse cx="476.2" cy="690" rx="2.42" ry="2.03" opacity="0.19" transform="rotate(0.1 476.2 690)"/><ellipse cx="468.3" cy="705.3" rx="2.62" ry="2.34" opacity="0.21" transform="rotate(3.16 468.3 705.3)"/><ellipse cx="448.2" cy="674.7" rx="2.21" ry="2.07" opacity="0.25" transform="rotate(131.4 448.2 674.7)"/><ellipse cx="470.9" cy="695.3" rx="2.69" ry="2.16" opacity="0.36" transform="rotate(69.1 470.9 695.3)"/><ellipse cx="413.9" cy="664" rx="2.07" ry="1.67" opacity="0.21" transform="rotate(131.7 413.9 664)"/><ellipse cx="449.9" cy="648.8" rx="2.49" ry="2.1" opacity="0.17" transform="rotate(68.9 449.9 648.8)"/><ellipse cx="453.2" cy="667.7" rx="2.29" ry="1.92" opacity="0.19" transform="rotate(25.7 453.2 667.7)"/><ellipse cx="437.3" cy="684" rx="2.27" ry="1.85" opacity="0.15" transform="rotate(172.5 437.3 684)"/><ellipse cx="413.6" cy="700.5" rx="2.05" ry="1.65" opacity="0.25" transform="rotate(109.1 413.6 700.5)"/><ellipse cx="449.6" cy="699.4" rx="1.94" ry="1.66" opacity="0.27" transform="rotate(13.8 449.6 699.4)"/><ellipse cx="465.8" cy="689.7" rx="2.37" ry="2.14" opacity="0.15" transform="rotate(157.7 465.8 689.7)"/><ellipse cx="410.4" cy="696.8" rx="2.02" ry="1.64" opacity="0.35" transform="rotate(120.3 410.4 696.8)"/><ellipse cx="480.7" cy="673.3" rx="2.24" ry="2" opacity="0.25" transform="rotate(175.9 480.7 673.3)"/><ellipse cx="419.8" cy="682" rx="1.96" ry="1.77" opacity="0.18" transform="rotate(152.5 419.8 682)"/><ellipse cx="454.2" cy="662.2" rx="2.06" ry="1.7" opacity="0.21" transform="rotate(142.2 454.2 662.2)"/><ellipse cx="457.6" cy="693.9" rx="2.17" ry="2.12" opacity="0.19" transform="rotate(157.8 457.6 693.9)"/><ellipse cx="431.2" cy="660.6" rx="2.3" ry="2.01" opacity="0.38" transform="rotate(138.9 431.2 660.6)"/><ellipse cx="442.4" cy="674.5" rx="2.46" ry="1.99" opacity="0.24" transform="rotate(139 442.4 674.5)"/><ellipse cx="451.7" cy="685.4" rx="1.93" ry="1.72" opacity="0.19" transform="rotate(133.9 451.7 685.4)"/><ellipse cx="444.9" cy="655.6" rx="2.23" ry="2.15" opacity="0.19" transform="rotate(176.2 444.9 655.6)"/><ellipse cx="472.4" cy="672.9" rx="2.67" ry="2.23" opacity="0.26" transform="rotate(56.7 472.4 672.9)"/><ellipse cx="452.5" cy="695.6" rx="2.46" ry="2.21" opacity="0.16" transform="rotate(170.5 452.5 695.6)"/><ellipse cx="457.1" cy="651.8" rx="2.04" ry="1.7" opacity="0.18" transform="rotate(72.6 457.1 651.8)"/><ellipse cx="411" cy="655.5" rx="2.17" ry="2" opacity="0.24" transform="rotate(111.7 411 655.5)"/><ellipse cx="468.2" cy="700.1" rx="2.82" ry="2.34" opacity="0.32" transform="rotate(162.9 468.2 700.1)"/><ellipse cx="444.4" cy="707.3" rx="2.41" ry="1.94" opacity="0.26" transform="rotate(24.2 444.4 707.3)"/><ellipse cx="438.2" cy="689.4" rx="2.8" ry="2.27" opacity="0.22" transform="rotate(8.04 438.2 689.4)"/><ellipse cx="418.6" cy="671" rx="2.01" ry="1.99" opacity="0.26" transform="rotate(103.8 418.6 671)"/><ellipse cx="433.3" cy="706.7" rx="2.11" ry="2.06" opacity="0.27" transform="rotate(146 433.3 706.7)"/><ellipse cx="480.2" cy="709" rx="2.16" ry="1.92" opacity="0.21" transform="rotate(157.4 480.2 709)"/><ellipse cx="437.1" cy="709.7" rx="1.73" ry="1.64" opacity="0.37" transform="rotate(17.3 437.1 709.7)"/><ellipse cx="474.5" cy="705.3" rx="2.79" ry="2.3" opacity="0.19" transform="rotate(64.3 474.5 705.3)"/><ellipse cx="467.8" cy="658" rx="1.87" ry="1.73" opacity="0.17" transform="rotate(97.8 467.8 658)"/><ellipse cx="471.7" cy="683" rx="2" ry="1.79" opacity="0.2" transform="rotate(76 471.7 683)"/><ellipse cx="457.6" cy="691.5" rx="1.22" ry="1.22" opacity="0.87" transform="rotate(0 457.6 691.5)"/><ellipse cx="469.1" cy="684.2" rx="1.15" ry="1.15" opacity="1" transform="rotate(0 469.1 684.2)"/><ellipse cx="476" cy="684.8" rx="1.13" ry="1.13" opacity="1" transform="rotate(0 476 684.8)"/><ellipse cx="444.9" cy="676" rx="1.16" ry="1.16" opacity="1" transform="rotate(0 444.9 676)"/><ellipse cx="418.9" cy="652.2" rx="0.92" ry="0.92" opacity="1" transform="rotate(0 418.9 652.2)"/><ellipse cx="438.1" cy="693.3" rx="1.25" ry="1.25" opacity="0.92" transform="rotate(0 438.1 693.3)"/><ellipse cx="457.3" cy="670.7" rx="1.3" ry="1.3" opacity="1" transform="rotate(0 457.3 670.7)"/></g>
<rect x="486.3" y="647.2" width="72.2" height="63.8" fill="#030303"/>
<g clip-path="url(#c16)" fill="url(#gw)"><ellipse cx="552.3" cy="656" rx="1.68" ry="1.65" opacity="0.25" transform="rotate(104.1 552.3 656)"/><ellipse cx="526.4" cy="678" rx="1.78" ry="1.76" opacity="0.27" transform="rotate(103.2 526.4 678)"/><ellipse cx="555.5" cy="671.5" rx="2.54" ry="2.27" opacity="0.33" transform="rotate(121.8 555.5 671.5)"/><ellipse cx="518.5" cy="684" rx="2.12" ry="2.1" opacity="0.18" transform="rotate(123.3 518.5 684)"/><ellipse cx="513.9" cy="705.4" rx="2.55" ry="2.07" opacity="0.17" transform="rotate(103 513.9 705.4)"/><ellipse cx="549.7" cy="693.4" rx="2.28" ry="1.89" opacity="0.17" transform="rotate(94.4 549.7 693.4)"/><ellipse cx="490.3" cy="710.3" rx="2.3" ry="2.17" opacity="0.38" transform="rotate(132.5 490.3 710.3)"/><ellipse cx="525.9" cy="685.3" rx="2.38" ry="2.28" opacity="0.23" transform="rotate(152.8 525.9 685.3)"/><ellipse cx="553.5" cy="664.6" rx="2.09" ry="1.8" opacity="0.3" transform="rotate(34.1 553.5 664.6)"/><ellipse cx="496.6" cy="711" rx="2.73" ry="2.34" opacity="0.24" transform="rotate(127.5 496.6 711)"/><ellipse cx="505.2" cy="664.9" rx="2.72" ry="2.24" opacity="0.17" transform="rotate(26.8 505.2 664.9)"/><ellipse cx="513.4" cy="648" rx="2.54" ry="2.29" opacity="0.27" transform="rotate(115.3 513.4 648)"/><ellipse cx="487.8" cy="704.1" rx="2.23" ry="2.04" opacity="0.25" transform="rotate(176.8 487.8 704.1)"/><ellipse cx="539.3" cy="655.9" rx="2.72" ry="2.23" opacity="0.27" transform="rotate(143.8 539.3 655.9)"/><ellipse cx="503.8" cy="709.8" rx="2.08" ry="1.83" opacity="0.27" transform="rotate(7.91 503.8 709.8)"/><ellipse cx="536.9" cy="675.7" rx="2.5" ry="2.08" opacity="0.22" transform="rotate(158.8 536.9 675.7)"/><ellipse cx="528.1" cy="709.9" rx="2.73" ry="2.25" opacity="0.24" transform="rotate(63.4 528.1 709.9)"/><ellipse cx="503.6" cy="687.5" rx="1.77" ry="1.68" opacity="0.34" transform="rotate(79.8 503.6 687.5)"/><ellipse cx="487.5" cy="678.1" rx="1.83" ry="1.69" opacity="0.21" transform="rotate(152.1 487.5 678.1)"/><ellipse cx="514.7" cy="674.4" rx="1.89" ry="1.76" opacity="0.26" transform="rotate(144.5 514.7 674.4)"/><ellipse cx="550.9" cy="670.5" rx="1.97" ry="1.72" opacity="0.26" transform="rotate(31.3 550.9 670.5)"/><ellipse cx="552.9" cy="701" rx="1.86" ry="1.82" opacity="0.24" transform="rotate(31.5 552.9 701)"/><ellipse cx="507.6" cy="669.8" rx="2.04" ry="1.77" opacity="0.23" transform="rotate(126.5 507.6 669.8)"/><ellipse cx="502.9" cy="676.7" rx="2.09" ry="1.84" opacity="0.2" transform="rotate(84.9 502.9 676.7)"/><ellipse cx="522.1" cy="669.3" rx="2.34" ry="1.94" opacity="0.2" transform="rotate(148 522.1 669.3)"/><ellipse cx="542.8" cy="698.1" rx="1.71" ry="1.68" opacity="0.26" transform="rotate(105.3 542.8 698.1)"/><ellipse cx="543.4" cy="706.6" rx="2.84" ry="2.33" opacity="0.27" transform="rotate(112.6 543.4 706.6)"/><ellipse cx="530" cy="671.7" rx="2.02" ry="1.84" opacity="0.19" transform="rotate(63.6 530 671.7)"/><ellipse cx="516.7" cy="655.7" rx="2.5" ry="2.32" opacity="0.25" transform="rotate(173.3 516.7 655.7)"/><ellipse cx="548.8" cy="684.1" rx="2.03" ry="1.84" opacity="0.19" transform="rotate(142.8 548.8 684.1)"/><ellipse cx="493.4" cy="681.4" rx="2.74" ry="2.37" opacity="0.29" transform="rotate(104.1 493.4 681.4)"/><ellipse cx="510.8" cy="698.6" rx="1.87" ry="1.72" opacity="0.22" transform="rotate(36.2 510.8 698.6)"/><ellipse cx="542.1" cy="682.7" rx="2.45" ry="2.11" opacity="0.29" transform="rotate(109.8 542.1 682.7)"/><ellipse cx="500.8" cy="655" rx="2.21" ry="2.06" opacity="0.23" transform="rotate(170.8 500.8 655)"/><ellipse cx="499.1" cy="691.8" rx="2.15" ry="1.75" opacity="0.27" transform="rotate(2.78 499.1 691.8)"/><ellipse cx="526.6" cy="655.4" rx="2.44" ry="2.12" opacity="0.28" transform="rotate(1.2 526.6 655.4)"/><ellipse cx="509.2" cy="661" rx="2.03" ry="1.73" opacity="0.17" transform="rotate(52.8 509.2 661)"/><ellipse cx="544.4" cy="663.8" rx="2.39" ry="2.1" opacity="0.23" transform="rotate(27.8 544.4 663.8)"/><ellipse cx="539.4" cy="647.5" rx="2.9" ry="2.36" opacity="0.24" transform="rotate(126 539.4 647.5)"/><ellipse cx="531.6" cy="659" rx="1.72" ry="1.71" opacity="0.16" transform="rotate(51.1 531.6 659)"/><ellipse cx="549.1" cy="677.1" rx="2.19" ry="2.08" opacity="0.21" transform="rotate(144.9 549.1 677.1)"/><ellipse cx="491.9" cy="649.5" rx="2.65" ry="2.37" opacity="0.22" transform="rotate(151.1 491.9 649.5)"/><ellipse cx="518.5" cy="705.9" rx="2.61" ry="2.27" opacity="0.28" transform="rotate(28.4 518.5 705.9)"/><ellipse cx="490.3" cy="689.9" rx="2.27" ry="2.21" opacity="0.24" transform="rotate(160.6 490.3 689.9)"/><ellipse cx="513.1" cy="682.3" rx="2.24" ry="1.95" opacity="0.19" transform="rotate(112.8 513.1 682.3)"/><ellipse cx="503.1" cy="649" rx="2.25" ry="2" opacity="0.23" transform="rotate(60.9 503.1 649)"/><ellipse cx="497" cy="704.1" rx="1.97" ry="1.92" opacity="0.24" transform="rotate(70.4 497 704.1)"/><ellipse cx="502.7" cy="670.4" rx="2.16" ry="1.86" opacity="0.17" transform="rotate(154.2 502.7 670.4)"/><ellipse cx="540.1" cy="710.9" rx="2.46" ry="2.32" opacity="0.28" transform="rotate(119 540.1 710.9)"/><ellipse cx="557.4" cy="698.6" rx="2.35" ry="2.34" opacity="0.26" transform="rotate(33 557.4 698.6)"/><ellipse cx="494.5" cy="687.9" rx="2.38" ry="1.91" opacity="0.21" transform="rotate(97.5 494.5 687.9)"/><ellipse cx="538.8" cy="664.6" rx="2.35" ry="1.9" opacity="0.25" transform="rotate(143.4 538.8 664.6)"/><ellipse cx="535.5" cy="695.8" rx="1.9" ry="1.65" opacity="0.2" transform="rotate(59.9 535.5 695.8)"/><ellipse cx="487.1" cy="663.5" rx="2.1" ry="1.79" opacity="0.18" transform="rotate(6.62 487.1 663.5)"/><ellipse cx="521.4" cy="651.1" rx="2.13" ry="1.8" opacity="0.29" transform="rotate(79.5 521.4 651.1)"/><ellipse cx="556.2" cy="676.1" rx="1.8" ry="1.67" opacity="0.28" transform="rotate(161.7 556.2 676.1)"/><ellipse cx="517.7" cy="660.3" rx="2.11" ry="1.78" opacity="0.45" transform="rotate(128.2 517.7 660.3)"/><ellipse cx="544.1" cy="674.2" rx="2.71" ry="2.29" opacity="0.26" transform="rotate(149.4 544.1 674.2)"/><ellipse cx="508.7" cy="656.5" rx="2" ry="1.98" opacity="0.19" transform="rotate(159.8 508.7 656.5)"/><ellipse cx="545.5" cy="669.2" rx="2.22" ry="1.83" opacity="0.26" transform="rotate(35.3 545.5 669.2)"/><ellipse cx="537.7" cy="669.8" rx="2.14" ry="1.83" opacity="0.26" transform="rotate(79.1 537.7 669.8)"/><ellipse cx="498" cy="668.7" rx="2.89" ry="2.37" opacity="0.31" transform="rotate(66.6 498 668.7)"/><ellipse cx="551.3" cy="708" rx="1.89" ry="1.76" opacity="0.18" transform="rotate(84.8 551.3 708)"/><ellipse cx="493.9" cy="653.9" rx="2.4" ry="2.07" opacity="0.42" transform="rotate(138.5 493.9 653.9)"/><ellipse cx="521.5" cy="690.3" rx="2.89" ry="2.33" opacity="0.28" transform="rotate(169.9 521.5 690.3)"/><ellipse cx="552.5" cy="649.6" rx="2.18" ry="1.82" opacity="0.37" transform="rotate(61.5 552.5 649.6)"/><ellipse cx="490.2" cy="659.4" rx="2.05" ry="1.75" opacity="0.35" transform="rotate(153.6 490.2 659.4)"/><ellipse cx="501.3" cy="662.5" rx="1.78" ry="1.73" opacity="0.26" transform="rotate(34.7 501.3 662.5)"/><ellipse cx="492.7" cy="675.2" rx="2.14" ry="2.08" opacity="0.17" transform="rotate(176.9 492.7 675.2)"/><ellipse cx="546.3" cy="688" rx="2.04" ry="1.89" opacity="0.25" transform="rotate(92.8 546.3 688)"/><ellipse cx="521.5" cy="700.1" rx="2.22" ry="2" opacity="0.25" transform="rotate(110 521.5 700.1)"/><ellipse cx="539.2" cy="701.5" rx="2.57" ry="2.36" opacity="0.19" transform="rotate(142.1 539.2 701.5)"/><ellipse cx="523.7" cy="674.2" rx="2.21" ry="1.85" opacity="0.24" transform="rotate(63.3 523.7 674.2)"/><ellipse cx="498.4" cy="679.1" rx="2.36" ry="1.96" opacity="0.19" transform="rotate(35.4 498.4 679.1)"/><ellipse cx="546.5" cy="653.5" rx="2.66" ry="2.14" opacity="0.21" transform="rotate(49.8 546.5 653.5)"/><ellipse cx="551.5" cy="698.5" rx="1.04" ry="1.04" opacity="1" transform="rotate(0 551.5 698.5)"/><ellipse cx="518.8" cy="687.4" rx="1.1" ry="1.1" opacity="1" transform="rotate(0 518.8 687.4)"/><ellipse cx="516.5" cy="681" rx="1.25" ry="1.25" opacity="1" transform="rotate(0 516.5 681)"/><ellipse cx="492.8" cy="694.4" rx="1.24" ry="1.24" opacity="0.91" transform="rotate(0 492.8 694.4)"/><ellipse cx="528.9" cy="686.6" rx="0.98" ry="0.98" opacity="1" transform="rotate(0 528.9 686.6)"/><ellipse cx="540.4" cy="673.2" rx="0.96" ry="0.96" opacity="1" transform="rotate(0 540.4 673.2)"/><ellipse cx="499.4" cy="654.9" rx="0.94" ry="0.94" opacity="0.89" transform="rotate(0 499.4 654.9)"/><ellipse cx="499.4" cy="704.4" rx="1.12" ry="1.12" opacity="1" transform="rotate(0 499.4 704.4)"/></g>
<text x="568.8" y="572.3" font-size="14.2" font-weight="bold" text-anchor="start" fill="#000">K</text>
<line x1="614.9" y1="588.5" x2="614.9" y2="692" stroke="#000" stroke-width="1.25"/>
<line x1="614.3" y1="691.4" x2="683.2" y2="691.4" stroke="#000" stroke-width="1.25"/>
<line x1="610.3" y1="691.4" x2="614.9" y2="691.4" stroke="#000" stroke-width="1.25"/>
<line x1="610.3" y1="670.9" x2="614.9" y2="670.9" stroke="#000" stroke-width="1.25"/>
<line x1="610.3" y1="650.5" x2="614.9" y2="650.5" stroke="#000" stroke-width="1.25"/>
<line x1="610.3" y1="630" x2="614.9" y2="630" stroke="#000" stroke-width="1.25"/>
<line x1="610.3" y1="609.6" x2="614.9" y2="609.6" stroke="#000" stroke-width="1.25"/>
<line x1="610.3" y1="589.1" x2="614.9" y2="589.1" stroke="#000" stroke-width="1.25"/>
<line x1="634.3" y1="691.4" x2="634.3" y2="696" stroke="#000" stroke-width="1.25"/>
<line x1="663.5" y1="691.4" x2="663.5" y2="696" stroke="#000" stroke-width="1.25"/>
<text x="608.9" y="673.6" font-size="7.6" font-weight="bold" text-anchor="end">1×10<tspan font-size="4.7" dy="-2.05" dx="1.2">12</tspan></text>
<text x="608.9" y="653.2" font-size="7.6" font-weight="bold" text-anchor="end">2×10<tspan font-size="4.7" dy="-2.05" dx="1.2">12</tspan></text>
<text x="608.9" y="632.7" font-size="7.6" font-weight="bold" text-anchor="end">3×10<tspan font-size="4.7" dy="-2.05" dx="1.2">12</tspan></text>
<text x="608.9" y="612.3" font-size="7.6" font-weight="bold" text-anchor="end">4×10<tspan font-size="4.7" dy="-2.05" dx="1.2">12</tspan></text>
<text x="608.9" y="591.8" font-size="7.6" font-weight="bold" text-anchor="end">5×10<tspan font-size="4.7" dy="-2.05" dx="1.2">12</tspan></text>
<text x="608.9" y="694.1" font-size="7.4" font-weight="bold" text-anchor="end" fill="#000">0</text>
<text x="577.9" y="640" font-size="8.4" font-weight="bold" text-anchor="middle" fill="#000" transform="rotate(-90 577.9 640)">Peak Area (AU)</text>
<path d="M634 590.8V585.6H663.5V628" stroke="#000" stroke-width="1" fill="none"/>
<text x="648.9" y="583.6" font-size="5.4" font-weight="bold" text-anchor="middle" fill="#000">* * * *</text>
<text x="634.3" y="702" font-size="5.6" font-weight="bold" text-anchor="middle" fill="#000">Vehicle</text>
<text x="663.5" y="702" font-size="5.6" font-weight="bold" text-anchor="middle" fill="#000">Luteolin</text>
<text x="663.5" y="709.4" font-size="5.6" font-weight="bold" text-anchor="middle" fill="#000">(10µM)</text>
<path d="M636.9 663.6h0M634.4 661h0M634.1 679.3h0M633.3 632.5h0M639.3 648h0M628.2 665.7h0M626.3 660.6h0M632.5 641.6h0M632.2 647.4h0M634.6 668.5h0M634.2 636.8h0M636.3 642.6h0M629.1 655.1h0M633.8 675.6h0M634.2 629.8h0M632.1 666.4h0M642.7 660.8h0M636.7 659h0M631.3 673.6h0M637.3 673.7h0M634.8 651h0M639.8 663.3h0M637.3 666.4h0M630.9 670h0M638.1 654h0M642.7 663.1h0M630.7 638.8h0M635.7 633.8h0M638.6 643.5h0M628.9 650.8h0M626.8 656.4h0M634.4 645.8h0M634.6 640.8h0M626.1 663.9h0M634.5 663.1h0M640.2 667.6h0M641.4 657.3h0M635.1 655.6h0M629.7 662.2h0M635 625.9h0M632.8 644.3h0M636.6 638.6h0M631.9 653.2h0M628.3 659.3h0M634.8 682.3h0M629.7 668.3h0M630.6 643.7h0M639.9 652.4h0M631.2 660.2h0M638.9 658.2h0M636.5 645.5h0M636.4 676.3h0M638.5 661.1h0M638.3 671h0M632.8 657.4h0M634.6 673.6h0M637.1 648h0M637.9 656.3h0M630.4 657.4h0M636 652.8h0M636.1 671.8h0M632.5 677.4h0M638.5 639.8h0M629.6 648.6h0M633.6 622.7h0M631.6 635.9h0M633.2 638.9h0M631.8 663.7h0M637.1 668.6h0M632.5 668.6h0M637.3 650.1h0M634.3 648.9h0M633.2 671.4h0M635.3 665.4h0M627.5 667.7h0M635.3 631.6h0M632.6 651.1h0M636.3 636h0M629.9 646.3h0M640 665.5h0M629.6 653h0M634.6 658.8h0M638.2 637.1h0M640.6 660.4h0M630.4 640.9h0M641 655.1h0M633.6 627.7h0M632.6 655.3h0M633.7 634.6h0M625.8 658.4h0M634 653.8h0M638.6 645.9h0M630 671.9h0M642.1 665.6h0M639.7 650.1h0M627.5 662.4h0M630.3 665.2h0M636 678.4h0M643 658.7h0M635.3 644.6h0M633.5 596.9h0M635.2 597.3h0M634.6 601.4h0M634.3 605.5h0M633.1 612.6h0M635.5 613.2h0M634.3 613.7h0M634.6 618.8h0" stroke="#9ec6f7" stroke-width="2.4" stroke-linecap="round" fill="none"/>
<path d="M668.2 681.2h0M662.8 674.8h0M659.1 662.1h0M661.4 642.5h0M659.5 666h0M663.9 634.1h0M664.9 649.7h0M669.8 678.3h0M669.3 660.3h0M662.5 639.9h0M665.3 640h0M655.1 674.2h0M662.2 667.8h0M670 666.1h0M658.1 676.6h0M660.1 675.2h0M660.2 664h0M659.5 680.7h0M667.2 658.6h0M661.5 634.7h0M664.5 678.4h0M667.7 647h0M665 662.7h0M659.1 659.8h0M662.5 648.5h0M670.5 663.2h0M664.6 652h0M666.5 645h0M671.2 675.5h0M662.7 654.2h0M667.8 671.7h0M656.4 671.6h0M661.9 671.3h0M665.2 672.7h0M665.7 642.6h0M671 669h0M656.6 668.7h0M660.3 648.2h0M661.1 645h0M667.8 656.6h0M662.5 637.3h0M667.6 664.5h0M664 666.6h0M664 670.6h0M662.4 652h0M660.2 651.9h0M658.7 669.4h0M667.6 667.9h0M664.7 646.2h0M666.5 638.3h0M663.3 680.7h0M672.6 671.8h0M657.4 664.9h0M663.3 659.7h0M667.9 662.3h0M667.8 654.1h0M666 675.8h0M656.6 662.9h0M663.3 684.2h0M660.2 677.4h0M665.6 654.5h0M668.1 650.9h0M660.2 639.7h0M663 656.3h0M656.1 677.4h0M662.4 664.4h0M665.6 681.8h0M661.4 681.8h0M669.6 673.9h0M657.3 674.4h0M667.4 678.2h0M657.4 679.4h0M664.7 657.7h0M658.3 657.7h0M660.5 654.5h0M661.8 679.2h0M663.5 643.2h0M660.6 657.6h0M661.8 662.1h0M659.1 671.9h0M655.4 665.9h0M665.5 636.2h0M665.1 668.5h0M665.3 660.2h0M670.4 671.7h0M658.9 649.9h0M654.7 669.6h0M666 683.8h0M659.5 643.4h0M668.2 675.7h0M658.6 653.5h0M666.3 666.1h0M669 670h0M662.5 677h0M669.3 658.2h0M656.9 660.8h0M667.1 673.8h0M661 673.2h0M671.9 666.9h0M659.1 646h0M661 683.9h0M661.2 659.9h0M667 649.1h0M654.3 671.8h0M664 638.8h0M663.5 691.4h0" stroke="#ee9a3f" stroke-width="2.4" stroke-linecap="round" fill="none"/>
<line x1="624.4" y1="652.5" x2="643.8" y2="652.5" stroke="#222" stroke-width="0.9"/>
<line x1="653.7" y1="665.2" x2="673.4" y2="665.2" stroke="#222" stroke-width="0.9"/>
</svg>
</body></html>
